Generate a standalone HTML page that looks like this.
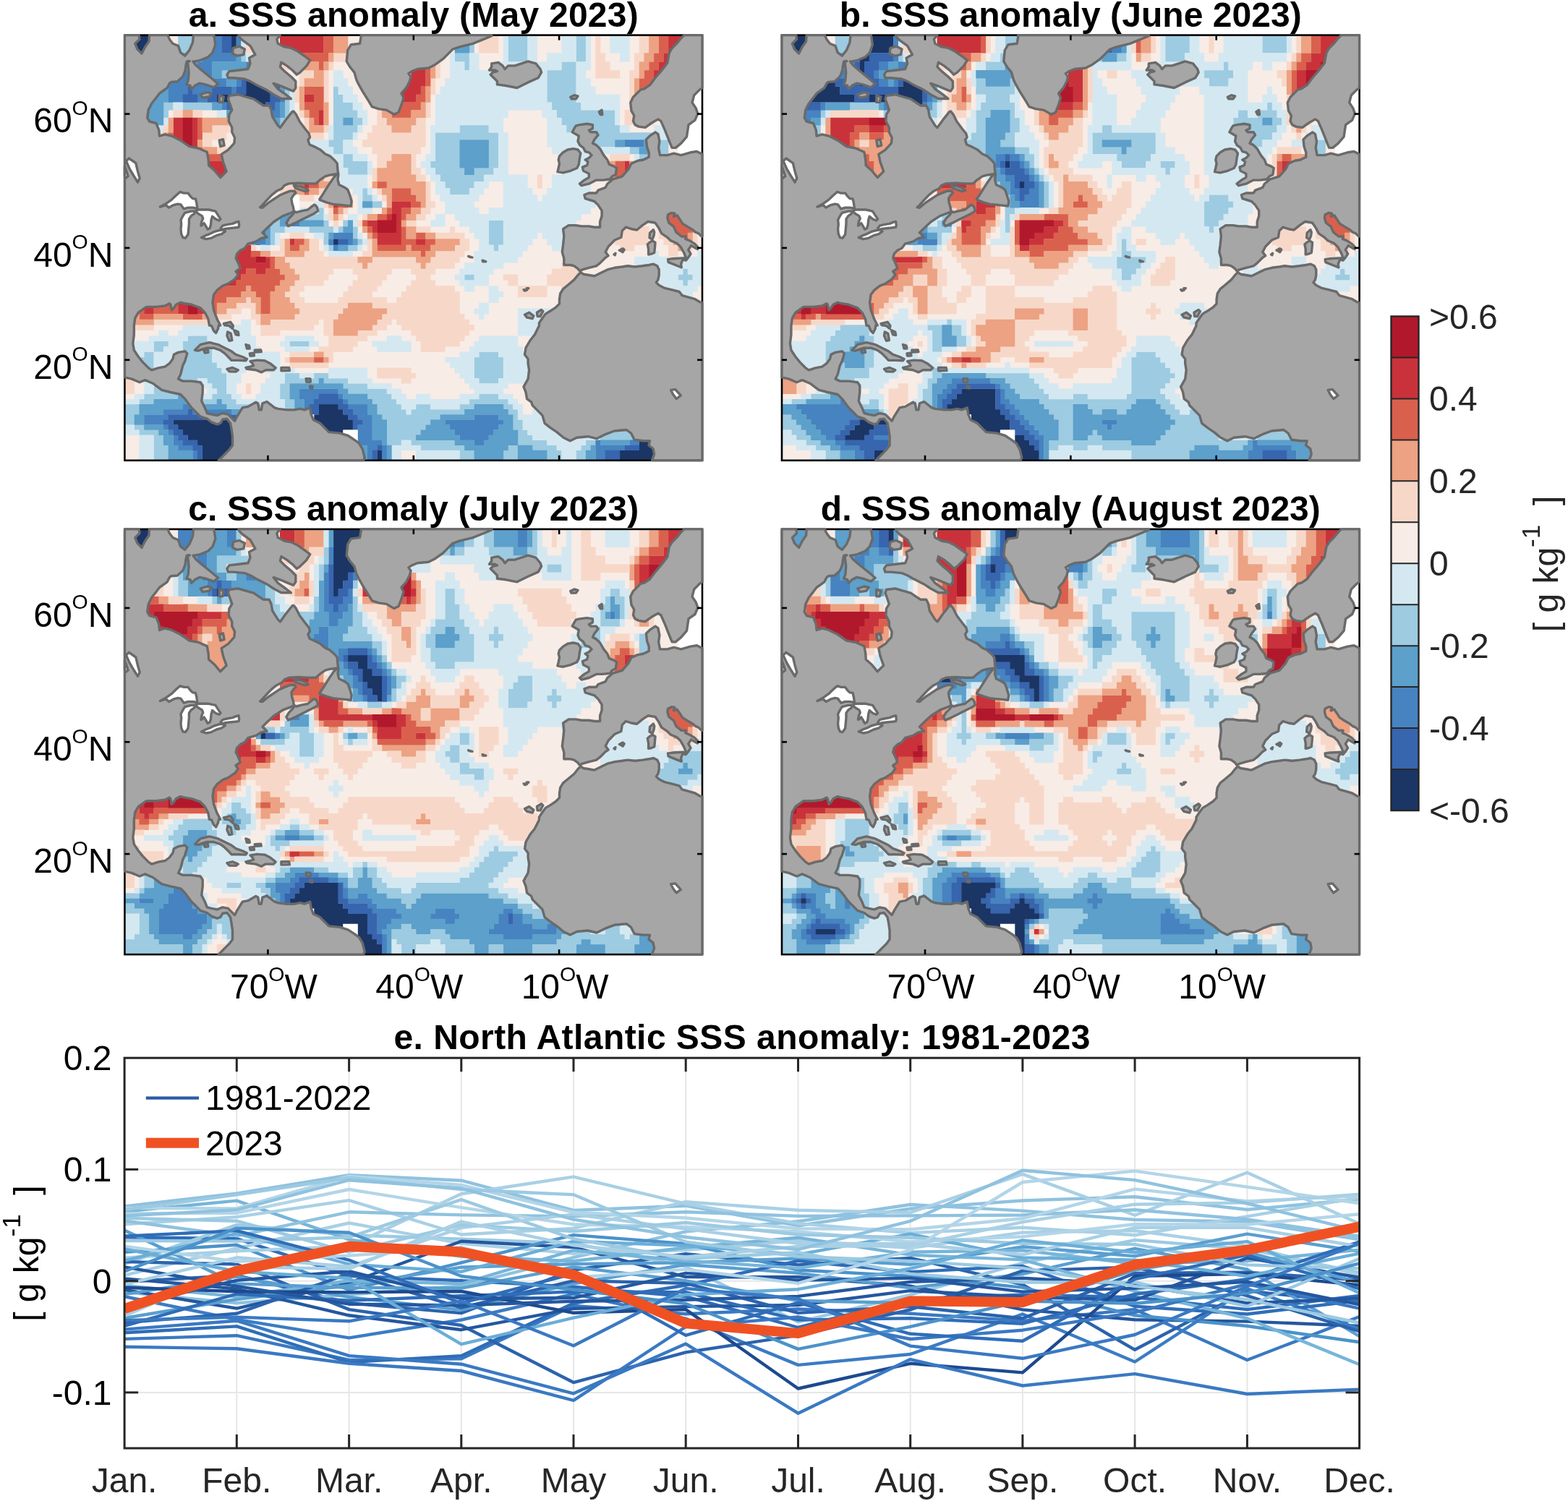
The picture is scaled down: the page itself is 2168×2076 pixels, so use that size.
<!DOCTYPE html><html><head><meta charset="utf-8"><title>North Atlantic SSS anomaly</title><style>html,body{margin:0;padding:0;background:#fff;}svg{display:block;}</style></head><body><svg xmlns="http://www.w3.org/2000/svg" width="2168" height="2076" viewBox="0 0 2168 2076" font-family="'Liberation Sans', Arial, Helvetica, sans-serif"><clipPath id="clipP"><rect x="172.1" y="1463.2" width="1707.5" height="539.8"/></clipPath><clipPath id="clipa"><rect x="172.4" y="48.6" width="798.6" height="588.2"/></clipPath><g clip-path="url(#clipa)"><rect x="172.4" y="48.6" width="798.6" height="588.2" fill="#f8ece6"/><path fill="#1b3565" d="M185.7 48.9h33.8v12.6H185.7zM319.9 48.9h7v12.6H319.9zM185.7 61.2h33.8v12.4H185.7zM319.9 61.2h7v12.4H319.9zM185.7 73.3h33.8v12.2H185.7zM185.7 85.2h33.8v12H185.7zM340.1 96.9h20.4v11.7H340.1zM340.1 108.3h33.8v11.5H340.1zM340.1 119.5h33.8v11.4H340.1zM299.8 130.6h74.1v11.2H299.8zM319.9 141.5h47.3v10.9H319.9zM319.9 152.1h47.3v10.9H319.9zM460.9 330.2h7v8.7H460.9zM440.7 559h27.2v7.4H440.7zM440.7 566.1h33.9v7.5H440.7zM434 573.3h47.3v7.3H434zM239.4 580.3h100.9v7.4H239.4zM434 580.3h54v7.4H434zM246.1 587.4h94.2v7.4H246.1zM434 587.4h54v7.4H434zM252.8 594.5h87.5v7.4H252.8zM427.3 594.5h47.3v7.4H427.3zM259.5 601.6h80.8v7.3H259.5zM272.9 608.6h67.4v7.4H272.9zM883.7 608.6h40.6v7.4H883.7zM279.6 615.7h60.7v7.3H279.6zM883.7 615.7h40.6v7.3H883.7zM279.6 622.7h40.6v7.4H279.6zM521.3 622.7h7v7.4H521.3zM856.9 622.7h67.4v7.4H856.9zM279.6 629.8h40.6v7.3H279.6zM521.3 629.8h7v7.3H521.3zM856.9 629.8h67.4v7.3H856.9z"/><path fill="#9dcbe1" d="M246.1 48.9h33.8v12.6H246.1zM648.8 48.9h7v12.6H648.8zM702.5 48.9h27.1v12.6H702.5zM796.5 48.9h13.7v12.6H796.5zM246.1 61.2h33.8v12.4H246.1zM648.8 61.2h7v12.4H648.8zM702.5 61.2h27.1v12.4H702.5zM796.5 61.2h13.7v12.4H796.5zM333.3 73.3h7v12.2H333.3zM628.7 73.3h20.4v12.2H628.7zM702.5 73.3h27.1v12.2H702.5zM796.5 73.3h13.7v12.2H796.5zM642.1 85.2h7v12H642.1zM776.3 85.2h20.5v12H776.3zM306.5 96.9h13.7v11.7H306.5zM756.2 96.9h40.6v11.7H756.2zM387 108.3h7v11.5H387zM756.2 108.3h40.6v11.5H756.2zM393.7 119.5h7.1v11.4H393.7zM460.9 119.5h7v11.4H460.9zM756.2 119.5h40.6v11.4H756.2zM393.7 130.6h7.1v11.2H393.7zM460.9 130.6h13.7v11.2H460.9zM756.2 130.6h40.6v11.2H756.2zM225.9 141.5h13.8v10.9H225.9zM252.8 141.5h40.6v10.9H252.8zM393.7 141.5h7.1v10.9H393.7zM460.9 141.5h27.1v10.9H460.9zM762.9 141.5h40.6v10.9H762.9zM225.9 152.1h7.1v10.9H225.9zM393.7 152.1h7.1v10.9H393.7zM460.9 152.1h33.8v10.9H460.9zM769.6 152.1h80.9v10.9H769.6zM387 162.7h13.8v10.6H387zM460.9 162.7h13.7v10.6H460.9zM487.7 162.7h13.7v10.6H487.7zM776.3 162.7h74.2v10.6H776.3zM205.8 173h7v10.5H205.8zM387 173h13.8v10.5H387zM460.9 173h33.8v10.5H460.9zM635.4 173h40.5v10.5H635.4zM783 173h74.2v10.5H783zM387 183.2h13.8v10.4H387zM460.9 183.2h27.1v10.4H460.9zM601.8 183.2h87.6v10.4H601.8zM809.9 183.2h94.3v10.4H809.9zM454.2 193.3h20.4v10.2H454.2zM601.8 193.3h33.9v10.2H601.8zM675.6 193.3h13.8v10.2H675.6zM816.6 193.3h33.9v10.2H816.6zM903.9 193.3h20.4v10.2H903.9zM460.9 203.2h13.7v10.1H460.9zM601.8 203.2h33.9v10.1H601.8zM675.6 203.2h13.8v10.1H675.6zM816.6 203.2h13.7v10.1H816.6zM870.3 203.2h13.7v10.1H870.3zM897.1 203.2h27.2v10.1H897.1zM474.3 213h13.7v10H474.3zM601.8 213h33.9v10H601.8zM675.6 213h13.8v10H675.6zM823.3 213h7v10H823.3zM883.7 213h20.5v10H883.7zM474.3 222.7h33.8v9.8H474.3zM595.1 222.7h40.6v9.8H595.1zM675.6 222.7h13.8v9.8H675.6zM481 232.2h27.1v9.7H481zM601.8 232.2h40.6v9.7H601.8zM655.5 232.2h27.2v9.7H655.5zM608.5 241.6h60.7v9.6H608.5zM615.2 250.9h40.6v9.5H615.2zM501.1 260.1h7v9.4H501.1zM622 260.1h27.1v9.4H622zM501.1 269.2h13.8v9.3H501.1zM514.6 278.2h13.7v9.2H514.6zM380.3 287.1h7v9.1H380.3zM440.7 287.1h7v9.1H440.7zM373.6 295.9h13.7v9H373.6zM413.9 295.9h33.8v9H413.9zM366.9 304.6h20.4v8.9H366.9zM447.4 304.6h7.1v8.9H447.4zM474.3 304.6h7v8.9H474.3zM675.6 304.6h20.5v8.9H675.6zM373.6 313.2h20.4v8.9H373.6zM427.3 313.2h33.9v8.9H427.3zM467.6 313.2h7v8.9H467.6zM487.7 313.2h7v8.9H487.7zM675.6 313.2h20.5v8.9H675.6zM373.6 321.8h7v8.7H373.6zM447.4 321.8h7.1v8.7H447.4zM487.7 321.8h7v8.7H487.7zM675.6 321.8h20.5v8.7H675.6zM373.6 330.2h7v8.7H373.6zM447.4 330.2h7.1v8.7H447.4zM494.4 330.2h7v8.7H494.4zM675.6 330.2h20.5v8.7H675.6zM454.2 338.6h7v8.6H454.2zM481 338.6h13.7v8.6H481zM682.4 338.6h7v8.6H682.4zM944.1 371.4h7v8.3H944.1zM642.1 379.4h13.7v8.3H642.1zM937.4 379.4h20.5v8.3H937.4zM944.1 387.4h7v8.2H944.1zM259.5 464.3h27.2v7.8H259.5zM212.5 471.8h20.5v7.7H212.5zM252.8 471.8h40.6v7.7H252.8zM400.5 471.8h27.1v7.7H400.5zM212.5 479.2h13.7v7.7H212.5zM252.8 479.2h40.6v7.7H252.8zM199.1 486.6h13.7v7.7H199.1zM246.1 486.6h47.3v7.7H246.1zM662.2 486.6h27.2v7.7H662.2zM192.4 494h20.4v7.6H192.4zM246.1 494h47.3v7.6H246.1zM655.5 494h40.6v7.6H655.5zM192.4 501.3h20.4v7.6H192.4zM239.4 501.3h60.7v7.6H239.4zM655.5 501.3h40.6v7.6H655.5zM192.4 508.6h20.4v7.6H192.4zM232.7 508.6h74.1v7.6H232.7zM655.5 508.6h40.6v7.6H655.5zM225.9 515.9h87.6v7.5H225.9zM393.7 515.9h20.5v7.5H393.7zM434 515.9h20.5v7.5H434zM655.5 515.9h40.6v7.5H655.5zM212.5 523.1h60.7v7.5H212.5zM286.4 523.1h27.1v7.5H286.4zM393.7 523.1h47.3v7.5H393.7zM447.4 523.1h33.9v7.5H447.4zM662.2 523.1h27.2v7.5H662.2zM212.5 530.3h54v7.5H212.5zM293.1 530.3h20.4v7.5H293.1zM387 530.3h13.8v7.5H387zM474.3 530.3h33.8v7.5H474.3zM212.5 537.5h47.3v7.5H212.5zM299.8 537.5h13.7v7.5H299.8zM387 537.5h13.8v7.5H387zM481 537.5h54v7.5H481zM199.1 544.7h47.3v7.5H199.1zM266.2 544.7h7v7.5H266.2zM293.1 544.7h27.1v7.5H293.1zM387 544.7h13.8v7.5H387zM507.9 544.7h33.8v7.5H507.9zM662.2 544.7h27.2v7.5H662.2zM192.4 551.9h20.4v7.4H192.4zM272.9 551.9h27.2v7.4H272.9zM306.5 551.9h20.4v7.4H306.5zM393.7 551.9h13.8v7.4H393.7zM514.6 551.9h33.8v7.4H514.6zM648.8 551.9h54v7.4H648.8zM172.2 559h20.5v7.4H172.2zM313.2 559h47.3v7.4H313.2zM393.7 559h13.8v7.4H393.7zM521.3 559h33.8v7.4H521.3zM575 559h20.4v7.4H575zM635.4 559h20.4v7.4H635.4zM695.8 559h13.7v7.4H695.8zM172.2 566.1h20.5v7.5H172.2zM340.1 566.1h20.4v7.5H340.1zM393.7 566.1h13.8v7.5H393.7zM521.3 566.1h40.5v7.5H521.3zM568.3 566.1h74.1v7.5H568.3zM702.5 566.1h13.7v7.5H702.5zM172.2 573.3h13.8v7.3H172.2zM340.1 573.3h20.4v7.3H340.1zM393.7 573.3h13.8v7.3H393.7zM528 573.3h80.8v7.3H528zM709.2 573.3h7v7.3H709.2zM172.2 580.3h13.8v7.4H172.2zM534.7 580.3h60.7v7.4H534.7zM709.2 580.3h13.7v7.4H709.2zM185.7 587.4h13.7v7.4H185.7zM534.7 587.4h54v7.4H534.7zM709.2 587.4h13.7v7.4H709.2zM830 587.4h54v7.4H830zM192.4 594.5h27.1v7.4H192.4zM534.7 594.5h47.3v7.4H534.7zM715.9 594.5h13.7v7.4H715.9zM830 594.5h54v7.4H830zM212.5 601.6h13.7v7.3H212.5zM534.7 601.6h40.6v7.3H534.7zM715.9 601.6h20.5v7.3H715.9zM830 601.6h54v7.3H830zM212.5 608.6h13.7v7.4H212.5zM534.7 608.6h20.4v7.4H534.7zM568.3 608.6h60.7v7.4H568.3zM715.9 608.6h40.6v7.4H715.9zM809.9 608.6h13.7v7.4H809.9zM212.5 615.7h20.5v7.3H212.5zM581.7 615.7h60.7v7.3H581.7zM702.5 615.7h13.7v7.3H702.5zM736.1 615.7h33.8v7.3H736.1zM803.2 615.7h13.7v7.3H803.2zM212.5 622.7h20.5v7.4H212.5zM635.4 622.7h20.4v7.4H635.4zM695.8 622.7h20.4v7.4H695.8zM756.2 622.7h20.4v7.4H756.2zM796.5 622.7h13.7v7.4H796.5zM212.5 629.8h20.5v7.3H212.5zM635.4 629.8h20.4v7.3H635.4zM695.8 629.8h20.4v7.3H695.8zM756.2 629.8h20.4v7.3H756.2zM796.5 629.8h13.7v7.3H796.5z"/><path fill="#4683c0" d="M286.4 48.9h20.4v12.6H286.4zM326.6 48.9h7v12.6H326.6zM286.4 61.2h20.4v12.4H286.4zM326.6 61.2h7v12.4H326.6zM279.6 73.3h47.3v12.2H279.6zM272.9 85.2h20.5v12H272.9zM340.1 85.2h20.4v12H340.1zM246.1 96.9h47.3v11.7H246.1zM333.3 96.9h7v11.7H333.3zM232.7 108.3h80.8v11.5H232.7zM326.6 108.3h7v11.5H326.6zM232.7 119.5h27.1v11.4H232.7zM266.2 119.5h27.2v11.4H266.2zM319.9 119.5h7v11.4H319.9zM232.7 130.6h20.4v11.2H232.7zM272.9 130.6h13.8v11.2H272.9zM387 130.6h7v11.2H387zM306.5 141.5h7v10.9H306.5zM380.3 141.5h7v10.9H380.3zM373.6 152.1h13.7v10.9H373.6zM863.6 193.3h27.1v10.2H863.6zM400.5 295.9h7v9H400.5zM400.5 304.6h13.7v8.9H400.5zM346.8 313.2h20.4v8.9H346.8zM346.8 321.8h20.4v8.7H346.8zM460.9 321.8h27.1v8.7H460.9zM346.8 330.2h20.4v8.7H346.8zM454.2 330.2h7v8.7H454.2zM481 330.2h7v8.7H481zM460.9 338.6h7v8.6H460.9zM413.9 537.5h54v7.5H413.9zM259.5 544.7h7v7.5H259.5zM413.9 544.7h27.1v7.5H413.9zM467.6 544.7h7v7.5H467.6zM259.5 551.9h7v7.4H259.5zM420.6 551.9h13.7v7.4H420.6zM474.3 551.9h7v7.4H474.3zM252.8 559h20.4v7.4H252.8zM420.6 559h7v7.4H420.6zM481 559h27.1v7.4H481zM225.9 566.1h33.9v7.5H225.9zM266.2 566.1h54v7.5H266.2zM420.6 566.1h7v7.5H420.6zM487.7 566.1h20.4v7.5H487.7zM199.1 573.3h33.9v7.3H199.1zM326.6 573.3h13.7v7.3H326.6zM494.4 573.3h20.5v7.3H494.4zM655.5 573.3h33.9v7.3H655.5zM199.1 580.3h27.1v7.4H199.1zM501.1 580.3h13.8v7.4H501.1zM615.2 580.3h80.9v7.4H615.2zM225.9 587.4h7.1v7.4H225.9zM494.4 587.4h20.5v7.4H494.4zM622 587.4h67.4v7.4H622zM232.7 594.5h7v7.4H232.7zM494.4 594.5h20.5v7.4H494.4zM628.7 594.5h54v7.4H628.7zM239.4 601.6h7v7.3H239.4zM494.4 601.6h20.5v7.3H494.4zM635.4 601.6h40.5v7.3H635.4zM239.4 608.6h13.7v7.4H239.4zM494.4 608.6h33.9v7.4H494.4zM655.5 608.6h13.7v7.4H655.5zM823.3 608.6h7v7.4H823.3zM870.3 608.6h13.7v7.4H870.3zM246.1 615.7h20.4v7.3H246.1zM507.9 615.7h13.7v7.3H507.9zM528 615.7h7v7.3H528zM823.3 615.7h40.6v7.3H823.3zM266.2 622.7h7v7.4H266.2zM507.9 622.7h7v7.4H507.9zM528 622.7h7v7.4H528zM823.3 622.7h13.7v7.4H823.3zM266.2 629.8h7v7.3H266.2zM507.9 629.8h7v7.3H507.9zM528 629.8h7v7.3H528zM823.3 629.8h13.7v7.3H823.3z"/><path fill="#3765ae" d="M306.5 48.9h13.7v12.6H306.5zM306.5 61.2h13.7v12.4H306.5zM333.3 108.3h7v11.5H333.3zM373.6 108.3h13.7v11.5H373.6zM259.5 119.5h7v11.4H259.5zM293.1 119.5h27.1v11.4H293.1zM326.6 119.5h13.7v11.4H326.6zM373.6 119.5h13.7v11.4H373.6zM252.8 130.6h20.4v11.2H252.8zM286.4 130.6h13.7v11.2H286.4zM373.6 130.6h13.7v11.2H373.6zM313.2 141.5h7v10.9H313.2zM366.9 141.5h13.7v10.9H366.9zM366.9 152.1h7v10.9H366.9zM467.6 330.2h13.7v8.7H467.6zM440.7 544.7h27.2v7.5H440.7zM434 551.9h40.6v7.4H434zM427.3 559h13.7v7.4H427.3zM467.6 559h13.7v7.4H467.6zM259.5 566.1h7v7.5H259.5zM427.3 566.1h13.7v7.5H427.3zM474.3 566.1h13.7v7.5H474.3zM232.7 573.3h94.2v7.3H232.7zM481 573.3h13.7v7.3H481zM225.9 580.3h13.8v7.4H225.9zM487.7 580.3h13.7v7.4H487.7zM232.7 587.4h13.7v7.4H232.7zM487.7 587.4h7v7.4H487.7zM239.4 594.5h13.7v7.4H239.4zM246.1 601.6h13.7v7.3H246.1zM252.8 608.6h20.4v7.4H252.8zM266.2 615.7h13.7v7.3H266.2zM521.3 615.7h7v7.3H521.3zM863.6 615.7h20.4v7.3H863.6zM272.9 622.7h7v7.4H272.9zM514.6 622.7h7v7.4H514.6zM836.7 622.7h20.5v7.4H836.7zM272.9 629.8h7v7.3H272.9zM514.6 629.8h7v7.3H514.6zM836.7 629.8h20.5v7.3H836.7z"/><path fill="#d4e8f1" d="M333.3 48.9h7v12.6H333.3zM695.8 48.9h7v12.6H695.8zM729.3 48.9h13.8v12.6H729.3zM776.3 48.9h20.5v12.6H776.3zM809.9 48.9h7v12.6H809.9zM843.4 48.9h27.2v12.6H843.4zM333.3 61.2h7v12.4H333.3zM695.8 61.2h7v12.4H695.8zM729.3 61.2h13.8v12.4H729.3zM776.3 61.2h20.5v12.4H776.3zM809.9 61.2h7v12.4H809.9zM843.4 61.2h27.2v12.4H843.4zM340.1 73.3h20.4v12.2H340.1zM622 73.3h7v12.2H622zM648.8 73.3h13.7v12.2H648.8zM695.8 73.3h7v12.2H695.8zM729.3 73.3h13.8v12.2H729.3zM756.2 73.3h40.6v12.2H756.2zM809.9 73.3h7v12.2H809.9zM856.9 73.3h13.7v12.2H856.9zM622 85.2h20.4v12H622zM648.8 85.2h13.7v12H648.8zM689.1 85.2h87.5v12H689.1zM796.5 85.2h20.4v12H796.5zM319.9 96.9h7v11.7H319.9zM460.9 96.9h13.7v11.7H460.9zM622 96.9h134.5v11.7H622zM796.5 96.9h13.7v11.7H796.5zM393.7 108.3h7.1v11.5H393.7zM460.9 108.3h20.4v11.5H460.9zM615.2 108.3h141.3v11.5H615.2zM796.5 108.3h20.4v11.5H796.5zM400.5 119.5h7v11.4H400.5zM467.6 119.5h20.4v11.4H467.6zM608.5 119.5h148v11.4H608.5zM796.5 119.5h27.1v11.4H796.5zM400.5 130.6h7v11.2H400.5zM474.3 130.6h20.4v11.2H474.3zM601.8 130.6h154.7v11.2H601.8zM796.5 130.6h60.7v11.2H796.5zM239.4 141.5h13.7v10.9H239.4zM400.5 141.5h7v10.9H400.5zM487.7 141.5h13.7v10.9H487.7zM601.8 141.5h161.4v10.9H601.8zM803.2 141.5h54v10.9H803.2zM299.8 152.1h13.7v10.9H299.8zM400.5 152.1h7v10.9H400.5zM494.4 152.1h13.7v10.9H494.4zM601.8 152.1h101v10.9H601.8zM749.5 152.1h20.4v10.9H749.5zM850.2 152.1h7v10.9H850.2zM225.9 162.7h7.1v10.6H225.9zM400.5 162.7h7v10.6H400.5zM501.1 162.7h7v10.6H501.1zM601.8 162.7h94.3v10.6H601.8zM756.2 162.7h20.4v10.6H756.2zM850.2 162.7h7v10.6H850.2zM212.5 173h13.7v10.5H212.5zM400.5 173h7v10.5H400.5zM454.2 173h7v10.5H454.2zM494.4 173h7v10.5H494.4zM595.1 173h40.6v10.5H595.1zM675.6 173h20.5v10.5H675.6zM756.2 173h27.1v10.5H756.2zM856.9 173h13.7v10.5H856.9zM903.9 173h20.4v10.5H903.9zM205.8 183.2h7v10.4H205.8zM400.5 183.2h7v10.4H400.5zM454.2 183.2h7v10.4H454.2zM487.7 183.2h7v10.4H487.7zM595.1 183.2h7v10.4H595.1zM689.1 183.2h13.7v10.4H689.1zM756.2 183.2h54v10.4H756.2zM903.9 183.2h20.4v10.4H903.9zM427.3 193.3h27.2v10.2H427.3zM474.3 193.3h13.7v10.2H474.3zM595.1 193.3h7v10.2H595.1zM689.1 193.3h13.7v10.2H689.1zM756.2 193.3h60.7v10.2H756.2zM427.3 203.2h33.9v10.1H427.3zM474.3 203.2h20.4v10.1H474.3zM595.1 203.2h7v10.1H595.1zM689.1 203.2h13.7v10.1H689.1zM762.9 203.2h54v10.1H762.9zM830 203.2h40.6v10.1H830zM427.3 213h47.3v10H427.3zM487.7 213h20.4v10H487.7zM588.4 213h13.7v10H588.4zM689.1 213h13.7v10H689.1zM776.3 213h47.3v10H776.3zM877 213h7v10H877zM903.9 213h20.4v10H903.9zM447.4 222.7h27.2v9.8H447.4zM507.9 222.7h7v9.8H507.9zM581.7 222.7h13.7v9.8H581.7zM689.1 222.7h13.7v9.8H689.1zM789.8 222.7h33.8v9.8H789.8zM883.7 222.7h40.6v9.8H883.7zM460.9 232.2h20.4v9.7H460.9zM507.9 232.2h7v9.7H507.9zM588.4 232.2h13.7v9.7H588.4zM682.4 232.2h20.4v9.7H682.4zM776.3 232.2h47.3v9.7H776.3zM883.7 232.2h40.6v9.7H883.7zM460.9 241.6h47.2v9.6H460.9zM595.1 241.6h13.7v9.6H595.1zM668.9 241.6h60.7v9.6H668.9zM762.9 241.6h54v9.6H762.9zM883.7 241.6h40.6v9.6H883.7zM467.6 250.9h40.5v9.5H467.6zM601.8 250.9h13.7v9.5H601.8zM655.5 250.9h20.4v9.5H655.5zM695.8 250.9h33.8v9.5H695.8zM762.9 250.9h54v9.5H762.9zM487.7 260.1h13.7v9.4H487.7zM507.9 260.1h7v9.4H507.9zM601.8 260.1h20.5v9.4H601.8zM648.8 260.1h20.4v9.4H648.8zM695.8 260.1h40.6v9.4H695.8zM756.2 260.1h60.7v9.4H756.2zM494.4 269.2h7v9.3H494.4zM514.6 269.2h7v9.3H514.6zM608.5 269.2h54v9.3H608.5zM695.8 269.2h47.3v9.3H695.8zM749.5 269.2h74.1v9.3H749.5zM434 278.2h13.7v9.2H434zM494.4 278.2h7v9.2H494.4zM615.2 278.2h40.6v9.2H615.2zM695.8 278.2h127.8v9.2H695.8zM373.6 287.1h7v9.1H373.6zM413.9 287.1h27.1v9.1H413.9zM494.4 287.1h20.5v9.1H494.4zM615.2 287.1h47.3v9.1H615.2zM675.6 287.1h141.3v9.1H675.6zM366.9 295.9h7v9H366.9zM447.4 295.9h7.1v9H447.4zM481 295.9h13.7v9H481zM601.8 295.9h13.7v9H601.8zM628.7 295.9h174.8v9H628.7zM487.7 304.6h7v8.9H487.7zM595.1 304.6h20.4v8.9H595.1zM635.4 304.6h40.5v8.9H635.4zM695.8 304.6h101v8.9H695.8zM393.7 313.2h33.9v8.9H393.7zM460.9 313.2h7v8.9H460.9zM648.8 313.2h27.1v8.9H648.8zM695.8 313.2h101v8.9H695.8zM380.3 321.8h7v8.7H380.3zM434 321.8h13.7v8.7H434zM494.4 321.8h7v8.7H494.4zM655.5 321.8h20.4v8.7H655.5zM695.8 321.8h47.3v8.7H695.8zM749.5 321.8h47.3v8.7H749.5zM380.3 330.2h7v8.7H380.3zM501.1 330.2h7v8.7H501.1zM662.2 330.2h13.7v8.7H662.2zM695.8 330.2h40.6v8.7H695.8zM756.2 330.2h27.1v8.7H756.2zM360.2 338.6h13.7v8.6H360.2zM447.4 338.6h7.1v8.6H447.4zM494.4 338.6h7v8.6H494.4zM662.2 338.6h20.5v8.6H662.2zM689.1 338.6h40.5v8.6H689.1zM762.9 338.6h20.4v8.6H762.9zM454.2 346.9h33.8v8.5H454.2zM655.5 346.9h67.4v8.5H655.5zM897.1 346.9h13.8v8.5H897.1zM964.3 346.9h7v8.5H964.3zM655.5 355.1h60.7v8.5H655.5zM877 355.1h47.3v8.5H877zM930.7 355.1h40.6v8.5H930.7zM642.1 363.3h54v8.4H642.1zM877 363.3h94.3v8.4H877zM635.4 371.4h47.3v8.3H635.4zM877 371.4h67.4v8.3H877zM950.8 371.4h20.5v8.3H950.8zM628.7 379.4h13.7v8.3H628.7zM655.5 379.4h20.4v8.3H655.5zM910.6 379.4h27.1v8.3H910.6zM957.6 379.4h13.7v8.3H957.6zM635.4 387.4h40.5v8.2H635.4zM910.6 387.4h33.8v8.2H910.6zM950.8 387.4h20.5v8.2H950.8zM642.1 395.3h13.7v8.2H642.1zM675.6 395.3h13.8v8.2H675.6zM910.6 395.3h54v8.2H910.6zM675.6 403.2h20.5v8.1H675.6zM930.7 403.2h27.2v8.1H930.7zM675.6 411h13.8v8.1H675.6zM930.7 411h27.2v8.1H930.7zM662.2 418.8h13.7v8H662.2zM930.7 418.8h27.2v8H930.7zM655.5 426.5h20.4v7.9H655.5zM715.9 426.5h47.3v7.9H715.9zM662.2 434.1h7v7.9H662.2zM715.9 434.1h47.3v7.9H715.9zM333.3 441.7h13.8v7.9H333.3zM715.9 441.7h47.3v7.9H715.9zM252.8 449.3h94.3v7.8H252.8zM715.9 449.3h27.2v7.8H715.9zM219.2 456.8h13.8v7.8H219.2zM246.1 456.8h101v7.8H246.1zM715.9 456.8h27.2v7.8H715.9zM205.8 464.3h54v7.8H205.8zM286.4 464.3h67.4v7.8H286.4zM393.7 464.3h40.6v7.8H393.7zM534.7 464.3h20.4v7.8H534.7zM662.2 464.3h54v7.8H662.2zM172.2 471.8h40.6v7.7H172.2zM232.7 471.8h20.4v7.7H232.7zM293.1 471.8h60.7v7.7H293.1zM387 471.8h13.8v7.7H387zM427.3 471.8h13.7v7.7H427.3zM514.6 471.8h54v7.7H514.6zM655.5 471.8h60.7v7.7H655.5zM172.2 479.2h40.6v7.7H172.2zM225.9 479.2h27.2v7.7H225.9zM293.1 479.2h67.4v7.7H293.1zM393.7 479.2h33.9v7.7H393.7zM521.3 479.2h47.3v7.7H521.3zM648.8 479.2h74.1v7.7H648.8zM172.2 486.6h27.2v7.7H172.2zM212.5 486.6h33.9v7.7H212.5zM293.1 486.6h94.2v7.7H293.1zM635.4 486.6h27.1v7.7H635.4zM689.1 486.6h54v7.7H689.1zM172.2 494h20.5v7.6H172.2zM212.5 494h27.2v7.6H212.5zM293.1 494h94.2v7.6H293.1zM615.2 494h40.6v7.6H615.2zM695.8 494h47.3v7.6H695.8zM172.2 501.3h20.5v7.6H172.2zM212.5 501.3h27.2v7.6H212.5zM299.8 501.3h87.5v7.6H299.8zM622 501.3h33.8v7.6H622zM695.8 501.3h47.3v7.6H695.8zM172.2 508.6h20.5v7.6H172.2zM212.5 508.6h20.5v7.6H212.5zM306.5 508.6h33.8v7.6H306.5zM366.9 508.6h40.6v7.6H366.9zM454.2 508.6h53.9v7.6H454.2zM628.7 508.6h27.1v7.6H628.7zM695.8 508.6h47.3v7.6H695.8zM313.2 515.9h20.4v7.5H313.2zM373.6 515.9h20.4v7.5H373.6zM413.9 515.9h20.4v7.5H413.9zM454.2 515.9h53.9v7.5H454.2zM635.4 515.9h20.4v7.5H635.4zM695.8 515.9h47.3v7.5H695.8zM199.1 523.1h13.7v7.5H199.1zM272.9 523.1h13.8v7.5H272.9zM313.2 523.1h20.4v7.5H313.2zM366.9 523.1h27.1v7.5H366.9zM481 523.1h33.9v7.5H481zM642.1 523.1h20.4v7.5H642.1zM689.1 523.1h54v7.5H689.1zM199.1 530.3h13.7v7.5H199.1zM266.2 530.3h27.2v7.5H266.2zM313.2 530.3h13.7v7.5H313.2zM360.2 530.3h27.1v7.5H360.2zM507.9 530.3h33.8v7.5H507.9zM648.8 530.3h54v7.5H648.8zM199.1 537.5h13.7v7.5H199.1zM286.4 537.5h13.7v7.5H286.4zM313.2 537.5h13.7v7.5H313.2zM360.2 537.5h27.1v7.5H360.2zM534.7 537.5h20.4v7.5H534.7zM655.5 537.5h40.6v7.5H655.5zM185.7 544.7h13.7v7.5H185.7zM272.9 544.7h20.5v7.5H272.9zM319.9 544.7h13.7v7.5H319.9zM353.5 544.7h33.8v7.5H353.5zM541.4 544.7h20.4v7.5H541.4zM575 544.7h20.4v7.5H575zM635.4 544.7h27.1v7.5H635.4zM689.1 544.7h20.4v7.5H689.1zM172.2 551.9h20.5v7.4H172.2zM326.6 551.9h67.4v7.4H326.6zM548.1 551.9h101v7.4H548.1zM702.5 551.9h13.7v7.4H702.5zM366.9 559h27.1v7.4H366.9zM554.8 559h20.5v7.4H554.8zM595.1 559h40.6v7.4H595.1zM709.2 559h13.7v7.4H709.2zM366.9 566.1h27.1v7.5H366.9zM561.5 566.1h7.1v7.5H561.5zM715.9 566.1h7v7.5H715.9zM736.1 566.1h27.1v7.5H736.1zM366.9 573.3h27.1v7.3H366.9zM715.9 573.3h47.3v7.3H715.9zM722.6 580.3h40.6v7.4H722.6zM172.2 587.4h13.8v7.4H172.2zM722.6 587.4h101v7.4H722.6zM172.2 594.5h20.5v7.4H172.2zM729.3 594.5h94.3v7.4H729.3zM192.4 601.6h20.4v7.3H192.4zM736.1 601.6h87.5v7.3H736.1zM192.4 608.6h20.4v7.4H192.4zM554.8 608.6h13.8v7.4H554.8zM756.2 608.6h54v7.4H756.2zM192.4 615.7h20.4v7.3H192.4zM541.4 615.7h40.6v7.3H541.4zM769.6 615.7h33.9v7.3H769.6zM192.4 622.7h20.4v7.4H192.4zM541.4 622.7h13.7v7.4H541.4zM575 622.7h60.7v7.4H575zM776.3 622.7h20.5v7.4H776.3zM192.4 629.8h20.4v7.3H192.4zM541.4 629.8h13.7v7.3H541.4zM575 629.8h60.7v7.3H575zM776.3 629.8h20.5v7.3H776.3z"/><path fill="#f7d8c8" d="M340.1 48.9h20.4v12.6H340.1zM662.2 48.9h27.2v12.6H662.2zM823.3 48.9h7v12.6H823.3zM883.7 48.9h13.7v12.6H883.7zM340.1 61.2h20.4v12.4H340.1zM662.2 61.2h27.2v12.4H662.2zM823.3 61.2h7v12.4H823.3zM883.7 61.2h13.7v12.4H883.7zM460.9 73.3h20.4v12.2H460.9zM601.8 73.3h7v12.2H601.8zM823.3 73.3h13.7v12.2H823.3zM877 73.3h13.7v12.2H877zM387 85.2h20.5v12H387zM454.2 85.2h7v12H454.2zM601.8 85.2h7v12H601.8zM823.3 85.2h20.4v12H823.3zM877 85.2h7v12H877zM413.9 96.9h20.4v11.7H413.9zM447.4 96.9h7.1v11.7H447.4zM601.8 96.9h7v11.7H601.8zM823.3 96.9h33.9v11.7H823.3zM870.3 96.9h13.7v11.7H870.3zM413.9 108.3h7v11.5H413.9zM447.4 108.3h7.1v11.5H447.4zM595.1 108.3h7v11.5H595.1zM870.3 108.3h7v11.5H870.3zM407.2 119.5h7v11.4H407.2zM447.4 119.5h7.1v11.4H447.4zM595.1 119.5h7v11.4H595.1zM870.3 119.5h7v11.4H870.3zM407.2 130.6h7v11.2H407.2zM447.4 130.6h7.1v11.2H447.4zM870.3 130.6h7v11.2H870.3zM521.3 141.5h7v10.9H521.3zM588.4 141.5h7v10.9H588.4zM870.3 141.5h7v10.9H870.3zM239.4 152.1h13.7v10.9H239.4zM266.2 152.1h13.7v10.9H266.2zM413.9 152.1h7v10.9H413.9zM521.3 152.1h7v10.9H521.3zM588.4 152.1h7v10.9H588.4zM863.6 152.1h13.7v10.9H863.6zM897.1 152.1h7.1v10.9H897.1zM420.6 162.7h7v10.6H420.6zM521.3 162.7h13.7v10.6H521.3zM575 162.7h13.7v10.6H575zM863.6 162.7h13.7v10.6H863.6zM890.4 162.7h13.8v10.6H890.4zM225.9 173h7.1v10.5H225.9zM293.1 173h27.1v10.5H293.1zM420.6 173h7v10.5H420.6zM447.4 173h7.1v10.5H447.4zM514.6 173h27.1v10.5H514.6zM568.3 173h20.4v10.5H568.3zM219.2 183.2h7v10.4H219.2zM279.6 183.2h33.9v10.4H279.6zM420.6 183.2h27.1v10.4H420.6zM507.9 183.2h80.8v10.4H507.9zM279.6 193.3h13.8v10.2H279.6zM501.1 193.3h87.6v10.2H501.1zM299.8 203.2h20.4v10.1H299.8zM514.6 203.2h67.4v10.1H514.6zM521.3 213h20.4v10H521.3zM568.3 213h7v10H568.3zM843.4 213h27.2v10H843.4zM521.3 222.7h13.7v9.8H521.3zM568.3 222.7h7v9.8H568.3zM877 222.7h7v9.8H877zM387 232.2h20.5v9.7H387zM447.4 232.2h7.1v9.7H447.4zM514.6 232.2h7v9.7H514.6zM568.3 232.2h13.7v9.7H568.3zM830 232.2h7v9.7H830zM877 232.2h7v9.7H877zM387 241.6h20.5v9.6H387zM447.4 241.6h13.8v9.6H447.4zM514.6 241.6h7v9.6H514.6zM575 241.6h13.7v9.6H575zM742.8 241.6h7v9.6H742.8zM836.7 241.6h7v9.6H836.7zM877 241.6h7v9.6H877zM387 250.9h20.5v9.5H387zM588.4 250.9h7v9.5H588.4zM742.8 250.9h7v9.5H742.8zM387 260.1h20.5v9.4H387zM440.7 260.1h13.8v9.4H440.7zM474.3 260.1h7v9.4H474.3zM521.3 260.1h7v9.4H521.3zM588.4 260.1h7v9.4H588.4zM387 269.2h7v9.3H387zM413.9 269.2h20.4v9.3H413.9zM447.4 269.2h7.1v9.3H447.4zM481 269.2h7v9.3H481zM528 269.2h7v9.3H528zM588.4 269.2h7v9.3H588.4zM447.4 278.2h7.1v9.2H447.4zM588.4 278.2h13.7v9.2H588.4zM454.2 287.1h7v9.1H454.2zM474.3 287.1h7v9.1H474.3zM581.7 287.1h13.7v9.1H581.7zM454.2 295.9h7v9H454.2zM467.6 295.9h7v9H467.6zM501.1 295.9h7v9H501.1zM575 295.9h13.7v9H575zM460.9 304.6h7v8.9H460.9zM494.4 304.6h7v8.9H494.4zM561.5 304.6h13.8v8.9H561.5zM575 313.2h20.4v8.9H575zM622 313.2h7v8.9H622zM850.2 313.2h47.2v8.9H850.2zM910.6 313.2h7v8.9H910.6zM400.5 321.8h20.4v8.7H400.5zM601.8 321.8h40.6v8.7H601.8zM850.2 321.8h47.2v8.7H850.2zM910.6 321.8h13.7v8.7H910.6zM957.6 321.8h7v8.7H957.6zM387 330.2h7v8.7H387zM427.3 330.2h13.7v8.7H427.3zM507.9 330.2h7v8.7H507.9zM635.4 330.2h13.7v8.7H635.4zM850.2 330.2h47.2v8.7H850.2zM917.3 330.2h13.7v8.7H917.3zM957.6 330.2h7v8.7H957.6zM346.8 338.6h7v8.6H346.8zM387 338.6h7v8.6H387zM427.3 338.6h13.7v8.6H427.3zM507.9 338.6h7v8.6H507.9zM628.7 338.6h20.4v8.6H628.7zM856.9 338.6h20.4v8.6H856.9zM924 338.6h13.7v8.6H924zM950.8 338.6h7.1v8.6H950.8zM373.6 346.9h20.4v8.5H373.6zM420.6 346.9h27.1v8.5H420.6zM501.1 346.9h13.8v8.5H501.1zM601.8 346.9h40.6v8.5H601.8zM924 346.9h13.7v8.5H924zM393.7 355.1h101v8.5H393.7zM514.6 355.1h60.7v8.5H514.6zM595.1 355.1h40.6v8.5H595.1zM400.5 363.3h100.9v8.4H400.5zM507.9 363.3h74.1v8.4H507.9zM588.4 363.3h40.6v8.4H588.4zM776.3 363.3h27.2v8.4H776.3zM407.2 371.4h54v8.3H407.2zM487.7 371.4h54v8.3H487.7zM568.3 371.4h33.8v8.3H568.3zM762.9 371.4h40.6v8.3H762.9zM413.9 379.4h40.6v8.3H413.9zM494.4 379.4h40.6v8.3H494.4zM575 379.4h20.4v8.3H575zM695.8 379.4h20.4v8.3H695.8zM756.2 379.4h47.3v8.3H756.2zM407.2 387.4h40.5v8.2H407.2zM487.7 387.4h40.6v8.2H487.7zM568.3 387.4h33.8v8.2H568.3zM702.5 387.4h13.7v8.2H702.5zM756.2 387.4h47.3v8.2H756.2zM400.5 395.3h20.4v8.2H400.5zM481 395.3h40.6v8.2H481zM561.5 395.3h67.5v8.2H561.5zM715.9 395.3h40.6v8.2H715.9zM776.3 395.3h27.2v8.2H776.3zM393.7 403.2h20.5v8.1H393.7zM474.3 403.2h40.6v8.1H474.3zM554.8 403.2h80.9v8.1H554.8zM715.9 403.2h40.6v8.1H715.9zM340.1 411h7v8.1H340.1zM400.5 411h20.4v8.1H400.5zM467.6 411h67.4v8.1H467.6zM548.1 411h87.6v8.1H548.1zM326.6 418.8h27.2v8H326.6zM407.2 418.8h74.1v8H407.2zM514.6 418.8h121.1v8H514.6zM313.2 426.5h20.4v7.9H313.2zM346.8 426.5h7v7.9H346.8zM413.9 426.5h60.7v7.9H413.9zM534.7 426.5h101v7.9H534.7zM293.1 434.1h27.1v7.9H293.1zM346.8 434.1h13.7v7.9H346.8zM407.2 434.1h60.7v7.9H407.2zM528 434.1h114.4v7.9H528zM172.2 441.7h13.8v7.9H172.2zM212.5 441.7h74.2v7.9H212.5zM353.5 441.7h7v7.9H353.5zM373.6 441.7h67.4v7.9H373.6zM447.4 441.7h13.8v7.9H447.4zM521.3 441.7h20.4v7.9H521.3zM548.1 441.7h101v7.9H548.1zM172.2 449.3h40.6v7.8H172.2zM360.2 449.3h74.1v7.8H360.2zM447.4 449.3h13.8v7.8H447.4zM514.6 449.3h20.4v7.8H514.6zM554.8 449.3h101v7.8H554.8zM360.2 456.8h27.1v7.8H360.2zM447.4 456.8h13.8v7.8H447.4zM494.4 456.8h27.2v7.8H494.4zM568.3 456.8h80.8v7.8H568.3zM454.2 464.3h53.9v7.8H454.2zM575 464.3h67.4v7.8H575zM454.2 471.8h40.5v7.7H454.2zM581.7 471.8h54v7.7H581.7zM440.7 479.2h47.3v7.7H440.7zM581.7 479.2h33.8v7.7H581.7zM400.5 486.6h33.8v7.7H400.5zM447.4 486.6h13.8v7.7H447.4zM393.7 494h7.1v7.6H393.7zM454.2 494h7v7.6H454.2zM400.5 501.3h54v7.6H400.5zM521.3 508.6h47.3v7.6H521.3zM521.3 515.9h54v7.5H521.3zM172.2 523.1h13.8v7.5H172.2zM554.8 523.1h13.8v7.5H554.8zM172.2 530.3h13.8v7.5H172.2zM340.1 530.3h7v7.5H340.1zM172.2 537.5h13.8v7.5H172.2zM340.1 537.5h7v7.5H340.1z"/><path fill="#c9323b" d="M387 48.9h60.7v12.6H387zM924 48.9h40.6v12.6H924zM387 61.2h60.7v12.4H387zM924 61.2h40.6v12.4H924zM568.3 73.3h20.4v12.2H568.3zM917.3 73.3h47.3v12.2H917.3zM568.3 85.2h20.4v12H568.3zM910.6 85.2h13.7v12H910.6zM937.4 85.2h27.2v12H937.4zM568.3 96.9h20.4v11.7H568.3zM903.9 96.9h13.7v11.7H903.9zM528 108.3h60.7v11.5H528zM903.9 108.3h13.7v11.5H903.9zM528 119.5h54v11.4H528zM897.1 119.5h20.5v11.4H897.1zM420.6 130.6h13.7v11.2H420.6zM528 130.6h47.3v11.2H528zM883.7 130.6h20.5v11.2H883.7zM440.7 152.1h7v10.9H440.7zM239.4 162.7h13.7v10.6H239.4zM266.2 162.7h7v10.6H266.2zM440.7 162.7h7v10.6H440.7zM239.4 173h13.7v10.5H239.4zM266.2 173h7v10.5H266.2zM239.4 183.2h13.7v10.4H239.4zM266.2 183.2h7v10.4H266.2zM232.7 193.3h20.4v10.2H232.7zM266.2 193.3h7v10.2H266.2zM232.7 203.2h20.4v10.1H232.7zM266.2 203.2h7v10.1H266.2zM232.7 213h20.4v10H232.7zM266.2 213h7v10H266.2zM266.2 222.7h54v9.8H266.2zM863.6 222.7h7v9.8H863.6zM266.2 232.2h54v9.7H266.2zM420.6 232.2h7v9.7H420.6zM863.6 232.2h7v9.7H863.6zM266.2 241.6h54v9.6H266.2zM420.6 241.6h7v9.6H420.6zM863.6 241.6h7v9.6H863.6zM420.6 250.9h7v9.5H420.6zM460.9 260.1h7v9.4H460.9zM460.9 269.2h7v9.3H460.9zM460.9 278.2h7v9.2H460.9zM541.4 278.2h27.2v9.2H541.4zM541.4 287.1h13.7v9.1H541.4zM534.7 295.9h7v9H534.7zM548.1 295.9h7v9H548.1zM507.9 304.6h13.7v8.9H507.9zM548.1 304.6h7v8.9H548.1zM514.6 313.2h7v8.9H514.6zM548.1 313.2h7v8.9H548.1zM521.3 321.8h33.8v8.7H521.3zM400.5 330.2h7v8.7H400.5zM521.3 330.2h33.8v8.7H521.3zM575 330.2h13.7v8.7H575zM326.6 338.6h20.5v8.6H326.6zM326.6 346.9h20.5v8.5H326.6zM326.6 355.1h27.2v8.5H326.6zM366.9 355.1h7v8.5H366.9zM306.5 363.3h67.4v8.4H306.5zM306.5 371.4h33.8v8.3H306.5zM353.5 371.4h13.7v8.3H353.5zM306.5 379.4h27.1v8.3H306.5zM313.2 387.4h13.7v8.2H313.2zM199.1 411h13.7v8.1H199.1zM246.1 411h13.7v8.1H246.1zM272.9 411h13.8v8.1H272.9zM199.1 418.8h13.7v8H199.1zM246.1 418.8h13.7v8H246.1zM272.9 418.8h13.8v8H272.9zM199.1 426.5h13.7v7.9H199.1zM246.1 426.5h13.7v7.9H246.1zM272.9 426.5h13.8v7.9H272.9z"/><path fill="#da604e" d="M447.4 48.9h13.8v12.6H447.4zM910.6 48.9h13.7v12.6H910.6zM447.4 61.2h13.8v12.4H447.4zM910.6 61.2h13.7v12.4H910.6zM387 73.3h67.5v12.2H387zM588.4 73.3h7v12.2H588.4zM903.9 73.3h13.7v12.2H903.9zM440.7 85.2h7v12H440.7zM588.4 85.2h7v12H588.4zM897.1 85.2h13.8v12H897.1zM588.4 96.9h7v11.7H588.4zM890.4 96.9h13.8v11.7H890.4zM588.4 108.3h7v11.5H588.4zM883.7 108.3h20.5v11.5H883.7zM420.6 119.5h27.1v11.4H420.6zM581.7 119.5h7v11.4H581.7zM883.7 119.5h13.7v11.4H883.7zM434 130.6h13.7v11.2H434zM575 130.6h13.7v11.2H575zM877 130.6h7v11.2H877zM420.6 141.5h27.1v10.9H420.6zM534.7 141.5h47.3v10.9H534.7zM883.7 141.5h13.7v10.9H883.7zM427.3 152.1h13.7v10.9H427.3zM541.4 152.1h27.2v10.9H541.4zM883.7 152.1h7v10.9H883.7zM272.9 162.7h7v10.6H272.9zM434 162.7h7v10.6H434zM272.9 173h7v10.5H272.9zM232.7 183.2h7v10.4H232.7zM272.9 183.2h7v10.4H272.9zM205.8 193.3h27.2v10.2H205.8zM205.8 203.2h27.2v10.1H205.8zM272.9 203.2h7v10.1H272.9zM205.8 213h27.2v10H205.8zM272.9 213h33.9v10H272.9zM850.2 222.7h13.7v9.8H850.2zM413.9 232.2h7v9.7H413.9zM427.3 232.2h13.7v9.7H427.3zM850.2 232.2h13.7v9.7H850.2zM413.9 241.6h7v9.6H413.9zM427.3 241.6h13.7v9.6H427.3zM850.2 241.6h13.7v9.6H850.2zM413.9 250.9h7v9.5H413.9zM427.3 250.9h13.7v9.5H427.3zM521.3 250.9h13.7v9.5H521.3zM420.6 260.1h7v9.4H420.6zM541.4 260.1h27.2v9.4H541.4zM467.6 269.2h7v9.3H467.6zM541.4 269.2h33.9v9.3H541.4zM467.6 278.2h13.7v9.2H467.6zM568.3 278.2h13.7v9.2H568.3zM460.9 287.1h7v9.1H460.9zM534.7 287.1h7v9.1H534.7zM554.8 287.1h13.8v9.1H554.8zM910.6 287.1h54v9.1H910.6zM521.3 295.9h13.7v9H521.3zM554.8 295.9h7v9H554.8zM910.6 295.9h54v9H910.6zM501.1 304.6h7v8.9H501.1zM910.6 304.6h54v8.9H910.6zM507.9 313.2h7v8.9H507.9zM554.8 313.2h7v8.9H554.8zM930.7 313.2h27.2v8.9H930.7zM514.6 321.8h7v8.7H514.6zM554.8 321.8h7v8.7H554.8zM575 321.8h13.7v8.7H575zM937.4 321.8h13.7v8.7H937.4zM407.2 330.2h13.7v8.7H407.2zM554.8 330.2h20.5v8.7H554.8zM588.4 330.2h13.7v8.7H588.4zM944.1 330.2h7v8.7H944.1zM400.5 338.6h13.7v8.6H400.5zM521.3 338.6h40.5v8.6H521.3zM568.3 338.6h27.1v8.6H568.3zM346.8 346.9h13.7v8.5H346.8zM581.7 346.9h7v8.5H581.7zM373.6 355.1h7v8.5H373.6zM373.6 363.3h7v8.4H373.6zM340.1 371.4h13.7v8.3H340.1zM366.9 371.4h20.4v8.3H366.9zM333.3 379.4h60.7v8.3H333.3zM286.4 387.4h27.1v8.2H286.4zM326.6 387.4h60.7v8.2H326.6zM286.4 395.3h53.9v8.2H286.4zM346.8 395.3h33.8v8.2H346.8zM286.4 403.2h47.2v8.1H286.4zM353.5 403.2h20.4v8.1H353.5zM185.7 411h13.7v8.1H185.7zM212.5 411h33.9v8.1H212.5zM286.4 411h27.1v8.1H286.4zM360.2 411h13.7v8.1H360.2zM185.7 418.8h13.7v8H185.7zM212.5 418.8h33.9v8H212.5zM286.4 418.8h13.7v8H286.4zM360.2 418.8h13.7v8H360.2zM185.7 426.5h13.7v7.9H185.7zM212.5 426.5h33.9v7.9H212.5zM286.4 426.5h13.7v7.9H286.4zM360.2 426.5h13.7v7.9H360.2zM192.4 434.1h20.4v7.9H192.4zM252.8 434.1h27.1v7.9H252.8zM434 494h13.7v7.6H434z"/><path fill="#eca283" d="M460.9 48.9h20.4v12.6H460.9zM897.1 48.9h13.8v12.6H897.1zM460.9 61.2h20.4v12.4H460.9zM897.1 61.2h13.8v12.4H897.1zM454.2 73.3h7v12.2H454.2zM595.1 73.3h7v12.2H595.1zM890.4 73.3h13.8v12.2H890.4zM407.2 85.2h33.8v12H407.2zM447.4 85.2h7.1v12H447.4zM595.1 85.2h7v12H595.1zM883.7 85.2h13.7v12H883.7zM434 96.9h13.7v11.7H434zM595.1 96.9h7v11.7H595.1zM883.7 96.9h7v11.7H883.7zM420.6 108.3h27.1v11.5H420.6zM877 108.3h7v11.5H877zM413.9 119.5h7v11.4H413.9zM588.4 119.5h7v11.4H588.4zM877 119.5h7v11.4H877zM413.9 130.6h7v11.2H413.9zM588.4 130.6h7v11.2H588.4zM413.9 141.5h7v10.9H413.9zM447.4 141.5h7.1v10.9H447.4zM528 141.5h7v10.9H528zM581.7 141.5h7v10.9H581.7zM877 141.5h7v10.9H877zM897.1 141.5h7.1v10.9H897.1zM252.8 152.1h13.7v10.9H252.8zM420.6 152.1h7v10.9H420.6zM447.4 152.1h7.1v10.9H447.4zM528 152.1h13.7v10.9H528zM568.3 152.1h20.4v10.9H568.3zM877 152.1h7v10.9H877zM890.4 152.1h7v10.9H890.4zM232.7 162.7h7v10.6H232.7zM279.6 162.7h40.6v10.6H279.6zM427.3 162.7h7v10.6H427.3zM447.4 162.7h7.1v10.6H447.4zM534.7 162.7h40.6v10.6H534.7zM877 162.7h13.7v10.6H877zM232.7 173h7v10.5H232.7zM279.6 173h13.8v10.5H279.6zM427.3 173h20.4v10.5H427.3zM541.4 173h27.2v10.5H541.4zM225.9 183.2h7.1v10.4H225.9zM272.9 193.3h7v10.2H272.9zM279.6 203.2h20.5v10.1H279.6zM306.5 213h13.7v10H306.5zM541.4 213h27.2v10H541.4zM534.7 222.7h33.9v9.8H534.7zM830 222.7h20.5v9.8H830zM870.3 222.7h7v9.8H870.3zM407.2 232.2h7v9.7H407.2zM440.7 232.2h7v9.7H440.7zM521.3 232.2h47.3v9.7H521.3zM836.7 232.2h13.8v9.7H836.7zM870.3 232.2h7v9.7H870.3zM407.2 241.6h7v9.6H407.2zM440.7 241.6h7v9.6H440.7zM521.3 241.6h54v9.6H521.3zM843.4 241.6h7.1v9.6H843.4zM870.3 241.6h7v9.6H870.3zM407.2 250.9h7v9.5H407.2zM440.7 250.9h20.5v9.5H440.7zM514.6 250.9h7v9.5H514.6zM534.7 250.9h54v9.5H534.7zM407.2 260.1h13.7v9.4H407.2zM427.3 260.1h13.7v9.4H427.3zM454.2 260.1h7v9.4H454.2zM467.6 260.1h7v9.4H467.6zM528 260.1h13.7v9.4H528zM568.3 260.1h20.4v9.4H568.3zM454.2 269.2h7v9.3H454.2zM474.3 269.2h7v9.3H474.3zM534.7 269.2h7v9.3H534.7zM575 269.2h13.7v9.3H575zM454.2 278.2h7v9.2H454.2zM481 278.2h7v9.2H481zM534.7 278.2h7v9.2H534.7zM581.7 278.2h7v9.2H581.7zM467.6 287.1h7v9.1H467.6zM528 287.1h7v9.1H528zM568.3 287.1h13.7v9.1H568.3zM460.9 295.9h7v9H460.9zM507.9 295.9h13.7v9H507.9zM561.5 295.9h13.8v9H561.5zM554.8 304.6h7v8.9H554.8zM501.1 313.2h7v8.9H501.1zM561.5 313.2h13.8v8.9H561.5zM917.3 313.2h13.7v8.9H917.3zM957.6 313.2h7v8.9H957.6zM507.9 321.8h7v8.7H507.9zM561.5 321.8h13.8v8.7H561.5zM588.4 321.8h13.7v8.7H588.4zM924 321.8h13.7v8.7H924zM950.8 321.8h7.1v8.7H950.8zM393.7 330.2h7.1v8.7H393.7zM420.6 330.2h7v8.7H420.6zM514.6 330.2h7v8.7H514.6zM601.8 330.2h33.9v8.7H601.8zM930.7 330.2h13.7v8.7H930.7zM950.8 330.2h7.1v8.7H950.8zM393.7 338.6h7.1v8.6H393.7zM413.9 338.6h13.7v8.6H413.9zM514.6 338.6h7v8.6H514.6zM561.5 338.6h7.1v8.6H561.5zM595.1 338.6h33.9v8.6H595.1zM937.4 338.6h13.7v8.6H937.4zM360.2 346.9h13.7v8.5H360.2zM393.7 346.9h27.2v8.5H393.7zM514.6 346.9h67.4v8.5H514.6zM588.4 346.9h13.7v8.5H588.4zM380.3 355.1h13.7v8.5H380.3zM494.4 355.1h20.5v8.5H494.4zM575 355.1h20.4v8.5H575zM380.3 363.3h20.5v8.4H380.3zM501.1 363.3h7v8.4H501.1zM581.7 363.3h7v8.4H581.7zM387 371.4h20.5v8.3H387zM393.7 379.4h20.5v8.3H393.7zM387 387.4h20.5v8.2H387zM340.1 395.3h7v8.2H340.1zM380.3 395.3h20.5v8.2H380.3zM333.3 403.2h20.5v8.1H333.3zM373.6 403.2h20.4v8.1H373.6zM172.2 411h13.8v8.1H172.2zM313.2 411h27.1v8.1H313.2zM346.8 411h13.7v8.1H346.8zM373.6 411h27.2v8.1H373.6zM172.2 418.8h13.8v8H172.2zM299.8 418.8h27.1v8H299.8zM353.5 418.8h7v8H353.5zM373.6 418.8h33.9v8H373.6zM481 418.8h33.9v8H481zM172.2 426.5h13.8v7.9H172.2zM299.8 426.5h13.7v7.9H299.8zM353.5 426.5h7v7.9H353.5zM373.6 426.5h40.6v7.9H373.6zM474.3 426.5h60.7v7.9H474.3zM172.2 434.1h20.5v7.9H172.2zM212.5 434.1h40.6v7.9H212.5zM279.6 434.1h13.8v7.9H279.6zM360.2 434.1h47.3v7.9H360.2zM467.6 434.1h60.7v7.9H467.6zM185.7 441.7h27.1v7.9H185.7zM360.2 441.7h13.7v7.9H360.2zM460.9 441.7h60.7v7.9H460.9zM460.9 449.3h54v7.8H460.9zM460.9 456.8h33.8v7.8H460.9zM434 486.6h13.7v7.7H434zM400.5 494h33.8v7.6H400.5zM447.4 494h7.1v7.6H447.4z"/><path fill="#5ca0cb" d="M628.7 48.9h20.4v12.6H628.7zM628.7 61.2h20.4v12.4H628.7zM246.1 73.3h33.8v12.2H246.1zM326.6 73.3h7v12.2H326.6zM246.1 85.2h27.1v12H246.1zM293.1 85.2h47.2v12H293.1zM293.1 96.9h13.7v11.7H293.1zM326.6 96.9h7v11.7H326.6zM205.8 108.3h27.2v11.5H205.8zM313.2 108.3h13.7v11.5H313.2zM205.8 119.5h27.2v11.4H205.8zM387 119.5h7v11.4H387zM205.8 130.6h27.2v11.2H205.8zM185.7 141.5h40.5v10.9H185.7zM293.1 141.5h13.7v10.9H293.1zM387 141.5h7v10.9H387zM185.7 152.1h40.5v10.9H185.7zM313.2 152.1h7v10.9H313.2zM387 152.1h7v10.9H387zM185.7 162.7h40.5v10.6H185.7zM366.9 162.7h20.4v10.6H366.9zM474.3 162.7h13.7v10.6H474.3zM185.7 173h20.4v10.5H185.7zM366.9 173h20.4v10.5H366.9zM185.7 183.2h20.4v10.4H185.7zM366.9 183.2h20.4v10.4H366.9zM635.4 193.3h40.5v10.2H635.4zM850.2 193.3h13.7v10.2H850.2zM890.4 193.3h13.8v10.2H890.4zM635.4 203.2h40.5v10.1H635.4zM883.7 203.2h13.7v10.1H883.7zM635.4 213h40.5v10H635.4zM635.4 222.7h40.5v9.8H635.4zM642.1 232.2h13.7v9.7H642.1zM501.1 278.2h13.8v9.2H501.1zM387 287.1h7v9.1H387zM387 295.9h13.8v9H387zM407.2 295.9h7v9H407.2zM387 304.6h13.8v8.9H387zM413.9 304.6h33.8v8.9H413.9zM481 304.6h7v8.9H481zM366.9 313.2h7v8.9H366.9zM474.3 313.2h13.7v8.9H474.3zM366.9 321.8h7v8.7H366.9zM454.2 321.8h7v8.7H454.2zM366.9 330.2h7v8.7H366.9zM487.7 330.2h7v8.7H487.7zM467.6 338.6h13.7v8.6H467.6zM440.7 523.1h7v7.5H440.7zM400.5 530.3h74.1v7.5H400.5zM400.5 537.5h13.7v7.5H400.5zM467.6 537.5h13.7v7.5H467.6zM246.1 544.7h13.7v7.5H246.1zM400.5 544.7h13.7v7.5H400.5zM474.3 544.7h33.8v7.5H474.3zM212.5 551.9h47.3v7.4H212.5zM266.2 551.9h7v7.4H266.2zM299.8 551.9h7v7.4H299.8zM407.2 551.9h13.7v7.4H407.2zM481 551.9h33.9v7.4H481zM192.4 559h60.7v7.4H192.4zM272.9 559h40.6v7.4H272.9zM407.2 559h13.7v7.4H407.2zM507.9 559h13.7v7.4H507.9zM655.5 559h40.6v7.4H655.5zM192.4 566.1h33.8v7.5H192.4zM319.9 566.1h20.4v7.5H319.9zM407.2 566.1h13.7v7.5H407.2zM507.9 566.1h13.7v7.5H507.9zM642.1 566.1h60.7v7.5H642.1zM185.7 573.3h13.7v7.3H185.7zM407.2 573.3h7v7.3H407.2zM514.6 573.3h13.7v7.3H514.6zM608.5 573.3h47.3v7.3H608.5zM689.1 573.3h20.4v7.3H689.1zM185.7 580.3h13.7v7.4H185.7zM514.6 580.3h20.4v7.4H514.6zM595.1 580.3h20.4v7.4H595.1zM695.8 580.3h13.7v7.4H695.8zM199.1 587.4h27.1v7.4H199.1zM514.6 587.4h20.4v7.4H514.6zM588.4 587.4h33.9v7.4H588.4zM689.1 587.4h20.4v7.4H689.1zM219.2 594.5h13.8v7.4H219.2zM514.6 594.5h20.4v7.4H514.6zM581.7 594.5h47.3v7.4H581.7zM682.4 594.5h33.8v7.4H682.4zM225.9 601.6h13.8v7.3H225.9zM514.6 601.6h20.4v7.3H514.6zM575 601.6h60.7v7.3H575zM675.6 601.6h40.6v7.3H675.6zM225.9 608.6h13.8v7.4H225.9zM528 608.6h7v7.4H528zM628.7 608.6h27.1v7.4H628.7zM668.9 608.6h47.3v7.4H668.9zM830 608.6h40.6v7.4H830zM232.7 615.7h13.7v7.3H232.7zM487.7 615.7h20.4v7.3H487.7zM534.7 615.7h7v7.3H534.7zM642.1 615.7h60.7v7.3H642.1zM715.9 615.7h20.5v7.3H715.9zM816.6 615.7h7v7.3H816.6zM232.7 622.7h33.8v7.4H232.7zM487.7 622.7h20.4v7.4H487.7zM534.7 622.7h7v7.4H534.7zM655.5 622.7h40.6v7.4H655.5zM715.9 622.7h40.6v7.4H715.9zM809.9 622.7h13.7v7.4H809.9zM232.7 629.8h33.8v7.3H232.7zM487.7 629.8h20.4v7.3H487.7zM534.7 629.8h7v7.3H534.7zM655.5 629.8h40.6v7.3H655.5zM715.9 629.8h40.6v7.3H715.9zM809.9 629.8h13.7v7.3H809.9z"/><path fill="#b2182b" d="M924 85.2h13.7v12H924zM917.3 96.9h27.1v11.7H917.3zM917.3 108.3h27.1v11.5H917.3zM917.3 119.5h20.4v11.4H917.3zM252.8 162.7h13.7v10.6H252.8zM252.8 173h13.7v10.5H252.8zM252.8 183.2h13.7v10.4H252.8zM252.8 193.3h13.7v10.2H252.8zM252.8 203.2h13.7v10.1H252.8zM252.8 213h13.7v10H252.8zM541.4 295.9h7v9H541.4zM521.3 304.6h27.1v8.9H521.3zM521.3 313.2h27.1v8.9H521.3zM353.5 355.1h13.7v8.5H353.5zM259.5 411h13.7v8.1H259.5zM259.5 418.8h13.7v8H259.5zM259.5 426.5h13.7v7.9H259.5z"/><path fill="#ffffff" d="M937.4 119.5h33.9v11.4H937.4zM937.4 130.6h33.9v11.2H937.4zM937.4 141.5h33.9v10.9H937.4zM937.4 152.1h33.9v10.9H937.4zM937.4 162.7h33.9v10.6H937.4zM937.4 173h33.9v10.5H937.4zM937.4 183.2h33.9v10.4H937.4zM937.4 193.3h33.9v10.2H937.4zM937.4 203.2h33.9v10.1H937.4zM937.4 213h33.9v10H937.4zM937.4 222.7h33.9v9.8H937.4zM937.4 232.2h33.9v9.7H937.4zM393.7 269.2h20.5v9.3H393.7zM393.7 278.2h20.5v9.2H393.7zM393.7 287.1h20.5v9.1H393.7zM413.9 573.3h20.4v7.3H413.9zM413.9 580.3h20.4v7.4H413.9zM413.9 587.4h20.4v7.4H413.9zM474.3 594.5h20.4v7.4H474.3zM474.3 601.6h20.4v7.3H474.3zM474.3 608.6h20.4v7.4H474.3z"/></g><rect x="172.4" y="48.6" width="798.6" height="588.2" fill="none" stroke="#000" stroke-width="2.6"/><g transform="translate(0.0 0.0)"><path d="M322.3 66.4 321.5 74.1 327.7 77.1 336.8 75.6 338.4 68.0 330.7 64.1ZM264.7 123.2 269.6 118.3 276.1 115.1 284.3 116.8 295.7 120.8 301.5 115.9 294.9 110.2 285.9 102.9 277.8 96.3 270.4 89.8 267.0 85.0 268.0 85.1 277.1 83.3 287.9 78.7 294.0 72.6 297.8 61.8 295.8 48.6 267.5 48.6 266.4 58.8 261.8 69.5 255.7 77.1 249.6 72.6 246.5 63.4 238.9 60.3 234.3 54.2 231.9 48.6 206.5 48.6 206.0 57.2 200.6 64.9 196.0 74.1 189.9 68.0 186.8 60.3 193.0 54.2 192.2 48.6 172.4 48.6 172.4 521.9 182.2 524.1 193.0 528.7 200.6 525.6 211.3 530.2 223.6 539.4 235.8 542.5 249.6 545.5 255.7 551.6 264.9 563.9 271.0 570.0 277.1 576.1 286.3 579.2 292.5 583.8 300.1 586.8 304.7 585.3 307.8 580.0 313.9 579.2 318.5 585.3 320.0 593.0 321.5 603.7 321.5 615.9 316.9 622.1 307.8 631.2 302.2 636.8 502.7 636.8 502.7 636.1 504.2 633.1 502.7 626.9 501.1 620.8 496.5 613.2 490.4 608.6 481.2 602.5 470.0 599.1 454.7 597.6 448.6 591.4 442.5 585.3 433.3 580.7 430.2 573.1 428.7 563.9 421.0 566.9 414.9 565.4 407.3 566.9 396.5 566.9 384.3 565.4 379.7 563.9 369.0 555.5 362.9 557.8 361.3 566.9 358.3 566.9 356.7 557.8 353.7 556.2 343.0 562.4 335.3 563.9 327.7 576.1 324.6 582.3 315.4 573.1 307.8 571.5 300.1 574.6 292.5 573.1 286.3 571.5 283.3 563.9 278.7 554.7 280.2 542.5 280.2 533.3 277.1 528.7 264.9 527.1 252.7 527.1 246.5 524.1 249.6 518.0 252.7 505.7 255.7 499.6 258.8 488.9 255.7 485.8 246.5 487.4 240.4 490.4 238.9 496.5 234.3 502.7 228.2 507.2 219.0 508.8 209.8 511.8 205.2 508.8 197.6 501.1 191.4 493.5 185.3 484.3 183.8 475.1 185.3 462.9 185.3 450.6 186.8 439.9 191.4 432.2 202.1 424.6 203.7 424.4 215.9 424.4 228.2 422.9 234.3 419.8 235.8 421.3 237.4 429.0 240.4 425.9 243.5 421.3 249.6 418.3 255.7 419.8 264.9 421.3 277.1 425.9 283.3 432.1 287.9 441.2 289.4 450.0 292.5 450.6 295.5 457.5 298.6 460.6 301.6 454.4 302.4 450.0 304.7 450.0 300.1 441.2 295.5 429.0 294.0 418.3 295.5 407.6 300.1 401.4 307.8 395.3 315.4 392.3 324.6 386.1 329.2 380.0 326.1 375.4 332.3 370.8 329.2 363.2 326.1 357.0 327.7 350.9 332.3 346.3 338.4 343.3 343.0 337.1 353.7 334.1 361.3 329.5 369.0 328.0 365.9 324.9 362.9 321.8 369.0 315.7 378.6 306.7 390.7 298.9 402.0 294.5 407.1 292.3 406.3 291.9 405.5 286.7 403.7 280.7 402.9 274.6 405.5 270.3 408.9 266.8 407.2 264.2 401.1 264.2 394.2 266.8 386.4 270.3 378.6 275.5 370.8 280.7 363.0 287.2 359.5 286.7 361.2 285.4 368.2 277.6 375.1 270.3 382.0 264.6 389.8 260.7 393.3 256.4 399.4 253.9 412.4 253.1 425.4 253.9 436.7 253.9 442.7 248.6 449.7 243.8 455.8 242.1 465.3 240.8 463.6 243.4 461.8 245.1 455.8 253.8 451.4 260.7 447.1 267.6 441.9 275.5 442.0 276.4 451.4 279.8 460.1 282.4 468.8 283.3 477.4 284.1 485.2 285.0 486.1 278.1 483.5 269.4 480.9 262.4 477.4 259.8 468.8 255.5 467.0 248.6 467.9 240.8 467.0 236.4 466.2 226.0 462.7 221.7 455.8 215.6 449.7 213.0 442.7 206.9 434.1 202.6 428.0 200.0 425.9 193.8 428.5 189.9 427.2 184.8 422.1 178.5 414.4 168.3 409.3 158.1 406.0 154.0 404.2 154.4 395.0 165.9 387.4 176.6 384.3 173.6 376.6 161.3 375.1 152.1 372.1 146.0 364.4 146.0 359.8 143.0 350.6 136.8 339.9 133.8 329.2 130.7 316.9 132.2 315.4 136.8 317.7 143.0 320.8 152.1 316.9 158.3 316.2 167.5 320.8 176.6 320.8 182.8 324.6 190.4 323.8 198.1 315.4 207.3 306.2 213.4 308.5 224.1 313.1 237.1 304.7 245.5 297.0 236.3 288.6 228.7 288.2 221.0 286.3 210.3 274.1 205.0 261.8 202.7 249.6 194.2 237.4 188.1 228.2 185.8 220.5 188.1 219.7 179.7 215.9 170.5 206.7 168.2 203.7 162.9 205.2 152.1 209.8 143.0 215.9 135.3 220.5 129.2 231.2 121.5 234.3 115.4 236.9 113.4 245.2 112.7 251.6 107.0 253.4 104.7 256.2 97.0 256.9 90.9 258.2 85.1 260.3 84.5 262.3 84.7 259.4 85.1 260.3 92.3 261.1 100.4 260.3 111.0 258.0 116.8 263.1 118.3ZM330.7 51.1 335.3 55.7 346.0 63.4 352.9 75.6 344.5 80.2 346.0 87.9 343.0 95.5 330.7 97.0 316.9 98.6 313.9 103.2 315.4 107.8 323.1 107.8 338.4 109.3 346.0 112.4 353.7 116.9 369.0 124.6 378.2 130.7 388.9 136.5 399.6 136.5 402.4 136.6 395.0 130.7 384.3 123.1 378.2 115.4 387.4 118.5 398.1 123.1 405.7 126.1 408.8 121.5 408.8 112.4 402.7 106.2 393.5 98.6 387.4 92.5 388.9 86.3 396.5 90.9 404.2 97.0 410.3 103.2 414.9 100.1 424.1 90.9 428.7 83.3 422.6 78.7 411.8 71.0 402.7 66.4 393.5 64.9 384.3 60.3 382.8 54.2 387.3 48.6 330.0 48.6ZM280.2 135.3 289.4 133.8 292.5 129.2 286.3 127.7 277.1 130.7ZM309.3 133.8 303.2 132.2 303.2 141.4 307.8 141.4ZM308.5 192.7 303.2 194.2 304.7 202.7 310.1 201.1ZM309.3 447.6 310.8 449.8 316.9 450.6 321.5 454.4 322.3 450.6 318.5 445.3ZM330.0 463.6 329.2 459.0 323.8 456.7 326.1 462.9ZM316.9 471.3 320.8 470.5 319.2 461.3 314.7 459.0 313.9 464.4ZM344.5 478.2 339.9 476.6 341.4 482.0 345.3 482.0ZM287.9 487.4 287.1 483.5 281.7 484.3 283.3 488.1ZM310.8 488.9 316.9 495.0 320.0 498.4 329.2 498.4 339.9 498.8 341.4 496.5 335.3 493.5 326.1 490.4 320.0 485.8 310.8 481.2 301.6 476.6 289.4 473.6 277.1 476.6 269.5 484.3 274.1 485.1 280.2 482.8 286.3 481.2 295.5 481.2 304.7 484.3ZM351.4 491.9 350.6 488.1 345.3 488.9 346.0 492.2ZM326.1 514.1 329.2 511.8 321.5 508.5 313.9 510.3 316.9 513.7ZM489.9 100.1 493.0 110.8 496.0 116.9 502.1 127.7 509.8 139.9 514.4 147.6 523.6 150.6 534.3 152.1 545.0 158.3 551.1 155.2 555.7 143.0 558.0 135.3 555.0 129.2 561.8 121.5 566.4 112.4 568.0 106.2 564.9 101.6 569.5 98.6 577.1 95.5 592.5 94.0 601.6 89.4 612.4 81.7 618.5 75.6 626.1 68.0 635.3 64.9 653.7 60.3 669.0 54.2 679.7 49.6 679.9 48.6 499.1 48.6 499.1 51.1 497.6 60.3 485.3 61.8 480.7 69.5 479.2 84.8 483.8 92.5ZM678.2 103.2 681.2 106.2 687.4 112.4 687.4 116.9 699.6 118.5 714.9 121.5 730.2 113.9 744.0 107.8 748.6 100.1 747.1 95.5 740.9 87.9 730.2 84.8 721.0 87.9 711.8 90.9 702.7 90.9 698.1 95.5 695.0 90.9 688.9 86.3 679.7 87.9 679.7 92.5 676.6 97.0 684.3 97.0 687.4 98.6 681.2 100.1ZM406.3 256.4 408.1 259.8 415.0 262.4 421.9 264.6 426.3 263.3 421.1 259.8 413.3 257.2ZM434.1 295.4 439.7 291.9 438.4 286.7 435.9 283.6 434.1 283.3 429.7 286.7 425.4 290.2 416.7 291.9 409.8 293.7 407.6 292.6 404.6 297.1 399.4 302.3 395.9 308.4 398.5 312.7 408.1 308.4 416.7 304.1 425.4 299.7ZM647.6 354.5 649.0 355.3 653.0 356.1ZM667.7 361.8 671.8 361.8 667.1 360.2ZM729.5 399.8 730.8 398.6 728.2 398.6ZM724.1 400.6 725.5 402.2 728.2 401.4ZM361.3 486.6 360.6 484.0 352.2 484.3 352.9 487.0ZM353.7 511.8 361.3 514.9 367.5 511.8 378.2 511.8 381.2 508.8 373.6 502.7 365.9 498.8 355.2 498.1 346.0 499.6 349.1 502.7 350.6 505.7 346.0 507.2 339.9 508.5 341.4 510.3ZM399.6 508.5 388.9 508.5 388.9 512.8 400.4 512.6ZM429.2 528.2 429.2 524.4 428.7 524.3 428.7 523.8 425.8 524.0 423.1 523.6 423.8 528.2ZM431.7 537.1 432.1 534.5 428.7 534.0 428.7 536.6ZM922.7 87.1 913.8 98.6 906.1 107.5 898.5 117.7 890.8 122.8 885.7 124.1 875.5 134.3 871.7 141.9 873.0 153.4 876.8 159.8 875.5 167.4 878.1 172.6 883.2 175.1 892.1 176.4 901.0 170.0 909.9 164.9 913.8 167.4 918.9 178.9 924.0 191.7 926.5 198.1 929.1 204.4 934.2 204.4 941.8 198.1 949.5 189.1 952.0 172.6 961.0 166.2 964.8 157.2 962.2 149.6 957.1 141.9 959.7 131.7 967.3 124.1 971.0 121.6 971.0 48.6 945.7 48.6 945.7 48.8 941.8 52.7 935.5 60.3 929.1 66.7 925.3 73.1ZM796.4 136.8 799.0 133.0 793.9 131.7 788.8 134.3 790.1 136.8ZM832.1 152.1 828.3 154.7 830.2 158.5 832.8 158.5ZM806.6 204.4 809.2 209.5 814.3 210.8 818.1 214.6 814.3 218.5 809.2 221.0 813.0 223.6 811.7 228.7 805.4 231.2 806.6 236.3 814.3 240.2 814.3 245.3 807.9 249.1 801.5 254.2 804.1 256.7 814.3 254.2 824.5 249.1 833.4 249.1 843.6 247.8 846.2 244.0 851.3 241.4 852.6 232.5 848.7 229.9 842.3 227.4 839.8 221.0 834.7 214.6 829.6 205.7 824.5 200.6 819.4 198.1 821.9 193.0 827.0 186.6 824.5 182.8 816.8 182.8 814.3 180.2 819.4 177.7 819.4 172.6 811.7 171.3 801.5 172.6 796.4 173.8 793.9 177.7 791.3 182.8 800.3 187.9 799.0 195.5 801.5 200.6ZM788.8 236.3 797.7 232.5 800.3 227.4 801.5 218.5 802.8 212.1 799.0 207.0 792.6 205.7 784.9 207.0 778.6 210.8 773.5 215.9 772.2 221.0 773.5 226.1 772.2 232.5 770.9 237.6 778.6 238.9ZM922.7 214.6 912.5 214.6 910.6 204.4 911.9 195.5 909.9 185.3 906.1 182.8 898.5 187.9 893.4 193.0 894.6 203.2 897.2 210.8 897.2 217.2 889.5 221.0 881.9 222.3 873.0 226.1 869.1 233.8 860.2 244.0 847.4 247.9 839.8 254.2 837.2 259.3 827.0 263.2 824.5 267.0 814.3 267.0 807.9 269.5 809.2 274.6 821.9 278.5 827.0 283.6 832.1 291.2 832.1 298.9 829.6 306.5 829.6 314.2 821.9 314.2 814.3 312.9 804.1 312.9 796.4 311.6 786.2 311.6 778.6 316.7 779.8 326.9 778.6 338.4 777.3 348.6 779.8 357.6 779.8 366.5 788.8 366.5 793.9 367.8 799.0 371.6 801.5 374.8 805.4 372.9 814.3 370.3 824.5 367.8 829.6 363.9 837.2 356.3 841.1 353.7 837.2 348.6 841.1 341.0 850.0 332.0 858.9 328.2 860.2 319.3 865.3 314.2 873.0 316.7 880.6 318.0 888.3 311.6 895.9 306.5 903.6 307.8 906.0 308.2 910.7 315.1 914.7 322.8 922.1 327.8 927.5 332.9 935.6 336.2 940.9 341.2 945.6 349.5 948.3 356.1 945.6 359.4 948.3 360.2 951.7 356.1 955.0 351.2 951.7 345.4 955.7 339.6 961.1 342.9 964.4 344.6 964.4 341.2 960.4 337.1 953.7 332.9 947.6 330.4 948.3 327.0 942.3 327.0 934.9 321.1 931.5 313.4 924.8 308.2 922.8 301.3 923.5 296.9 928.8 294.3 932.9 295.2 931.5 299.5 936.2 297.8 940.3 303.9 943.6 309.1 950.3 313.4 957.7 317.7 961.7 321.1 965.8 322.8 969.1 326.1 971.0 326.9 971.0 213.3 963.5 209.5 954.6 210.8 941.8 214.6 931.6 212.1ZM898.6 321.9 898.0 328.7 902.0 331.2 904.0 326.1 904.7 321.1 903.3 317.7ZM905.4 342.9 906.0 335.4 902.0 332.9 898.0 335.4 895.3 337.9 896.6 344.6 896.6 352.0 900.7 351.2 904.7 349.5ZM858.4 347.0 861.1 348.7 863.1 345.4 861.1 343.7 856.4 346.2ZM850.3 352.8 851.0 350.3 849.0 352.0ZM923.5 358.6 924.1 362.6 936.2 367.5 942.3 369.9 941.6 365.1 945.0 356.9 930.2 357.7ZM743.1 437.6 746.9 437.6 750.8 430.7 748.5 428.4 742.4 432.2ZM736.2 440.7 737.8 436.8 731.6 432.2 725.5 435.3 728.6 439.1ZM929.1 400.9 918.9 398.4 911.2 394.5 907.4 390.7 909.9 386.9 911.2 380.5 911.2 372.9 908.7 367.8 903.6 365.2 897.2 366.5 888.3 367.8 878.1 369.0 867.9 367.8 860.2 369.0 850.0 370.3 839.8 372.9 832.1 376.7 821.9 381.8 814.3 380.5 806.6 379.2 802.8 376.7 799.0 380.5 793.9 386.9 784.9 394.5 778.6 399.6 774.7 406.0 773.5 413.7 773.5 420.1 768.4 425.2 760.7 430.3 754.3 434.1 750.5 439.2 745.4 446.8 745.4 450.6 739.3 462.9 733.2 470.5 727.0 481.2 725.5 490.4 730.1 496.5 730.1 502.7 731.6 511.8 730.1 524.1 724.0 534.8 727.0 542.5 728.6 551.6 734.7 556.2 736.2 560.8 742.4 566.9 750.0 574.6 753.1 585.3 760.7 591.4 769.9 597.6 779.1 605.2 788.3 609.8 797.5 605.2 812.8 603.7 825.0 606.7 837.3 600.6 849.5 596.0 866.3 594.5 872.5 599.1 877.1 608.3 889.3 609.8 898.5 609.8 897.0 615.9 903.1 620.5 904.6 628.2 901.5 636.7 901.5 636.8 971.0 636.8 971.0 418.7 967.3 417.5 961.0 413.7 952.0 411.1 943.1 408.6 939.3 403.5Z" fill="#a6a6a6" stroke="#6a6a6a" stroke-width="3.4" stroke-linejoin="round" fill-rule="evenodd"/><path d="M190.5 252.0 193.2 246.5 190.5 237.1 187.8 225.7 178.4 219.0 174.4 222.8 179.1 233.3 185.2 243.7ZM174.4 235.2 172.4 230.2 172.4 242.7 173.7 246.5 177.1 243.7ZM245.7 282.1 250.0 282.9 251.4 285.0 254.3 288.9 260.0 287.1 267.1 287.1 272.9 288.6 271.8 280.7 270.4 275.0 266.4 274.6 263.2 271.4 260.0 267.1 254.3 267.1 248.9 265.4 242.9 270.7 237.1 276.4 230.0 281.4 221.4 286.1 229.3 283.6 233.6 287.1 240.0 283.6ZM278.6 307.1 277.9 312.1 279.3 311.4 282.1 308.6 284.3 312.1 287.1 317.1 290.0 315.7 291.4 311.4 292.1 304.3 293.6 299.3 297.9 302.9 302.9 305.0 305.0 302.9 302.1 298.6 297.9 292.1 288.6 290.0 278.6 290.0 274.3 290.0 270.0 292.1 274.3 295.7 279.3 298.6 280.7 302.1ZM252.9 328.6 256.4 329.3 260.0 324.3 260.7 317.1 261.4 309.3 261.4 302.9 264.3 298.6 268.6 295.7 270.0 292.1 264.3 292.1 255.7 294.3 252.9 298.6 250.0 304.3 250.7 310.0 250.0 317.1 250.7 323.6ZM324.3 315.0 330.0 314.3 330.7 311.4 330.0 306.4 327.1 307.1 321.4 309.3 313.6 310.7 307.9 312.1 305.0 315.7 306.4 317.9 311.4 316.4 317.1 315.7ZM306.4 323.6 311.4 320.0 310.0 317.9 302.9 318.6 295.7 320.7 290.0 323.6 284.3 325.7 278.6 328.6 285.0 330.7 292.1 329.3 299.3 325.7ZM933.7 538.6 927.6 539.4 930.6 545.5 935.2 551.6 941.3 547.0Z" fill="#fff" stroke="#6a6a6a" stroke-width="3.4" stroke-linejoin="round"/></g><line x1="370.4" y1="636.8" x2="370.4" y2="629.8" stroke="#000" stroke-width="2.6"/><line x1="370.4" y1="48.6" x2="370.4" y2="55.6" stroke="#000" stroke-width="2.6"/><line x1="571.8" y1="636.8" x2="571.8" y2="629.8" stroke="#000" stroke-width="2.6"/><line x1="571.8" y1="48.6" x2="571.8" y2="55.6" stroke="#000" stroke-width="2.6"/><line x1="773.1" y1="636.8" x2="773.1" y2="629.8" stroke="#000" stroke-width="2.6"/><line x1="773.1" y1="48.6" x2="773.1" y2="55.6" stroke="#000" stroke-width="2.6"/><line x1="172.4" y1="497.8" x2="179.4" y2="497.8" stroke="#000" stroke-width="2.6"/><line x1="971.0" y1="497.8" x2="964.0" y2="497.8" stroke="#000" stroke-width="2.6"/><line x1="172.4" y1="342.9" x2="179.4" y2="342.9" stroke="#000" stroke-width="2.6"/><line x1="971.0" y1="342.9" x2="964.0" y2="342.9" stroke="#000" stroke-width="2.6"/><line x1="172.4" y1="157.6" x2="179.4" y2="157.6" stroke="#000" stroke-width="2.6"/><line x1="971.0" y1="157.6" x2="964.0" y2="157.6" stroke="#000" stroke-width="2.6"/><text x="571.7" y="36.5" text-anchor="middle" font-weight="bold" font-size="48" textLength="622" lengthAdjust="spacing">a. SSS anomaly (May 2023)</text><text x="46.2" y="523.5" font-size="48">20<tspan font-size="28.5" dy="-24.3">O</tspan><tspan dy="24.3">N</tspan></text><text x="46.2" y="368.6" font-size="48">40<tspan font-size="28.5" dy="-24.3">O</tspan><tspan dy="24.3">N</tspan></text><text x="46.2" y="183.3" font-size="48">60<tspan font-size="28.5" dy="-24.3">O</tspan><tspan dy="24.3">N</tspan></text><clipPath id="clipb"><rect x="1081.0" y="48.6" width="798.6" height="588.2"/></clipPath><g clip-path="url(#clipb)"><rect x="1081.0" y="48.6" width="798.6" height="588.2" fill="#f8ece6"/><path fill="#1b3565" d="M1094.3 48.9h33.8v12.6H1094.3zM1195 48.9h40.5v12.6H1195zM1094.3 61.2h33.8v12.4H1094.3zM1195 61.2h40.5v12.4H1195zM1094.3 73.3h33.8v12.2H1094.3zM1188.2 73.3h13.8v12.2H1188.2zM1094.3 85.2h33.8v12H1094.3zM1188.2 85.2h7.1v12H1188.2zM1188.2 96.9h7.1v11.7H1188.2zM1248.6 96.9h20.5v11.7H1248.6zM1114.4 108.3h40.6v11.5H1114.4zM1188.2 108.3h7.1v11.5H1188.2zM1248.6 108.3h27.2v11.5H1248.6zM1114.4 119.5h47.3v11.4H1114.4zM1241.9 119.5h33.9v11.4H1241.9zM1114.4 130.6h67.4v11.2H1114.4zM1201.7 130.6h74.1v11.2H1201.7zM1228.5 141.5h47.3v10.9H1228.5zM1228.5 152.1h47.3v10.9H1228.5zM1389.6 222.7h7v9.8H1389.6zM1409.7 250.9h7.1v9.5H1409.7zM1329.2 537.5h47.3v7.5H1329.2zM1322.5 544.7h54v7.5H1322.5zM1315.8 551.9h60.7v7.4H1315.8zM1309.1 559h67.4v7.4H1309.1zM1309.1 566.1h74.1v7.5H1309.1zM1309.1 573.3h13.7v7.3H1309.1zM1342.6 573.3h47.3v7.3H1342.6zM1188.2 580.3h40.6v7.4H1188.2zM1342.6 580.3h54v7.4H1342.6zM1181.5 587.4h27.2v7.4H1181.5zM1342.6 587.4h54v7.4H1342.6zM1174.8 594.5h27.2v7.4H1174.8zM1335.9 594.5h47.3v7.4H1335.9zM1168.1 601.6h27.2v7.3H1168.1zM1403 601.6h13.8v7.3H1403zM1403 608.6h20.5v7.4H1403zM1396.3 615.7h33.9v7.3H1396.3zM1208.4 622.7h20.4v7.4H1208.4zM1396.3 622.7h40.6v7.4H1396.3zM1208.4 629.8h20.4v7.3H1208.4zM1396.3 629.8h40.6v7.3H1396.3z"/><path fill="#9dcbe1" d="M1154.7 48.9h33.8v12.6H1154.7zM1389.6 48.9h20.4v12.6H1389.6zM1611.1 48.9h33.9v12.6H1611.1zM1745.3 48.9h33.9v12.6H1745.3zM1154.7 61.2h33.8v12.4H1154.7zM1389.6 61.2h20.4v12.4H1389.6zM1611.1 61.2h33.9v12.4H1611.1zM1745.3 61.2h33.9v12.4H1745.3zM1241.9 73.3h7.1v12.2H1241.9zM1382.9 73.3h27.1v12.2H1382.9zM1517.1 73.3h7v12.2H1517.1zM1544 73.3h13.7v12.2H1544zM1611.1 73.3h27.1v12.2H1611.1zM1362.8 85.2h27.1v12H1362.8zM1691.6 85.2h7.1v12H1691.6zM1228.5 96.9h7v11.7H1228.5zM1664.8 96.9h40.6v11.7H1664.8zM1349.3 108.3h13.8v11.5H1349.3zM1396.3 108.3h13.7v11.5H1396.3zM1671.5 108.3h27.2v11.5H1671.5zM1349.3 119.5h54v11.4H1349.3zM1295.6 130.6h7v11.2H1295.6zM1362.8 130.6h33.8v11.2H1362.8zM1174.8 141.5h40.6v10.9H1174.8zM1288.9 141.5h7v10.9H1288.9zM1356 141.5h47.3v10.9H1356zM1752 141.5h7.1v10.9H1752zM1134.5 152.1h7.1v10.9H1134.5zM1221.8 152.1h7v10.9H1221.8zM1282.2 152.1h13.7v10.9H1282.2zM1349.3 152.1h20.5v10.9H1349.3zM1396.3 152.1h7v10.9H1396.3zM1711.8 152.1h13.7v10.9H1711.8zM1738.6 152.1h27.2v10.9H1738.6zM1349.3 162.7h13.8v10.6H1349.3zM1396.3 162.7h13.7v10.6H1396.3zM1705.1 162.7h40.5v10.6H1705.1zM1758.8 162.7h13.7v10.6H1758.8zM1127.8 173h7v10.5H1127.8zM1349.3 173h13.8v10.5H1349.3zM1396.3 173h13.7v10.5H1396.3zM1523.8 173h13.8v10.5H1523.8zM1711.8 173h54v10.5H1711.8zM1121.1 183.2h13.7v10.4H1121.1zM1342.6 183.2h20.5v10.4H1342.6zM1389.6 183.2h13.7v10.4H1389.6zM1510.4 183.2h87.6v10.4H1510.4zM1718.5 183.2h40.6v10.4H1718.5zM1335.9 193.3h27.2v10.2H1335.9zM1382.9 193.3h20.4v10.2H1382.9zM1510.4 193.3h13.7v10.2H1510.4zM1564.1 193.3h33.9v10.2H1564.1zM1725.2 193.3h20.4v10.2H1725.2zM1805.7 193.3h27.2v10.2H1805.7zM1335.9 203.2h27.2v10.1H1335.9zM1403 203.2h20.5v10.1H1403zM1510.4 203.2h40.6v10.1H1510.4zM1557.4 203.2h40.6v10.1H1557.4zM1731.9 203.2h7v10.1H1731.9zM1812.5 203.2h20.4v10.1H1812.5zM1335.9 213h20.4v10H1335.9zM1416.4 213h13.8v10H1416.4zM1544 213h47.3v10H1544zM1812.5 213h20.4v10H1812.5zM1423.2 222.7h7v9.8H1423.2zM1550.7 222.7h33.9v9.8H1550.7zM1604.4 222.7h20.4v9.8H1604.4zM1362.8 232.2h7v9.7H1362.8zM1429.9 232.2h7v9.7H1429.9zM1611.1 232.2h7v9.7H1611.1zM1369.5 241.6h7v9.6H1369.5zM1436.6 241.6h7v9.6H1436.6zM1369.5 250.9h13.7v9.5H1369.5zM1443.3 250.9h7v9.5H1443.3zM1382.9 260.1h7v9.4H1382.9zM1443.3 260.1h7v9.4H1443.3zM1389.6 269.2h7v9.3H1389.6zM1443.3 269.2h7v9.3H1443.3zM1671.5 269.2h27.2v9.3H1671.5zM1389.6 278.2h7v9.2H1389.6zM1443.3 278.2h7v9.2H1443.3zM1664.8 278.2h40.6v9.2H1664.8zM1389.6 287.1h13.7v9.1H1389.6zM1664.8 287.1h33.9v9.1H1664.8zM1302.3 295.9h13.8v9H1302.3zM1389.6 295.9h7v9H1389.6zM1664.8 295.9h27.1v9H1664.8zM1295.6 304.6h7v8.9H1295.6zM1389.6 304.6h7v8.9H1389.6zM1664.8 304.6h20.4v8.9H1664.8zM1235.2 313.2h20.5v8.9H1235.2zM1282.2 313.2h33.9v8.9H1282.2zM1389.6 313.2h7v8.9H1389.6zM1671.5 313.2h7v8.9H1671.5zM1235.2 321.8h20.5v8.7H1235.2zM1295.6 321.8h7v8.7H1295.6zM1235.2 330.2h20.5v8.7H1235.2zM1295.6 330.2h7v8.7H1295.6zM1550.7 330.2h7v8.7H1550.7zM1275.5 338.6h20.4v8.6H1275.5zM1550.7 338.6h7v8.6H1550.7zM1550.7 346.9h13.7v8.5H1550.7zM1544 355.1h40.6v8.5H1544zM1544 363.3h33.8v8.4H1544zM1550.7 371.4h20.4v8.3H1550.7zM1852.7 371.4h7v8.3H1852.7zM1550.7 379.4h13.7v8.3H1550.7zM1846 379.4h20.5v8.3H1846zM1309.1 441.7h7v7.9H1309.1zM1161.4 449.3h40.6v7.8H1161.4zM1282.2 449.3h20.4v7.8H1282.2zM1315.8 449.3h13.7v7.8H1315.8zM1154.7 456.8h47.3v7.8H1154.7zM1288.9 456.8h13.7v7.8H1288.9zM1315.8 456.8h13.7v7.8H1315.8zM1148 464.3h40.5v7.8H1148zM1195 464.3h13.7v7.8H1195zM1288.9 464.3h13.7v7.8H1288.9zM1322.5 464.3h13.7v7.8H1322.5zM1141.3 471.8h40.5v7.7H1141.3zM1195 471.8h13.7v7.7H1195zM1288.9 471.8h13.7v7.7H1288.9zM1322.5 471.8h13.7v7.7H1322.5zM1141.3 479.2h33.8v7.7H1141.3zM1195 479.2h13.7v7.7H1195zM1288.9 479.2h13.7v7.7H1288.9zM1141.3 486.6h27.1v7.7H1141.3zM1195 486.6h13.7v7.7H1195zM1570.8 486.6h27.2v7.7H1570.8zM1141.3 494h20.4v7.6H1141.3zM1195 494h13.7v7.6H1195zM1564.1 494h40.6v7.6H1564.1zM1141.3 501.3h27.1v7.6H1141.3zM1195 501.3h13.7v7.6H1195zM1564.1 501.3h47.3v7.6H1564.1zM1134.5 508.6h67.5v7.6H1134.5zM1288.9 508.6h13.7v7.6H1288.9zM1564.1 508.6h54v7.6H1564.1zM1134.5 515.9h67.5v7.5H1134.5zM1288.9 515.9h13.7v7.5H1288.9zM1362.8 515.9h60.7v7.5H1362.8zM1564.1 515.9h60.7v7.5H1564.1zM1134.5 523.1h47.3v7.5H1134.5zM1282.2 523.1h13.7v7.5H1282.2zM1389.6 523.1h40.6v7.5H1389.6zM1564.1 523.1h54v7.5H1564.1zM1141.3 530.3h33.8v7.5H1141.3zM1282.2 530.3h7v7.5H1282.2zM1396.3 530.3h40.6v7.5H1396.3zM1564.1 530.3h47.3v7.5H1564.1zM1141.3 537.5h27.1v7.5H1141.3zM1275.5 537.5h13.7v7.5H1275.5zM1403 537.5h40.6v7.5H1403zM1564.1 537.5h40.6v7.5H1564.1zM1121.1 544.7h27.2v7.5H1121.1zM1174.8 544.7h7v7.5H1174.8zM1275.5 544.7h13.7v7.5H1275.5zM1409.7 544.7h40.6v7.5H1409.7zM1483.6 544.7h20.4v7.5H1483.6zM1557.4 544.7h54v7.5H1557.4zM1094.3 551.9h20.4v7.4H1094.3zM1181.5 551.9h7v7.4H1181.5zM1201.7 551.9h13.7v7.4H1201.7zM1275.5 551.9h13.7v7.4H1275.5zM1436.6 551.9h134.5v7.4H1436.6zM1597.7 551.9h20.4v7.4H1597.7zM1188.2 559h27.2v7.4H1188.2zM1275.5 559h13.7v7.4H1275.5zM1443.3 559h40.6v7.4H1443.3zM1503.7 559h60.7v7.4H1503.7zM1604.4 559h20.4v7.4H1604.4zM1215.1 566.1h7v7.5H1215.1zM1275.5 566.1h13.7v7.5H1275.5zM1450 566.1h33.9v7.5H1450zM1510.4 566.1h13.7v7.5H1510.4zM1544 566.1h13.7v7.5H1544zM1611.1 566.1h20.4v7.5H1611.1zM1644.7 566.1h27.1v7.5H1644.7zM1080.8 573.3h13.8v7.3H1080.8zM1221.8 573.3h7v7.3H1221.8zM1275.5 573.3h13.7v7.3H1275.5zM1456.7 573.3h27.2v7.3H1456.7zM1617.8 573.3h54v7.3H1617.8zM1080.8 580.3h20.5v7.4H1080.8zM1463.4 580.3h20.5v7.4H1463.4zM1624.5 580.3h47.3v7.4H1624.5zM1080.8 587.4h27.2v7.4H1080.8zM1463.4 587.4h20.5v7.4H1463.4zM1617.8 587.4h67.4v7.4H1617.8zM1738.6 587.4h54v7.4H1738.6zM1094.3 594.5h20.4v7.4H1094.3zM1463.4 594.5h20.5v7.4H1463.4zM1510.4 594.5h7v7.4H1510.4zM1611.1 594.5h74.1v7.4H1611.1zM1738.6 594.5h54v7.4H1738.6zM1101 601.6h20.4v7.3H1101zM1463.4 601.6h20.5v7.3H1463.4zM1503.7 601.6h20.4v7.3H1503.7zM1604.4 601.6h80.8v7.3H1604.4zM1738.6 601.6h54v7.3H1738.6zM1114.4 608.6h20.4v7.4H1114.4zM1450 608.6h114.4v7.4H1450zM1597.7 608.6h127.8v7.4H1597.7zM1127.8 615.7h20.5v7.3H1127.8zM1450 615.7h13.7v7.3H1450zM1483.6 615.7h20.4v7.3H1483.6zM1523.8 615.7h127.9v7.3H1523.8zM1684.9 615.7h33.9v7.3H1684.9zM1141.3 622.7h20.4v7.4H1141.3zM1564.1 622.7h80.9v7.4H1564.1zM1141.3 629.8h20.4v7.3H1141.3zM1564.1 629.8h80.9v7.3H1564.1z"/><path fill="#4683c0" d="M1235.2 48.9h7v12.6H1235.2zM1537.3 48.9h13.7v12.6H1537.3zM1235.2 61.2h7v12.4H1235.2zM1537.3 61.2h13.7v12.4H1537.3zM1181.5 73.3h7v12.2H1181.5zM1235.2 73.3h7v12.2H1235.2zM1174.8 85.2h7v12H1174.8zM1215.1 85.2h13.7v12H1215.1zM1241.9 85.2h27.2v12H1241.9zM1154.7 96.9h20.4v11.7H1154.7zM1208.4 96.9h7v11.7H1208.4zM1215.1 108.3h13.7v11.5H1215.1zM1235.2 108.3h7v11.5H1235.2zM1282.2 108.3h7v11.5H1282.2zM1282.2 119.5h7v11.4H1282.2zM1282.2 130.6h7v11.2H1282.2zM1094.3 141.5h20.4v10.9H1094.3zM1134.5 141.5h7.1v10.9H1134.5zM1221.8 141.5h7v10.9H1221.8zM1275.5 141.5h7v10.9H1275.5zM1094.3 152.1h40.5v10.9H1094.3zM1094.3 162.7h27.1v10.6H1094.3zM1094.3 173h20.4v10.5H1094.3zM1094.3 183.2h20.4v10.4H1094.3zM1376.2 213h13.7v10H1376.2zM1396.3 213h13.7v10H1396.3zM1376.2 222.7h7v9.8H1376.2zM1409.7 222.7h7.1v9.8H1409.7zM1382.9 232.2h7v9.7H1382.9zM1416.4 232.2h7.1v9.7H1416.4zM1389.6 241.6h13.7v9.6H1389.6zM1423.2 241.6h7v9.6H1423.2zM1396.3 250.9h7v9.5H1396.3zM1429.9 250.9h7v9.5H1429.9zM1396.3 260.1h13.7v9.4H1396.3zM1423.2 260.1h13.7v9.4H1423.2zM1403 269.2h7v9.3H1403zM1416.4 269.2h20.5v9.3H1416.4zM1409.7 278.2h27.2v9.2H1409.7zM1309.1 304.6h7v8.9H1309.1zM1268.8 313.2h7v8.9H1268.8zM1268.8 321.8h13.7v8.7H1268.8zM1268.8 330.2h27.1v8.7H1268.8zM1315.8 523.1h54v7.5H1315.8zM1309.1 530.3h13.7v7.5H1309.1zM1376.2 530.3h7v7.5H1376.2zM1302.3 537.5h13.8v7.5H1302.3zM1382.9 537.5h7v7.5H1382.9zM1168.1 544.7h7v7.5H1168.1zM1295.6 544.7h13.8v7.5H1295.6zM1382.9 544.7h7v7.5H1382.9zM1161.4 551.9h13.7v7.4H1161.4zM1295.6 551.9h7v7.4H1295.6zM1382.9 551.9h13.7v7.4H1382.9zM1101 559h74.1v7.4H1101zM1295.6 559h7v7.4H1295.6zM1389.6 559h13.7v7.4H1389.6zM1107.7 566.1h80.8v7.5H1107.7zM1295.6 566.1h7v7.5H1295.6zM1396.3 566.1h13.7v7.5H1396.3zM1114.4 573.3h74.1v7.3H1114.4zM1215.1 573.3h7v7.3H1215.1zM1295.6 573.3h7v7.3H1295.6zM1403 573.3h13.8v7.3H1403zM1121.1 580.3h54v7.4H1121.1zM1409.7 580.3h13.8v7.4H1409.7zM1523.8 580.3h20.5v7.4H1523.8zM1127.8 587.4h40.6v7.4H1127.8zM1416.4 587.4h13.8v7.4H1416.4zM1530.6 587.4h7v7.4H1530.6zM1134.5 594.5h27.2v7.4H1134.5zM1423.2 594.5h13.7v7.4H1423.2zM1141.3 601.6h13.7v7.3H1141.3zM1208.4 601.6h20.4v7.3H1208.4zM1429.9 601.6h13.7v7.3H1429.9zM1154.7 608.6h13.7v7.4H1154.7zM1436.6 608.6h7v7.4H1436.6zM1731.9 608.6h7v7.4H1731.9zM1161.4 615.7h27.1v7.3H1161.4zM1436.6 615.7h7v7.3H1436.6zM1731.9 615.7h54v7.3H1731.9zM1181.5 622.7h13.8v7.4H1181.5zM1436.6 622.7h7v7.4H1436.6zM1725.2 622.7h20.4v7.4H1725.2zM1778.9 622.7h13.7v7.4H1778.9zM1181.5 629.8h13.8v7.3H1181.5zM1436.6 629.8h7v7.3H1436.6zM1725.2 629.8h20.4v7.3H1725.2zM1778.9 629.8h13.7v7.3H1778.9z"/><path fill="#d4e8f1" d="M1241.9 48.9h7.1v12.6H1241.9zM1376.2 48.9h13.7v12.6H1376.2zM1557.4 48.9h7v12.6H1557.4zM1604.4 48.9h7v12.6H1604.4zM1644.7 48.9h13.7v12.6H1644.7zM1691.6 48.9h54v12.6H1691.6zM1778.9 48.9h7v12.6H1778.9zM1241.9 61.2h7.1v12.4H1241.9zM1376.2 61.2h13.7v12.4H1376.2zM1557.4 61.2h7v12.4H1557.4zM1604.4 61.2h7v12.4H1604.4zM1644.7 61.2h13.7v12.4H1644.7zM1691.6 61.2h54v12.4H1691.6zM1778.9 61.2h7v12.4H1778.9zM1248.6 73.3h20.5v12.2H1248.6zM1369.5 73.3h13.7v12.2H1369.5zM1510.4 73.3h7v12.2H1510.4zM1557.4 73.3h7v12.2H1557.4zM1604.4 73.3h7v12.2H1604.4zM1637.9 73.3h27.2v12.2H1637.9zM1684.9 73.3h94.3v12.2H1684.9zM1349.3 85.2h13.8v12H1349.3zM1510.4 85.2h54v12H1510.4zM1597.7 85.2h94.2v12H1597.7zM1698.4 85.2h33.8v12H1698.4zM1745.3 85.2h13.8v12H1745.3zM1342.6 96.9h7v11.7H1342.6zM1510.4 96.9h7v11.7H1510.4zM1564.1 96.9h101v11.7H1564.1zM1705.1 96.9h20.4v11.7H1705.1zM1295.6 108.3h7v11.5H1295.6zM1342.6 108.3h7v11.5H1342.6zM1510.4 108.3h13.7v11.5H1510.4zM1570.8 108.3h101v11.5H1570.8zM1698.4 108.3h27.1v11.5H1698.4zM1295.6 119.5h7v11.4H1295.6zM1403 119.5h7v11.4H1403zM1510.4 119.5h20.5v11.4H1510.4zM1577.5 119.5h54v11.4H1577.5zM1658.1 119.5h67.4v11.4H1658.1zM1752 119.5h7.1v11.4H1752zM1349.3 130.6h13.8v11.2H1349.3zM1396.3 130.6h13.7v11.2H1396.3zM1510.4 130.6h33.9v11.2H1510.4zM1584.2 130.6h40.6v11.2H1584.2zM1664.8 130.6h60.7v11.2H1664.8zM1745.3 130.6h20.5v11.2H1745.3zM1295.6 141.5h7v10.9H1295.6zM1349.3 141.5h7v10.9H1349.3zM1403 141.5h7v10.9H1403zM1510.4 141.5h33.9v10.9H1510.4zM1577.5 141.5h40.6v10.9H1577.5zM1664.8 141.5h87.5v10.9H1664.8zM1758.8 141.5h13.7v10.9H1758.8zM1141.3 152.1h7v10.9H1141.3zM1295.6 152.1h7v10.9H1295.6zM1342.6 152.1h7v10.9H1342.6zM1403 152.1h13.8v10.9H1403zM1510.4 152.1h33.9v10.9H1510.4zM1570.8 152.1h40.6v10.9H1570.8zM1664.8 152.1h47.3v10.9H1664.8zM1725.2 152.1h13.7v10.9H1725.2zM1765.5 152.1h13.7v10.9H1765.5zM1134.5 162.7h7.1v10.6H1134.5zM1275.5 162.7h20.4v10.6H1275.5zM1335.9 162.7h13.7v10.6H1335.9zM1409.7 162.7h7.1v10.6H1409.7zM1510.4 162.7h33.9v10.6H1510.4zM1564.1 162.7h40.6v10.6H1564.1zM1664.8 162.7h40.6v10.6H1664.8zM1772.2 162.7h7v10.6H1772.2zM1275.5 173h20.4v10.5H1275.5zM1335.9 173h13.7v10.5H1335.9zM1409.7 173h13.8v10.5H1409.7zM1503.7 173h20.4v10.5H1503.7zM1537.3 173h67.4v10.5H1537.3zM1664.8 173h47.3v10.5H1664.8zM1765.5 173h13.7v10.5H1765.5zM1812.5 173h20.4v10.5H1812.5zM1275.5 183.2h20.4v10.4H1275.5zM1335.9 183.2h7v10.4H1335.9zM1403 183.2h27.2v10.4H1403zM1503.7 183.2h7v10.4H1503.7zM1597.7 183.2h13.7v10.4H1597.7zM1664.8 183.2h54v10.4H1664.8zM1758.8 183.2h13.7v10.4H1758.8zM1805.7 183.2h27.2v10.4H1805.7zM1114.4 193.3h20.4v10.2H1114.4zM1403 193.3h33.9v10.2H1403zM1503.7 193.3h7v10.2H1503.7zM1597.7 193.3h13.7v10.2H1597.7zM1664.8 193.3h60.7v10.2H1664.8zM1745.3 193.3h20.5v10.2H1745.3zM1785.6 193.3h20.4v10.2H1785.6zM1114.4 203.2h20.4v10.1H1114.4zM1423.2 203.2h13.7v10.1H1423.2zM1503.7 203.2h7v10.1H1503.7zM1597.7 203.2h27.1v10.1H1597.7zM1664.8 203.2h67.4v10.1H1664.8zM1738.6 203.2h20.5v10.1H1738.6zM1805.7 203.2h7.1v10.1H1805.7zM1114.4 213h20.4v10H1114.4zM1429.9 213h7v10H1429.9zM1497 213h47.3v10H1497zM1591 213h47.2v10H1591zM1664.8 213h87.5v10H1664.8zM1429.9 222.7h7v9.8H1429.9zM1490.3 222.7h33.8v9.8H1490.3zM1537.3 222.7h13.7v9.8H1537.3zM1584.2 222.7h20.5v9.8H1584.2zM1624.5 222.7h20.5v9.8H1624.5zM1664.8 222.7h27.1v9.8H1664.8zM1698.4 222.7h47.2v9.8H1698.4zM1356 232.2h7.1v9.7H1356zM1436.6 232.2h7v9.7H1436.6zM1537.3 232.2h74.1v9.7H1537.3zM1617.8 232.2h27.2v9.7H1617.8zM1664.8 232.2h74.1v9.7H1664.8zM1362.8 241.6h7v9.6H1362.8zM1443.3 241.6h7v9.6H1443.3zM1530.6 241.6h7v9.6H1530.6zM1570.8 241.6h13.8v9.6H1570.8zM1597.7 241.6h40.5v9.6H1597.7zM1671.5 241.6h60.7v9.6H1671.5zM1362.8 250.9h7v9.5H1362.8zM1450 250.9h7v9.5H1450zM1530.6 250.9h7v9.5H1530.6zM1604.4 250.9h33.8v9.5H1604.4zM1671.5 250.9h54v9.5H1671.5zM1376.2 260.1h7v9.4H1376.2zM1450 260.1h7v9.4H1450zM1597.7 260.1h47.3v9.4H1597.7zM1664.8 260.1h60.7v9.4H1664.8zM1382.9 269.2h7v9.3H1382.9zM1450 269.2h7v9.3H1450zM1591 269.2h60.7v9.3H1591zM1658.1 269.2h13.7v9.3H1658.1zM1698.4 269.2h33.8v9.3H1698.4zM1450 278.2h7v9.2H1450zM1584.2 278.2h80.9v9.2H1584.2zM1705.1 278.2h27.1v9.2H1705.1zM1288.9 287.1h7v9.1H1288.9zM1403 287.1h33.9v9.1H1403zM1577.5 287.1h87.6v9.1H1577.5zM1698.4 287.1h33.8v9.1H1698.4zM1282.2 295.9h20.4v9H1282.2zM1396.3 295.9h7v9H1396.3zM1570.8 295.9h94.3v9H1570.8zM1691.6 295.9h33.9v9H1691.6zM1275.5 304.6h20.4v8.9H1275.5zM1315.8 304.6h7v8.9H1315.8zM1382.9 304.6h7v8.9H1382.9zM1564.1 304.6h101v8.9H1564.1zM1684.9 304.6h40.6v8.9H1684.9zM1382.9 313.2h7v8.9H1382.9zM1550.7 313.2h13.7v8.9H1550.7zM1584.2 313.2h87.6v8.9H1584.2zM1678.2 313.2h47.3v8.9H1678.2zM1302.3 321.8h13.8v8.7H1302.3zM1382.9 321.8h13.7v8.7H1382.9zM1544 321.8h20.4v8.7H1544zM1597.7 321.8h33.8v8.7H1597.7zM1637.9 321.8h87.6v8.7H1637.9zM1302.3 330.2h7.1v8.7H1302.3zM1369.5 330.2h27.1v8.7H1369.5zM1544 330.2h7v8.7H1544zM1557.4 330.2h7v8.7H1557.4zM1604.4 330.2h20.4v8.7H1604.4zM1644.7 330.2h47.2v8.7H1644.7zM1262.1 338.6h13.7v8.6H1262.1zM1295.6 338.6h7v8.6H1295.6zM1544 338.6h7v8.6H1544zM1557.4 338.6h13.7v8.6H1557.4zM1651.4 338.6h40.5v8.6H1651.4zM1288.9 346.9h7v8.5H1288.9zM1537.3 346.9h13.7v8.5H1537.3zM1564.1 346.9h33.9v8.5H1564.1zM1658.1 346.9h33.8v8.5H1658.1zM1872.9 346.9h7v8.5H1872.9zM1503.7 355.1h40.6v8.5H1503.7zM1584.2 355.1h13.8v8.5H1584.2zM1664.8 355.1h27.1v8.5H1664.8zM1785.6 355.1h20.4v8.5H1785.6zM1839.3 355.1h40.6v8.5H1839.3zM1510.4 363.3h33.9v8.4H1510.4zM1577.5 363.3h13.8v8.4H1577.5zM1671.5 363.3h13.7v8.4H1671.5zM1718.5 363.3h20.4v8.4H1718.5zM1785.6 363.3h20.4v8.4H1785.6zM1832.6 363.3h47.3v8.4H1832.6zM1537.3 371.4h13.7v8.3H1537.3zM1570.8 371.4h13.8v8.3H1570.8zM1718.5 371.4h27.1v8.3H1718.5zM1785.6 371.4h20.4v8.3H1785.6zM1825.9 371.4h27.1v8.3H1825.9zM1859.4 371.4h20.5v8.3H1859.4zM1537.3 379.4h13.7v8.3H1537.3zM1564.1 379.4h13.7v8.3H1564.1zM1718.5 379.4h33.8v8.3H1718.5zM1819.2 379.4h27.1v8.3H1819.2zM1866.2 379.4h13.7v8.3H1866.2zM1544 387.4h33.8v8.2H1544zM1718.5 387.4h33.8v8.2H1718.5zM1819.2 387.4h60.7v8.2H1819.2zM1550.7 395.3h13.7v8.2H1550.7zM1718.5 395.3h33.8v8.2H1718.5zM1819.2 395.3h47.3v8.2H1819.2zM1819.2 403.2h27.1v8.1H1819.2zM1819.2 411h27.1v8.1H1819.2zM1631.2 418.8h33.9v8H1631.2zM1819.2 418.8h27.1v8H1819.2zM1241.9 426.5h13.8v7.9H1241.9zM1624.5 426.5h47.3v7.9H1624.5zM1235.2 434.1h20.5v7.9H1235.2zM1631.2 434.1h40.6v7.9H1631.2zM1228.5 441.7h33.9v7.9H1228.5zM1282.2 441.7h27.2v7.9H1282.2zM1315.8 441.7h20.4v7.9H1315.8zM1644.7 441.7h27.1v7.9H1644.7zM1127.8 449.3h33.9v7.8H1127.8zM1201.7 449.3h80.8v7.8H1201.7zM1329.2 449.3h7v7.8H1329.2zM1121.1 456.8h33.9v7.8H1121.1zM1201.7 456.8h67.4v7.8H1201.7zM1275.5 456.8h13.7v7.8H1275.5zM1329.2 456.8h7v7.8H1329.2zM1114.4 464.3h33.9v7.8H1114.4zM1208.4 464.3h54v7.8H1208.4zM1282.2 464.3h7v7.8H1282.2zM1335.9 464.3h7v7.8H1335.9zM1570.8 464.3h47.3v7.8H1570.8zM1080.8 471.8h60.8v7.7H1080.8zM1208.4 471.8h47.3v7.7H1208.4zM1282.2 471.8h7v7.7H1282.2zM1335.9 471.8h7v7.7H1335.9zM1429.9 471.8h54v7.7H1429.9zM1570.8 471.8h54v7.7H1570.8zM1080.8 479.2h60.8v7.7H1080.8zM1208.4 479.2h54v7.7H1208.4zM1282.2 479.2h7v7.7H1282.2zM1302.3 479.2h20.5v7.7H1302.3zM1564.1 479.2h67.4v7.7H1564.1zM1080.8 486.6h60.8v7.7H1080.8zM1208.4 486.6h60.7v7.7H1208.4zM1275.5 486.6h27.1v7.7H1275.5zM1557.4 486.6h13.7v7.7H1557.4zM1597.7 486.6h54v7.7H1597.7zM1080.8 494h60.8v7.6H1080.8zM1208.4 494h87.5v7.6H1208.4zM1550.7 494h13.7v7.6H1550.7zM1604.4 494h47.3v7.6H1604.4zM1080.8 501.3h60.8v7.6H1080.8zM1208.4 501.3h94.2v7.6H1208.4zM1389.6 501.3h7v7.6H1389.6zM1550.7 501.3h13.7v7.6H1550.7zM1611.1 501.3h40.6v7.6H1611.1zM1080.8 508.6h54v7.6H1080.8zM1201.7 508.6h47.3v7.6H1201.7zM1275.5 508.6h13.7v7.6H1275.5zM1302.3 508.6h121.2v7.6H1302.3zM1544 508.6h20.4v7.6H1544zM1617.8 508.6h33.9v7.6H1617.8zM1201.7 515.9h40.5v7.5H1201.7zM1275.5 515.9h13.7v7.5H1275.5zM1423.2 515.9h20.4v7.5H1423.2zM1544 515.9h20.4v7.5H1544zM1624.5 515.9h27.2v7.5H1624.5zM1127.8 523.1h7v7.5H1127.8zM1181.5 523.1h47.3v7.5H1181.5zM1275.5 523.1h7v7.5H1275.5zM1429.9 523.1h20.4v7.5H1429.9zM1537.3 523.1h27.1v7.5H1537.3zM1617.8 523.1h33.9v7.5H1617.8zM1127.8 530.3h13.8v7.5H1127.8zM1174.8 530.3h47.3v7.5H1174.8zM1268.8 530.3h13.7v7.5H1268.8zM1436.6 530.3h27.1v7.5H1436.6zM1483.6 530.3h80.8v7.5H1483.6zM1611.1 530.3h20.4v7.5H1611.1zM1127.8 537.5h13.8v7.5H1127.8zM1201.7 537.5h13.7v7.5H1201.7zM1268.8 537.5h7v7.5H1268.8zM1443.3 537.5h121.1v7.5H1443.3zM1604.4 537.5h20.4v7.5H1604.4zM1107.7 544.7h13.7v7.5H1107.7zM1181.5 544.7h40.6v7.5H1181.5zM1268.8 544.7h7v7.5H1268.8zM1450 544.7h33.9v7.5H1450zM1503.7 544.7h54v7.5H1503.7zM1611.1 544.7h20.4v7.5H1611.1zM1080.8 551.9h13.8v7.4H1080.8zM1188.2 551.9h13.8v7.4H1188.2zM1215.1 551.9h7v7.4H1215.1zM1262.1 551.9h13.7v7.4H1262.1zM1617.8 551.9h33.9v7.4H1617.8zM1215.1 559h7v7.4H1215.1zM1255.4 559h20.4v7.4H1255.4zM1624.5 559h27.2v7.4H1624.5zM1221.8 566.1h7v7.5H1221.8zM1255.4 566.1h20.4v7.5H1255.4zM1631.2 566.1h13.8v7.5H1631.2zM1255.4 573.3h20.4v7.3H1255.4zM1684.9 587.4h47.3v7.4H1684.9zM1080.8 594.5h13.8v7.4H1080.8zM1684.9 594.5h47.3v7.4H1684.9zM1080.8 601.6h20.5v7.3H1080.8zM1684.9 601.6h47.3v7.3H1684.9zM1080.8 608.6h33.9v7.4H1080.8zM1101 615.7h27.1v7.3H1101zM1463.4 615.7h20.5v7.3H1463.4zM1503.7 615.7h20.4v7.3H1503.7zM1121.1 622.7h20.5v7.4H1121.1zM1450 622.7h114.4v7.4H1450zM1121.1 629.8h20.5v7.3H1121.1zM1450 629.8h114.4v7.3H1450z"/><path fill="#f7d8c8" d="M1248.6 48.9h20.5v12.6H1248.6zM1362.8 48.9h7v12.6H1362.8zM1564.1 48.9h7v12.6H1564.1zM1591 48.9h7v12.6H1591zM1671.5 48.9h7v12.6H1671.5zM1792.3 48.9h7v12.6H1792.3zM1248.6 61.2h20.5v12.4H1248.6zM1362.8 61.2h7v12.4H1362.8zM1564.1 61.2h7v12.4H1564.1zM1591 61.2h7v12.4H1591zM1671.5 61.2h7v12.4H1671.5zM1792.3 61.2h7v12.4H1792.3zM1356 73.3h7.1v12.2H1356zM1503.7 73.3h7v12.2H1503.7zM1577.5 73.3h13.8v12.2H1577.5zM1785.6 73.3h7v12.2H1785.6zM1295.6 85.2h20.5v12H1295.6zM1503.7 85.2h7v12H1503.7zM1778.9 85.2h7v12H1778.9zM1315.8 96.9h13.7v11.7H1315.8zM1503.7 96.9h7v11.7H1503.7zM1530.6 96.9h13.7v11.7H1530.6zM1765.5 96.9h13.7v11.7H1765.5zM1315.8 108.3h7v11.5H1315.8zM1335.9 108.3h7v11.5H1335.9zM1503.7 108.3h7v11.5H1503.7zM1772.2 108.3h7v11.5H1772.2zM1309.1 119.5h13.7v11.4H1309.1zM1335.9 119.5h7v11.4H1335.9zM1503.7 119.5h7v11.4H1503.7zM1309.1 130.6h7v11.2H1309.1zM1503.7 130.6h7v11.2H1503.7zM1778.9 130.6h7v11.2H1778.9zM1309.1 141.5h13.7v10.9H1309.1zM1335.9 141.5h7v10.9H1335.9zM1429.9 141.5h7v10.9H1429.9zM1778.9 141.5h7v10.9H1778.9zM1148 152.1h67.4v10.9H1148zM1309.1 152.1h27.1v10.9H1309.1zM1429.9 152.1h7v10.9H1429.9zM1497 152.1h7v10.9H1497zM1778.9 152.1h7v10.9H1778.9zM1309.1 162.7h13.7v10.6H1309.1zM1429.9 162.7h7v10.6H1429.9zM1483.6 162.7h13.7v10.6H1483.6zM1778.9 162.7h7v10.6H1778.9zM1805.7 162.7h7.1v10.6H1805.7zM1309.1 173h13.7v10.5H1309.1zM1436.6 173h7v10.5H1436.6zM1476.9 173h20.4v10.5H1476.9zM1785.6 173h7v10.5H1785.6zM1799 173h7v10.5H1799zM1309.1 183.2h13.7v10.4H1309.1zM1443.3 183.2h7v10.4H1443.3zM1463.4 183.2h33.9v10.4H1463.4zM1792.3 183.2h7v10.4H1792.3zM1134.5 193.3h7.1v10.2H1134.5zM1188.2 193.3h13.8v10.2H1188.2zM1450 193.3h47.3v10.2H1450zM1134.5 203.2h7.1v10.1H1134.5zM1443.3 203.2h47.3v10.1H1443.3zM1765.5 203.2h33.8v10.1H1765.5zM1134.5 213h7.1v10H1134.5zM1443.3 213h7v10H1443.3zM1456.7 213h27.2v10H1456.7zM1758.8 213h7v10H1758.8zM1805.7 213h7.1v10H1805.7zM1443.3 222.7h7v9.8H1443.3zM1463.4 222.7h13.8v9.8H1463.4zM1758.8 222.7h7v9.8H1758.8zM1450 232.2h33.9v9.7H1450zM1758.8 232.2h7v9.7H1758.8zM1456.7 241.6h13.7v9.6H1456.7zM1476.9 241.6h33.8v9.6H1476.9zM1651.4 241.6h7v9.6H1651.4zM1758.8 241.6h7v9.6H1758.8zM1356 250.9h7.1v9.5H1356zM1463.4 250.9h7v9.5H1463.4zM1503.7 250.9h13.7v9.5H1503.7zM1550.7 250.9h13.7v9.5H1550.7zM1651.4 250.9h7v9.5H1651.4zM1362.8 260.1h7v9.4H1362.8zM1463.4 260.1h7v9.4H1463.4zM1510.4 260.1h13.7v9.4H1510.4zM1544 260.1h20.4v9.4H1544zM1376.2 269.2h7v9.3H1376.2zM1463.4 269.2h7v9.3H1463.4zM1517.1 269.2h13.8v9.3H1517.1zM1537.3 269.2h27.1v9.3H1537.3zM1463.4 278.2h7v9.2H1463.4zM1523.8 278.2h40.6v9.2H1523.8zM1315.8 287.1h7v9.1H1315.8zM1450 287.1h13.7v9.1H1450zM1517.1 287.1h40.6v9.1H1517.1zM1376.2 295.9h7v9H1376.2zM1403 295.9h7v9H1403zM1503.7 295.9h47.3v9H1503.7zM1322.5 304.6h7v8.9H1322.5zM1376.2 304.6h7v8.9H1376.2zM1490.3 304.6h54v8.9H1490.3zM1369.5 313.2h7v8.9H1369.5zM1396.3 313.2h7v8.9H1396.3zM1503.7 313.2h33.9v8.9H1503.7zM1758.8 313.2h47.2v8.9H1758.8zM1819.2 313.2h7v8.9H1819.2zM1315.8 321.8h7v8.7H1315.8zM1362.8 321.8h7v8.7H1362.8zM1396.3 321.8h7v8.7H1396.3zM1517.1 321.8h20.5v8.7H1517.1zM1758.8 321.8h47.2v8.7H1758.8zM1819.2 321.8h13.7v8.7H1819.2zM1866.2 321.8h7v8.7H1866.2zM1309.1 330.2h7v8.7H1309.1zM1396.3 330.2h7v8.7H1396.3zM1523.8 330.2h13.8v8.7H1523.8zM1570.8 330.2h13.8v8.7H1570.8zM1758.8 330.2h47.2v8.7H1758.8zM1825.9 330.2h13.7v8.7H1825.9zM1866.2 330.2h7v8.7H1866.2zM1309.1 338.6h13.7v8.6H1309.1zM1356 338.6h13.8v8.6H1356zM1396.3 338.6h7v8.6H1396.3zM1503.7 338.6h27.2v8.6H1503.7zM1765.5 338.6h20.4v8.6H1765.5zM1825.9 338.6h20.4v8.6H1825.9zM1859.4 338.6h7.1v8.6H1859.4zM1268.8 346.9h13.7v8.5H1268.8zM1315.8 346.9h13.7v8.5H1315.8zM1356 346.9h13.8v8.5H1356zM1396.3 346.9h7v8.5H1396.3zM1483.6 346.9h20.4v8.5H1483.6zM1832.6 346.9h13.7v8.5H1832.6zM1288.9 355.1h13.7v8.5H1288.9zM1322.5 355.1h101v8.5H1322.5zM1476.9 355.1h13.7v8.5H1476.9zM1611.1 355.1h13.7v8.5H1611.1zM1288.9 363.3h13.7v8.4H1288.9zM1329.2 363.3h101v8.4H1329.2zM1463.4 363.3h20.5v8.4H1463.4zM1604.4 363.3h20.4v8.4H1604.4zM1295.6 371.4h13.8v8.3H1295.6zM1335.9 371.4h33.9v8.3H1335.9zM1396.3 371.4h80.9v8.3H1396.3zM1597.7 371.4h27.1v8.3H1597.7zM1262.1 379.4h20.4v8.3H1262.1zM1295.6 379.4h13.8v8.3H1295.6zM1342.6 379.4h20.5v8.3H1342.6zM1403 379.4h60.7v8.3H1403zM1591 379.4h33.8v8.3H1591zM1262.1 387.4h20.4v8.2H1262.1zM1295.6 387.4h13.8v8.2H1295.6zM1342.6 387.4h20.5v8.2H1342.6zM1403 387.4h54v8.2H1403zM1591 387.4h27.1v8.2H1591zM1248.6 395.3h13.8v8.2H1248.6zM1282.2 395.3h20.4v8.2H1282.2zM1329.2 395.3h13.7v8.2H1329.2zM1362.8 395.3h40.5v8.2H1362.8zM1510.4 395.3h27.2v8.2H1510.4zM1241.9 403.2h20.5v8.1H1241.9zM1282.2 403.2h20.4v8.1H1282.2zM1322.5 403.2h20.4v8.1H1322.5zM1362.8 403.2h40.5v8.1H1362.8zM1503.7 403.2h40.6v8.1H1503.7zM1228.5 411h20.5v8.1H1228.5zM1255.4 411h13.7v8.1H1255.4zM1282.2 411h27.2v8.1H1282.2zM1322.5 411h13.7v8.1H1322.5zM1362.8 411h80.8v8.1H1362.8zM1483.6 411h60.7v8.1H1483.6zM1221.8 418.8h13.7v8H1221.8zM1262.1 418.8h7v8H1262.1zM1282.2 418.8h40.6v8H1282.2zM1362.8 418.8h181.5v8H1362.8zM1591 418.8h7v8H1591zM1215.1 426.5h13.7v7.9H1215.1zM1262.1 426.5h7v7.9H1262.1zM1282.2 426.5h40.6v7.9H1282.2zM1362.8 426.5h40.5v7.9H1362.8zM1443.3 426.5h40.6v7.9H1443.3zM1503.7 426.5h40.6v7.9H1503.7zM1584.2 426.5h20.5v7.9H1584.2zM1208.4 434.1h13.7v7.9H1208.4zM1268.8 434.1h13.7v7.9H1268.8zM1349.3 434.1h54v7.9H1349.3zM1436.6 434.1h47.3v7.9H1436.6zM1503.7 434.1h40.6v7.9H1503.7zM1591 434.1h7v7.9H1591zM1121.1 441.7h47.3v7.9H1121.1zM1342.6 441.7h20.5v7.9H1342.6zM1403 441.7h80.9v7.9H1403zM1503.7 441.7h40.6v7.9H1503.7zM1080.8 449.3h33.9v7.8H1080.8zM1342.6 449.3h7v7.8H1342.6zM1403 449.3h80.9v7.8H1403zM1503.7 449.3h40.6v7.8H1503.7zM1342.6 456.8h7v7.8H1342.6zM1403 456.8h27.2v7.8H1403zM1476.9 456.8h74.1v7.8H1476.9zM1349.3 464.3h7v7.8H1349.3zM1403 464.3h20.5v7.8H1403zM1490.3 464.3h67.4v7.8H1490.3zM1268.8 471.8h7v7.7H1268.8zM1349.3 471.8h13.8v7.7H1349.3zM1403 471.8h13.8v7.7H1403zM1503.7 471.8h54v7.7H1503.7zM1335.9 479.2h13.7v7.7H1335.9zM1382.9 479.2h40.6v7.7H1382.9zM1497 479.2h54v7.7H1497zM1315.8 486.6h13.7v7.7H1315.8zM1369.5 486.6h80.8v7.7H1369.5zM1483.6 486.6h60.7v7.7H1483.6zM1302.3 494h7.1v7.6H1302.3zM1369.5 494h13.7v7.6H1369.5zM1403 494h20.5v7.6H1403zM1443.3 494h94.3v7.6H1443.3zM1315.8 501.3h13.7v7.6H1315.8zM1335.9 501.3h27.2v7.6H1335.9zM1423.2 501.3h114.4v7.6H1423.2zM1456.7 508.6h33.9v7.6H1456.7zM1463.4 515.9h20.5v7.5H1463.4zM1101 523.1h13.7v7.5H1101zM1101 530.3h13.7v7.5H1101zM1241.9 530.3h13.8v7.5H1241.9zM1101 537.5h13.7v7.5H1101zM1228.5 537.5h27.2v7.5H1228.5zM1228.5 544.7h27.2v7.5H1228.5zM1228.5 551.9h27.2v7.4H1228.5zM1228.5 559h20.5v7.4H1228.5zM1228.5 566.1h20.5v7.5H1228.5zM1228.5 573.3h20.5v7.3H1228.5z"/><path fill="#c9323b" d="M1295.6 48.9h60.7v12.6H1295.6zM1825.9 48.9h47.3v12.6H1825.9zM1295.6 61.2h60.7v12.4H1295.6zM1825.9 61.2h47.3v12.4H1825.9zM1476.9 73.3h20.4v12.2H1476.9zM1812.5 73.3h60.7v12.2H1812.5zM1476.9 85.2h20.4v12H1476.9zM1805.7 85.2h20.5v12H1805.7zM1846 85.2h27.2v12H1846zM1476.9 96.9h20.4v11.7H1476.9zM1792.3 96.9h13.7v11.7H1792.3zM1476.9 108.3h20.4v11.5H1476.9zM1792.3 108.3h13.7v11.5H1792.3zM1483.6 119.5h13.7v11.4H1483.6zM1792.3 119.5h20.5v11.4H1792.3zM1483.6 130.6h13.7v11.2H1483.6zM1792.3 130.6h20.5v11.2H1792.3zM1456.7 141.5h27.2v10.9H1456.7zM1792.3 141.5h7v10.9H1792.3zM1792.3 152.1h7v10.9H1792.3zM1148 162.7h54v10.6H1148zM1792.3 162.7h7v10.6H1792.3zM1148 173h33.8v10.5H1148zM1201.7 173h20.4v10.5H1201.7zM1148 183.2h27.1v10.4H1148zM1148 193.3h27.1v10.2H1148zM1148 203.2h27.1v10.1H1148zM1148 213h27.1v10H1148zM1174.8 222.7h20.5v9.8H1174.8zM1772.2 222.7h40.6v9.8H1772.2zM1174.8 232.2h20.5v9.7H1174.8zM1295.6 232.2h40.6v9.7H1295.6zM1772.2 232.2h40.6v9.7H1772.2zM1174.8 241.6h20.5v9.6H1174.8zM1295.6 241.6h40.6v9.6H1295.6zM1772.2 241.6h40.6v9.6H1772.2zM1295.6 250.9h40.6v9.5H1295.6zM1349.3 278.2h27.2v9.2H1349.3zM1349.3 287.1h13.8v9.1H1349.3zM1329.2 304.6h13.7v8.9H1329.2zM1456.7 304.6h13.7v8.9H1456.7zM1329.2 313.2h7v8.9H1329.2zM1443.3 313.2h20.4v8.9H1443.3zM1429.9 321.8h27.1v8.7H1429.9zM1423.2 330.2h20.4v8.7H1423.2zM1409.7 338.6h13.8v8.6H1409.7zM1235.2 355.1h40.6v8.5H1235.2zM1094.3 411h13.7v8.1H1094.3zM1121.1 411h20.5v8.1H1121.1zM1094.3 418.8h13.7v8H1094.3zM1121.1 418.8h20.5v8H1121.1zM1195 418.8h7v8H1195zM1094.3 426.5h13.7v7.9H1094.3zM1121.1 426.5h20.5v7.9H1121.1zM1195 426.5h7v7.9H1195zM1107.7 434.1h7v7.9H1107.7zM1329.2 494h13.7v7.6H1329.2z"/><path fill="#da604e" d="M1356 48.9h7.1v12.6H1356zM1570.8 48.9h7v12.6H1570.8zM1812.5 48.9h13.7v12.6H1812.5zM1356 61.2h7.1v12.4H1356zM1570.8 61.2h7v12.4H1570.8zM1812.5 61.2h13.7v12.4H1812.5zM1295.6 73.3h47.3v12.2H1295.6zM1799 73.3h13.8v12.2H1799zM1329.2 85.2h7v12H1329.2zM1792.3 85.2h13.7v12H1792.3zM1785.6 96.9h7v11.7H1785.6zM1785.6 108.3h7v11.5H1785.6zM1329.2 119.5h7v11.4H1329.2zM1785.6 119.5h7v11.4H1785.6zM1329.2 130.6h7v11.2H1329.2zM1785.6 130.6h7v11.2H1785.6zM1450 141.5h7v10.9H1450zM1483.6 141.5h13.7v10.9H1483.6zM1785.6 141.5h7v10.9H1785.6zM1799 141.5h7v10.9H1799zM1450 152.1h33.9v10.9H1450zM1799 152.1h7v10.9H1799zM1450 162.7h13.7v10.6H1450zM1799 162.7h7v10.6H1799zM1181.5 173h20.5v10.5H1181.5zM1221.8 173h7v10.5H1221.8zM1174.8 183.2h13.7v10.4H1174.8zM1201.7 183.2h20.4v10.4H1201.7zM1174.8 193.3h7v10.2H1174.8zM1174.8 203.2h13.7v10.1H1174.8zM1174.8 213h27.2v10H1174.8zM1772.2 213h13.7v10H1772.2zM1195 222.7h13.7v9.8H1195zM1765.5 222.7h7v9.8H1765.5zM1195 232.2h13.7v9.7H1195zM1335.9 232.2h13.7v9.7H1335.9zM1765.5 232.2h7v9.7H1765.5zM1195 241.6h13.7v9.6H1195zM1335.9 241.6h13.7v9.6H1335.9zM1765.5 241.6h7v9.6H1765.5zM1335.9 250.9h13.7v9.5H1335.9zM1295.6 260.1h60.7v9.4H1295.6zM1295.6 269.2h67.5v9.3H1295.6zM1490.3 269.2h7v9.3H1490.3zM1335.9 278.2h13.7v9.2H1335.9zM1483.6 278.2h20.4v9.2H1483.6zM1329.2 287.1h20.4v9.1H1329.2zM1362.8 287.1h13.7v9.1H1362.8zM1819.2 287.1h54v9.1H1819.2zM1329.2 295.9h47.3v9H1329.2zM1443.3 295.9h33.9v9H1443.3zM1819.2 295.9h54v9H1819.2zM1342.6 304.6h20.5v8.9H1342.6zM1403 304.6h7v8.9H1403zM1470.1 304.6h7.1v8.9H1470.1zM1819.2 304.6h54v8.9H1819.2zM1335.9 313.2h20.4v8.9H1335.9zM1403 313.2h7v8.9H1403zM1463.4 313.2h20.5v8.9H1463.4zM1839.3 313.2h27.2v8.9H1839.3zM1329.2 321.8h27.1v8.7H1329.2zM1403 321.8h7v8.7H1403zM1456.7 321.8h33.9v8.7H1456.7zM1846 321.8h13.7v8.7H1846zM1329.2 330.2h27.1v8.7H1329.2zM1403 330.2h7v8.7H1403zM1443.3 330.2h60.7v8.7H1443.3zM1852.7 330.2h7v8.7H1852.7zM1423.2 338.6h54v8.6H1423.2zM1423.2 346.9h20.4v8.5H1423.2zM1275.5 355.1h7v8.5H1275.5zM1215.1 363.3h60.7v8.4H1215.1zM1215.1 371.4h40.6v8.3H1215.1zM1215.1 379.4h27.1v8.3H1215.1zM1221.8 387.4h13.7v8.2H1221.8zM1080.8 411h13.8v8.1H1080.8zM1195 411h7v8.1H1195zM1080.8 418.8h13.8v8H1080.8zM1201.7 418.8h7v8H1201.7zM1080.8 426.5h13.8v7.9H1080.8zM1201.7 426.5h7v7.9H1201.7zM1094.3 434.1h13.7v7.9H1094.3zM1114.4 434.1h13.7v7.9H1114.4zM1134.5 434.1h60.8v7.9H1134.5zM1315.8 494h13.7v7.6H1315.8zM1342.6 494h13.7v7.6H1342.6z"/><path fill="#3765ae" d="M1517.1 48.9h20.5v12.6H1517.1zM1517.1 61.2h20.5v12.4H1517.1zM1201.7 73.3h33.8v12.2H1201.7zM1181.5 85.2h7v12H1181.5zM1195 85.2h20.4v12H1195zM1174.8 96.9h13.7v11.7H1174.8zM1195 96.9h13.7v11.7H1195zM1241.9 96.9h7.1v11.7H1241.9zM1154.7 108.3h33.8v11.5H1154.7zM1195 108.3h20.4v11.5H1195zM1241.9 108.3h7.1v11.5H1241.9zM1275.5 108.3h7v11.5H1275.5zM1161.4 119.5h80.8v11.4H1161.4zM1275.5 119.5h7v11.4H1275.5zM1181.5 130.6h20.5v11.2H1181.5zM1275.5 130.6h7v11.2H1275.5zM1114.4 141.5h20.4v10.9H1114.4zM1389.6 213h7v10H1389.6zM1382.9 222.7h7v9.8H1382.9zM1396.3 222.7h13.7v9.8H1396.3zM1389.6 232.2h27.2v9.7H1389.6zM1403 241.6h20.5v9.6H1403zM1403 250.9h7v9.5H1403zM1416.4 250.9h13.8v9.5H1416.4zM1409.7 260.1h13.8v9.4H1409.7zM1409.7 269.2h7.1v9.3H1409.7zM1322.5 530.3h54v7.5H1322.5zM1315.8 537.5h13.7v7.5H1315.8zM1376.2 537.5h7v7.5H1376.2zM1309.1 544.7h13.7v7.5H1309.1zM1376.2 544.7h7v7.5H1376.2zM1302.3 551.9h13.8v7.4H1302.3zM1376.2 551.9h7v7.4H1376.2zM1302.3 559h7.1v7.4H1302.3zM1376.2 559h13.7v7.4H1376.2zM1302.3 566.1h7.1v7.5H1302.3zM1382.9 566.1h13.7v7.5H1382.9zM1188.2 573.3h27.2v7.3H1188.2zM1302.3 573.3h7.1v7.3H1302.3zM1389.6 573.3h13.7v7.3H1389.6zM1174.8 580.3h13.7v7.4H1174.8zM1396.3 580.3h13.7v7.4H1396.3zM1168.1 587.4h13.7v7.4H1168.1zM1208.4 587.4h20.4v7.4H1208.4zM1396.3 587.4h20.5v7.4H1396.3zM1161.4 594.5h13.7v7.4H1161.4zM1201.7 594.5h27.1v7.4H1201.7zM1403 594.5h20.5v7.4H1403zM1154.7 601.6h13.7v7.3H1154.7zM1195 601.6h13.7v7.3H1195zM1416.4 601.6h13.8v7.3H1416.4zM1168.1 608.6h60.7v7.4H1168.1zM1423.2 608.6h13.7v7.4H1423.2zM1188.2 615.7h40.6v7.3H1188.2zM1429.9 615.7h7v7.3H1429.9zM1195 622.7h13.7v7.4H1195zM1745.3 622.7h33.9v7.4H1745.3zM1195 629.8h13.7v7.3H1195zM1745.3 629.8h33.9v7.3H1745.3z"/><path fill="#5ca0cb" d="M1550.7 48.9h7v12.6H1550.7zM1550.7 61.2h7v12.4H1550.7zM1154.7 73.3h27.1v12.2H1154.7zM1523.8 73.3h20.5v12.2H1523.8zM1154.7 85.2h20.4v12H1154.7zM1228.5 85.2h13.7v12H1228.5zM1389.6 85.2h20.4v12H1389.6zM1215.1 96.9h13.7v11.7H1215.1zM1235.2 96.9h7v11.7H1235.2zM1349.3 96.9h60.7v11.7H1349.3zM1228.5 108.3h7v11.5H1228.5zM1288.9 108.3h7v11.5H1288.9zM1362.8 108.3h33.8v11.5H1362.8zM1288.9 119.5h7v11.4H1288.9zM1288.9 130.6h7v11.2H1288.9zM1141.3 141.5h33.8v10.9H1141.3zM1215.1 141.5h7v10.9H1215.1zM1282.2 141.5h7v10.9H1282.2zM1275.5 152.1h7v10.9H1275.5zM1369.5 152.1h27.1v10.9H1369.5zM1121.1 162.7h13.7v10.6H1121.1zM1362.8 162.7h33.8v10.6H1362.8zM1745.3 162.7h13.8v10.6H1745.3zM1114.4 173h13.7v10.5H1114.4zM1362.8 173h33.8v10.5H1362.8zM1114.4 183.2h7v10.4H1114.4zM1362.8 183.2h27.1v10.4H1362.8zM1362.8 193.3h20.4v10.2H1362.8zM1523.8 193.3h40.6v10.2H1523.8zM1362.8 203.2h40.5v10.1H1362.8zM1550.7 203.2h7v10.1H1550.7zM1356 213h20.5v10H1356zM1409.7 213h7.1v10H1409.7zM1356 222.7h20.5v9.8H1356zM1416.4 222.7h7.1v9.8H1416.4zM1369.5 232.2h13.7v9.7H1369.5zM1423.2 232.2h7v9.7H1423.2zM1376.2 241.6h13.7v9.6H1376.2zM1429.9 241.6h7v9.6H1429.9zM1382.9 250.9h13.7v9.5H1382.9zM1436.6 250.9h7v9.5H1436.6zM1389.6 260.1h7v9.4H1389.6zM1436.6 260.1h7v9.4H1436.6zM1396.3 269.2h7v9.3H1396.3zM1436.6 269.2h7v9.3H1436.6zM1396.3 278.2h13.7v9.2H1396.3zM1436.6 278.2h7v9.2H1436.6zM1302.3 304.6h7.1v8.9H1302.3zM1255.4 313.2h13.7v8.9H1255.4zM1275.5 313.2h7v8.9H1275.5zM1255.4 321.8h13.7v8.7H1255.4zM1282.2 321.8h13.7v8.7H1282.2zM1255.4 330.2h13.7v8.7H1255.4zM1302.3 449.3h13.8v7.8H1302.3zM1302.3 456.8h13.8v7.8H1302.3zM1188.2 464.3h7.1v7.8H1188.2zM1302.3 464.3h20.5v7.8H1302.3zM1181.5 471.8h13.8v7.7H1181.5zM1302.3 471.8h20.5v7.7H1302.3zM1174.8 479.2h20.5v7.7H1174.8zM1168.1 486.6h27.2v7.7H1168.1zM1161.4 494h33.9v7.6H1161.4zM1168.1 501.3h27.2v7.6H1168.1zM1302.3 515.9h60.8v7.5H1302.3zM1295.6 523.1h20.5v7.5H1295.6zM1369.5 523.1h20.4v7.5H1369.5zM1288.9 530.3h20.5v7.5H1288.9zM1382.9 530.3h13.7v7.5H1382.9zM1288.9 537.5h13.7v7.5H1288.9zM1389.6 537.5h13.7v7.5H1389.6zM1148 544.7h20.4v7.5H1148zM1288.9 544.7h7v7.5H1288.9zM1389.6 544.7h20.4v7.5H1389.6zM1114.4 551.9h47.3v7.4H1114.4zM1174.8 551.9h7v7.4H1174.8zM1288.9 551.9h7v7.4H1288.9zM1396.3 551.9h40.6v7.4H1396.3zM1570.8 551.9h27.2v7.4H1570.8zM1080.8 559h20.5v7.4H1080.8zM1174.8 559h13.7v7.4H1174.8zM1288.9 559h7v7.4H1288.9zM1403 559h40.6v7.4H1403zM1483.6 559h20.4v7.4H1483.6zM1564.1 559h40.6v7.4H1564.1zM1080.8 566.1h27.2v7.5H1080.8zM1188.2 566.1h27.2v7.5H1188.2zM1288.9 566.1h7v7.5H1288.9zM1409.7 566.1h40.6v7.5H1409.7zM1483.6 566.1h27.1v7.5H1483.6zM1523.8 566.1h20.5v7.5H1523.8zM1557.4 566.1h54v7.5H1557.4zM1094.3 573.3h20.4v7.3H1094.3zM1288.9 573.3h7v7.3H1288.9zM1416.4 573.3h40.6v7.3H1416.4zM1483.6 573.3h134.5v7.3H1483.6zM1101 580.3h20.4v7.4H1101zM1423.2 580.3h40.5v7.4H1423.2zM1483.6 580.3h40.5v7.4H1483.6zM1544 580.3h80.8v7.4H1544zM1107.7 587.4h20.4v7.4H1107.7zM1429.9 587.4h33.8v7.4H1429.9zM1483.6 587.4h47.3v7.4H1483.6zM1537.3 587.4h80.8v7.4H1537.3zM1114.4 594.5h20.4v7.4H1114.4zM1436.6 594.5h27.1v7.4H1436.6zM1483.6 594.5h27.1v7.4H1483.6zM1517.1 594.5h94.3v7.4H1517.1zM1121.1 601.6h20.5v7.3H1121.1zM1443.3 601.6h20.4v7.3H1443.3zM1483.6 601.6h20.4v7.3H1483.6zM1523.8 601.6h80.9v7.3H1523.8zM1134.5 608.6h20.5v7.4H1134.5zM1443.3 608.6h7v7.4H1443.3zM1564.1 608.6h33.9v7.4H1564.1zM1725.2 608.6h7v7.4H1725.2zM1738.6 608.6h74.2v7.4H1738.6zM1148 615.7h13.7v7.3H1148zM1443.3 615.7h7v7.3H1443.3zM1651.4 615.7h33.8v7.3H1651.4zM1718.5 615.7h13.7v7.3H1718.5zM1785.6 615.7h27.2v7.3H1785.6zM1161.4 622.7h20.4v7.4H1161.4zM1443.3 622.7h7v7.4H1443.3zM1644.7 622.7h80.8v7.4H1644.7zM1792.3 622.7h20.5v7.4H1792.3zM1161.4 629.8h20.4v7.3H1161.4zM1443.3 629.8h7v7.3H1443.3zM1644.7 629.8h80.8v7.3H1644.7zM1792.3 629.8h20.5v7.3H1792.3z"/><path fill="#eca283" d="M1577.5 48.9h13.8v12.6H1577.5zM1799 48.9h13.8v12.6H1799zM1577.5 61.2h13.8v12.4H1577.5zM1799 61.2h13.8v12.4H1799zM1342.6 73.3h13.7v12.2H1342.6zM1497 73.3h7v12.2H1497zM1570.8 73.3h7v12.2H1570.8zM1792.3 73.3h7v12.2H1792.3zM1315.8 85.2h13.7v12H1315.8zM1335.9 85.2h7v12H1335.9zM1497 85.2h7v12H1497zM1785.6 85.2h7v12H1785.6zM1329.2 96.9h7v11.7H1329.2zM1497 96.9h7v11.7H1497zM1778.9 96.9h7v11.7H1778.9zM1322.5 108.3h13.7v11.5H1322.5zM1497 108.3h7v11.5H1497zM1778.9 108.3h7v11.5H1778.9zM1322.5 119.5h7v11.4H1322.5zM1497 119.5h7v11.4H1497zM1778.9 119.5h7v11.4H1778.9zM1315.8 130.6h13.7v11.2H1315.8zM1335.9 130.6h7v11.2H1335.9zM1497 130.6h7v11.2H1497zM1322.5 141.5h13.7v10.9H1322.5zM1436.6 141.5h13.7v10.9H1436.6zM1497 141.5h7v10.9H1497zM1805.7 141.5h7.1v10.9H1805.7zM1436.6 152.1h13.7v10.9H1436.6zM1483.6 152.1h13.7v10.9H1483.6zM1785.6 152.1h7v10.9H1785.6zM1805.7 152.1h7.1v10.9H1805.7zM1141.3 162.7h7v10.6H1141.3zM1436.6 162.7h13.7v10.6H1436.6zM1463.4 162.7h20.5v10.6H1463.4zM1785.6 162.7h7v10.6H1785.6zM1141.3 173h7v10.5H1141.3zM1228.5 173h20.5v10.5H1228.5zM1443.3 173h33.9v10.5H1443.3zM1792.3 173h7v10.5H1792.3zM1141.3 183.2h7v10.4H1141.3zM1188.2 183.2h13.8v10.4H1188.2zM1221.8 183.2h27.2v10.4H1221.8zM1450 183.2h13.7v10.4H1450zM1141.3 193.3h7v10.2H1141.3zM1181.5 193.3h7v10.2H1181.5zM1201.7 193.3h47.3v10.2H1201.7zM1141.3 203.2h7v10.1H1141.3zM1188.2 203.2h60.8v10.1H1188.2zM1141.3 213h7v10H1141.3zM1201.7 213h47.3v10H1201.7zM1450 213h7v10H1450zM1765.5 213h7v10H1765.5zM1785.6 213h20.4v10H1785.6zM1208.4 222.7h20.4v9.8H1208.4zM1450 222.7h13.7v9.8H1450zM1208.4 232.2h20.4v9.7H1208.4zM1349.3 232.2h7v9.7H1349.3zM1208.4 241.6h20.4v9.6H1208.4zM1349.3 241.6h7v9.6H1349.3zM1470.1 241.6h7.1v9.6H1470.1zM1349.3 250.9h7v9.5H1349.3zM1470.1 250.9h33.9v9.5H1470.1zM1356 260.1h7.1v9.4H1356zM1470.1 260.1h40.6v9.4H1470.1zM1362.8 269.2h13.7v9.3H1362.8zM1470.1 269.2h20.5v9.3H1470.1zM1497 269.2h20.4v9.3H1497zM1295.6 278.2h40.6v9.2H1295.6zM1376.2 278.2h7v9.2H1376.2zM1470.1 278.2h13.8v9.2H1470.1zM1503.7 278.2h20.4v9.2H1503.7zM1322.5 287.1h7v9.1H1322.5zM1376.2 287.1h7v9.1H1376.2zM1463.4 287.1h54v9.1H1463.4zM1322.5 295.9h7v9H1322.5zM1409.7 295.9h33.9v9H1409.7zM1476.9 295.9h27.1v9H1476.9zM1362.8 304.6h13.7v8.9H1362.8zM1476.9 304.6h13.7v8.9H1476.9zM1322.5 313.2h7v8.9H1322.5zM1356 313.2h13.8v8.9H1356zM1483.6 313.2h20.4v8.9H1483.6zM1825.9 313.2h13.7v8.9H1825.9zM1866.2 313.2h7v8.9H1866.2zM1322.5 321.8h7v8.7H1322.5zM1356 321.8h7.1v8.7H1356zM1490.3 321.8h27.1v8.7H1490.3zM1832.6 321.8h13.7v8.7H1832.6zM1859.4 321.8h7.1v8.7H1859.4zM1315.8 330.2h13.7v8.7H1315.8zM1356 330.2h7.1v8.7H1356zM1503.7 330.2h20.4v8.7H1503.7zM1839.3 330.2h13.7v8.7H1839.3zM1859.4 330.2h7.1v8.7H1859.4zM1322.5 338.6h33.8v8.6H1322.5zM1403 338.6h7v8.6H1403zM1476.9 338.6h27.1v8.6H1476.9zM1846 338.6h13.7v8.6H1846zM1235.2 346.9h33.9v8.5H1235.2zM1329.2 346.9h27.1v8.5H1329.2zM1403 346.9h20.5v8.5H1403zM1443.3 346.9h40.6v8.5H1443.3zM1282.2 355.1h7v8.5H1282.2zM1423.2 355.1h54v8.5H1423.2zM1275.5 363.3h13.7v8.4H1275.5zM1429.9 363.3h33.8v8.4H1429.9zM1255.4 371.4h40.5v8.3H1255.4zM1241.9 379.4h20.5v8.3H1241.9zM1282.2 379.4h13.7v8.3H1282.2zM1195 387.4h27.1v8.2H1195zM1235.2 387.4h27.2v8.2H1235.2zM1282.2 387.4h13.7v8.2H1282.2zM1195 395.3h54v8.2H1195zM1262.1 395.3h20.4v8.2H1262.1zM1195 403.2h47.2v8.1H1195zM1262.1 403.2h20.4v8.1H1262.1zM1201.7 411h27.1v8.1H1201.7zM1268.8 411h13.7v8.1H1268.8zM1208.4 418.8h13.7v8H1208.4zM1268.8 418.8h13.7v8H1268.8zM1208.4 426.5h7v7.9H1208.4zM1268.8 426.5h13.7v7.9H1268.8zM1403 426.5h40.6v7.9H1403zM1483.6 426.5h20.4v7.9H1483.6zM1080.8 434.1h13.8v7.9H1080.8zM1127.8 434.1h7v7.9H1127.8zM1195 434.1h13.7v7.9H1195zM1403 434.1h33.9v7.9H1403zM1483.6 434.1h20.4v7.9H1483.6zM1080.8 441.7h40.6v7.9H1080.8zM1362.8 441.7h40.5v7.9H1362.8zM1483.6 441.7h20.4v7.9H1483.6zM1349.3 449.3h54v7.8H1349.3zM1483.6 449.3h20.4v7.8H1483.6zM1349.3 456.8h54v7.8H1349.3zM1356 464.3h47.3v7.8H1356zM1362.8 471.8h40.5v7.7H1362.8zM1349.3 479.2h33.9v7.7H1349.3zM1329.2 486.6h40.6v7.7H1329.2zM1309.1 494h7v7.6H1309.1zM1356 494h13.8v7.6H1356zM1423.2 494h20.4v7.6H1423.2zM1329.2 501.3h7v7.6H1329.2zM1080.8 523.1h20.5v7.5H1080.8zM1080.8 530.3h20.5v7.5H1080.8zM1080.8 537.5h20.5v7.5H1080.8z"/><path fill="#b2182b" d="M1825.9 85.2h20.4v12H1825.9zM1805.7 96.9h47.3v11.7H1805.7zM1456.7 108.3h20.5v11.5H1456.7zM1805.7 108.3h47.3v11.5H1805.7zM1456.7 119.5h27.2v11.4H1456.7zM1812.5 119.5h33.8v11.4H1812.5zM1456.7 130.6h27.2v11.2H1456.7zM1201.7 162.7h27.1v10.6H1201.7zM1409.7 304.6h47.3v8.9H1409.7zM1409.7 313.2h33.9v8.9H1409.7zM1409.7 321.8h20.5v8.7H1409.7zM1409.7 330.2h13.8v8.7H1409.7zM1107.7 411h13.7v8.1H1107.7zM1141.3 411h54v8.1H1141.3zM1107.7 418.8h13.7v8H1107.7zM1141.3 418.8h54v8H1141.3zM1107.7 426.5h13.7v7.9H1107.7zM1141.3 426.5h54v7.9H1141.3z"/><path fill="#ffffff" d="M1846 119.5h33.9v11.4H1846zM1846 130.6h33.9v11.2H1846zM1846 141.5h33.9v10.9H1846zM1846 152.1h33.9v10.9H1846zM1846 162.7h33.9v10.6H1846zM1846 173h33.9v10.5H1846zM1846 183.2h33.9v10.4H1846zM1846 193.3h33.9v10.2H1846zM1846 203.2h33.9v10.1H1846zM1846 213h33.9v10H1846zM1846 222.7h33.9v9.8H1846zM1846 232.2h33.9v9.7H1846zM1322.5 573.3h20.4v7.3H1322.5zM1322.5 580.3h20.4v7.4H1322.5zM1322.5 587.4h20.4v7.4H1322.5zM1382.9 594.5h20.4v7.4H1382.9zM1382.9 601.6h20.4v7.3H1382.9zM1382.9 608.6h20.4v7.4H1382.9z"/></g><rect x="1081.0" y="48.6" width="798.6" height="588.2" fill="none" stroke="#000" stroke-width="2.6"/><g transform="translate(908.6 0.0)"><path d="M322.3 66.4 321.5 74.1 327.7 77.1 336.8 75.6 338.4 68.0 330.7 64.1ZM264.7 123.2 269.6 118.3 276.1 115.1 284.3 116.8 295.7 120.8 301.5 115.9 294.9 110.2 285.9 102.9 277.8 96.3 270.4 89.8 267.0 85.0 268.0 85.1 277.1 83.3 287.9 78.7 294.0 72.6 297.8 61.8 295.8 48.6 267.5 48.6 266.4 58.8 261.8 69.5 255.7 77.1 249.6 72.6 246.5 63.4 238.9 60.3 234.3 54.2 231.9 48.6 206.5 48.6 206.0 57.2 200.6 64.9 196.0 74.1 189.9 68.0 186.8 60.3 193.0 54.2 192.2 48.6 172.4 48.6 172.4 521.9 182.2 524.1 193.0 528.7 200.6 525.6 211.3 530.2 223.6 539.4 235.8 542.5 249.6 545.5 255.7 551.6 264.9 563.9 271.0 570.0 277.1 576.1 286.3 579.2 292.5 583.8 300.1 586.8 304.7 585.3 307.8 580.0 313.9 579.2 318.5 585.3 320.0 593.0 321.5 603.7 321.5 615.9 316.9 622.1 307.8 631.2 302.2 636.8 502.7 636.8 502.7 636.1 504.2 633.1 502.7 626.9 501.1 620.8 496.5 613.2 490.4 608.6 481.2 602.5 470.0 599.1 454.7 597.6 448.6 591.4 442.5 585.3 433.3 580.7 430.2 573.1 428.7 563.9 421.0 566.9 414.9 565.4 407.3 566.9 396.5 566.9 384.3 565.4 379.7 563.9 369.0 555.5 362.9 557.8 361.3 566.9 358.3 566.9 356.7 557.8 353.7 556.2 343.0 562.4 335.3 563.9 327.7 576.1 324.6 582.3 315.4 573.1 307.8 571.5 300.1 574.6 292.5 573.1 286.3 571.5 283.3 563.9 278.7 554.7 280.2 542.5 280.2 533.3 277.1 528.7 264.9 527.1 252.7 527.1 246.5 524.1 249.6 518.0 252.7 505.7 255.7 499.6 258.8 488.9 255.7 485.8 246.5 487.4 240.4 490.4 238.9 496.5 234.3 502.7 228.2 507.2 219.0 508.8 209.8 511.8 205.2 508.8 197.6 501.1 191.4 493.5 185.3 484.3 183.8 475.1 185.3 462.9 185.3 450.6 186.8 439.9 191.4 432.2 202.1 424.6 203.7 424.4 215.9 424.4 228.2 422.9 234.3 419.8 235.8 421.3 237.4 429.0 240.4 425.9 243.5 421.3 249.6 418.3 255.7 419.8 264.9 421.3 277.1 425.9 283.3 432.1 287.9 441.2 289.4 450.0 292.5 450.6 295.5 457.5 298.6 460.6 301.6 454.4 302.4 450.0 304.7 450.0 300.1 441.2 295.5 429.0 294.0 418.3 295.5 407.6 300.1 401.4 307.8 395.3 315.4 392.3 324.6 386.1 329.2 380.0 326.1 375.4 332.3 370.8 329.2 363.2 326.1 357.0 327.7 350.9 332.3 346.3 338.4 343.3 343.0 337.1 353.7 334.1 361.3 329.5 369.0 328.0 365.9 324.9 362.9 321.8 369.0 315.7 378.6 306.7 390.7 298.9 402.0 294.5 407.1 292.3 406.3 291.9 405.5 286.7 403.7 280.7 402.9 274.6 405.5 270.3 408.9 266.8 407.2 264.2 401.1 264.2 394.2 266.8 386.4 270.3 378.6 275.5 370.8 280.7 363.0 287.2 359.5 286.7 361.2 285.4 368.2 277.6 375.1 270.3 382.0 264.6 389.8 260.7 393.3 256.4 399.4 253.9 412.4 253.1 425.4 253.9 436.7 253.9 442.7 248.6 449.7 243.8 455.8 242.1 465.3 240.8 463.6 243.4 461.8 245.1 455.8 253.8 451.4 260.7 447.1 267.6 441.9 275.5 442.0 276.4 451.4 279.8 460.1 282.4 468.8 283.3 477.4 284.1 485.2 285.0 486.1 278.1 483.5 269.4 480.9 262.4 477.4 259.8 468.8 255.5 467.0 248.6 467.9 240.8 467.0 236.4 466.2 226.0 462.7 221.7 455.8 215.6 449.7 213.0 442.7 206.9 434.1 202.6 428.0 200.0 425.9 193.8 428.5 189.9 427.2 184.8 422.1 178.5 414.4 168.3 409.3 158.1 406.0 154.0 404.2 154.4 395.0 165.9 387.4 176.6 384.3 173.6 376.6 161.3 375.1 152.1 372.1 146.0 364.4 146.0 359.8 143.0 350.6 136.8 339.9 133.8 329.2 130.7 316.9 132.2 315.4 136.8 317.7 143.0 320.8 152.1 316.9 158.3 316.2 167.5 320.8 176.6 320.8 182.8 324.6 190.4 323.8 198.1 315.4 207.3 306.2 213.4 308.5 224.1 313.1 237.1 304.7 245.5 297.0 236.3 288.6 228.7 288.2 221.0 286.3 210.3 274.1 205.0 261.8 202.7 249.6 194.2 237.4 188.1 228.2 185.8 220.5 188.1 219.7 179.7 215.9 170.5 206.7 168.2 203.7 162.9 205.2 152.1 209.8 143.0 215.9 135.3 220.5 129.2 231.2 121.5 234.3 115.4 236.9 113.4 245.2 112.7 251.6 107.0 253.4 104.7 256.2 97.0 256.9 90.9 258.2 85.1 260.3 84.5 262.3 84.7 259.4 85.1 260.3 92.3 261.1 100.4 260.3 111.0 258.0 116.8 263.1 118.3ZM330.7 51.1 335.3 55.7 346.0 63.4 352.9 75.6 344.5 80.2 346.0 87.9 343.0 95.5 330.7 97.0 316.9 98.6 313.9 103.2 315.4 107.8 323.1 107.8 338.4 109.3 346.0 112.4 353.7 116.9 369.0 124.6 378.2 130.7 388.9 136.5 399.6 136.5 402.4 136.6 395.0 130.7 384.3 123.1 378.2 115.4 387.4 118.5 398.1 123.1 405.7 126.1 408.8 121.5 408.8 112.4 402.7 106.2 393.5 98.6 387.4 92.5 388.9 86.3 396.5 90.9 404.2 97.0 410.3 103.2 414.9 100.1 424.1 90.9 428.7 83.3 422.6 78.7 411.8 71.0 402.7 66.4 393.5 64.9 384.3 60.3 382.8 54.2 387.3 48.6 330.0 48.6ZM280.2 135.3 289.4 133.8 292.5 129.2 286.3 127.7 277.1 130.7ZM309.3 133.8 303.2 132.2 303.2 141.4 307.8 141.4ZM308.5 192.7 303.2 194.2 304.7 202.7 310.1 201.1ZM309.3 447.6 310.8 449.8 316.9 450.6 321.5 454.4 322.3 450.6 318.5 445.3ZM330.0 463.6 329.2 459.0 323.8 456.7 326.1 462.9ZM316.9 471.3 320.8 470.5 319.2 461.3 314.7 459.0 313.9 464.4ZM344.5 478.2 339.9 476.6 341.4 482.0 345.3 482.0ZM287.9 487.4 287.1 483.5 281.7 484.3 283.3 488.1ZM310.8 488.9 316.9 495.0 320.0 498.4 329.2 498.4 339.9 498.8 341.4 496.5 335.3 493.5 326.1 490.4 320.0 485.8 310.8 481.2 301.6 476.6 289.4 473.6 277.1 476.6 269.5 484.3 274.1 485.1 280.2 482.8 286.3 481.2 295.5 481.2 304.7 484.3ZM351.4 491.9 350.6 488.1 345.3 488.9 346.0 492.2ZM326.1 514.1 329.2 511.8 321.5 508.5 313.9 510.3 316.9 513.7ZM489.9 100.1 493.0 110.8 496.0 116.9 502.1 127.7 509.8 139.9 514.4 147.6 523.6 150.6 534.3 152.1 545.0 158.3 551.1 155.2 555.7 143.0 558.0 135.3 555.0 129.2 561.8 121.5 566.4 112.4 568.0 106.2 564.9 101.6 569.5 98.6 577.1 95.5 592.5 94.0 601.6 89.4 612.4 81.7 618.5 75.6 626.1 68.0 635.3 64.9 653.7 60.3 669.0 54.2 679.7 49.6 679.9 48.6 499.1 48.6 499.1 51.1 497.6 60.3 485.3 61.8 480.7 69.5 479.2 84.8 483.8 92.5ZM678.2 103.2 681.2 106.2 687.4 112.4 687.4 116.9 699.6 118.5 714.9 121.5 730.2 113.9 744.0 107.8 748.6 100.1 747.1 95.5 740.9 87.9 730.2 84.8 721.0 87.9 711.8 90.9 702.7 90.9 698.1 95.5 695.0 90.9 688.9 86.3 679.7 87.9 679.7 92.5 676.6 97.0 684.3 97.0 687.4 98.6 681.2 100.1ZM406.3 256.4 408.1 259.8 415.0 262.4 421.9 264.6 426.3 263.3 421.1 259.8 413.3 257.2ZM434.1 295.4 439.7 291.9 438.4 286.7 435.9 283.6 434.1 283.3 429.7 286.7 425.4 290.2 416.7 291.9 409.8 293.7 407.6 292.6 404.6 297.1 399.4 302.3 395.9 308.4 398.5 312.7 408.1 308.4 416.7 304.1 425.4 299.7ZM647.6 354.5 649.0 355.3 653.0 356.1ZM667.7 361.8 671.8 361.8 667.1 360.2ZM729.5 399.8 730.8 398.6 728.2 398.6ZM724.1 400.6 725.5 402.2 728.2 401.4ZM361.3 486.6 360.6 484.0 352.2 484.3 352.9 487.0ZM353.7 511.8 361.3 514.9 367.5 511.8 378.2 511.8 381.2 508.8 373.6 502.7 365.9 498.8 355.2 498.1 346.0 499.6 349.1 502.7 350.6 505.7 346.0 507.2 339.9 508.5 341.4 510.3ZM399.6 508.5 388.9 508.5 388.9 512.8 400.4 512.6ZM429.2 528.2 429.2 524.4 428.7 524.3 428.7 523.8 425.8 524.0 423.1 523.6 423.8 528.2ZM431.7 537.1 432.1 534.5 428.7 534.0 428.7 536.6ZM922.7 87.1 913.8 98.6 906.1 107.5 898.5 117.7 890.8 122.8 885.7 124.1 875.5 134.3 871.7 141.9 873.0 153.4 876.8 159.8 875.5 167.4 878.1 172.6 883.2 175.1 892.1 176.4 901.0 170.0 909.9 164.9 913.8 167.4 918.9 178.9 924.0 191.7 926.5 198.1 929.1 204.4 934.2 204.4 941.8 198.1 949.5 189.1 952.0 172.6 961.0 166.2 964.8 157.2 962.2 149.6 957.1 141.9 959.7 131.7 967.3 124.1 971.0 121.6 971.0 48.6 945.7 48.6 945.7 48.8 941.8 52.7 935.5 60.3 929.1 66.7 925.3 73.1ZM796.4 136.8 799.0 133.0 793.9 131.7 788.8 134.3 790.1 136.8ZM832.1 152.1 828.3 154.7 830.2 158.5 832.8 158.5ZM806.6 204.4 809.2 209.5 814.3 210.8 818.1 214.6 814.3 218.5 809.2 221.0 813.0 223.6 811.7 228.7 805.4 231.2 806.6 236.3 814.3 240.2 814.3 245.3 807.9 249.1 801.5 254.2 804.1 256.7 814.3 254.2 824.5 249.1 833.4 249.1 843.6 247.8 846.2 244.0 851.3 241.4 852.6 232.5 848.7 229.9 842.3 227.4 839.8 221.0 834.7 214.6 829.6 205.7 824.5 200.6 819.4 198.1 821.9 193.0 827.0 186.6 824.5 182.8 816.8 182.8 814.3 180.2 819.4 177.7 819.4 172.6 811.7 171.3 801.5 172.6 796.4 173.8 793.9 177.7 791.3 182.8 800.3 187.9 799.0 195.5 801.5 200.6ZM788.8 236.3 797.7 232.5 800.3 227.4 801.5 218.5 802.8 212.1 799.0 207.0 792.6 205.7 784.9 207.0 778.6 210.8 773.5 215.9 772.2 221.0 773.5 226.1 772.2 232.5 770.9 237.6 778.6 238.9ZM922.7 214.6 912.5 214.6 910.6 204.4 911.9 195.5 909.9 185.3 906.1 182.8 898.5 187.9 893.4 193.0 894.6 203.2 897.2 210.8 897.2 217.2 889.5 221.0 881.9 222.3 873.0 226.1 869.1 233.8 860.2 244.0 847.4 247.9 839.8 254.2 837.2 259.3 827.0 263.2 824.5 267.0 814.3 267.0 807.9 269.5 809.2 274.6 821.9 278.5 827.0 283.6 832.1 291.2 832.1 298.9 829.6 306.5 829.6 314.2 821.9 314.2 814.3 312.9 804.1 312.9 796.4 311.6 786.2 311.6 778.6 316.7 779.8 326.9 778.6 338.4 777.3 348.6 779.8 357.6 779.8 366.5 788.8 366.5 793.9 367.8 799.0 371.6 801.5 374.8 805.4 372.9 814.3 370.3 824.5 367.8 829.6 363.9 837.2 356.3 841.1 353.7 837.2 348.6 841.1 341.0 850.0 332.0 858.9 328.2 860.2 319.3 865.3 314.2 873.0 316.7 880.6 318.0 888.3 311.6 895.9 306.5 903.6 307.8 906.0 308.2 910.7 315.1 914.7 322.8 922.1 327.8 927.5 332.9 935.6 336.2 940.9 341.2 945.6 349.5 948.3 356.1 945.6 359.4 948.3 360.2 951.7 356.1 955.0 351.2 951.7 345.4 955.7 339.6 961.1 342.9 964.4 344.6 964.4 341.2 960.4 337.1 953.7 332.9 947.6 330.4 948.3 327.0 942.3 327.0 934.9 321.1 931.5 313.4 924.8 308.2 922.8 301.3 923.5 296.9 928.8 294.3 932.9 295.2 931.5 299.5 936.2 297.8 940.3 303.9 943.6 309.1 950.3 313.4 957.7 317.7 961.7 321.1 965.8 322.8 969.1 326.1 971.0 326.9 971.0 213.3 963.5 209.5 954.6 210.8 941.8 214.6 931.6 212.1ZM898.6 321.9 898.0 328.7 902.0 331.2 904.0 326.1 904.7 321.1 903.3 317.7ZM905.4 342.9 906.0 335.4 902.0 332.9 898.0 335.4 895.3 337.9 896.6 344.6 896.6 352.0 900.7 351.2 904.7 349.5ZM858.4 347.0 861.1 348.7 863.1 345.4 861.1 343.7 856.4 346.2ZM850.3 352.8 851.0 350.3 849.0 352.0ZM923.5 358.6 924.1 362.6 936.2 367.5 942.3 369.9 941.6 365.1 945.0 356.9 930.2 357.7ZM743.1 437.6 746.9 437.6 750.8 430.7 748.5 428.4 742.4 432.2ZM736.2 440.7 737.8 436.8 731.6 432.2 725.5 435.3 728.6 439.1ZM929.1 400.9 918.9 398.4 911.2 394.5 907.4 390.7 909.9 386.9 911.2 380.5 911.2 372.9 908.7 367.8 903.6 365.2 897.2 366.5 888.3 367.8 878.1 369.0 867.9 367.8 860.2 369.0 850.0 370.3 839.8 372.9 832.1 376.7 821.9 381.8 814.3 380.5 806.6 379.2 802.8 376.7 799.0 380.5 793.9 386.9 784.9 394.5 778.6 399.6 774.7 406.0 773.5 413.7 773.5 420.1 768.4 425.2 760.7 430.3 754.3 434.1 750.5 439.2 745.4 446.8 745.4 450.6 739.3 462.9 733.2 470.5 727.0 481.2 725.5 490.4 730.1 496.5 730.1 502.7 731.6 511.8 730.1 524.1 724.0 534.8 727.0 542.5 728.6 551.6 734.7 556.2 736.2 560.8 742.4 566.9 750.0 574.6 753.1 585.3 760.7 591.4 769.9 597.6 779.1 605.2 788.3 609.8 797.5 605.2 812.8 603.7 825.0 606.7 837.3 600.6 849.5 596.0 866.3 594.5 872.5 599.1 877.1 608.3 889.3 609.8 898.5 609.8 897.0 615.9 903.1 620.5 904.6 628.2 901.5 636.7 901.5 636.8 971.0 636.8 971.0 418.7 967.3 417.5 961.0 413.7 952.0 411.1 943.1 408.6 939.3 403.5Z" fill="#a6a6a6" stroke="#6a6a6a" stroke-width="3.4" stroke-linejoin="round" fill-rule="evenodd"/><path d="M190.5 252.0 193.2 246.5 190.5 237.1 187.8 225.7 178.4 219.0 174.4 222.8 179.1 233.3 185.2 243.7ZM174.4 235.2 172.4 230.2 172.4 242.7 173.7 246.5 177.1 243.7ZM245.7 282.1 250.0 282.9 251.4 285.0 254.3 288.9 260.0 287.1 267.1 287.1 272.9 288.6 271.8 280.7 270.4 275.0 266.4 274.6 263.2 271.4 260.0 267.1 254.3 267.1 248.9 265.4 242.9 270.7 237.1 276.4 230.0 281.4 221.4 286.1 229.3 283.6 233.6 287.1 240.0 283.6ZM278.6 307.1 277.9 312.1 279.3 311.4 282.1 308.6 284.3 312.1 287.1 317.1 290.0 315.7 291.4 311.4 292.1 304.3 293.6 299.3 297.9 302.9 302.9 305.0 305.0 302.9 302.1 298.6 297.9 292.1 288.6 290.0 278.6 290.0 274.3 290.0 270.0 292.1 274.3 295.7 279.3 298.6 280.7 302.1ZM252.9 328.6 256.4 329.3 260.0 324.3 260.7 317.1 261.4 309.3 261.4 302.9 264.3 298.6 268.6 295.7 270.0 292.1 264.3 292.1 255.7 294.3 252.9 298.6 250.0 304.3 250.7 310.0 250.0 317.1 250.7 323.6ZM324.3 315.0 330.0 314.3 330.7 311.4 330.0 306.4 327.1 307.1 321.4 309.3 313.6 310.7 307.9 312.1 305.0 315.7 306.4 317.9 311.4 316.4 317.1 315.7ZM306.4 323.6 311.4 320.0 310.0 317.9 302.9 318.6 295.7 320.7 290.0 323.6 284.3 325.7 278.6 328.6 285.0 330.7 292.1 329.3 299.3 325.7ZM933.7 538.6 927.6 539.4 930.6 545.5 935.2 551.6 941.3 547.0Z" fill="#fff" stroke="#6a6a6a" stroke-width="3.4" stroke-linejoin="round"/></g><line x1="1279.0" y1="636.8" x2="1279.0" y2="629.8" stroke="#000" stroke-width="2.6"/><line x1="1279.0" y1="48.6" x2="1279.0" y2="55.6" stroke="#000" stroke-width="2.6"/><line x1="1480.4" y1="636.8" x2="1480.4" y2="629.8" stroke="#000" stroke-width="2.6"/><line x1="1480.4" y1="48.6" x2="1480.4" y2="55.6" stroke="#000" stroke-width="2.6"/><line x1="1681.7" y1="636.8" x2="1681.7" y2="629.8" stroke="#000" stroke-width="2.6"/><line x1="1681.7" y1="48.6" x2="1681.7" y2="55.6" stroke="#000" stroke-width="2.6"/><line x1="1081.0" y1="497.8" x2="1088.0" y2="497.8" stroke="#000" stroke-width="2.6"/><line x1="1879.6" y1="497.8" x2="1872.6" y2="497.8" stroke="#000" stroke-width="2.6"/><line x1="1081.0" y1="342.9" x2="1088.0" y2="342.9" stroke="#000" stroke-width="2.6"/><line x1="1879.6" y1="342.9" x2="1872.6" y2="342.9" stroke="#000" stroke-width="2.6"/><line x1="1081.0" y1="157.6" x2="1088.0" y2="157.6" stroke="#000" stroke-width="2.6"/><line x1="1879.6" y1="157.6" x2="1872.6" y2="157.6" stroke="#000" stroke-width="2.6"/><text x="1480.3" y="36.5" text-anchor="middle" font-weight="bold" font-size="48" textLength="639" lengthAdjust="spacing">b. SSS anomaly (June 2023)</text><clipPath id="clipc"><rect x="172.4" y="731.9" width="798.6" height="588.2"/></clipPath><g clip-path="url(#clipc)"><rect x="172.4" y="731.9" width="798.6" height="588.2" fill="#f8ece6"/><path fill="#1b3565" d="M185.7 732.2h33.8v12.6H185.7zM460.9 732.2h40.5v12.6H460.9zM185.7 744.5h33.8v12.4H185.7zM460.9 744.5h40.5v12.4H460.9zM185.7 756.6h33.8v12.2H185.7zM460.9 756.6h40.5v12.2H460.9zM185.7 768.5h33.8v12H185.7zM460.9 768.5h40.5v12H460.9zM460.9 780.2h40.5v11.7H460.9zM460.9 791.6h20.4v11.5H460.9zM460.9 802.8h13.7v11.4H460.9zM299.8 813.9h7v11.2H299.8zM460.9 813.9h7v11.2H460.9zM481 906h27.1v9.8H481zM494.4 915.5h13.7v9.7H494.4zM501.1 924.9h13.8v9.6H501.1zM501.1 934.2h27.2v9.5H501.1zM507.9 943.4h20.4v9.4H507.9zM514.6 952.5h13.7v9.3H514.6zM521.3 961.5h7v9.2H521.3zM360.2 1013.5h7v8.7H360.2zM420.6 1220.8h47.3v7.5H420.6zM413.9 1228h54v7.5H413.9zM407.2 1235.2h60.7v7.4H407.2zM400.5 1242.3h67.4v7.4H400.5zM400.5 1249.4h74.1v7.5H400.5zM400.5 1256.6h13.7v7.3H400.5zM434 1256.6h47.3v7.3H434zM434 1263.6h74.1v7.4H434zM434 1270.7h74.1v7.4H434zM427.3 1277.8h47.3v7.4H427.3zM494.4 1277.8h13.7v7.4H494.4zM494.4 1284.9h13.7v7.3H494.4zM494.4 1291.9h20.5v7.4H494.4zM487.7 1299h33.9v7.3H487.7zM487.7 1306h40.6v7.4H487.7zM487.7 1313.1h40.6v7.3H487.7z"/><path fill="#4683c0" d="M246.1 732.2h33.8v12.6H246.1zM313.2 732.2h13.7v12.6H313.2zM608.5 732.2h20.5v12.6H608.5zM715.9 732.2h13.7v12.6H715.9zM246.1 744.5h33.8v12.4H246.1zM313.2 744.5h13.7v12.4H313.2zM608.5 744.5h20.5v12.4H608.5zM715.9 744.5h13.7v12.4H715.9zM246.1 756.6h40.6v12.2H246.1zM454.2 756.6h7v12.2H454.2zM272.9 768.5h13.8v12H272.9zM454.2 768.5h7v12H454.2zM272.9 780.2h13.8v11.7H272.9zM340.1 780.2h20.4v11.7H340.1zM279.6 791.6h13.8v11.5H279.6zM340.1 791.6h13.7v11.5H340.1zM447.4 791.6h7.1v11.5H447.4zM487.7 791.6h7v11.5H487.7zM286.4 802.8h13.7v11.4H286.4zM306.5 802.8h13.7v11.4H306.5zM447.4 802.8h7.1v11.4H447.4zM286.4 813.9h7v11.2H286.4zM319.9 813.9h13.7v11.2H319.9zM447.4 813.9h7.1v11.2H447.4zM481 813.9h7v11.2H481zM447.4 824.8h7.1v10.9H447.4zM474.3 824.8h13.7v10.9H474.3zM447.4 835.4h13.8v10.9H447.4zM467.6 835.4h13.7v10.9H467.6zM454.2 846h20.4v10.6H454.2zM843.4 846h7.1v10.6H843.4zM454.2 856.3h13.7v10.5H454.2zM440.7 866.5h13.8v10.4H440.7zM434 876.6h20.5v10.2H434zM434 886.5h20.5v10.1H434zM434 896.3h13.7v10H434zM467.6 896.3h13.7v10H467.6zM507.9 896.3h7v10H507.9zM467.6 906h7v9.8H467.6zM514.6 906h7v9.8H514.6zM474.3 915.5h7v9.7H474.3zM521.3 915.5h7v9.7H521.3zM481 924.9h7v9.6H481zM528 924.9h7v9.6H528zM487.7 934.2h7v9.5H487.7zM534.7 934.2h7v9.5H534.7zM487.7 943.4h13.7v9.4H487.7zM534.7 943.4h7v9.4H534.7zM494.4 952.5h7v9.3H494.4zM534.7 952.5h7v9.3H534.7zM501.1 961.5h7v9.2H501.1zM400.5 987.9h13.7v8.9H400.5zM380.3 1013.5h7v8.7H380.3zM393.7 1155.1h20.5v7.7H393.7zM407.2 1206.4h33.8v7.5H407.2zM400.5 1213.6h13.7v7.5H400.5zM454.2 1213.6h13.7v7.5H454.2zM380.3 1220.8h27.2v7.5H380.3zM239.4 1228h27.1v7.5H239.4zM380.3 1228h20.5v7.5H380.3zM474.3 1228h7v7.5H474.3zM232.7 1235.2h33.8v7.4H232.7zM387 1235.2h7v7.4H387zM474.3 1235.2h7v7.4H474.3zM494.4 1235.2h13.7v7.4H494.4zM192.4 1242.3h20.4v7.4H192.4zM232.7 1242.3h33.8v7.4H232.7zM387 1242.3h7v7.4H387zM481 1242.3h33.9v7.4H481zM225.9 1249.4h40.6v7.5H225.9zM387 1249.4h7v7.5H387zM507.9 1249.4h13.7v7.5H507.9zM219.2 1256.6h54v7.3H219.2zM387 1256.6h7v7.3H387zM514.6 1256.6h33.8v7.3H514.6zM601.8 1256.6h27.2v7.3H601.8zM695.8 1256.6h13.7v7.3H695.8zM219.2 1263.6h67.5v7.4H219.2zM521.3 1263.6h33.8v7.4H521.3zM595.1 1263.6h40.6v7.4H595.1zM689.1 1263.6h13.7v7.4H689.1zM709.2 1263.6h13.7v7.4H709.2zM219.2 1270.7h67.5v7.4H219.2zM521.3 1270.7h20.4v7.4H521.3zM615.2 1270.7h13.8v7.4H615.2zM689.1 1270.7h13.7v7.4H689.1zM709.2 1270.7h13.7v7.4H709.2zM762.9 1270.7h7v7.4H762.9zM219.2 1277.8h60.7v7.4H219.2zM521.3 1277.8h13.7v7.4H521.3zM682.4 1277.8h54v7.4H682.4zM756.2 1277.8h13.7v7.4H756.2zM219.2 1284.9h54v7.3H219.2zM521.3 1284.9h7v7.3H521.3zM675.6 1284.9h94.3v7.3H675.6zM252.8 1291.9h13.7v7.4H252.8zM528 1291.9h7v7.4H528zM695.8 1291.9h40.6v7.4H695.8zM528 1299h7v7.3H528zM528 1306h7v7.4H528zM528 1313.1h7v7.3H528z"/><path fill="#5ca0cb" d="M286.4 732.2h27.1v12.6H286.4zM454.2 732.2h7v12.6H454.2zM628.7 732.2h13.7v12.6H628.7zM682.4 732.2h33.8v12.6H682.4zM729.3 732.2h7.1v12.6H729.3zM286.4 744.5h27.1v12.4H286.4zM454.2 744.5h7v12.4H454.2zM628.7 744.5h13.7v12.4H628.7zM682.4 744.5h33.8v12.4H682.4zM729.3 744.5h7.1v12.4H729.3zM286.4 756.6h40.5v12.2H286.4zM622 756.6h7v12.2H622zM709.2 756.6h20.4v12.2H709.2zM246.1 768.5h27.1v12H246.1zM286.4 768.5h13.7v12H286.4zM246.1 780.2h27.1v11.7H246.1zM286.4 780.2h13.7v11.7H286.4zM333.3 780.2h7v11.7H333.3zM447.4 780.2h7.1v11.7H447.4zM252.8 791.6h27.1v11.5H252.8zM293.1 791.6h20.4v11.5H293.1zM326.6 791.6h13.7v11.5H326.6zM353.5 791.6h13.7v11.5H353.5zM259.5 802.8h27.2v11.4H259.5zM319.9 802.8h47.3v11.4H319.9zM440.7 802.8h7v11.4H440.7zM259.5 813.9h27.2v11.2H259.5zM333.3 813.9h33.9v11.2H333.3zM440.7 813.9h7v11.2H440.7zM299.8 824.8h7v10.9H299.8zM333.3 824.8h33.9v10.9H333.3zM440.7 824.8h7v10.9H440.7zM843.4 824.8h7.1v10.9H843.4zM340.1 835.4h27.1v10.9H340.1zM440.7 835.4h7v10.9H440.7zM481 835.4h7v10.9H481zM843.4 835.4h13.8v10.9H843.4zM434 846h20.5v10.6H434zM474.3 846h13.7v10.6H474.3zM836.7 846h7v10.6H836.7zM850.2 846h7v10.6H850.2zM427.3 856.3h27.2v10.5H427.3zM467.6 856.3h20.4v10.5H467.6zM420.6 866.5h20.4v10.4H420.6zM454.2 866.5h27.1v10.4H454.2zM615.2 866.5h13.8v10.4H615.2zM407.2 876.6h27.1v10.2H407.2zM454.2 876.6h20.4v10.2H454.2zM601.8 876.6h33.9v10.2H601.8zM407.2 886.5h27.1v10.1H407.2zM454.2 886.5h60.7v10.1H454.2zM601.8 886.5h27.2v10.1H601.8zM407.2 896.3h27.1v10H407.2zM447.4 896.3h20.5v10H447.4zM514.6 896.3h7v10H514.6zM447.4 906h20.5v9.8H447.4zM521.3 906h7v9.8H521.3zM460.9 915.5h13.7v9.7H460.9zM528 915.5h7v9.7H528zM467.6 924.9h13.7v9.6H467.6zM534.7 924.9h7v9.6H534.7zM474.3 934.2h13.7v9.5H474.3zM541.4 934.2h7v9.5H541.4zM481 943.4h7v9.4H481zM541.4 943.4h7v9.4H541.4zM487.7 952.5h7v9.3H487.7zM487.7 961.5h13.7v9.2H487.7zM534.7 961.5h7v9.2H534.7zM413.9 987.9h13.7v8.9H413.9zM400.5 996.5h27.1v8.9H400.5zM360.2 1005.1h7v8.7H360.2zM353.5 1013.5h7v8.7H353.5zM387 1013.5h7v8.7H387zM481 1013.5h13.7v8.7H481zM944.1 1054.7h7v8.3H944.1zM937.4 1062.7h20.5v8.3H937.4zM319.9 1125h7v7.9H319.9zM319.9 1132.6h13.7v7.8H319.9zM259.5 1147.6h27.2v7.8H259.5zM393.7 1147.6h20.5v7.8H393.7zM252.8 1155.1h33.9v7.7H252.8zM380.3 1155.1h13.7v7.7H380.3zM413.9 1155.1h20.4v7.7H413.9zM252.8 1162.5h33.9v7.7H252.8zM252.8 1169.9h27.1v7.7H252.8zM252.8 1177.3h20.4v7.6H252.8zM259.5 1184.6h7v7.6H259.5zM400.5 1199.2h33.8v7.5H400.5zM501.1 1199.2h7v7.5H501.1zM212.5 1206.4h13.7v7.5H212.5zM393.7 1206.4h13.8v7.5H393.7zM440.7 1206.4h27.2v7.5H440.7zM501.1 1206.4h7v7.5H501.1zM212.5 1213.6h20.5v7.5H212.5zM380.3 1213.6h20.5v7.5H380.3zM467.6 1213.6h13.7v7.5H467.6zM494.4 1213.6h20.5v7.5H494.4zM212.5 1220.8h27.2v7.5H212.5zM366.9 1220.8h13.7v7.5H366.9zM474.3 1220.8h7v7.5H474.3zM494.4 1220.8h20.5v7.5H494.4zM199.1 1228h40.6v7.5H199.1zM373.6 1228h7v7.5H373.6zM481 1228h40.6v7.5H481zM192.4 1235.2h40.6v7.4H192.4zM266.2 1235.2h7v7.4H266.2zM373.6 1235.2h13.7v7.4H373.6zM481 1235.2h13.7v7.4H481zM507.9 1235.2h27.1v7.4H507.9zM581.7 1235.2h94.2v7.4H581.7zM172.2 1242.3h20.5v7.4H172.2zM212.5 1242.3h20.5v7.4H212.5zM266.2 1242.3h7v7.4H266.2zM380.3 1242.3h7v7.4H380.3zM514.6 1242.3h40.5v7.4H514.6zM575 1242.3h121.1v7.4H575zM185.7 1249.4h40.5v7.5H185.7zM266.2 1249.4h13.7v7.5H266.2zM380.3 1249.4h7v7.5H380.3zM521.3 1249.4h40.5v7.5H521.3zM568.3 1249.4h147.9v7.5H568.3zM199.1 1256.6h20.4v7.3H199.1zM272.9 1256.6h13.8v7.3H272.9zM380.3 1256.6h7v7.3H380.3zM548.1 1256.6h54v7.3H548.1zM628.7 1256.6h67.4v7.3H628.7zM709.2 1256.6h13.7v7.3H709.2zM205.8 1263.6h13.7v7.4H205.8zM286.4 1263.6h13.7v7.4H286.4zM554.8 1263.6h40.6v7.4H554.8zM635.4 1263.6h54v7.4H635.4zM722.6 1263.6h13.8v7.4H722.6zM205.8 1270.7h13.7v7.4H205.8zM286.4 1270.7h7v7.4H286.4zM319.9 1270.7h20.4v7.4H319.9zM541.4 1270.7h74.1v7.4H541.4zM628.7 1270.7h60.7v7.4H628.7zM722.6 1270.7h40.6v7.4H722.6zM769.6 1270.7h13.7v7.4H769.6zM205.8 1277.8h13.7v7.4H205.8zM279.6 1277.8h13.8v7.4H279.6zM319.9 1277.8h20.4v7.4H319.9zM534.7 1277.8h20.4v7.4H534.7zM568.3 1277.8h114.4v7.4H568.3zM736.1 1277.8h20.4v7.4H736.1zM769.6 1277.8h13.7v7.4H769.6zM205.8 1284.9h13.7v7.3H205.8zM272.9 1284.9h13.8v7.3H272.9zM319.9 1284.9h20.4v7.3H319.9zM528 1284.9h13.7v7.3H528zM575 1284.9h20.4v7.3H575zM615.2 1284.9h60.7v7.3H615.2zM769.6 1284.9h13.7v7.3H769.6zM212.5 1291.9h40.6v7.4H212.5zM266.2 1291.9h13.7v7.4H266.2zM319.9 1291.9h20.4v7.4H319.9zM534.7 1291.9h7v7.4H534.7zM622 1291.9h74.1v7.4H622zM736.1 1291.9h40.5v7.4H736.1zM883.7 1291.9h20.5v7.4H883.7zM219.2 1299h54v7.3H219.2zM319.9 1299h20.4v7.3H319.9zM534.7 1299h7v7.3H534.7zM648.8 1299h121.1v7.3H648.8zM803.2 1299h13.7v7.3H803.2zM883.7 1299h20.5v7.3H883.7zM252.8 1306h13.7v7.4H252.8zM534.7 1306h7v7.4H534.7zM655.5 1306h20.4v7.4H655.5zM695.8 1306h40.6v7.4H695.8zM796.5 1306h40.5v7.4H796.5zM877 1306h27.2v7.4H877zM252.8 1313.1h13.7v7.3H252.8zM534.7 1313.1h7v7.3H534.7zM655.5 1313.1h20.4v7.3H655.5zM695.8 1313.1h40.6v7.3H695.8zM796.5 1313.1h40.5v7.3H796.5zM877 1313.1h27.2v7.3H877z"/><path fill="#9dcbe1" d="M326.6 732.2h7v12.6H326.6zM642.1 732.2h13.7v12.6H642.1zM668.9 732.2h13.8v12.6H668.9zM736.1 732.2h7v12.6H736.1zM326.6 744.5h7v12.4H326.6zM642.1 744.5h13.7v12.4H642.1zM668.9 744.5h13.8v12.4H668.9zM736.1 744.5h7v12.4H736.1zM326.6 756.6h7v12.2H326.6zM447.4 756.6h7.1v12.2H447.4zM608.5 756.6h13.8v12.2H608.5zM628.7 756.6h13.7v12.2H628.7zM675.6 756.6h33.9v12.2H675.6zM729.3 756.6h13.8v12.2H729.3zM299.8 768.5h60.7v12H299.8zM447.4 768.5h7.1v12H447.4zM682.4 768.5h54v12H682.4zM299.8 780.2h13.7v11.7H299.8zM326.6 780.2h7v11.7H326.6zM440.7 780.2h7v11.7H440.7zM756.2 780.2h20.4v11.7H756.2zM246.1 791.6h7v11.5H246.1zM313.2 791.6h13.7v11.5H313.2zM366.9 791.6h13.7v11.5H366.9zM440.7 791.6h7v11.5H440.7zM494.4 791.6h7v11.5H494.4zM246.1 802.8h13.7v11.4H246.1zM366.9 802.8h13.7v11.4H366.9zM487.7 802.8h7v11.4H487.7zM246.1 813.9h13.7v11.2H246.1zM366.9 813.9h13.7v11.2H366.9zM615.2 813.9h13.8v11.2H615.2zM843.4 813.9h13.8v11.2H843.4zM293.1 824.8h7v10.9H293.1zM306.5 824.8h27.1v10.9H306.5zM366.9 824.8h13.7v10.9H366.9zM434 824.8h7v10.9H434zM487.7 824.8h7v10.9H487.7zM615.2 824.8h13.8v10.9H615.2zM836.7 824.8h7v10.9H836.7zM850.2 824.8h13.7v10.9H850.2zM366.9 835.4h20.4v10.9H366.9zM434 835.4h7v10.9H434zM487.7 835.4h7v10.9H487.7zM615.2 835.4h20.5v10.9H615.2zM830 835.4h13.7v10.9H830zM856.9 835.4h7v10.9H856.9zM366.9 846h27.1v10.6H366.9zM413.9 846h20.4v10.6H413.9zM487.7 846h13.7v10.6H487.7zM615.2 846h20.5v10.6H615.2zM830 846h7v10.6H830zM856.9 846h7v10.6H856.9zM366.9 856.3h27.1v10.5H366.9zM407.2 856.3h20.4v10.5H407.2zM487.7 856.3h13.7v10.5H487.7zM601.8 856.3h40.6v10.5H601.8zM830 856.3h27.2v10.5H830zM366.9 866.5h27.1v10.4H366.9zM407.2 866.5h13.7v10.4H407.2zM481 866.5h27.1v10.4H481zM595.1 866.5h20.4v10.4H595.1zM628.7 866.5h20.4v10.4H628.7zM682.4 866.5h7v10.4H682.4zM816.6 866.5h13.7v10.4H816.6zM474.3 876.6h40.6v10.2H474.3zM588.4 876.6h13.7v10.2H588.4zM635.4 876.6h20.4v10.2H635.4zM675.6 876.6h20.5v10.2H675.6zM803.2 876.6h27.1v10.2H803.2zM883.7 876.6h20.5v10.2H883.7zM514.6 886.5h13.7v10.1H514.6zM588.4 886.5h13.7v10.1H588.4zM628.7 886.5h27.1v10.1H628.7zM682.4 886.5h7v10.1H682.4zM803.2 886.5h27.1v10.1H803.2zM883.7 886.5h20.5v10.1H883.7zM521.3 896.3h7v10H521.3zM595.1 896.3h60.7v10H595.1zM816.6 896.3h13.7v10H816.6zM883.7 896.3h20.5v10H883.7zM528 906h7v9.8H528zM595.1 906h60.7v9.8H595.1zM454.2 915.5h7v9.7H454.2zM534.7 915.5h7v9.7H534.7zM601.8 915.5h27.2v9.7H601.8zM460.9 924.9h7v9.6H460.9zM541.4 924.9h7v9.6H541.4zM460.9 934.2h13.7v9.5H460.9zM548.1 934.2h13.7v9.5H548.1zM715.9 934.2h20.5v9.5H715.9zM474.3 943.4h7v9.4H474.3zM548.1 943.4h7v9.4H548.1zM709.2 943.4h27.2v9.4H709.2zM481 952.5h7v9.3H481zM541.4 952.5h7v9.3H541.4zM702.5 952.5h33.9v9.3H702.5zM762.9 952.5h7v9.3H762.9zM481 961.5h7v9.2H481zM541.4 961.5h7v9.2H541.4zM702.5 961.5h33.9v9.2H702.5zM756.2 961.5h20.4v9.2H756.2zM507.9 970.4h20.4v9.1H507.9zM702.5 970.4h27.1v9.1H702.5zM762.9 970.4h7v9.1H762.9zM400.5 979.2h20.4v9H400.5zM393.7 996.5h7.1v8.9H393.7zM366.9 1005.1h13.7v8.7H366.9zM387 1005.1h40.6v8.7H387zM393.7 1013.5h7.1v8.7H393.7zM413.9 1013.5h20.4v8.7H413.9zM474.3 1013.5h7v8.7H474.3zM494.4 1013.5h13.7v8.7H494.4zM635.4 1013.5h13.7v8.7H635.4zM360.2 1021.9h33.8v8.6H360.2zM413.9 1021.9h20.4v8.6H413.9zM481 1021.9h7v8.6H481zM635.4 1021.9h13.7v8.6H635.4zM413.9 1030.2h20.4v8.5H413.9zM622 1030.2h13.7v8.5H622zM413.9 1038.4h20.4v8.5H413.9zM615.2 1038.4h20.5v8.5H615.2zM930.7 1038.4h40.6v8.5H930.7zM622 1046.6h13.7v8.4H622zM924 1046.6h47.3v8.4H924zM635.4 1054.7h13.7v8.3H635.4zM917.3 1054.7h27.1v8.3H917.3zM950.8 1054.7h20.5v8.3H950.8zM635.4 1062.7h33.8v8.3H635.4zM910.6 1062.7h27.1v8.3H910.6zM957.6 1062.7h13.7v8.3H957.6zM655.5 1070.7h13.7v8.2H655.5zM910.6 1070.7h54v8.2H910.6zM910.6 1078.6h40.5v8.2H910.6zM319.9 1109.8h13.7v7.9H319.9zM319.9 1117.4h20.4v7.9H319.9zM313.2 1125h7v7.9H313.2zM326.6 1125h20.5v7.9H326.6zM252.8 1132.6h40.6v7.8H252.8zM306.5 1132.6h13.7v7.8H306.5zM333.3 1132.6h13.8v7.8H333.3zM246.1 1140.1h47.3v7.8H246.1zM313.2 1140.1h27.1v7.8H313.2zM400.5 1140.1h13.7v7.8H400.5zM239.4 1147.6h20.4v7.8H239.4zM286.4 1147.6h13.7v7.8H286.4zM319.9 1147.6h7v7.8H319.9zM380.3 1147.6h13.7v7.8H380.3zM413.9 1147.6h20.4v7.8H413.9zM232.7 1155.1h20.4v7.7H232.7zM286.4 1155.1h13.7v7.7H286.4zM373.6 1155.1h7v7.7H373.6zM434 1155.1h13.7v7.7H434zM239.4 1162.5h13.7v7.7H239.4zM286.4 1162.5h13.7v7.7H286.4zM373.6 1162.5h27.2v7.7H373.6zM239.4 1169.9h13.7v7.7H239.4zM279.6 1169.9h13.8v7.7H279.6zM380.3 1169.9h7v7.7H380.3zM682.4 1169.9h7v7.7H682.4zM239.4 1177.3h13.7v7.6H239.4zM272.9 1177.3h20.5v7.6H272.9zM675.6 1177.3h40.6v7.6H675.6zM239.4 1184.6h20.4v7.6H239.4zM266.2 1184.6h20.5v7.6H266.2zM668.9 1184.6h40.6v7.6H668.9zM246.1 1191.9h33.8v7.6H246.1zM501.1 1191.9h7v7.6H501.1zM662.2 1191.9h40.6v7.6H662.2zM252.8 1199.2h20.4v7.5H252.8zM387 1199.2h13.8v7.5H387zM434 1199.2h20.5v7.5H434zM487.7 1199.2h13.7v7.5H487.7zM507.9 1199.2h13.7v7.5H507.9zM655.5 1199.2h40.6v7.5H655.5zM199.1 1206.4h13.7v7.5H199.1zM225.9 1206.4h7.1v7.5H225.9zM252.8 1206.4h13.7v7.5H252.8zM380.3 1206.4h13.7v7.5H380.3zM467.6 1206.4h13.7v7.5H467.6zM487.7 1206.4h13.7v7.5H487.7zM507.9 1206.4h13.7v7.5H507.9zM648.8 1206.4h40.6v7.5H648.8zM199.1 1213.6h13.7v7.5H199.1zM232.7 1213.6h7v7.5H232.7zM252.8 1213.6h13.7v7.5H252.8zM366.9 1213.6h13.7v7.5H366.9zM481 1213.6h13.7v7.5H481zM514.6 1213.6h13.7v7.5H514.6zM635.4 1213.6h47.3v7.5H635.4zM199.1 1220.8h13.7v7.5H199.1zM313.2 1220.8h20.4v7.5H313.2zM353.5 1220.8h13.7v7.5H353.5zM481 1220.8h13.7v7.5H481zM514.6 1220.8h20.4v7.5H514.6zM575 1220.8h100.9v7.5H575zM192.4 1228h7v7.5H192.4zM266.2 1228h7v7.5H266.2zM360.2 1228h13.7v7.5H360.2zM521.3 1228h33.8v7.5H521.3zM568.3 1228h121.1v7.5H568.3zM172.2 1235.2h20.5v7.4H172.2zM366.9 1235.2h7v7.4H366.9zM534.7 1235.2h47.3v7.4H534.7zM675.6 1235.2h27.2v7.4H675.6zM272.9 1242.3h7v7.4H272.9zM366.9 1242.3h13.7v7.4H366.9zM554.8 1242.3h20.5v7.4H554.8zM695.8 1242.3h20.4v7.4H695.8zM172.2 1249.4h13.8v7.5H172.2zM279.6 1249.4h7.1v7.5H279.6zM366.9 1249.4h13.7v7.5H366.9zM561.5 1249.4h7.1v7.5H561.5zM715.9 1249.4h20.5v7.5H715.9zM172.2 1256.6h27.2v7.3H172.2zM286.4 1256.6h13.7v7.3H286.4zM366.9 1256.6h13.7v7.3H366.9zM722.6 1256.6h40.6v7.3H722.6zM192.4 1263.6h13.7v7.4H192.4zM299.8 1263.6h20.4v7.4H299.8zM736.1 1263.6h27.1v7.4H736.1zM192.4 1270.7h13.7v7.4H192.4zM293.1 1270.7h27.1v7.4H293.1zM783 1270.7h33.9v7.4H783zM836.7 1270.7h20.5v7.4H836.7zM192.4 1277.8h13.7v7.4H192.4zM293.1 1277.8h7v7.4H293.1zM306.5 1277.8h13.7v7.4H306.5zM554.8 1277.8h13.8v7.4H554.8zM783 1277.8h33.9v7.4H783zM836.7 1277.8h20.5v7.4H836.7zM192.4 1284.9h13.7v7.3H192.4zM286.4 1284.9h13.7v7.3H286.4zM306.5 1284.9h13.7v7.3H306.5zM541.4 1284.9h33.9v7.3H541.4zM595.1 1284.9h20.4v7.3H595.1zM783 1284.9h33.9v7.3H783zM836.7 1284.9h20.5v7.3H836.7zM185.7 1291.9h27.1v7.4H185.7zM279.6 1291.9h13.8v7.4H279.6zM313.2 1291.9h7v7.4H313.2zM541.4 1291.9h80.9v7.4H541.4zM776.3 1291.9h87.6v7.4H776.3zM870.3 1291.9h13.7v7.4H870.3zM172.2 1299h47.3v7.3H172.2zM272.9 1299h13.8v7.3H272.9zM548.1 1299h47.3v7.3H548.1zM608.5 1299h40.6v7.3H608.5zM769.6 1299h33.9v7.3H769.6zM816.6 1299h67.4v7.3H816.6zM172.2 1306h80.9v7.4H172.2zM266.2 1306h13.7v7.4H266.2zM554.8 1306h20.5v7.4H554.8zM615.2 1306h40.6v7.4H615.2zM675.6 1306h20.5v7.4H675.6zM736.1 1306h60.7v7.4H736.1zM836.7 1306h40.6v7.4H836.7zM172.2 1313.1h80.9v7.3H172.2zM266.2 1313.1h13.7v7.3H266.2zM554.8 1313.1h20.5v7.3H554.8zM615.2 1313.1h40.6v7.3H615.2zM675.6 1313.1h20.5v7.3H675.6zM736.1 1313.1h60.7v7.3H736.1zM836.7 1313.1h40.6v7.3H836.7z"/><path fill="#eca283" d="M340.1 732.2h20.4v12.6H340.1zM420.6 732.2h27.1v12.6H420.6zM897.1 732.2h13.8v12.6H897.1zM340.1 744.5h20.4v12.4H340.1zM420.6 744.5h27.1v12.4H420.6zM897.1 744.5h13.8v12.4H897.1zM407.2 756.6h20.4v12.2H407.2zM883.7 756.6h13.7v12.2H883.7zM877 768.5h7v12H877zM870.3 780.2h7v11.7H870.3zM420.6 791.6h7v11.5H420.6zM568.3 791.6h7v11.5H568.3zM870.3 791.6h7v11.5H870.3zM413.9 802.8h13.7v11.4H413.9zM575 802.8h7v11.4H575zM407.2 813.9h13.7v11.2H407.2zM575 813.9h7v11.2H575zM877 813.9h7v11.2H877zM219.2 824.8h13.8v10.9H219.2zM501.1 824.8h20.5v10.9H501.1zM534.7 824.8h13.7v10.9H534.7zM575 824.8h7v10.9H575zM877 824.8h7v10.9H877zM897.1 824.8h7.1v10.9H897.1zM259.5 835.4h27.2v10.9H259.5zM534.7 835.4h40.6v10.9H534.7zM877 835.4h7v10.9H877zM897.1 835.4h7.1v10.9H897.1zM319.9 846h20.4v10.6H319.9zM534.7 846h20.4v10.6H534.7zM877 846h7v10.6H877zM313.2 856.3h27.1v10.5H313.2zM541.4 856.3h13.7v10.5H541.4zM883.7 856.3h13.7v10.5H883.7zM279.6 866.5h20.5v10.4H279.6zM306.5 866.5h33.8v10.4H306.5zM554.8 866.5h13.8v10.4H554.8zM272.9 876.6h7v10.2H272.9zM293.1 876.6h47.2v10.2H293.1zM554.8 876.6h13.8v10.2H554.8zM272.9 886.5h7v10.1H272.9zM286.4 886.5h53.9v10.1H286.4zM561.5 886.5h7.1v10.1H561.5zM850.2 886.5h20.4v10.1H850.2zM272.9 896.3h67.4v10H272.9zM843.4 896.3h13.8v10H843.4zM870.3 896.3h7v10H870.3zM266.2 906h54v9.8H266.2zM830 906h20.5v9.8H830zM266.2 915.5h54v9.7H266.2zM440.7 915.5h7v9.7H440.7zM836.7 915.5h13.8v9.7H836.7zM266.2 924.9h54v9.6H266.2zM440.7 924.9h7v9.6H440.7zM843.4 924.9h7.1v9.6H843.4zM440.7 934.2h7v9.5H440.7zM447.4 943.4h7.1v9.4H447.4zM454.2 952.5h13.7v9.3H454.2zM581.7 952.5h7v9.3H581.7zM642.1 952.5h7v9.3H642.1zM387 961.5h40.6v9.2H387zM467.6 961.5h7v9.2H467.6zM575 961.5h20.4v9.2H575zM635.4 961.5h20.4v9.2H635.4zM366.9 970.4h13.7v9.1H366.9zM387 970.4h7v9.1H387zM427.3 970.4h7v9.1H427.3zM561.5 970.4h33.9v9.1H561.5zM635.4 970.4h13.7v9.1H635.4zM434 979.2h7v9H434zM481 979.2h20.4v9H481zM528 979.2h13.7v9H528zM554.8 979.2h27.2v9H554.8zM595.1 979.2h40.6v9H595.1zM434 987.9h7v8.9H434zM568.3 987.9h13.7v8.9H568.3zM595.1 987.9h40.6v8.9H595.1zM346.8 996.5h7v8.9H346.8zM440.7 996.5h7v8.9H440.7zM474.3 996.5h33.8v8.9H474.3zM575 996.5h40.5v8.9H575zM917.3 996.5h13.7v8.9H917.3zM957.6 996.5h7v8.9H957.6zM454.2 1005.1h13.7v8.7H454.2zM595.1 1005.1h13.7v8.7H595.1zM924 1005.1h13.7v8.7H924zM950.8 1005.1h7.1v8.7H950.8zM514.6 1013.5h7v8.7H514.6zM601.8 1013.5h7v8.7H601.8zM930.7 1013.5h13.7v8.7H930.7zM950.8 1013.5h7.1v8.7H950.8zM346.8 1021.9h7v8.6H346.8zM588.4 1021.9h13.7v8.6H588.4zM353.5 1030.2h7v8.5H353.5zM528 1030.2h60.7v8.5H528zM373.6 1038.4h7v8.5H373.6zM554.8 1038.4h20.5v8.5H554.8zM373.6 1046.6h7v8.4H373.6zM353.5 1054.7h20.4v8.3H353.5zM340.1 1062.7h13.7v8.3H340.1zM333.3 1070.7h7v8.2H333.3zM326.6 1078.6h7v8.2H326.6zM313.2 1086.5h13.7v8.1H313.2zM299.8 1094.3h13.7v8.1H299.8zM360.2 1094.3h13.7v8.1H360.2zM299.8 1102.1h7v8H299.8zM360.2 1102.1h27.1v8H360.2zM293.1 1109.8h7v7.9H293.1zM353.5 1109.8h7v7.9H353.5zM373.6 1109.8h20.4v7.9H373.6zM286.4 1117.4h7v7.9H286.4zM360.2 1117.4h27.1v7.9H360.2zM172.2 1125h13.8v7.9H172.2zM219.2 1125h13.8v7.9H219.2zM360.2 1125h13.7v7.9H360.2zM581.7 1125h7v7.9H581.7zM172.2 1132.6h20.5v7.8H172.2zM205.8 1132.6h13.7v7.8H205.8zM440.7 1132.6h13.8v7.8H440.7zM575 1132.6h20.4v7.8H575zM172.2 1140.1h33.9v7.8H172.2zM393.7 1177.3h7.1v7.6H393.7zM434 1177.3h13.7v7.6H434zM400.5 1184.6h7v7.6H400.5z"/><path fill="#c9323b" d="M387 732.2h20.5v12.6H387zM924 732.2h40.6v12.6H924zM387 744.5h20.5v12.4H387zM924 744.5h40.6v12.4H924zM917.3 756.6h47.3v12.2H917.3zM897.1 768.5h67.5v12H897.1zM883.7 780.2h13.7v11.7H883.7zM917.3 780.2h27.1v11.7H917.3zM501.1 791.6h20.5v11.5H501.1zM883.7 791.6h13.7v11.5H883.7zM917.3 791.6h27.1v11.5H917.3zM501.1 802.8h20.5v11.4H501.1zM883.7 802.8h20.5v11.4H883.7zM917.3 802.8h20.4v11.4H917.3zM501.1 813.9h20.5v11.2H501.1zM568.3 813.9h7v11.2H568.3zM883.7 813.9h20.5v11.2H883.7zM185.7 824.8h20.4v10.9H185.7zM561.5 824.8h7.1v10.9H561.5zM883.7 824.8h7v10.9H883.7zM185.7 835.4h40.5v10.9H185.7zM883.7 835.4h7v10.9H883.7zM185.7 846h27.1v10.6H185.7zM272.9 846h33.9v10.6H272.9zM883.7 846h7v10.6H883.7zM185.7 856.3h27.1v10.5H185.7zM266.2 856.3h13.7v10.5H266.2zM185.7 866.5h40.5v10.4H185.7zM259.5 866.5h13.7v10.4H259.5zM205.8 876.6h27.2v10.2H205.8zM252.8 876.6h13.7v10.2H252.8zM205.8 886.5h27.2v10.1H205.8zM252.8 886.5h13.7v10.1H252.8zM205.8 896.3h27.2v10H205.8zM252.8 896.3h13.7v10H252.8zM863.6 906h20.4v9.8H863.6zM387 915.5h40.6v9.7H387zM863.6 915.5h20.4v9.7H863.6zM387 924.9h40.6v9.6H387zM863.6 924.9h20.4v9.6H863.6zM387 934.2h40.6v9.5H387zM440.7 961.5h27.2v9.2H440.7zM380.3 970.4h7v9.1H380.3zM440.7 970.4h27.2v9.1H440.7zM380.3 979.2h7v9H380.3zM440.7 979.2h27.2v9H440.7zM346.8 987.9h40.5v8.9H346.8zM440.7 987.9h74.2v8.9H440.7zM548.1 987.9h13.7v8.9H548.1zM326.6 996.5h20.5v8.9H326.6zM514.6 996.5h7v8.9H514.6zM548.1 996.5h13.7v8.9H548.1zM326.6 1005.1h20.5v8.7H326.6zM521.3 1005.1h33.8v8.7H521.3zM326.6 1013.5h20.5v8.7H326.6zM521.3 1013.5h33.8v8.7H521.3zM575 1013.5h13.7v8.7H575zM326.6 1021.9h20.5v8.6H326.6zM326.6 1030.2h20.5v8.5H326.6zM326.6 1038.4h27.2v8.5H326.6zM366.9 1038.4h7v8.5H366.9zM306.5 1046.6h27.1v8.4H306.5zM353.5 1046.6h13.7v8.4H353.5zM306.5 1054.7h20.4v8.3H306.5zM306.5 1062.7h20.4v8.3H306.5zM185.7 1094.3h13.7v8.1H185.7zM212.5 1094.3h20.5v8.1H212.5zM185.7 1102.1h13.7v8H185.7zM212.5 1102.1h20.5v8H212.5zM286.4 1102.1h7v8H286.4zM185.7 1109.8h13.7v7.9H185.7zM212.5 1109.8h20.5v7.9H212.5zM286.4 1109.8h7v7.9H286.4zM192.4 1117.4h20.4v7.9H192.4zM199.1 1125h7v7.9H199.1zM400.5 1177.3h13.7v7.6H400.5z"/><path fill="#da604e" d="M407.2 732.2h13.7v12.6H407.2zM910.6 732.2h13.7v12.6H910.6zM407.2 744.5h13.7v12.4H407.2zM910.6 744.5h13.7v12.4H910.6zM387 756.6h20.5v12.2H387zM897.1 756.6h20.5v12.2H897.1zM883.7 768.5h13.7v12H883.7zM877 780.2h7v11.7H877zM877 791.6h7v11.5H877zM568.3 802.8h7v11.4H568.3zM877 802.8h7v11.4H877zM420.6 813.9h7v11.2H420.6zM205.8 824.8h13.7v10.9H205.8zM548.1 824.8h13.7v10.9H548.1zM568.3 824.8h7v10.9H568.3zM890.4 824.8h7v10.9H890.4zM225.9 835.4h33.9v10.9H225.9zM890.4 835.4h7v10.9H890.4zM306.5 846h13.7v10.6H306.5zM890.4 846h7v10.6H890.4zM279.6 856.3h33.9v10.5H279.6zM272.9 866.5h7v10.4H272.9zM299.8 866.5h7v10.4H299.8zM266.2 876.6h7v10.2H266.2zM266.2 886.5h7v10.1H266.2zM266.2 896.3h7v10H266.2zM856.9 896.3h13.7v10H856.9zM850.2 906h13.7v9.8H850.2zM427.3 915.5h13.7v9.7H427.3zM850.2 915.5h13.7v9.7H850.2zM427.3 924.9h13.7v9.6H427.3zM850.2 924.9h13.7v9.6H850.2zM427.3 934.2h13.7v9.5H427.3zM387 943.4h60.7v9.4H387zM387 952.5h67.5v9.3H387zM427.3 961.5h13.7v9.2H427.3zM434 970.4h7v9.1H434zM467.6 970.4h7v9.1H467.6zM910.6 970.4h54v9.1H910.6zM346.8 979.2h33.8v9H346.8zM467.6 979.2h13.7v9H467.6zM541.4 979.2h13.7v9H541.4zM910.6 979.2h54v9H910.6zM561.5 987.9h7.1v8.9H561.5zM910.6 987.9h54v8.9H910.6zM447.4 996.5h27.2v8.9H447.4zM507.9 996.5h7v8.9H507.9zM561.5 996.5h13.8v8.9H561.5zM930.7 996.5h27.2v8.9H930.7zM514.6 1005.1h7v8.7H514.6zM554.8 1005.1h40.6v8.7H554.8zM937.4 1005.1h13.7v8.7H937.4zM554.8 1013.5h20.5v8.7H554.8zM588.4 1013.5h13.7v8.7H588.4zM944.1 1013.5h7v8.7H944.1zM521.3 1021.9h67.4v8.6H521.3zM346.8 1030.2h7v8.5H346.8zM333.3 1046.6h20.5v8.4H333.3zM366.9 1046.6h7v8.4H366.9zM326.6 1054.7h27.2v8.3H326.6zM326.6 1062.7h13.7v8.3H326.6zM286.4 1070.7h47.2v8.2H286.4zM286.4 1078.6h40.5v8.2H286.4zM286.4 1086.5h27.1v8.1H286.4zM172.2 1094.3h13.8v8.1H172.2zM286.4 1094.3h13.7v8.1H286.4zM172.2 1102.1h13.8v8H172.2zM293.1 1102.1h7v8H293.1zM172.2 1109.8h13.8v7.9H172.2zM360.2 1109.8h13.7v7.9H360.2zM172.2 1117.4h20.5v7.9H172.2zM212.5 1117.4h74.2v7.9H212.5zM185.7 1125h13.7v7.9H185.7zM205.8 1125h13.7v7.9H205.8zM192.4 1132.6h13.7v7.8H192.4zM413.9 1177.3h20.4v7.6H413.9z"/><path fill="#d4e8f1" d="M447.4 732.2h7.1v12.6H447.4zM655.5 732.2h13.7v12.6H655.5zM742.8 732.2h7v12.6H742.8zM783 732.2h7.1v12.6H783zM836.7 732.2h33.9v12.6H836.7zM447.4 744.5h7.1v12.4H447.4zM655.5 744.5h13.7v12.4H655.5zM742.8 744.5h7v12.4H742.8zM783 744.5h7.1v12.4H783zM836.7 744.5h33.9v12.4H836.7zM333.3 756.6h7v12.2H333.3zM568.3 756.6h27.1v12.2H568.3zM642.1 756.6h33.8v12.2H642.1zM742.8 756.6h13.7v12.2H742.8zM776.3 756.6h13.8v12.2H776.3zM440.7 768.5h7v12H440.7zM568.3 768.5h27.1v12H568.3zM608.5 768.5h74.2v12H608.5zM736.1 768.5h54v12H736.1zM313.2 780.2h13.7v11.7H313.2zM434 780.2h7v11.7H434zM568.3 780.2h27.1v11.7H568.3zM655.5 780.2h101v11.7H655.5zM776.3 780.2h13.8v11.7H776.3zM239.4 791.6h7v11.5H239.4zM380.3 791.6h7v11.5H380.3zM434 791.6h7v11.5H434zM615.2 791.6h13.8v11.5H615.2zM662.2 791.6h54v11.5H662.2zM749.5 791.6h40.6v11.5H749.5zM239.4 802.8h7v11.4H239.4zM380.3 802.8h7v11.4H380.3zM434 802.8h7v11.4H434zM601.8 802.8h33.9v11.4H601.8zM836.7 802.8h27.2v11.4H836.7zM239.4 813.9h7v11.2H239.4zM380.3 813.9h7v11.2H380.3zM434 813.9h7v11.2H434zM487.7 813.9h7v11.2H487.7zM601.8 813.9h13.7v11.2H601.8zM628.7 813.9h13.7v11.2H628.7zM830 813.9h13.7v11.2H830zM856.9 813.9h13.7v11.2H856.9zM272.9 824.8h20.5v10.9H272.9zM380.3 824.8h13.7v10.9H380.3zM601.8 824.8h13.7v10.9H601.8zM628.7 824.8h13.7v10.9H628.7zM830 824.8h7v10.9H830zM863.6 824.8h7v10.9H863.6zM333.3 835.4h7v10.9H333.3zM387 835.4h13.8v10.9H387zM427.3 835.4h7v10.9H427.3zM494.4 835.4h7v10.9H494.4zM601.8 835.4h13.7v10.9H601.8zM635.4 835.4h13.7v10.9H635.4zM682.4 835.4h27.1v10.9H682.4zM823.3 835.4h7v10.9H823.3zM863.6 835.4h7v10.9H863.6zM393.7 846h20.5v10.6H393.7zM501.1 846h7v10.6H501.1zM601.8 846h13.7v10.6H601.8zM635.4 846h20.4v10.6H635.4zM675.6 846h40.6v10.6H675.6zM816.6 846h13.7v10.6H816.6zM863.6 846h7v10.6H863.6zM393.7 856.3h13.8v10.5H393.7zM501.1 856.3h13.8v10.5H501.1zM595.1 856.3h7v10.5H595.1zM642.1 856.3h20.4v10.5H642.1zM668.9 856.3h54v10.5H668.9zM803.2 856.3h27.1v10.5H803.2zM856.9 856.3h7v10.5H856.9zM393.7 866.5h13.8v10.4H393.7zM507.9 866.5h13.7v10.4H507.9zM588.4 866.5h7v10.4H588.4zM648.8 866.5h33.9v10.4H648.8zM689.1 866.5h40.5v10.4H689.1zM796.5 866.5h20.4v10.4H796.5zM830 866.5h20.5v10.4H830zM514.6 876.6h13.7v10.2H514.6zM581.7 876.6h7v10.2H581.7zM655.5 876.6h20.4v10.2H655.5zM695.8 876.6h40.6v10.2H695.8zM789.8 876.6h13.7v10.2H789.8zM830 876.6h7v10.2H830zM877 876.6h7v10.2H877zM528 886.5h7v10.1H528zM581.7 886.5h7v10.1H581.7zM655.5 886.5h27.2v10.1H655.5zM689.1 886.5h40.5v10.1H689.1zM789.8 886.5h13.7v10.1H789.8zM830 886.5h7v10.1H830zM528 896.3h7v10H528zM581.7 896.3h13.7v10H581.7zM655.5 896.3h67.4v10H655.5zM789.8 896.3h27.1v10H789.8zM581.7 906h13.7v9.8H581.7zM655.5 906h60.7v9.8H655.5zM789.8 906h33.8v9.8H789.8zM447.4 915.5h7.1v9.7H447.4zM588.4 915.5h13.7v9.7H588.4zM628.7 915.5h107.7v9.7H628.7zM796.5 915.5h20.4v9.7H796.5zM454.2 924.9h7v9.6H454.2zM548.1 924.9h13.7v9.6H548.1zM595.1 924.9h40.6v9.6H595.1zM689.1 924.9h80.8v9.6H689.1zM803.2 924.9h7v9.6H803.2zM454.2 934.2h7v9.5H454.2zM561.5 934.2h7.1v9.5H561.5zM601.8 934.2h27.2v9.5H601.8zM695.8 934.2h20.4v9.5H695.8zM736.1 934.2h40.5v9.5H736.1zM467.6 943.4h7v9.4H467.6zM554.8 943.4h7v9.4H554.8zM695.8 943.4h13.7v9.4H695.8zM736.1 943.4h47.2v9.4H736.1zM796.5 943.4h13.7v9.4H796.5zM474.3 952.5h7v9.3H474.3zM548.1 952.5h13.7v9.3H548.1zM689.1 952.5h13.7v9.3H689.1zM736.1 952.5h27.1v9.3H736.1zM769.6 952.5h47.3v9.3H769.6zM548.1 961.5h7v9.2H548.1zM689.1 961.5h13.7v9.2H689.1zM736.1 961.5h20.4v9.2H736.1zM776.3 961.5h47.3v9.2H776.3zM494.4 970.4h13.7v9.1H494.4zM528 970.4h13.7v9.1H528zM689.1 970.4h13.7v9.1H689.1zM729.3 970.4h33.9v9.1H729.3zM769.6 970.4h47.3v9.1H769.6zM420.6 979.2h7v9H420.6zM695.8 979.2h107.7v9H695.8zM393.7 987.9h7.1v8.9H393.7zM427.3 987.9h7v8.9H427.3zM695.8 987.9h101v8.9H695.8zM427.3 996.5h7v8.9H427.3zM695.8 996.5h101v8.9H695.8zM850.2 996.5h47.2v8.9H850.2zM353.5 1005.1h7v8.7H353.5zM380.3 1005.1h7v8.7H380.3zM427.3 1005.1h7v8.7H427.3zM481 1005.1h7v8.7H481zM635.4 1005.1h13.7v8.7H635.4zM702.5 1005.1h40.6v8.7H702.5zM776.3 1005.1h20.5v8.7H776.3zM850.2 1005.1h47.2v8.7H850.2zM400.5 1013.5h13.7v8.7H400.5zM434 1013.5h13.7v8.7H434zM622 1013.5h13.7v8.7H622zM648.8 1013.5h7v8.7H648.8zM702.5 1013.5h33.9v8.7H702.5zM850.2 1013.5h47.2v8.7H850.2zM393.7 1021.9h20.5v8.6H393.7zM434 1021.9h13.7v8.6H434zM474.3 1021.9h7v8.6H474.3zM487.7 1021.9h20.4v8.6H487.7zM615.2 1021.9h20.5v8.6H615.2zM648.8 1021.9h7v8.6H648.8zM702.5 1021.9h27.1v8.6H702.5zM830 1021.9h74.2v8.6H830zM964.3 1021.9h7v8.6H964.3zM380.3 1030.2h33.9v8.5H380.3zM434 1030.2h13.7v8.5H434zM608.5 1030.2h13.8v8.5H608.5zM635.4 1030.2h20.4v8.5H635.4zM695.8 1030.2h27.1v8.5H695.8zM830 1030.2h80.9v8.5H830zM950.8 1030.2h20.5v8.5H950.8zM400.5 1038.4h13.7v8.5H400.5zM434 1038.4h13.7v8.5H434zM601.8 1038.4h13.7v8.5H601.8zM635.4 1038.4h13.7v8.5H635.4zM695.8 1038.4h20.4v8.5H695.8zM830 1038.4h94.3v8.5H830zM407.2 1046.6h33.8v8.4H407.2zM601.8 1046.6h20.5v8.4H601.8zM635.4 1046.6h20.4v8.4H635.4zM830 1046.6h94.3v8.4H830zM420.6 1054.7h7v8.3H420.6zM608.5 1054.7h27.2v8.3H608.5zM648.8 1054.7h27.1v8.3H648.8zM830 1054.7h87.6v8.3H830zM615.2 1062.7h20.5v8.3H615.2zM668.9 1062.7h13.8v8.3H668.9zM830 1062.7h33.9v8.3H830zM622 1070.7h33.8v8.2H622zM668.9 1070.7h13.8v8.2H668.9zM830 1070.7h33.9v8.2H830zM964.3 1070.7h7v8.2H964.3zM460.9 1078.6h7v8.2H460.9zM635.4 1078.6h40.5v8.2H635.4zM830 1078.6h33.9v8.2H830zM950.8 1078.6h20.5v8.2H950.8zM340.1 1086.5h7v8.1H340.1zM454.2 1086.5h20.4v8.1H454.2zM655.5 1086.5h20.4v8.1H655.5zM930.7 1086.5h27.2v8.1H930.7zM340.1 1094.3h7v8.1H340.1zM460.9 1094.3h7v8.1H460.9zM662.2 1094.3h7v8.1H662.2zM930.7 1094.3h27.2v8.1H930.7zM319.9 1102.1h27.2v8H319.9zM930.7 1102.1h27.2v8H930.7zM313.2 1109.8h7v7.9H313.2zM333.3 1109.8h13.8v7.9H333.3zM306.5 1117.4h13.7v7.9H306.5zM340.1 1117.4h7v7.9H340.1zM306.5 1125h7v7.9H306.5zM346.8 1125h7v7.9H346.8zM239.4 1132.6h13.7v7.8H239.4zM293.1 1132.6h13.7v7.8H293.1zM346.8 1132.6h7v7.8H346.8zM400.5 1132.6h13.7v7.8H400.5zM232.7 1140.1h13.7v7.8H232.7zM293.1 1140.1h20.4v7.8H293.1zM340.1 1140.1h13.7v7.8H340.1zM387 1140.1h13.8v7.8H387zM413.9 1140.1h13.7v7.8H413.9zM225.9 1147.6h13.8v7.8H225.9zM299.8 1147.6h20.4v7.8H299.8zM326.6 1147.6h20.5v7.8H326.6zM373.6 1147.6h7v7.8H373.6zM434 1147.6h13.7v7.8H434zM501.1 1147.6h13.8v7.8H501.1zM199.1 1155.1h33.9v7.7H199.1zM299.8 1155.1h33.8v7.7H299.8zM366.9 1155.1h7v7.7H366.9zM447.4 1155.1h7.1v7.7H447.4zM501.1 1155.1h74.2v7.7H501.1zM675.6 1155.1h13.8v7.7H675.6zM225.9 1162.5h13.8v7.7H225.9zM299.8 1162.5h40.5v7.7H299.8zM366.9 1162.5h7v7.7H366.9zM400.5 1162.5h47.2v7.7H400.5zM668.9 1162.5h27.2v7.7H668.9zM232.7 1169.9h7v7.7H232.7zM293.1 1169.9h87.5v7.7H293.1zM387 1169.9h7v7.7H387zM662.2 1169.9h20.5v7.7H662.2zM689.1 1169.9h33.8v7.7H689.1zM232.7 1177.3h7v7.6H232.7zM293.1 1177.3h94.2v7.6H293.1zM460.9 1177.3h7v7.6H460.9zM662.2 1177.3h13.7v7.6H662.2zM715.9 1177.3h27.2v7.6H715.9zM232.7 1184.6h7v7.6H232.7zM286.4 1184.6h67.4v7.6H286.4zM366.9 1184.6h20.4v7.6H366.9zM460.9 1184.6h13.7v7.6H460.9zM655.5 1184.6h13.7v7.6H655.5zM709.2 1184.6h33.9v7.6H709.2zM232.7 1191.9h13.7v7.6H232.7zM279.6 1191.9h40.6v7.6H279.6zM373.6 1191.9h107.7v7.6H373.6zM487.7 1191.9h13.7v7.6H487.7zM507.9 1191.9h13.7v7.6H507.9zM648.8 1191.9h13.7v7.6H648.8zM702.5 1191.9h40.6v7.6H702.5zM225.9 1199.2h27.2v7.5H225.9zM272.9 1199.2h40.6v7.5H272.9zM380.3 1199.2h7v7.5H380.3zM454.2 1199.2h33.8v7.5H454.2zM521.3 1199.2h13.7v7.5H521.3zM635.4 1199.2h20.4v7.5H635.4zM695.8 1199.2h47.3v7.5H695.8zM192.4 1206.4h7v7.5H192.4zM232.7 1206.4h20.4v7.5H232.7zM266.2 1206.4h67.4v7.5H266.2zM366.9 1206.4h13.7v7.5H366.9zM481 1206.4h7v7.5H481zM521.3 1206.4h20.4v7.5H521.3zM575 1206.4h74.1v7.5H575zM689.1 1206.4h54v7.5H689.1zM192.4 1213.6h7v7.5H192.4zM239.4 1213.6h13.7v7.5H239.4zM266.2 1213.6h13.7v7.5H266.2zM286.4 1213.6h80.8v7.5H286.4zM528 1213.6h107.7v7.5H528zM682.4 1213.6h20.4v7.5H682.4zM192.4 1220.8h7v7.5H192.4zM293.1 1220.8h20.4v7.5H293.1zM333.3 1220.8h20.5v7.5H333.3zM534.7 1220.8h40.6v7.5H534.7zM675.6 1220.8h20.5v7.5H675.6zM185.7 1228h7v7.5H185.7zM272.9 1228h7v7.5H272.9zM306.5 1228h54v7.5H306.5zM554.8 1228h13.8v7.5H554.8zM689.1 1228h27.1v7.5H689.1zM736.1 1228h27.1v7.5H736.1zM272.9 1235.2h13.8v7.4H272.9zM333.3 1235.2h33.9v7.4H333.3zM702.5 1235.2h60.7v7.4H702.5zM279.6 1242.3h7.1v7.4H279.6zM340.1 1242.3h27.1v7.4H340.1zM715.9 1242.3h47.3v7.4H715.9zM286.4 1249.4h13.7v7.5H286.4zM340.1 1249.4h27.1v7.5H340.1zM736.1 1249.4h27.1v7.5H736.1zM299.8 1256.6h13.7v7.3H299.8zM340.1 1256.6h27.1v7.3H340.1zM172.2 1263.6h20.5v7.4H172.2zM172.2 1270.7h20.5v7.4H172.2zM816.6 1270.7h20.4v7.4H816.6zM856.9 1270.7h27.1v7.4H856.9zM172.2 1277.8h20.5v7.4H172.2zM299.8 1277.8h7v7.4H299.8zM816.6 1277.8h20.4v7.4H816.6zM856.9 1277.8h27.1v7.4H856.9zM172.2 1284.9h20.5v7.3H172.2zM299.8 1284.9h7v7.3H299.8zM816.6 1284.9h20.4v7.3H816.6zM856.9 1284.9h27.1v7.3H856.9zM172.2 1291.9h13.8v7.4H172.2zM293.1 1291.9h7v7.4H293.1zM306.5 1291.9h7v7.4H306.5zM863.6 1291.9h7v7.4H863.6zM286.4 1299h7v7.3H286.4zM313.2 1299h7v7.3H313.2zM541.4 1299h7v7.3H541.4zM595.1 1299h13.7v7.3H595.1zM279.6 1306h7.1v7.4H279.6zM541.4 1306h13.7v7.4H541.4zM575 1306h40.5v7.4H575zM279.6 1313.1h7.1v7.3H279.6zM541.4 1313.1h13.7v7.3H541.4zM575 1313.1h40.5v7.3H575z"/><path fill="#f7d8c8" d="M762.9 732.2h7v12.6H762.9zM803.2 732.2h13.7v12.6H803.2zM883.7 732.2h13.7v12.6H883.7zM762.9 744.5h7v12.4H762.9zM803.2 744.5h13.7v12.4H803.2zM883.7 744.5h13.7v12.4H883.7zM427.3 756.6h20.4v12.2H427.3zM803.2 756.6h20.4v12.2H803.2zM877 756.6h7v12.2H877zM387 768.5h47.3v12H387zM803.2 768.5h33.8v12H803.2zM870.3 768.5h7v12H870.3zM413.9 780.2h13.7v11.7H413.9zM803.2 780.2h67.4v11.7H803.2zM205.8 791.6h20.4v11.5H205.8zM407.2 791.6h13.7v11.5H407.2zM803.2 791.6h27.1v11.5H803.2zM205.8 802.8h20.4v11.4H205.8zM400.5 802.8h13.7v11.4H400.5zM427.3 802.8h7v11.4H427.3zM870.3 802.8h7v11.4H870.3zM205.8 813.9h20.4v11.2H205.8zM400.5 813.9h7v11.2H400.5zM427.3 813.9h7v11.2H427.3zM494.4 813.9h7v11.2H494.4zM581.7 813.9h7v11.2H581.7zM715.9 813.9h60.7v11.2H715.9zM870.3 813.9h7v11.2H870.3zM232.7 824.8h20.4v10.9H232.7zM407.2 824.8h20.4v10.9H407.2zM521.3 824.8h13.7v10.9H521.3zM581.7 824.8h7v10.9H581.7zM722.6 824.8h60.7v10.9H722.6zM870.3 824.8h7v10.9H870.3zM286.4 835.4h20.4v10.9H286.4zM501.1 835.4h33.9v10.9H501.1zM575 835.4h13.7v10.9H575zM729.3 835.4h60.8v10.9H729.3zM870.3 835.4h7v10.9H870.3zM521.3 846h13.7v10.6H521.3zM554.8 846h33.9v10.6H554.8zM736.1 846h60.7v10.6H736.1zM870.3 846h7v10.6H870.3zM897.1 846h7.1v10.6H897.1zM528 856.3h13.7v10.5H528zM554.8 856.3h27.2v10.5H554.8zM742.8 856.3h47.3v10.5H742.8zM877 856.3h7v10.5H877zM897.1 856.3h7.1v10.5H897.1zM534.7 866.5h20.4v10.4H534.7zM568.3 866.5h7v10.4H568.3zM279.6 876.6h13.8v10.2H279.6zM541.4 876.6h13.7v10.2H541.4zM568.3 876.6h7v10.2H568.3zM843.4 876.6h27.2v10.2H843.4zM279.6 886.5h7.1v10.1H279.6zM541.4 886.5h20.4v10.1H541.4zM568.3 886.5h7v10.1H568.3zM836.7 886.5h13.8v10.1H836.7zM870.3 886.5h7v10.1H870.3zM541.4 896.3h33.9v10H541.4zM836.7 896.3h7v10H836.7zM877 896.3h7v10H877zM541.4 906h27.2v9.8H541.4zM830 915.5h7v9.7H830zM836.7 924.9h7v9.6H836.7zM447.4 934.2h7.1v9.5H447.4zM581.7 934.2h7v9.5H581.7zM642.1 934.2h13.7v9.5H642.1zM454.2 943.4h7v9.4H454.2zM575 943.4h20.4v9.4H575zM635.4 943.4h27.1v9.4H635.4zM467.6 952.5h7v9.3H467.6zM568.3 952.5h13.7v9.3H568.3zM588.4 952.5h13.7v9.3H588.4zM628.7 952.5h13.7v9.3H628.7zM648.8 952.5h20.4v9.3H648.8zM561.5 961.5h13.8v9.2H561.5zM595.1 961.5h40.6v9.2H595.1zM655.5 961.5h20.4v9.2H655.5zM346.8 970.4h20.4v9.1H346.8zM393.7 970.4h7.1v9.1H393.7zM474.3 970.4h7v9.1H474.3zM548.1 970.4h13.7v9.1H548.1zM595.1 970.4h40.6v9.1H595.1zM648.8 970.4h20.4v9.1H648.8zM387 979.2h7v9H387zM501.1 979.2h27.2v9H501.1zM581.7 979.2h13.7v9H581.7zM635.4 979.2h27.1v9H635.4zM387 987.9h7v8.9H387zM581.7 987.9h13.7v8.9H581.7zM635.4 987.9h20.4v8.9H635.4zM353.5 996.5h33.8v8.9H353.5zM434 996.5h7v8.9H434zM615.2 996.5h20.5v8.9H615.2zM910.6 996.5h7v8.9H910.6zM346.8 1005.1h7v8.7H346.8zM440.7 1005.1h13.8v8.7H440.7zM467.6 1005.1h7v8.7H467.6zM507.9 1005.1h7v8.7H507.9zM608.5 1005.1h13.8v8.7H608.5zM662.2 1005.1h27.2v8.7H662.2zM910.6 1005.1h13.7v8.7H910.6zM957.6 1005.1h7v8.7H957.6zM346.8 1013.5h7v8.7H346.8zM460.9 1013.5h7v8.7H460.9zM608.5 1013.5h7v8.7H608.5zM662.2 1013.5h27.2v8.7H662.2zM917.3 1013.5h13.7v8.7H917.3zM957.6 1013.5h7v8.7H957.6zM460.9 1021.9h7v8.6H460.9zM514.6 1021.9h7v8.6H514.6zM601.8 1021.9h7v8.6H601.8zM662.2 1021.9h27.2v8.6H662.2zM924 1021.9h33.9v8.6H924zM360.2 1030.2h13.7v8.5H360.2zM460.9 1030.2h13.7v8.5H460.9zM514.6 1030.2h13.7v8.5H514.6zM588.4 1030.2h13.7v8.5H588.4zM662.2 1030.2h20.5v8.5H662.2zM924 1030.2h7v8.5H924zM380.3 1038.4h7v8.5H380.3zM460.9 1038.4h54v8.5H460.9zM534.7 1038.4h20.4v8.5H534.7zM575 1038.4h13.7v8.5H575zM662.2 1038.4h13.7v8.5H662.2zM380.3 1046.6h13.7v8.4H380.3zM460.9 1046.6h47.2v8.4H460.9zM541.4 1046.6h47.3v8.4H541.4zM373.6 1054.7h27.2v8.3H373.6zM467.6 1054.7h33.8v8.3H467.6zM554.8 1054.7h20.5v8.3H554.8zM353.5 1062.7h60.7v8.3H353.5zM434 1062.7h20.5v8.3H434zM474.3 1062.7h20.4v8.3H474.3zM695.8 1062.7h20.4v8.3H695.8zM340.1 1070.7h67.4v8.2H340.1zM440.7 1070.7h7v8.2H440.7zM481 1070.7h7v8.2H481zM702.5 1070.7h7v8.2H702.5zM333.3 1078.6h7v8.2H333.3zM353.5 1078.6h47.3v8.2H353.5zM742.8 1078.6h7v8.2H742.8zM326.6 1086.5h7v8.1H326.6zM360.2 1086.5h33.8v8.1H360.2zM736.1 1086.5h20.4v8.1H736.1zM313.2 1094.3h13.7v8.1H313.2zM353.5 1094.3h7v8.1H353.5zM373.6 1094.3h27.2v8.1H373.6zM736.1 1094.3h20.4v8.1H736.1zM306.5 1102.1h7v8H306.5zM353.5 1102.1h7v8H353.5zM387 1102.1h40.6v8H387zM481 1102.1h148v8H481zM682.4 1102.1h27.1v8H682.4zM742.8 1102.1h13.7v8H742.8zM299.8 1109.8h7v7.9H299.8zM393.7 1109.8h40.6v7.9H393.7zM474.3 1109.8h161.4v7.9H474.3zM675.6 1109.8h40.6v7.9H675.6zM293.1 1117.4h7v7.9H293.1zM353.5 1117.4h7v7.9H353.5zM387 1117.4h13.8v7.9H387zM413.9 1117.4h40.6v7.9H413.9zM467.6 1117.4h174.8v7.9H467.6zM668.9 1117.4h54v7.9H668.9zM232.7 1125h27.1v7.9H232.7zM353.5 1125h7v7.9H353.5zM373.6 1125h20.4v7.9H373.6zM427.3 1125h74.1v7.9H427.3zM507.9 1125h74.1v7.9H507.9zM588.4 1125h154.7v7.9H588.4zM219.2 1132.6h7v7.8H219.2zM360.2 1132.6h27.1v7.8H360.2zM427.3 1132.6h13.7v7.8H427.3zM454.2 1132.6h40.5v7.8H454.2zM514.6 1132.6h60.7v7.8H514.6zM595.1 1132.6h148v7.8H595.1zM205.8 1140.1h13.7v7.8H205.8zM360.2 1140.1h7v7.8H360.2zM440.7 1140.1h54v7.8H440.7zM568.3 1140.1h107.6v7.8H568.3zM689.1 1140.1h54v7.8H689.1zM172.2 1147.6h27.2v7.8H172.2zM460.9 1147.6h27.1v7.8H460.9zM581.7 1147.6h13.7v7.8H581.7zM628.7 1147.6h33.8v7.8H628.7zM695.8 1147.6h47.3v7.8H695.8zM172.2 1155.1h13.8v7.7H172.2zM460.9 1155.1h27.1v7.7H460.9zM635.4 1155.1h20.4v7.7H635.4zM702.5 1155.1h40.6v7.7H702.5zM172.2 1162.5h13.8v7.7H172.2zM467.6 1162.5h27.1v7.7H467.6zM628.7 1162.5h27.1v7.7H628.7zM172.2 1169.9h20.5v7.7H172.2zM400.5 1169.9h47.2v7.7H400.5zM474.3 1169.9h27.1v7.7H474.3zM575 1169.9h74.1v7.7H575zM185.7 1177.3h40.5v7.6H185.7zM387 1177.3h7v7.6H387zM447.4 1177.3h7.1v7.6H447.4zM481 1177.3h168.1v7.6H481zM185.7 1184.6h40.5v7.6H185.7zM393.7 1184.6h7.1v7.6H393.7zM407.2 1184.6h40.5v7.6H407.2zM534.7 1184.6h101v7.6H534.7zM185.7 1191.9h40.5v7.6H185.7zM353.5 1199.2h13.7v7.5H353.5zM172.2 1206.4h13.8v7.5H172.2zM172.2 1213.6h13.8v7.5H172.2zM172.2 1220.8h13.8v7.5H172.2zM299.8 1242.3h27.1v7.4H299.8zM313.2 1249.4h13.7v7.5H313.2zM319.9 1256.6h7v7.3H319.9zM299.8 1306h20.4v7.4H299.8zM299.8 1313.1h20.4v7.3H299.8z"/><path fill="#3765ae" d="M454.2 780.2h7v11.7H454.2zM454.2 791.6h7v11.5H454.2zM481 791.6h7v11.5H481zM299.8 802.8h7v11.4H299.8zM454.2 802.8h7v11.4H454.2zM474.3 802.8h13.7v11.4H474.3zM293.1 813.9h7v11.2H293.1zM306.5 813.9h13.7v11.2H306.5zM454.2 813.9h7v11.2H454.2zM467.6 813.9h13.7v11.2H467.6zM454.2 824.8h20.4v10.9H454.2zM460.9 835.4h7v10.9H460.9zM481 896.3h27.1v10H481zM474.3 906h7v9.8H474.3zM507.9 906h7v9.8H507.9zM481 915.5h13.7v9.7H481zM507.9 915.5h13.7v9.7H507.9zM487.7 924.9h13.7v9.6H487.7zM514.6 924.9h13.7v9.6H514.6zM494.4 934.2h7v9.5H494.4zM528 934.2h7v9.5H528zM501.1 943.4h7v9.4H501.1zM528 943.4h7v9.4H528zM501.1 952.5h13.8v9.3H501.1zM528 952.5h7v9.3H528zM507.9 961.5h13.7v9.2H507.9zM528 961.5h7v9.2H528zM366.9 1013.5h13.7v8.7H366.9zM413.9 1213.6h40.6v7.5H413.9zM407.2 1220.8h13.7v7.5H407.2zM467.6 1220.8h7v7.5H467.6zM400.5 1228h13.7v7.5H400.5zM467.6 1228h7v7.5H467.6zM393.7 1235.2h13.8v7.4H393.7zM467.6 1235.2h7v7.4H467.6zM393.7 1242.3h7.1v7.4H393.7zM467.6 1242.3h13.7v7.4H467.6zM393.7 1249.4h7.1v7.5H393.7zM474.3 1249.4h33.8v7.5H474.3zM393.7 1256.6h7.1v7.3H393.7zM481 1256.6h33.9v7.3H481zM507.9 1263.6h13.7v7.4H507.9zM702.5 1263.6h7v7.4H702.5zM507.9 1270.7h13.7v7.4H507.9zM702.5 1270.7h7v7.4H702.5zM507.9 1277.8h13.7v7.4H507.9zM507.9 1284.9h13.7v7.3H507.9zM514.6 1291.9h13.7v7.4H514.6zM521.3 1299h7v7.3H521.3z"/><path fill="#b2182b" d="M897.1 780.2h20.5v11.7H897.1zM548.1 791.6h20.5v11.5H548.1zM897.1 791.6h20.5v11.5H897.1zM548.1 802.8h20.5v11.4H548.1zM903.9 802.8h13.7v11.4H903.9zM548.1 813.9h20.5v11.2H548.1zM212.5 846h60.7v10.6H212.5zM212.5 856.3h54v10.5H212.5zM225.9 866.5h33.9v10.4H225.9zM232.7 876.6h20.4v10.2H232.7zM232.7 886.5h20.4v10.1H232.7zM232.7 896.3h20.4v10H232.7zM514.6 987.9h33.8v8.9H514.6zM521.3 996.5h27.1v8.9H521.3zM353.5 1038.4h13.7v8.5H353.5zM199.1 1094.3h13.7v8.1H199.1zM232.7 1094.3h54v8.1H232.7zM199.1 1102.1h13.7v8H199.1zM232.7 1102.1h54v8H232.7zM199.1 1109.8h13.7v7.9H199.1zM232.7 1109.8h54v7.9H232.7z"/><path fill="#ffffff" d="M937.4 802.8h33.9v11.4H937.4zM937.4 813.9h33.9v11.2H937.4zM937.4 824.8h33.9v10.9H937.4zM937.4 835.4h33.9v10.9H937.4zM937.4 846h33.9v10.6H937.4zM937.4 856.3h33.9v10.5H937.4zM937.4 866.5h33.9v10.4H937.4zM937.4 876.6h33.9v10.2H937.4zM937.4 886.5h33.9v10.1H937.4zM937.4 896.3h33.9v10H937.4zM937.4 906h33.9v9.8H937.4zM937.4 915.5h33.9v9.7H937.4zM413.9 1256.6h20.4v7.3H413.9zM413.9 1263.6h20.4v7.4H413.9zM413.9 1270.7h20.4v7.4H413.9zM474.3 1277.8h20.4v7.4H474.3zM474.3 1284.9h20.4v7.3H474.3zM474.3 1291.9h20.4v7.4H474.3z"/></g><rect x="172.4" y="731.9" width="798.6" height="588.2" fill="none" stroke="#000" stroke-width="2.6"/><g transform="translate(0.0 683.3)"><path d="M322.3 66.4 321.5 74.1 327.7 77.1 336.8 75.6 338.4 68.0 330.7 64.1ZM264.7 123.2 269.6 118.3 276.1 115.1 284.3 116.8 295.7 120.8 301.5 115.9 294.9 110.2 285.9 102.9 277.8 96.3 270.4 89.8 267.0 85.0 268.0 85.1 277.1 83.3 287.9 78.7 294.0 72.6 297.8 61.8 295.8 48.6 267.5 48.6 266.4 58.8 261.8 69.5 255.7 77.1 249.6 72.6 246.5 63.4 238.9 60.3 234.3 54.2 231.9 48.6 206.5 48.6 206.0 57.2 200.6 64.9 196.0 74.1 189.9 68.0 186.8 60.3 193.0 54.2 192.2 48.6 172.4 48.6 172.4 521.9 182.2 524.1 193.0 528.7 200.6 525.6 211.3 530.2 223.6 539.4 235.8 542.5 249.6 545.5 255.7 551.6 264.9 563.9 271.0 570.0 277.1 576.1 286.3 579.2 292.5 583.8 300.1 586.8 304.7 585.3 307.8 580.0 313.9 579.2 318.5 585.3 320.0 593.0 321.5 603.7 321.5 615.9 316.9 622.1 307.8 631.2 302.2 636.8 502.7 636.8 502.7 636.1 504.2 633.1 502.7 626.9 501.1 620.8 496.5 613.2 490.4 608.6 481.2 602.5 470.0 599.1 454.7 597.6 448.6 591.4 442.5 585.3 433.3 580.7 430.2 573.1 428.7 563.9 421.0 566.9 414.9 565.4 407.3 566.9 396.5 566.9 384.3 565.4 379.7 563.9 369.0 555.5 362.9 557.8 361.3 566.9 358.3 566.9 356.7 557.8 353.7 556.2 343.0 562.4 335.3 563.9 327.7 576.1 324.6 582.3 315.4 573.1 307.8 571.5 300.1 574.6 292.5 573.1 286.3 571.5 283.3 563.9 278.7 554.7 280.2 542.5 280.2 533.3 277.1 528.7 264.9 527.1 252.7 527.1 246.5 524.1 249.6 518.0 252.7 505.7 255.7 499.6 258.8 488.9 255.7 485.8 246.5 487.4 240.4 490.4 238.9 496.5 234.3 502.7 228.2 507.2 219.0 508.8 209.8 511.8 205.2 508.8 197.6 501.1 191.4 493.5 185.3 484.3 183.8 475.1 185.3 462.9 185.3 450.6 186.8 439.9 191.4 432.2 202.1 424.6 203.7 424.4 215.9 424.4 228.2 422.9 234.3 419.8 235.8 421.3 237.4 429.0 240.4 425.9 243.5 421.3 249.6 418.3 255.7 419.8 264.9 421.3 277.1 425.9 283.3 432.1 287.9 441.2 289.4 450.0 292.5 450.6 295.5 457.5 298.6 460.6 301.6 454.4 302.4 450.0 304.7 450.0 300.1 441.2 295.5 429.0 294.0 418.3 295.5 407.6 300.1 401.4 307.8 395.3 315.4 392.3 324.6 386.1 329.2 380.0 326.1 375.4 332.3 370.8 329.2 363.2 326.1 357.0 327.7 350.9 332.3 346.3 338.4 343.3 343.0 337.1 353.7 334.1 361.3 329.5 369.0 328.0 365.9 324.9 362.9 321.8 369.0 315.7 378.6 306.7 390.7 298.9 402.0 294.5 407.1 292.3 406.3 291.9 405.5 286.7 403.7 280.7 402.9 274.6 405.5 270.3 408.9 266.8 407.2 264.2 401.1 264.2 394.2 266.8 386.4 270.3 378.6 275.5 370.8 280.7 363.0 287.2 359.5 286.7 361.2 285.4 368.2 277.6 375.1 270.3 382.0 264.6 389.8 260.7 393.3 256.4 399.4 253.9 412.4 253.1 425.4 253.9 436.7 253.9 442.7 248.6 449.7 243.8 455.8 242.1 465.3 240.8 463.6 243.4 461.8 245.1 455.8 253.8 451.4 260.7 447.1 267.6 441.9 275.5 442.0 276.4 451.4 279.8 460.1 282.4 468.8 283.3 477.4 284.1 485.2 285.0 486.1 278.1 483.5 269.4 480.9 262.4 477.4 259.8 468.8 255.5 467.0 248.6 467.9 240.8 467.0 236.4 466.2 226.0 462.7 221.7 455.8 215.6 449.7 213.0 442.7 206.9 434.1 202.6 428.0 200.0 425.9 193.8 428.5 189.9 427.2 184.8 422.1 178.5 414.4 168.3 409.3 158.1 406.0 154.0 404.2 154.4 395.0 165.9 387.4 176.6 384.3 173.6 376.6 161.3 375.1 152.1 372.1 146.0 364.4 146.0 359.8 143.0 350.6 136.8 339.9 133.8 329.2 130.7 316.9 132.2 315.4 136.8 317.7 143.0 320.8 152.1 316.9 158.3 316.2 167.5 320.8 176.6 320.8 182.8 324.6 190.4 323.8 198.1 315.4 207.3 306.2 213.4 308.5 224.1 313.1 237.1 304.7 245.5 297.0 236.3 288.6 228.7 288.2 221.0 286.3 210.3 274.1 205.0 261.8 202.7 249.6 194.2 237.4 188.1 228.2 185.8 220.5 188.1 219.7 179.7 215.9 170.5 206.7 168.2 203.7 162.9 205.2 152.1 209.8 143.0 215.9 135.3 220.5 129.2 231.2 121.5 234.3 115.4 236.9 113.4 245.2 112.7 251.6 107.0 253.4 104.7 256.2 97.0 256.9 90.9 258.2 85.1 260.3 84.5 262.3 84.7 259.4 85.1 260.3 92.3 261.1 100.4 260.3 111.0 258.0 116.8 263.1 118.3ZM330.7 51.1 335.3 55.7 346.0 63.4 352.9 75.6 344.5 80.2 346.0 87.9 343.0 95.5 330.7 97.0 316.9 98.6 313.9 103.2 315.4 107.8 323.1 107.8 338.4 109.3 346.0 112.4 353.7 116.9 369.0 124.6 378.2 130.7 388.9 136.5 399.6 136.5 402.4 136.6 395.0 130.7 384.3 123.1 378.2 115.4 387.4 118.5 398.1 123.1 405.7 126.1 408.8 121.5 408.8 112.4 402.7 106.2 393.5 98.6 387.4 92.5 388.9 86.3 396.5 90.9 404.2 97.0 410.3 103.2 414.9 100.1 424.1 90.9 428.7 83.3 422.6 78.7 411.8 71.0 402.7 66.4 393.5 64.9 384.3 60.3 382.8 54.2 387.3 48.6 330.0 48.6ZM280.2 135.3 289.4 133.8 292.5 129.2 286.3 127.7 277.1 130.7ZM309.3 133.8 303.2 132.2 303.2 141.4 307.8 141.4ZM308.5 192.7 303.2 194.2 304.7 202.7 310.1 201.1ZM309.3 447.6 310.8 449.8 316.9 450.6 321.5 454.4 322.3 450.6 318.5 445.3ZM330.0 463.6 329.2 459.0 323.8 456.7 326.1 462.9ZM316.9 471.3 320.8 470.5 319.2 461.3 314.7 459.0 313.9 464.4ZM344.5 478.2 339.9 476.6 341.4 482.0 345.3 482.0ZM287.9 487.4 287.1 483.5 281.7 484.3 283.3 488.1ZM310.8 488.9 316.9 495.0 320.0 498.4 329.2 498.4 339.9 498.8 341.4 496.5 335.3 493.5 326.1 490.4 320.0 485.8 310.8 481.2 301.6 476.6 289.4 473.6 277.1 476.6 269.5 484.3 274.1 485.1 280.2 482.8 286.3 481.2 295.5 481.2 304.7 484.3ZM351.4 491.9 350.6 488.1 345.3 488.9 346.0 492.2ZM326.1 514.1 329.2 511.8 321.5 508.5 313.9 510.3 316.9 513.7ZM489.9 100.1 493.0 110.8 496.0 116.9 502.1 127.7 509.8 139.9 514.4 147.6 523.6 150.6 534.3 152.1 545.0 158.3 551.1 155.2 555.7 143.0 558.0 135.3 555.0 129.2 561.8 121.5 566.4 112.4 568.0 106.2 564.9 101.6 569.5 98.6 577.1 95.5 592.5 94.0 601.6 89.4 612.4 81.7 618.5 75.6 626.1 68.0 635.3 64.9 653.7 60.3 669.0 54.2 679.7 49.6 679.9 48.6 499.1 48.6 499.1 51.1 497.6 60.3 485.3 61.8 480.7 69.5 479.2 84.8 483.8 92.5ZM678.2 103.2 681.2 106.2 687.4 112.4 687.4 116.9 699.6 118.5 714.9 121.5 730.2 113.9 744.0 107.8 748.6 100.1 747.1 95.5 740.9 87.9 730.2 84.8 721.0 87.9 711.8 90.9 702.7 90.9 698.1 95.5 695.0 90.9 688.9 86.3 679.7 87.9 679.7 92.5 676.6 97.0 684.3 97.0 687.4 98.6 681.2 100.1ZM406.3 256.4 408.1 259.8 415.0 262.4 421.9 264.6 426.3 263.3 421.1 259.8 413.3 257.2ZM434.1 295.4 439.7 291.9 438.4 286.7 435.9 283.6 434.1 283.3 429.7 286.7 425.4 290.2 416.7 291.9 409.8 293.7 407.6 292.6 404.6 297.1 399.4 302.3 395.9 308.4 398.5 312.7 408.1 308.4 416.7 304.1 425.4 299.7ZM647.6 354.5 649.0 355.3 653.0 356.1ZM667.7 361.8 671.8 361.8 667.1 360.2ZM729.5 399.8 730.8 398.6 728.2 398.6ZM724.1 400.6 725.5 402.2 728.2 401.4ZM361.3 486.6 360.6 484.0 352.2 484.3 352.9 487.0ZM353.7 511.8 361.3 514.9 367.5 511.8 378.2 511.8 381.2 508.8 373.6 502.7 365.9 498.8 355.2 498.1 346.0 499.6 349.1 502.7 350.6 505.7 346.0 507.2 339.9 508.5 341.4 510.3ZM399.6 508.5 388.9 508.5 388.9 512.8 400.4 512.6ZM429.2 528.2 429.2 524.4 428.7 524.3 428.7 523.8 425.8 524.0 423.1 523.6 423.8 528.2ZM431.7 537.1 432.1 534.5 428.7 534.0 428.7 536.6ZM922.7 87.1 913.8 98.6 906.1 107.5 898.5 117.7 890.8 122.8 885.7 124.1 875.5 134.3 871.7 141.9 873.0 153.4 876.8 159.8 875.5 167.4 878.1 172.6 883.2 175.1 892.1 176.4 901.0 170.0 909.9 164.9 913.8 167.4 918.9 178.9 924.0 191.7 926.5 198.1 929.1 204.4 934.2 204.4 941.8 198.1 949.5 189.1 952.0 172.6 961.0 166.2 964.8 157.2 962.2 149.6 957.1 141.9 959.7 131.7 967.3 124.1 971.0 121.6 971.0 48.6 945.7 48.6 945.7 48.8 941.8 52.7 935.5 60.3 929.1 66.7 925.3 73.1ZM796.4 136.8 799.0 133.0 793.9 131.7 788.8 134.3 790.1 136.8ZM832.1 152.1 828.3 154.7 830.2 158.5 832.8 158.5ZM806.6 204.4 809.2 209.5 814.3 210.8 818.1 214.6 814.3 218.5 809.2 221.0 813.0 223.6 811.7 228.7 805.4 231.2 806.6 236.3 814.3 240.2 814.3 245.3 807.9 249.1 801.5 254.2 804.1 256.7 814.3 254.2 824.5 249.1 833.4 249.1 843.6 247.8 846.2 244.0 851.3 241.4 852.6 232.5 848.7 229.9 842.3 227.4 839.8 221.0 834.7 214.6 829.6 205.7 824.5 200.6 819.4 198.1 821.9 193.0 827.0 186.6 824.5 182.8 816.8 182.8 814.3 180.2 819.4 177.7 819.4 172.6 811.7 171.3 801.5 172.6 796.4 173.8 793.9 177.7 791.3 182.8 800.3 187.9 799.0 195.5 801.5 200.6ZM788.8 236.3 797.7 232.5 800.3 227.4 801.5 218.5 802.8 212.1 799.0 207.0 792.6 205.7 784.9 207.0 778.6 210.8 773.5 215.9 772.2 221.0 773.5 226.1 772.2 232.5 770.9 237.6 778.6 238.9ZM922.7 214.6 912.5 214.6 910.6 204.4 911.9 195.5 909.9 185.3 906.1 182.8 898.5 187.9 893.4 193.0 894.6 203.2 897.2 210.8 897.2 217.2 889.5 221.0 881.9 222.3 873.0 226.1 869.1 233.8 860.2 244.0 847.4 247.9 839.8 254.2 837.2 259.3 827.0 263.2 824.5 267.0 814.3 267.0 807.9 269.5 809.2 274.6 821.9 278.5 827.0 283.6 832.1 291.2 832.1 298.9 829.6 306.5 829.6 314.2 821.9 314.2 814.3 312.9 804.1 312.9 796.4 311.6 786.2 311.6 778.6 316.7 779.8 326.9 778.6 338.4 777.3 348.6 779.8 357.6 779.8 366.5 788.8 366.5 793.9 367.8 799.0 371.6 801.5 374.8 805.4 372.9 814.3 370.3 824.5 367.8 829.6 363.9 837.2 356.3 841.1 353.7 837.2 348.6 841.1 341.0 850.0 332.0 858.9 328.2 860.2 319.3 865.3 314.2 873.0 316.7 880.6 318.0 888.3 311.6 895.9 306.5 903.6 307.8 906.0 308.2 910.7 315.1 914.7 322.8 922.1 327.8 927.5 332.9 935.6 336.2 940.9 341.2 945.6 349.5 948.3 356.1 945.6 359.4 948.3 360.2 951.7 356.1 955.0 351.2 951.7 345.4 955.7 339.6 961.1 342.9 964.4 344.6 964.4 341.2 960.4 337.1 953.7 332.9 947.6 330.4 948.3 327.0 942.3 327.0 934.9 321.1 931.5 313.4 924.8 308.2 922.8 301.3 923.5 296.9 928.8 294.3 932.9 295.2 931.5 299.5 936.2 297.8 940.3 303.9 943.6 309.1 950.3 313.4 957.7 317.7 961.7 321.1 965.8 322.8 969.1 326.1 971.0 326.9 971.0 213.3 963.5 209.5 954.6 210.8 941.8 214.6 931.6 212.1ZM898.6 321.9 898.0 328.7 902.0 331.2 904.0 326.1 904.7 321.1 903.3 317.7ZM905.4 342.9 906.0 335.4 902.0 332.9 898.0 335.4 895.3 337.9 896.6 344.6 896.6 352.0 900.7 351.2 904.7 349.5ZM858.4 347.0 861.1 348.7 863.1 345.4 861.1 343.7 856.4 346.2ZM850.3 352.8 851.0 350.3 849.0 352.0ZM923.5 358.6 924.1 362.6 936.2 367.5 942.3 369.9 941.6 365.1 945.0 356.9 930.2 357.7ZM743.1 437.6 746.9 437.6 750.8 430.7 748.5 428.4 742.4 432.2ZM736.2 440.7 737.8 436.8 731.6 432.2 725.5 435.3 728.6 439.1ZM929.1 400.9 918.9 398.4 911.2 394.5 907.4 390.7 909.9 386.9 911.2 380.5 911.2 372.9 908.7 367.8 903.6 365.2 897.2 366.5 888.3 367.8 878.1 369.0 867.9 367.8 860.2 369.0 850.0 370.3 839.8 372.9 832.1 376.7 821.9 381.8 814.3 380.5 806.6 379.2 802.8 376.7 799.0 380.5 793.9 386.9 784.9 394.5 778.6 399.6 774.7 406.0 773.5 413.7 773.5 420.1 768.4 425.2 760.7 430.3 754.3 434.1 750.5 439.2 745.4 446.8 745.4 450.6 739.3 462.9 733.2 470.5 727.0 481.2 725.5 490.4 730.1 496.5 730.1 502.7 731.6 511.8 730.1 524.1 724.0 534.8 727.0 542.5 728.6 551.6 734.7 556.2 736.2 560.8 742.4 566.9 750.0 574.6 753.1 585.3 760.7 591.4 769.9 597.6 779.1 605.2 788.3 609.8 797.5 605.2 812.8 603.7 825.0 606.7 837.3 600.6 849.5 596.0 866.3 594.5 872.5 599.1 877.1 608.3 889.3 609.8 898.5 609.8 897.0 615.9 903.1 620.5 904.6 628.2 901.5 636.7 901.5 636.8 971.0 636.8 971.0 418.7 967.3 417.5 961.0 413.7 952.0 411.1 943.1 408.6 939.3 403.5Z" fill="#a6a6a6" stroke="#6a6a6a" stroke-width="3.4" stroke-linejoin="round" fill-rule="evenodd"/><path d="M190.5 252.0 193.2 246.5 190.5 237.1 187.8 225.7 178.4 219.0 174.4 222.8 179.1 233.3 185.2 243.7ZM174.4 235.2 172.4 230.2 172.4 242.7 173.7 246.5 177.1 243.7ZM245.7 282.1 250.0 282.9 251.4 285.0 254.3 288.9 260.0 287.1 267.1 287.1 272.9 288.6 271.8 280.7 270.4 275.0 266.4 274.6 263.2 271.4 260.0 267.1 254.3 267.1 248.9 265.4 242.9 270.7 237.1 276.4 230.0 281.4 221.4 286.1 229.3 283.6 233.6 287.1 240.0 283.6ZM278.6 307.1 277.9 312.1 279.3 311.4 282.1 308.6 284.3 312.1 287.1 317.1 290.0 315.7 291.4 311.4 292.1 304.3 293.6 299.3 297.9 302.9 302.9 305.0 305.0 302.9 302.1 298.6 297.9 292.1 288.6 290.0 278.6 290.0 274.3 290.0 270.0 292.1 274.3 295.7 279.3 298.6 280.7 302.1ZM252.9 328.6 256.4 329.3 260.0 324.3 260.7 317.1 261.4 309.3 261.4 302.9 264.3 298.6 268.6 295.7 270.0 292.1 264.3 292.1 255.7 294.3 252.9 298.6 250.0 304.3 250.7 310.0 250.0 317.1 250.7 323.6ZM324.3 315.0 330.0 314.3 330.7 311.4 330.0 306.4 327.1 307.1 321.4 309.3 313.6 310.7 307.9 312.1 305.0 315.7 306.4 317.9 311.4 316.4 317.1 315.7ZM306.4 323.6 311.4 320.0 310.0 317.9 302.9 318.6 295.7 320.7 290.0 323.6 284.3 325.7 278.6 328.6 285.0 330.7 292.1 329.3 299.3 325.7ZM933.7 538.6 927.6 539.4 930.6 545.5 935.2 551.6 941.3 547.0Z" fill="#fff" stroke="#6a6a6a" stroke-width="3.4" stroke-linejoin="round"/></g><line x1="370.4" y1="1320.1" x2="370.4" y2="1313.1" stroke="#000" stroke-width="2.6"/><line x1="370.4" y1="731.9" x2="370.4" y2="738.9" stroke="#000" stroke-width="2.6"/><line x1="571.8" y1="1320.1" x2="571.8" y2="1313.1" stroke="#000" stroke-width="2.6"/><line x1="571.8" y1="731.9" x2="571.8" y2="738.9" stroke="#000" stroke-width="2.6"/><line x1="773.1" y1="1320.1" x2="773.1" y2="1313.1" stroke="#000" stroke-width="2.6"/><line x1="773.1" y1="731.9" x2="773.1" y2="738.9" stroke="#000" stroke-width="2.6"/><line x1="172.4" y1="1181.1" x2="179.4" y2="1181.1" stroke="#000" stroke-width="2.6"/><line x1="971.0" y1="1181.1" x2="964.0" y2="1181.1" stroke="#000" stroke-width="2.6"/><line x1="172.4" y1="1026.2" x2="179.4" y2="1026.2" stroke="#000" stroke-width="2.6"/><line x1="971.0" y1="1026.2" x2="964.0" y2="1026.2" stroke="#000" stroke-width="2.6"/><line x1="172.4" y1="840.9" x2="179.4" y2="840.9" stroke="#000" stroke-width="2.6"/><line x1="971.0" y1="840.9" x2="964.0" y2="840.9" stroke="#000" stroke-width="2.6"/><text x="571.7" y="719.8" text-anchor="middle" font-weight="bold" font-size="48" textLength="623" lengthAdjust="spacing">c. SSS anomaly (July 2023)</text><text x="46.2" y="1206.8" font-size="48">20<tspan font-size="28.5" dy="-24.3">O</tspan><tspan dy="24.3">N</tspan></text><text x="46.2" y="1051.9" font-size="48">40<tspan font-size="28.5" dy="-24.3">O</tspan><tspan dy="24.3">N</tspan></text><text x="46.2" y="866.6" font-size="48">60<tspan font-size="28.5" dy="-24.3">O</tspan><tspan dy="24.3">N</tspan></text><text x="378.4" y="1381.3" font-size="48" text-anchor="middle">70<tspan font-size="28.5" dy="-24.3">O</tspan><tspan dy="24.3">W</tspan></text><text x="579.8" y="1381.3" font-size="48" text-anchor="middle">40<tspan font-size="28.5" dy="-24.3">O</tspan><tspan dy="24.3">W</tspan></text><text x="781.1" y="1381.3" font-size="48" text-anchor="middle">10<tspan font-size="28.5" dy="-24.3">O</tspan><tspan dy="24.3">W</tspan></text><clipPath id="clipd"><rect x="1081.0" y="731.9" width="798.6" height="588.2"/></clipPath><g clip-path="url(#clipd)"><rect x="1081.0" y="731.9" width="798.6" height="588.2" fill="#f8ece6"/><path fill="#5ca0cb" d="M1094.3 732.2h33.8v12.6H1094.3zM1154.7 732.2h33.8v12.6H1154.7zM1235.2 732.2h7v12.6H1235.2zM1376.2 732.2h7v12.6H1376.2zM1517.1 732.2h20.5v12.6H1517.1zM1584.2 732.2h20.5v12.6H1584.2zM1644.7 732.2h13.7v12.6H1644.7zM1094.3 744.5h33.8v12.4H1094.3zM1154.7 744.5h33.8v12.4H1154.7zM1235.2 744.5h7v12.4H1235.2zM1376.2 744.5h7v12.4H1376.2zM1517.1 744.5h20.5v12.4H1517.1zM1584.2 744.5h20.5v12.4H1584.2zM1644.7 744.5h13.7v12.4H1644.7zM1094.3 756.6h33.8v12.2H1094.3zM1154.7 756.6h33.8v12.2H1154.7zM1201.7 756.6h13.7v12.2H1201.7zM1369.5 756.6h7v12.2H1369.5zM1497 756.6h7v12.2H1497zM1597.7 756.6h60.7v12.2H1597.7zM1094.3 768.5h33.8v12H1094.3zM1154.7 768.5h27.1v12H1154.7zM1195 768.5h40.5v12H1195zM1362.8 768.5h7v12H1362.8zM1497 768.5h7v12H1497zM1651.4 768.5h7v12H1651.4zM1154.7 780.2h27.1v11.7H1154.7zM1195 780.2h13.7v11.7H1195zM1349.3 780.2h7v11.7H1349.3zM1497 780.2h7v11.7H1497zM1161.4 791.6h47.3v11.5H1161.4zM1349.3 791.6h7v11.5H1349.3zM1389.6 791.6h13.7v11.5H1389.6zM1490.3 791.6h7v11.5H1490.3zM1174.8 802.8h40.6v11.4H1174.8zM1349.3 802.8h7v11.4H1349.3zM1382.9 802.8h13.7v11.4H1382.9zM1174.8 813.9h13.7v11.2H1174.8zM1201.7 813.9h20.4v11.2H1201.7zM1349.3 813.9h13.8v11.2H1349.3zM1376.2 813.9h13.7v11.2H1376.2zM1349.3 824.8h33.9v10.9H1349.3zM1752 824.8h7.1v10.9H1752zM1362.8 835.4h13.7v10.9H1362.8zM1752 835.4h7.1v10.9H1752zM1349.3 866.5h47.3v10.4H1349.3zM1510.4 866.5h13.7v10.4H1510.4zM1591 866.5h7v10.4H1591zM1342.6 876.6h40.6v10.2H1342.6zM1396.3 876.6h7v10.2H1396.3zM1510.4 876.6h27.2v10.2H1510.4zM1584.2 876.6h20.5v10.2H1584.2zM1342.6 886.5h20.5v10.1H1342.6zM1403 886.5h13.8v10.1H1403zM1510.4 886.5h13.7v10.1H1510.4zM1591 886.5h7v10.1H1591zM1342.6 896.3h13.7v10H1342.6zM1416.4 896.3h7.1v10H1416.4zM1423.2 906h7v9.8H1423.2zM1329.2 915.5h27.1v9.7H1329.2zM1429.9 915.5h7v9.7H1429.9zM1329.2 924.9h33.9v9.6H1329.2zM1443.3 924.9h7v9.6H1443.3zM1329.2 934.2h54v9.5H1329.2zM1450 934.2h13.7v9.5H1450zM1322.5 943.4h13.7v9.4H1322.5zM1389.6 943.4h7v9.4H1389.6zM1450 943.4h13.7v9.4H1450zM1295.6 952.5h40.6v9.3H1295.6zM1396.3 952.5h13.7v9.3H1396.3zM1450 952.5h7v9.3H1450zM1611.1 952.5h7v9.3H1611.1zM1329.2 961.5h7v9.2H1329.2zM1409.7 961.5h7.1v9.2H1409.7zM1450 961.5h7v9.2H1450zM1611.1 961.5h13.7v9.2H1611.1zM1329.2 970.4h7v9.1H1329.2zM1376.2 1013.5h13.7v8.7H1376.2zM1423.2 1013.5h20.4v8.7H1423.2zM1403 1021.9h20.5v8.6H1403zM1248.6 1125h7.1v7.9H1248.6zM1248.6 1132.6h7.1v7.8H1248.6zM1302.3 1155.1h7.1v7.7H1302.3zM1322.5 1155.1h20.4v7.7H1322.5zM1168.1 1169.9h7v7.7H1168.1zM1168.1 1177.3h13.7v7.6H1168.1zM1302.3 1199.2h60.8v7.5H1302.3zM1121.1 1206.4h13.7v7.5H1121.1zM1295.6 1206.4h20.5v7.5H1295.6zM1369.5 1206.4h13.7v7.5H1369.5zM1121.1 1213.6h20.5v7.5H1121.1zM1288.9 1213.6h20.5v7.5H1288.9zM1382.9 1213.6h7v7.5H1382.9zM1121.1 1220.8h27.2v7.5H1121.1zM1288.9 1220.8h13.7v7.5H1288.9zM1382.9 1220.8h7v7.5H1382.9zM1503.7 1220.8h20.4v7.5H1503.7zM1101 1228h47.3v7.5H1101zM1154.7 1228h13.7v7.5H1154.7zM1174.8 1228h7v7.5H1174.8zM1288.9 1228h13.7v7.5H1288.9zM1389.6 1228h47.3v7.5H1389.6zM1497 1228h33.9v7.5H1497zM1094.3 1235.2h7v7.4H1094.3zM1127.8 1235.2h13.8v7.4H1127.8zM1154.7 1235.2h13.7v7.4H1154.7zM1174.8 1235.2h7v7.4H1174.8zM1288.9 1235.2h13.7v7.4H1288.9zM1389.6 1235.2h7v7.4H1389.6zM1429.9 1235.2h20.4v7.4H1429.9zM1483.6 1235.2h27.1v7.4H1483.6zM1517.1 1235.2h47.3v7.4H1517.1zM1080.8 1242.3h13.8v7.4H1080.8zM1127.8 1242.3h13.8v7.4H1127.8zM1154.7 1242.3h13.7v7.4H1154.7zM1174.8 1242.3h13.7v7.4H1174.8zM1288.9 1242.3h13.7v7.4H1288.9zM1443.3 1242.3h60.7v7.4H1443.3zM1523.8 1242.3h94.3v7.4H1523.8zM1094.3 1249.4h7v7.5H1094.3zM1127.8 1249.4h20.5v7.5H1127.8zM1154.7 1249.4h13.7v7.5H1154.7zM1174.8 1249.4h13.7v7.5H1174.8zM1288.9 1249.4h13.7v7.5H1288.9zM1443.3 1249.4h67.4v7.5H1443.3zM1517.1 1249.4h107.7v7.5H1517.1zM1101 1256.6h20.4v7.3H1101zM1134.5 1256.6h60.8v7.3H1134.5zM1288.9 1256.6h13.7v7.3H1288.9zM1443.3 1256.6h7v7.3H1443.3zM1497 1256.6h114.4v7.3H1497zM1617.8 1256.6h13.7v7.3H1617.8zM1114.4 1263.6h13.7v7.4H1114.4zM1141.3 1263.6h54v7.4H1141.3zM1443.3 1263.6h7v7.4H1443.3zM1503.7 1263.6h101v7.4H1503.7zM1624.5 1263.6h20.5v7.4H1624.5zM1107.7 1270.7h13.7v7.4H1107.7zM1168.1 1270.7h20.4v7.4H1168.1zM1429.9 1270.7h7v7.4H1429.9zM1497 1270.7h107.7v7.4H1497zM1631.2 1270.7h54v7.4H1631.2zM1101 1277.8h13.7v7.4H1101zM1174.8 1277.8h7v7.4H1174.8zM1490.3 1277.8h114.4v7.4H1490.3zM1644.7 1277.8h40.5v7.4H1644.7zM1094.3 1284.9h13.7v7.3H1094.3zM1174.8 1284.9h7v7.3H1174.8zM1416.4 1284.9h7.1v7.3H1416.4zM1483.6 1284.9h121.1v7.3H1483.6zM1664.8 1284.9h20.4v7.3H1664.8zM1094.3 1291.9h13.7v7.4H1094.3zM1168.1 1291.9h7v7.4H1168.1zM1523.8 1291.9h154.7v7.4H1523.8zM1731.9 1291.9h7v7.4H1731.9zM1792.3 1291.9h20.5v7.4H1792.3zM1101 1299h13.7v7.3H1101zM1148 1299h13.7v7.3H1148zM1423.2 1299h7v7.3H1423.2zM1604.4 1299h60.7v7.3H1604.4zM1725.2 1299h13.7v7.3H1725.2zM1792.3 1299h20.5v7.3H1792.3zM1101 1306h40.6v7.4H1101zM1436.6 1306h13.7v7.4H1436.6zM1705.1 1306h40.5v7.4H1705.1zM1792.3 1306h20.5v7.4H1792.3zM1101 1313.1h40.6v7.3H1101zM1436.6 1313.1h13.7v7.3H1436.6zM1705.1 1313.1h40.5v7.3H1705.1zM1792.3 1313.1h20.5v7.3H1792.3z"/><path fill="#4683c0" d="M1195 732.2h20.4v12.6H1195zM1604.4 732.2h40.6v12.6H1604.4zM1195 744.5h20.4v12.4H1195zM1604.4 744.5h40.6v12.4H1604.4zM1188.2 756.6h13.8v12.2H1188.2zM1215.1 756.6h13.7v12.2H1215.1zM1376.2 756.6h7v12.2H1376.2zM1476.9 756.6h20.4v12.2H1476.9zM1181.5 768.5h13.8v12H1181.5zM1476.9 768.5h20.4v12H1476.9zM1181.5 780.2h13.8v11.7H1181.5zM1356 780.2h7.1v11.7H1356zM1389.6 780.2h20.4v11.7H1389.6zM1476.9 780.2h20.4v11.7H1476.9zM1148 791.6h13.7v11.5H1148zM1356 791.6h7.1v11.5H1356zM1382.9 791.6h7v11.5H1382.9zM1148 802.8h27.1v11.4H1148zM1356 802.8h13.8v11.4H1356zM1376.2 802.8h7v11.4H1376.2zM1148 813.9h27.1v11.2H1148zM1362.8 813.9h13.7v11.2H1362.8zM1752 846h7.1v10.6H1752zM1382.9 876.6h13.7v10.2H1382.9zM1362.8 886.5h27.1v10.1H1362.8zM1396.3 886.5h7v10.1H1396.3zM1356 896.3h7.1v10H1356zM1409.7 896.3h7.1v10H1409.7zM1416.4 906h7.1v9.8H1416.4zM1322.5 915.5h7v9.7H1322.5zM1356 915.5h7.1v9.7H1356zM1423.2 915.5h7v9.7H1423.2zM1322.5 924.9h7v9.6H1322.5zM1362.8 924.9h27.1v9.6H1362.8zM1429.9 924.9h13.7v9.6H1429.9zM1322.5 934.2h7v9.5H1322.5zM1382.9 934.2h13.7v9.5H1382.9zM1443.3 934.2h7v9.5H1443.3zM1295.6 943.4h27.2v9.4H1295.6zM1396.3 943.4h13.7v9.4H1396.3zM1443.3 943.4h7v9.4H1443.3zM1409.7 952.5h7.1v9.3H1409.7zM1443.3 952.5h7v9.3H1443.3zM1416.4 961.5h7.1v9.2H1416.4zM1443.3 961.5h7v9.2H1443.3zM1389.6 1013.5h33.9v8.7H1389.6zM1309.1 1155.1h13.7v7.7H1309.1zM1315.8 1206.4h54v7.5H1315.8zM1309.1 1213.6h13.7v7.5H1309.1zM1376.2 1213.6h7v7.5H1376.2zM1302.3 1220.8h13.8v7.5H1302.3zM1168.1 1228h7v7.5H1168.1zM1302.3 1228h13.8v7.5H1302.3zM1376.2 1228h13.7v7.5H1376.2zM1101 1235.2h7v7.4H1101zM1114.4 1235.2h13.7v7.4H1114.4zM1168.1 1235.2h7v7.4H1168.1zM1302.3 1235.2h13.8v7.4H1302.3zM1376.2 1235.2h13.7v7.4H1376.2zM1396.3 1235.2h13.7v7.4H1396.3zM1416.4 1235.2h13.8v7.4H1416.4zM1510.4 1235.2h7v7.4H1510.4zM1094.3 1242.3h7v7.4H1094.3zM1121.1 1242.3h7v7.4H1121.1zM1168.1 1242.3h7v7.4H1168.1zM1302.3 1242.3h13.8v7.4H1302.3zM1369.5 1242.3h27.1v7.4H1369.5zM1429.9 1242.3h13.7v7.4H1429.9zM1503.7 1242.3h20.4v7.4H1503.7zM1101 1249.4h7v7.5H1101zM1114.4 1249.4h13.7v7.5H1114.4zM1168.1 1249.4h7v7.5H1168.1zM1302.3 1249.4h13.8v7.5H1302.3zM1436.6 1249.4h7v7.5H1436.6zM1510.4 1249.4h7v7.5H1510.4zM1121.1 1256.6h13.7v7.3H1121.1zM1302.3 1256.6h13.8v7.3H1302.3zM1436.6 1256.6h7v7.3H1436.6zM1611.1 1256.6h7v7.3H1611.1zM1127.8 1263.6h13.8v7.4H1127.8zM1604.4 1263.6h20.4v7.4H1604.4zM1121.1 1270.7h7v7.4H1121.1zM1134.5 1270.7h33.9v7.4H1134.5zM1423.2 1270.7h7v7.4H1423.2zM1604.4 1270.7h27.1v7.4H1604.4zM1114.4 1277.8h7v7.4H1114.4zM1161.4 1277.8h13.7v7.4H1161.4zM1416.4 1277.8h7.1v7.4H1416.4zM1604.4 1277.8h40.6v7.4H1604.4zM1107.7 1284.9h7v7.3H1107.7zM1168.1 1284.9h7v7.3H1168.1zM1604.4 1284.9h60.7v7.3H1604.4zM1107.7 1291.9h13.7v7.4H1107.7zM1154.7 1291.9h13.7v7.4H1154.7zM1416.4 1291.9h7.1v7.4H1416.4zM1114.4 1299h33.9v7.3H1114.4zM1416.4 1299h7.1v7.3H1416.4zM1429.9 1306h7v7.4H1429.9zM1429.9 1313.1h7v7.3H1429.9z"/><path fill="#3765ae" d="M1215.1 732.2h13.7v12.6H1215.1zM1382.9 732.2h7v12.6H1382.9zM1215.1 744.5h13.7v12.4H1215.1zM1382.9 744.5h7v12.4H1382.9zM1228.5 756.6h7v12.2H1228.5zM1382.9 756.6h27.1v12.2H1382.9zM1369.5 768.5h40.5v12H1369.5zM1362.8 780.2h7v11.7H1362.8zM1376.2 780.2h13.7v11.7H1376.2zM1362.8 791.6h20.4v11.5H1362.8zM1369.5 802.8h7v11.4H1369.5zM1389.6 886.5h7v10.1H1389.6zM1362.8 896.3h47.2v10H1362.8zM1315.8 915.5h7v9.7H1315.8zM1362.8 915.5h33.8v9.7H1362.8zM1416.4 915.5h7.1v9.7H1416.4zM1315.8 924.9h7v9.6H1315.8zM1389.6 924.9h13.7v9.6H1389.6zM1416.4 924.9h13.8v9.6H1416.4zM1315.8 934.2h7v9.5H1315.8zM1396.3 934.2h13.7v9.5H1396.3zM1436.6 934.2h7v9.5H1436.6zM1409.7 943.4h13.8v9.4H1409.7zM1436.6 943.4h7v9.4H1436.6zM1416.4 952.5h13.8v9.3H1416.4zM1436.6 952.5h7v9.3H1436.6zM1423.2 961.5h7v9.2H1423.2zM1436.6 961.5h7v9.2H1436.6zM1322.5 1213.6h54v7.5H1322.5zM1315.8 1220.8h13.7v7.5H1315.8zM1376.2 1220.8h7v7.5H1376.2zM1315.8 1228h13.7v7.5H1315.8zM1369.5 1228h7v7.5H1369.5zM1107.7 1235.2h7v7.4H1107.7zM1315.8 1235.2h13.7v7.4H1315.8zM1362.8 1235.2h13.7v7.4H1362.8zM1409.7 1235.2h7.1v7.4H1409.7zM1101 1242.3h7v7.4H1101zM1114.4 1242.3h7v7.4H1114.4zM1315.8 1242.3h13.7v7.4H1315.8zM1356 1242.3h13.8v7.4H1356zM1396.3 1242.3h13.7v7.4H1396.3zM1416.4 1242.3h13.8v7.4H1416.4zM1107.7 1249.4h7v7.5H1107.7zM1315.8 1249.4h13.7v7.5H1315.8zM1362.8 1249.4h40.5v7.5H1362.8zM1423.2 1249.4h13.7v7.5H1423.2zM1315.8 1256.6h7v7.3H1315.8zM1369.5 1256.6h27.1v7.3H1369.5zM1429.9 1256.6h7v7.3H1429.9zM1436.6 1263.6h7v7.4H1436.6zM1127.8 1270.7h7v7.4H1127.8zM1416.4 1270.7h7.1v7.4H1416.4zM1121.1 1277.8h40.6v7.4H1121.1zM1114.4 1284.9h13.7v7.3H1114.4zM1154.7 1284.9h13.7v7.3H1154.7zM1121.1 1291.9h33.9v7.4H1121.1zM1416.4 1306h13.8v7.4H1416.4zM1416.4 1313.1h13.8v7.3H1416.4z"/><path fill="#1b3565" d="M1228.5 732.2h7v12.6H1228.5zM1389.6 732.2h20.4v12.6H1389.6zM1228.5 744.5h7v12.4H1228.5zM1389.6 744.5h20.4v12.4H1389.6zM1369.5 780.2h7v11.7H1369.5zM1356 906h60.8v9.8H1356zM1295.6 915.5h20.5v9.7H1295.6zM1396.3 915.5h20.5v9.7H1396.3zM1295.6 924.9h20.5v9.6H1295.6zM1403 924.9h13.8v9.6H1403zM1295.6 934.2h20.5v9.5H1295.6zM1409.7 934.2h27.2v9.5H1409.7zM1423.2 943.4h13.7v9.4H1423.2zM1429.9 952.5h7v9.3H1429.9zM1429.9 961.5h7v9.2H1429.9zM1329.2 1220.8h47.3v7.5H1329.2zM1329.2 1228h40.6v7.5H1329.2zM1329.2 1235.2h33.9v7.4H1329.2zM1107.7 1242.3h7v7.4H1107.7zM1329.2 1242.3h27.1v7.4H1329.2zM1409.7 1242.3h7.1v7.4H1409.7zM1329.2 1249.4h33.9v7.5H1329.2zM1403 1249.4h20.5v7.5H1403zM1342.6 1256.6h27.2v7.3H1342.6zM1396.3 1256.6h33.9v7.3H1396.3zM1342.6 1263.6h94.3v7.4H1342.6zM1342.6 1270.7h74.2v7.4H1342.6zM1335.9 1277.8h47.3v7.4H1335.9zM1403 1277.8h13.8v7.4H1403zM1127.8 1284.9h27.2v7.3H1127.8zM1403 1284.9h13.8v7.3H1403zM1403 1291.9h13.8v7.4H1403zM1396.3 1299h20.5v7.3H1396.3zM1396.3 1306h20.5v7.4H1396.3zM1396.3 1313.1h20.5v7.3H1396.3z"/><path fill="#f7d8c8" d="M1241.9 732.2h7.1v12.6H1241.9zM1356 732.2h7.1v12.6H1356zM1550.7 732.2h7v12.6H1550.7zM1671.5 732.2h13.7v12.6H1671.5zM1698.4 732.2h13.7v12.6H1698.4zM1718.5 732.2h7v12.6H1718.5zM1792.3 732.2h13.7v12.6H1792.3zM1241.9 744.5h7.1v12.4H1241.9zM1356 744.5h7.1v12.4H1356zM1550.7 744.5h7v12.4H1550.7zM1671.5 744.5h13.7v12.4H1671.5zM1698.4 744.5h13.7v12.4H1698.4zM1718.5 744.5h7v12.4H1718.5zM1792.3 744.5h13.7v12.4H1792.3zM1349.3 756.6h7v12.2H1349.3zM1705.1 756.6h7v12.2H1705.1zM1718.5 756.6h13.7v12.2H1718.5zM1785.6 756.6h13.7v12.2H1785.6zM1342.6 768.5h7v12H1342.6zM1705.1 768.5h7v12H1705.1zM1725.2 768.5h27.1v12H1725.2zM1778.9 768.5h13.7v12H1778.9zM1530.6 780.2h7v11.7H1530.6zM1705.1 780.2h7v11.7H1705.1zM1745.3 780.2h40.6v11.7H1745.3zM1114.4 791.6h20.4v11.5H1114.4zM1268.8 791.6h27.1v11.5H1268.8zM1651.4 791.6h7v11.5H1651.4zM1705.1 791.6h7v11.5H1705.1zM1738.6 791.6h13.7v11.5H1738.6zM1778.9 791.6h13.7v11.5H1778.9zM1114.4 802.8h20.4v11.4H1114.4zM1268.8 802.8h27.1v11.4H1268.8zM1476.9 802.8h7v11.4H1476.9zM1651.4 802.8h13.7v11.4H1651.4zM1698.4 802.8h47.2v11.4H1698.4zM1785.6 802.8h7v11.4H1785.6zM1114.4 813.9h20.4v11.2H1114.4zM1268.8 813.9h27.1v11.2H1268.8zM1403 813.9h7v11.2H1403zM1584.2 813.9h20.5v11.2H1584.2zM1644.7 813.9h94.2v11.2H1644.7zM1785.6 813.9h7v11.2H1785.6zM1134.5 824.8h7.1v10.9H1134.5zM1268.8 824.8h27.1v10.9H1268.8zM1335.9 824.8h7v10.9H1335.9zM1403 824.8h7v10.9H1403zM1423.2 824.8h20.4v10.9H1423.2zM1483.6 824.8h7v10.9H1483.6zM1651.4 824.8h87.5v10.9H1651.4zM1778.9 824.8h7v10.9H1778.9zM1215.1 835.4h7v10.9H1215.1zM1268.8 835.4h13.7v10.9H1268.8zM1322.5 835.4h13.7v10.9H1322.5zM1409.7 835.4h33.9v10.9H1409.7zM1483.6 835.4h13.7v10.9H1483.6zM1658.1 835.4h13.7v10.9H1658.1zM1678.2 835.4h33.9v10.9H1678.2zM1718.5 835.4h20.4v10.9H1718.5zM1778.9 835.4h7v10.9H1778.9zM1805.7 835.4h7.1v10.9H1805.7zM1409.7 846h33.9v10.6H1409.7zM1497 846h7v10.6H1497zM1658.1 846h13.7v10.6H1658.1zM1684.9 846h20.5v10.6H1684.9zM1725.2 846h13.7v10.6H1725.2zM1772.2 846h7v10.6H1772.2zM1805.7 846h7.1v10.6H1805.7zM1228.5 856.3h20.5v10.5H1228.5zM1436.6 856.3h27.1v10.5H1436.6zM1476.9 856.3h20.4v10.5H1476.9zM1664.8 856.3h40.6v10.5H1664.8zM1718.5 856.3h13.7v10.5H1718.5zM1765.5 856.3h7v10.5H1765.5zM1805.7 856.3h7.1v10.5H1805.7zM1228.5 866.5h20.5v10.4H1228.5zM1450 866.5h33.9v10.4H1450zM1684.9 866.5h27.2v10.4H1684.9zM1745.3 866.5h13.8v10.4H1745.3zM1805.7 866.5h7.1v10.4H1805.7zM1228.5 876.6h20.5v10.2H1228.5zM1463.4 876.6h13.8v10.2H1463.4zM1691.6 876.6h20.5v10.2H1691.6zM1221.8 886.5h27.2v10.1H1221.8zM1463.4 886.5h20.5v10.1H1463.4zM1691.6 886.5h13.8v10.1H1691.6zM1805.7 886.5h7.1v10.1H1805.7zM1195 896.3h13.7v10H1195zM1221.8 896.3h27.2v10H1221.8zM1463.4 896.3h27.2v10H1463.4zM1651.4 896.3h13.7v10H1651.4zM1684.9 896.3h13.8v10H1684.9zM1738.6 896.3h7v10H1738.6zM1174.8 906h20.5v9.8H1174.8zM1463.4 906h33.9v9.8H1463.4zM1651.4 906h40.5v9.8H1651.4zM1738.6 906h7v9.8H1738.6zM1174.8 915.5h20.5v9.7H1174.8zM1684.9 915.5h13.8v9.7H1684.9zM1738.6 915.5h7v9.7H1738.6zM1174.8 924.9h20.5v9.6H1174.8zM1544 924.9h27.1v9.6H1544zM1691.6 924.9h20.5v9.6H1691.6zM1537.3 934.2h13.7v9.5H1537.3zM1564.1 934.2h13.7v9.5H1564.1zM1691.6 934.2h33.9v9.5H1691.6zM1523.8 943.4h20.5v9.4H1523.8zM1570.8 943.4h13.8v9.4H1570.8zM1490.3 952.5h33.8v9.3H1490.3zM1577.5 952.5h13.8v9.3H1577.5zM1382.9 961.5h7v9.2H1382.9zM1483.6 961.5h7v9.2H1483.6zM1584.2 961.5h13.8v9.2H1584.2zM1255.4 970.4h27.1v9.1H1255.4zM1302.3 970.4h7.1v9.1H1302.3zM1389.6 970.4h7v9.1H1389.6zM1476.9 970.4h13.7v9.1H1476.9zM1584.2 970.4h13.8v9.1H1584.2zM1255.4 979.2h20.4v9H1255.4zM1309.1 979.2h7v9H1309.1zM1423.2 979.2h13.7v9H1423.2zM1463.4 979.2h20.5v9H1463.4zM1584.2 979.2h20.5v9H1584.2zM1315.8 987.9h7v8.9H1315.8zM1584.2 987.9h54v8.9H1584.2zM1309.1 996.5h7v8.9H1309.1zM1342.6 996.5h7v8.9H1342.6zM1409.7 996.5h7.1v8.9H1409.7zM1530.6 996.5h40.5v8.9H1530.6zM1577.5 996.5h27.2v8.9H1577.5zM1819.2 996.5h13.7v8.9H1819.2zM1866.2 996.5h7v8.9H1866.2zM1295.6 1005.1h13.8v8.7H1295.6zM1349.3 1005.1h20.5v8.7H1349.3zM1456.7 1005.1h20.5v8.7H1456.7zM1517.1 1005.1h13.8v8.7H1517.1zM1564.1 1005.1h33.9v8.7H1564.1zM1819.2 1005.1h20.4v8.7H1819.2zM1866.2 1005.1h7v8.7H1866.2zM1288.9 1013.5h7v8.7H1288.9zM1470.1 1013.5h7.1v8.7H1470.1zM1517.1 1013.5h7v8.7H1517.1zM1570.8 1013.5h27.2v8.7H1570.8zM1825.9 1013.5h20.4v8.7H1825.9zM1859.4 1013.5h13.8v8.7H1859.4zM1288.9 1021.9h7v8.6H1288.9zM1470.1 1021.9h13.8v8.6H1470.1zM1503.7 1021.9h13.7v8.6H1503.7zM1570.8 1021.9h27.2v8.6H1570.8zM1825.9 1021.9h33.8v8.6H1825.9zM1288.9 1030.2h7v8.5H1288.9zM1470.1 1030.2h20.5v8.5H1470.1zM1497 1030.2h7v8.5H1497zM1651.4 1030.2h7v8.5H1651.4zM1832.6 1030.2h13.7v8.5H1832.6zM1288.9 1038.4h7v8.5H1288.9zM1362.8 1038.4h40.5v8.5H1362.8zM1470.1 1038.4h27.2v8.5H1470.1zM1644.7 1038.4h20.4v8.5H1644.7zM1832.6 1038.4h7v8.5H1832.6zM1288.9 1046.6h13.7v8.4H1288.9zM1369.5 1046.6h40.5v8.4H1369.5zM1470.1 1046.6h27.2v8.4H1470.1zM1651.4 1046.6h7v8.4H1651.4zM1282.2 1054.7h27.2v8.3H1282.2zM1376.2 1054.7h40.6v8.3H1376.2zM1463.4 1054.7h33.9v8.3H1463.4zM1262.1 1062.7h60.7v8.3H1262.1zM1382.9 1062.7h40.6v8.3H1382.9zM1463.4 1062.7h33.9v8.3H1463.4zM1604.4 1062.7h20.4v8.3H1604.4zM1248.6 1070.7h67.5v8.2H1248.6zM1376.2 1070.7h54v8.2H1376.2zM1470.1 1070.7h13.8v8.2H1470.1zM1241.9 1078.6h67.5v8.2H1241.9zM1349.3 1078.6h87.6v8.2H1349.3zM1228.5 1086.5h13.7v8.1H1228.5zM1262.1 1086.5h40.5v8.1H1262.1zM1342.6 1086.5h101v8.1H1342.6zM1221.8 1094.3h7v8.1H1221.8zM1262.1 1094.3h7v8.1H1262.1zM1282.2 1094.3h27.2v8.1H1282.2zM1349.3 1094.3h94.3v8.1H1349.3zM1215.1 1102.1h13.7v8H1215.1zM1262.1 1102.1h7v8H1262.1zM1295.6 1102.1h20.5v8H1295.6zM1356 1102.1h54v8H1356zM1416.4 1102.1h27.2v8H1416.4zM1470.1 1102.1h13.8v8H1470.1zM1523.8 1102.1h13.8v8H1523.8zM1584.2 1102.1h13.8v8H1584.2zM1215.1 1109.8h7v7.9H1215.1zM1262.1 1109.8h7v7.9H1262.1zM1302.3 1109.8h20.5v7.9H1302.3zM1362.8 1109.8h40.5v7.9H1362.8zM1423.2 1109.8h20.4v7.9H1423.2zM1463.4 1109.8h80.9v7.9H1463.4zM1564.1 1109.8h40.6v7.9H1564.1zM1208.4 1117.4h7v7.9H1208.4zM1262.1 1117.4h7v7.9H1262.1zM1295.6 1117.4h27.2v7.9H1295.6zM1349.3 1117.4h54v7.9H1349.3zM1423.2 1117.4h20.4v7.9H1423.2zM1463.4 1117.4h87.6v7.9H1463.4zM1557.4 1117.4h54v7.9H1557.4zM1154.7 1125h13.7v7.9H1154.7zM1262.1 1125h7v7.9H1262.1zM1288.9 1125h33.9v7.9H1288.9zM1342.6 1125h60.7v7.9H1342.6zM1423.2 1125h20.4v7.9H1423.2zM1463.4 1125h161.4v7.9H1463.4zM1127.8 1132.6h13.8v7.8H1127.8zM1282.2 1132.6h40.6v7.8H1282.2zM1335.9 1132.6h13.7v7.8H1335.9zM1362.8 1132.6h40.5v7.8H1362.8zM1423.2 1132.6h20.4v7.8H1423.2zM1463.4 1132.6h188.3v7.8H1463.4zM1121.1 1140.1h20.5v7.8H1121.1zM1275.5 1140.1h13.7v7.8H1275.5zM1349.3 1140.1h60.7v7.8H1349.3zM1476.9 1140.1h107.7v7.8H1476.9zM1597.7 1140.1h54v7.8H1597.7zM1114.4 1147.6h27.2v7.8H1114.4zM1268.8 1147.6h13.7v7.8H1268.8zM1369.5 1147.6h47.3v7.8H1369.5zM1483.6 1147.6h47.3v7.8H1483.6zM1537.3 1147.6h33.8v7.8H1537.3zM1604.4 1147.6h47.3v7.8H1604.4zM1080.8 1155.1h60.8v7.7H1080.8zM1268.8 1155.1h7v7.7H1268.8zM1369.5 1155.1h47.3v7.7H1369.5zM1490.3 1155.1h33.8v7.7H1490.3zM1544 1155.1h20.4v7.7H1544zM1611.1 1155.1h40.6v7.7H1611.1zM1080.8 1162.5h60.8v7.7H1080.8zM1268.8 1162.5h7v7.7H1268.8zM1369.5 1162.5h54v7.7H1369.5zM1483.6 1162.5h47.3v7.7H1483.6zM1537.3 1162.5h27.1v7.7H1537.3zM1080.8 1169.9h20.5v7.7H1080.8zM1134.5 1169.9h7.1v7.7H1134.5zM1362.8 1169.9h67.4v7.7H1362.8zM1476.9 1169.9h80.8v7.7H1476.9zM1134.5 1177.3h7.1v7.6H1134.5zM1248.6 1177.3h13.8v7.6H1248.6zM1309.1 1177.3h13.7v7.6H1309.1zM1342.6 1177.3h215.1v7.6H1342.6zM1134.5 1184.6h7.1v7.6H1134.5zM1463.4 1184.6h20.5v7.6H1463.4zM1523.8 1184.6h20.5v7.6H1523.8zM1235.2 1213.6h20.5v7.5H1235.2zM1624.5 1213.6h27.2v7.5H1624.5zM1221.8 1220.8h20.4v7.5H1221.8zM1255.4 1220.8h7v7.5H1255.4zM1611.1 1220.8h40.6v7.5H1611.1zM1221.8 1228h20.4v7.5H1221.8zM1255.4 1228h7v7.5H1255.4zM1228.5 1235.2h20.5v7.4H1228.5zM1228.5 1242.3h20.5v7.4H1228.5zM1228.5 1249.4h20.5v7.5H1228.5zM1228.5 1256.6h20.5v7.3H1228.5zM1738.6 1270.7h20.5v7.4H1738.6zM1429.9 1277.8h7v7.4H1429.9zM1738.6 1277.8h20.5v7.4H1738.6zM1423.2 1284.9h7v7.3H1423.2zM1738.6 1284.9h20.5v7.3H1738.6zM1429.9 1291.9h7v7.4H1429.9z"/><path fill="#c9323b" d="M1248.6 732.2h20.5v12.6H1248.6zM1295.6 732.2h47.3v12.6H1295.6zM1832.6 732.2h40.6v12.6H1832.6zM1248.6 744.5h20.5v12.4H1248.6zM1295.6 744.5h47.3v12.4H1295.6zM1832.6 744.5h40.6v12.4H1832.6zM1295.6 756.6h40.6v12.2H1295.6zM1832.6 756.6h40.6v12.2H1832.6zM1295.6 768.5h33.9v12H1295.6zM1825.9 768.5h47.3v12H1825.9zM1295.6 780.2h27.2v11.7H1295.6zM1825.9 780.2h27.1v11.7H1825.9zM1302.3 791.6h20.5v11.5H1302.3zM1825.9 791.6h27.1v11.5H1825.9zM1309.1 802.8h13.7v11.4H1309.1zM1825.9 802.8h20.4v11.4H1825.9zM1309.1 813.9h13.7v11.2H1309.1zM1309.1 824.8h13.7v10.9H1309.1zM1127.8 835.4h7v10.9H1127.8zM1309.1 835.4h7v10.9H1309.1zM1121.1 846h7v10.6H1121.1zM1201.7 846h27.1v10.6H1201.7zM1792.3 846h7v10.6H1792.3zM1121.1 856.3h13.7v10.5H1121.1zM1195 856.3h20.4v10.5H1195zM1785.6 856.3h13.7v10.5H1785.6zM1127.8 866.5h13.8v10.4H1127.8zM1188.2 866.5h20.5v10.4H1188.2zM1778.9 866.5h13.7v10.4H1778.9zM1134.5 876.6h13.8v10.2H1134.5zM1181.5 876.6h20.5v10.2H1181.5zM1752 876.6h33.9v10.2H1752zM1134.5 886.5h13.8v10.1H1134.5zM1174.8 886.5h13.7v10.1H1174.8zM1752 886.5h33.9v10.1H1752zM1134.5 896.3h13.8v10H1134.5zM1785.6 896.3h13.7v10H1785.6zM1785.6 906h27.2v9.8H1785.6zM1785.6 915.5h27.2v9.7H1785.6zM1785.6 924.9h27.2v9.6H1785.6zM1349.3 961.5h27.2v9.2H1349.3zM1288.9 970.4h7v9.1H1288.9zM1349.3 970.4h27.2v9.1H1349.3zM1288.9 979.2h7v9H1288.9zM1376.2 979.2h13.7v9H1376.2zM1288.9 987.9h7v8.9H1288.9zM1403 987.9h20.5v8.9H1403zM1456.7 987.9h7v8.9H1456.7zM1235.2 996.5h20.5v8.9H1235.2zM1235.2 1005.1h33.9v8.7H1235.2zM1235.2 1013.5h40.6v8.7H1235.2zM1235.2 1021.9h40.6v8.6H1235.2zM1235.2 1030.2h33.9v8.5H1235.2zM1235.2 1038.4h27.2v8.5H1235.2zM1275.5 1038.4h7v8.5H1275.5zM1215.1 1046.6h27.1v8.4H1215.1zM1262.1 1046.6h13.7v8.4H1262.1zM1215.1 1054.7h20.4v8.3H1215.1zM1215.1 1062.7h20.4v8.3H1215.1zM1195 1094.3h7v8.1H1195zM1195 1102.1h7v8H1195zM1195 1109.8h7v7.9H1195zM1101 1117.4h40.6v7.9H1101zM1080.8 1125h33.9v7.9H1080.8zM1080.8 1132.6h20.5v7.8H1080.8zM1429.9 1284.9h7v7.3H1429.9z"/><path fill="#da604e" d="M1342.6 732.2h13.7v12.6H1342.6zM1819.2 732.2h13.7v12.6H1819.2zM1342.6 744.5h13.7v12.4H1342.6zM1819.2 744.5h13.7v12.4H1819.2zM1335.9 756.6h7v12.2H1335.9zM1819.2 756.6h13.7v12.2H1819.2zM1335.9 768.5h7v12H1335.9zM1812.5 768.5h13.7v12H1812.5zM1805.7 780.2h20.5v11.7H1805.7zM1295.6 791.6h7v11.5H1295.6zM1456.7 791.6h20.5v11.5H1456.7zM1805.7 791.6h20.5v11.5H1805.7zM1302.3 802.8h7.1v11.4H1302.3zM1456.7 802.8h20.5v11.4H1456.7zM1812.5 802.8h13.7v11.4H1812.5zM1302.3 813.9h7.1v11.2H1302.3zM1456.7 813.9h20.5v11.2H1456.7zM1302.3 824.8h7.1v10.9H1302.3zM1322.5 824.8h13.7v10.9H1322.5zM1463.4 824.8h13.8v10.9H1463.4zM1792.3 824.8h7v10.9H1792.3zM1114.4 835.4h13.7v10.9H1114.4zM1134.5 835.4h13.8v10.9H1134.5zM1188.2 835.4h7.1v10.9H1188.2zM1302.3 835.4h7.1v10.9H1302.3zM1792.3 835.4h13.7v10.9H1792.3zM1114.4 846h7v10.6H1114.4zM1785.6 846h7v10.6H1785.6zM1799 846h7v10.6H1799zM1114.4 856.3h7v10.5H1114.4zM1215.1 856.3h13.7v10.5H1215.1zM1778.9 856.3h7v10.5H1778.9zM1799 856.3h7v10.5H1799zM1114.4 866.5h13.7v10.4H1114.4zM1208.4 866.5h13.7v10.4H1208.4zM1772.2 866.5h7v10.4H1772.2zM1799 866.5h7v10.4H1799zM1114.4 876.6h20.4v10.2H1114.4zM1201.7 876.6h13.7v10.2H1201.7zM1799 876.6h7v10.2H1799zM1114.4 886.5h20.4v10.1H1114.4zM1188.2 886.5h13.8v10.1H1188.2zM1799 886.5h7v10.1H1799zM1114.4 896.3h20.4v10H1114.4zM1174.8 896.3h7v10H1174.8zM1745.3 896.3h7v10H1745.3zM1799 896.3h7v10H1799zM1745.3 906h7v9.8H1745.3zM1745.3 915.5h7v9.7H1745.3zM1550.7 952.5h7v9.3H1550.7zM1523.8 961.5h40.6v9.2H1523.8zM1376.2 970.4h7v9.1H1376.2zM1517.1 970.4h40.6v9.1H1517.1zM1282.2 979.2h7v9H1282.2zM1295.6 979.2h7v9H1295.6zM1389.6 979.2h13.7v9H1389.6zM1510.4 979.2h40.6v9H1510.4zM1275.5 987.9h13.7v8.9H1275.5zM1295.6 987.9h13.8v8.9H1295.6zM1342.6 987.9h7v8.9H1342.6zM1463.4 987.9h7v8.9H1463.4zM1503.7 987.9h40.6v8.9H1503.7zM1255.4 996.5h40.5v8.9H1255.4zM1349.3 996.5h27.2v8.9H1349.3zM1443.3 996.5h13.7v8.9H1443.3zM1503.7 996.5h13.7v8.9H1503.7zM1268.8 1005.1h13.7v8.7H1268.8zM1490.3 1005.1h13.7v8.7H1490.3zM1275.5 1013.5h7v8.7H1275.5zM1490.3 1013.5h13.7v8.7H1490.3zM1275.5 1021.9h7v8.6H1275.5zM1275.5 1030.2h7v8.5H1275.5zM1241.9 1046.6h20.5v8.4H1241.9zM1275.5 1046.6h7v8.4H1275.5zM1235.2 1054.7h27.2v8.3H1235.2zM1235.2 1062.7h13.8v8.3H1235.2zM1195 1070.7h40.5v8.2H1195zM1195 1078.6h27.1v8.2H1195zM1195 1086.5h20.4v8.1H1195zM1201.7 1094.3h13.7v8.1H1201.7zM1201.7 1102.1h7v8H1201.7zM1201.7 1109.8h7v7.9H1201.7zM1268.8 1109.8h13.7v7.9H1268.8zM1141.3 1117.4h54v7.9H1141.3zM1268.8 1117.4h7v7.9H1268.8zM1114.4 1125h13.7v7.9H1114.4zM1101 1132.6h13.7v7.8H1101zM1080.8 1140.1h27.2v7.8H1080.8z"/><path fill="#9dcbe1" d="M1369.5 732.2h7v12.6H1369.5zM1537.3 732.2h7v12.6H1537.3zM1570.8 732.2h13.8v12.6H1570.8zM1658.1 732.2h7v12.6H1658.1zM1369.5 744.5h7v12.4H1369.5zM1537.3 744.5h7v12.4H1537.3zM1570.8 744.5h13.8v12.4H1570.8zM1658.1 744.5h7v12.4H1658.1zM1235.2 756.6h7v12.2H1235.2zM1362.8 756.6h7v12.2H1362.8zM1503.7 756.6h7v12.2H1503.7zM1523.8 756.6h13.8v12.2H1523.8zM1570.8 756.6h27.2v12.2H1570.8zM1658.1 756.6h7v12.2H1658.1zM1235.2 768.5h7v12H1235.2zM1356 768.5h7.1v12H1356zM1503.7 768.5h7v12H1503.7zM1570.8 768.5h80.9v12H1570.8zM1658.1 768.5h7v12H1658.1zM1208.4 780.2h60.7v11.7H1208.4zM1503.7 780.2h7v11.7H1503.7zM1564.1 780.2h20.5v11.7H1564.1zM1658.1 780.2h27.1v11.7H1658.1zM1141.3 791.6h7v11.5H1141.3zM1208.4 791.6h54v11.5H1208.4zM1483.6 791.6h7v11.5H1483.6zM1497 791.6h13.7v11.5H1497zM1141.3 802.8h7v11.4H1141.3zM1215.1 802.8h40.6v11.4H1215.1zM1490.3 802.8h13.7v11.4H1490.3zM1141.3 813.9h7v11.2H1141.3zM1188.2 813.9h13.8v11.2H1188.2zM1221.8 813.9h33.9v11.2H1221.8zM1389.6 813.9h7v11.2H1389.6zM1523.8 813.9h20.5v11.2H1523.8zM1752 813.9h13.8v11.2H1752zM1228.5 824.8h27.2v10.9H1228.5zM1382.9 824.8h13.7v10.9H1382.9zM1523.8 824.8h13.8v10.9H1523.8zM1758.8 824.8h7v10.9H1758.8zM1228.5 835.4h27.2v10.9H1228.5zM1349.3 835.4h13.8v10.9H1349.3zM1376.2 835.4h13.7v10.9H1376.2zM1510.4 835.4h13.7v10.9H1510.4zM1745.3 835.4h7v10.9H1745.3zM1758.8 835.4h7v10.9H1758.8zM1342.6 846h40.6v10.6H1342.6zM1510.4 846h13.7v10.6H1510.4zM1564.1 846h60.7v10.6H1564.1zM1745.3 846h7v10.6H1745.3zM1758.8 846h7v10.6H1758.8zM1335.9 856.3h60.7v10.5H1335.9zM1510.4 856.3h27.2v10.5H1510.4zM1564.1 856.3h60.7v10.5H1564.1zM1315.8 866.5h33.8v10.4H1315.8zM1396.3 866.5h7v10.4H1396.3zM1503.7 866.5h7v10.4H1503.7zM1523.8 866.5h20.5v10.4H1523.8zM1564.1 866.5h27.2v10.4H1564.1zM1597.7 866.5h27.1v10.4H1597.7zM1315.8 876.6h27.1v10.2H1315.8zM1403 876.6h7v10.2H1403zM1497 876.6h13.7v10.2H1497zM1537.3 876.6h13.7v10.2H1537.3zM1564.1 876.6h20.5v10.2H1564.1zM1604.4 876.6h20.4v10.2H1604.4zM1718.5 876.6h20.4v10.2H1718.5zM1812.5 876.6h20.4v10.2H1812.5zM1315.8 886.5h27.1v10.1H1315.8zM1416.4 886.5h13.8v10.1H1416.4zM1503.7 886.5h7v10.1H1503.7zM1523.8 886.5h20.5v10.1H1523.8zM1570.8 886.5h20.5v10.1H1570.8zM1597.7 886.5h27.1v10.1H1597.7zM1725.2 886.5h13.7v10.1H1725.2zM1812.5 886.5h20.4v10.1H1812.5zM1315.8 896.3h27.1v10H1315.8zM1423.2 896.3h7v10H1423.2zM1510.4 896.3h27.2v10H1510.4zM1577.5 896.3h47.3v10H1577.5zM1812.5 896.3h20.4v10H1812.5zM1510.4 906h13.7v9.8H1510.4zM1584.2 906h40.6v9.8H1584.2zM1436.6 915.5h13.7v9.7H1436.6zM1510.4 915.5h7v9.7H1510.4zM1591 915.5h40.5v9.7H1591zM1450 924.9h13.7v9.6H1450zM1597.7 924.9h40.5v9.6H1597.7zM1463.4 934.2h20.5v9.5H1463.4zM1604.4 934.2h40.6v9.5H1604.4zM1335.9 943.4h7v9.4H1335.9zM1382.9 943.4h7v9.4H1382.9zM1463.4 943.4h13.8v9.4H1463.4zM1604.4 943.4h40.6v9.4H1604.4zM1389.6 952.5h7v9.3H1389.6zM1456.7 952.5h13.7v9.3H1456.7zM1604.4 952.5h7v9.3H1604.4zM1617.8 952.5h27.2v9.3H1617.8zM1671.5 952.5h7v9.3H1671.5zM1315.8 961.5h13.7v9.2H1315.8zM1396.3 961.5h13.7v9.2H1396.3zM1456.7 961.5h13.7v9.2H1456.7zM1604.4 961.5h7v9.2H1604.4zM1624.5 961.5h20.5v9.2H1624.5zM1664.8 961.5h20.4v9.2H1664.8zM1322.5 970.4h7v9.1H1322.5zM1423.2 970.4h20.4v9.1H1423.2zM1611.1 970.4h7v9.1H1611.1zM1671.5 970.4h7v9.1H1671.5zM1329.2 979.2h7v9H1329.2zM1329.2 987.9h7v8.9H1329.2zM1329.2 996.5h7v8.9H1329.2zM1329.2 1005.1h7v8.7H1329.2zM1322.5 1013.5h20.4v8.7H1322.5zM1362.8 1013.5h13.7v8.7H1362.8zM1443.3 1013.5h13.7v8.7H1443.3zM1530.6 1013.5h27.1v8.7H1530.6zM1611.1 1013.5h13.7v8.7H1611.1zM1329.2 1021.9h7v8.6H1329.2zM1382.9 1021.9h20.4v8.6H1382.9zM1423.2 1021.9h33.8v8.6H1423.2zM1530.6 1021.9h27.1v8.6H1530.6zM1611.1 1021.9h7v8.6H1611.1zM1423.2 1030.2h20.4v8.5H1423.2zM1510.4 1038.4h13.7v8.5H1510.4zM1866.2 1038.4h13.7v8.5H1866.2zM1510.4 1046.6h7v8.4H1510.4zM1859.4 1046.6h20.5v8.4H1859.4zM1550.7 1054.7h7v8.3H1550.7zM1852.7 1054.7h27.2v8.3H1852.7zM1544 1062.7h20.4v8.3H1544zM1846 1062.7h33.9v8.3H1846zM1852.7 1070.7h13.8v8.2H1852.7zM1241.9 1109.8h13.8v7.9H1241.9zM1241.9 1117.4h13.8v7.9H1241.9zM1235.2 1125h13.8v7.9H1235.2zM1168.1 1132.6h33.9v7.8H1168.1zM1235.2 1132.6h13.8v7.8H1235.2zM1168.1 1140.1h33.9v7.8H1168.1zM1241.9 1140.1h13.8v7.8H1241.9zM1168.1 1147.6h33.9v7.8H1168.1zM1248.6 1147.6h7.1v7.8H1248.6zM1302.3 1147.6h40.6v7.8H1302.3zM1168.1 1155.1h33.9v7.7H1168.1zM1295.6 1155.1h7v7.7H1295.6zM1342.6 1155.1h13.7v7.7H1342.6zM1161.4 1162.5h47.3v7.7H1161.4zM1302.3 1162.5h27.2v7.7H1302.3zM1161.4 1169.9h7v7.7H1161.4zM1174.8 1169.9h40.6v7.7H1174.8zM1591 1169.9h7v7.7H1591zM1154.7 1177.3h13.7v7.6H1154.7zM1181.5 1177.3h40.6v7.6H1181.5zM1584.2 1177.3h20.5v7.6H1584.2zM1154.7 1184.6h60.7v7.6H1154.7zM1577.5 1184.6h27.2v7.6H1577.5zM1148 1191.9h33.8v7.6H1148zM1288.9 1191.9h33.9v7.6H1288.9zM1342.6 1191.9h13.7v7.6H1342.6zM1570.8 1191.9h33.9v7.6H1570.8zM1134.5 1199.2h27.2v7.5H1134.5zM1282.2 1199.2h20.4v7.5H1282.2zM1362.8 1199.2h20.4v7.5H1362.8zM1403 1199.2h20.5v7.5H1403zM1564.1 1199.2h40.6v7.5H1564.1zM1101 1206.4h20.4v7.5H1101zM1134.5 1206.4h27.2v7.5H1134.5zM1282.2 1206.4h13.7v7.5H1282.2zM1382.9 1206.4h7v7.5H1382.9zM1396.3 1206.4h33.9v7.5H1396.3zM1503.7 1206.4h13.7v7.5H1503.7zM1564.1 1206.4h33.9v7.5H1564.1zM1101 1213.6h20.4v7.5H1101zM1141.3 1213.6h20.4v7.5H1141.3zM1181.5 1213.6h13.8v7.5H1181.5zM1275.5 1213.6h13.7v7.5H1275.5zM1389.6 1213.6h47.3v7.5H1389.6zM1490.3 1213.6h40.6v7.5H1490.3zM1544 1213.6h20.4v7.5H1544zM1101 1220.8h20.4v7.5H1101zM1174.8 1220.8h20.5v7.5H1174.8zM1275.5 1220.8h13.7v7.5H1275.5zM1389.6 1220.8h54v7.5H1389.6zM1483.6 1220.8h20.4v7.5H1483.6zM1523.8 1220.8h40.6v7.5H1523.8zM1080.8 1228h20.5v7.5H1080.8zM1148 1228h7v7.5H1148zM1181.5 1228h13.8v7.5H1181.5zM1275.5 1228h13.7v7.5H1275.5zM1436.6 1228h60.7v7.5H1436.6zM1530.6 1228h67.4v7.5H1530.6zM1080.8 1235.2h13.8v7.4H1080.8zM1141.3 1235.2h13.7v7.4H1141.3zM1181.5 1235.2h20.5v7.4H1181.5zM1275.5 1235.2h13.7v7.4H1275.5zM1450 1235.2h33.9v7.4H1450zM1564.1 1235.2h54v7.4H1564.1zM1141.3 1242.3h13.7v7.4H1141.3zM1188.2 1242.3h13.8v7.4H1188.2zM1275.5 1242.3h13.7v7.4H1275.5zM1617.8 1242.3h13.7v7.4H1617.8zM1080.8 1249.4h13.8v7.5H1080.8zM1148 1249.4h7v7.5H1148zM1188.2 1249.4h13.8v7.5H1188.2zM1275.5 1249.4h13.7v7.5H1275.5zM1624.5 1249.4h47.3v7.5H1624.5zM1080.8 1256.6h20.5v7.3H1080.8zM1195 1256.6h13.7v7.3H1195zM1275.5 1256.6h13.7v7.3H1275.5zM1450 1256.6h47.3v7.3H1450zM1631.2 1256.6h40.6v7.3H1631.2zM1101 1263.6h13.7v7.4H1101zM1195 1263.6h13.7v7.4H1195zM1450 1263.6h54v7.4H1450zM1644.7 1263.6h27.1v7.4H1644.7zM1094.3 1270.7h13.7v7.4H1094.3zM1188.2 1270.7h13.8v7.4H1188.2zM1436.6 1270.7h60.7v7.4H1436.6zM1684.9 1270.7h13.8v7.4H1684.9zM1772.2 1270.7h20.4v7.4H1772.2zM1080.8 1277.8h20.5v7.4H1080.8zM1181.5 1277.8h13.8v7.4H1181.5zM1423.2 1277.8h7v7.4H1423.2zM1450 1277.8h40.6v7.4H1450zM1684.9 1277.8h13.8v7.4H1684.9zM1772.2 1277.8h20.4v7.4H1772.2zM1080.8 1284.9h13.8v7.3H1080.8zM1181.5 1284.9h7v7.3H1181.5zM1450 1284.9h33.9v7.3H1450zM1684.9 1284.9h13.8v7.3H1684.9zM1772.2 1284.9h20.4v7.3H1772.2zM1080.8 1291.9h13.8v7.4H1080.8zM1174.8 1291.9h13.7v7.4H1174.8zM1450 1291.9h74.1v7.4H1450zM1678.2 1291.9h27.2v7.4H1678.2zM1725.2 1291.9h7v7.4H1725.2zM1772.2 1291.9h20.4v7.4H1772.2zM1080.8 1299h20.5v7.3H1080.8zM1161.4 1299h20.4v7.3H1161.4zM1436.6 1299h33.8v7.3H1436.6zM1483.6 1299h121.1v7.3H1483.6zM1664.8 1299h60.7v7.3H1664.8zM1738.6 1299h7v7.3H1738.6zM1778.9 1299h13.7v7.3H1778.9zM1080.8 1306h20.5v7.4H1080.8zM1141.3 1306h20.4v7.4H1141.3zM1450 1306h13.7v7.4H1450zM1523.8 1306h181.6v7.4H1523.8zM1745.3 1306h20.5v7.4H1745.3zM1778.9 1306h13.7v7.4H1778.9zM1080.8 1313.1h20.5v7.3H1080.8zM1141.3 1313.1h20.4v7.3H1141.3zM1450 1313.1h13.7v7.3H1450zM1523.8 1313.1h181.6v7.3H1523.8zM1745.3 1313.1h20.5v7.3H1745.3zM1778.9 1313.1h13.7v7.3H1778.9z"/><path fill="#d4e8f1" d="M1564.1 732.2h7v12.6H1564.1zM1731.9 732.2h47.3v12.6H1731.9zM1564.1 744.5h7v12.4H1564.1zM1731.9 744.5h47.3v12.4H1731.9zM1510.4 756.6h13.7v12.2H1510.4zM1537.3 756.6h7v12.2H1537.3zM1564.1 756.6h7v12.2H1564.1zM1664.8 756.6h7v12.2H1664.8zM1241.9 768.5h7.1v12H1241.9zM1349.3 768.5h7v12H1349.3zM1510.4 768.5h13.7v12H1510.4zM1557.4 768.5h13.7v12H1557.4zM1664.8 768.5h33.9v12H1664.8zM1510.4 780.2h7v11.7H1510.4zM1550.7 780.2h13.7v11.7H1550.7zM1584.2 780.2h67.5v11.7H1584.2zM1684.9 780.2h13.8v11.7H1684.9zM1134.5 791.6h7.1v11.5H1134.5zM1262.1 791.6h7v11.5H1262.1zM1403 791.6h7v11.5H1403zM1476.9 791.6h7v11.5H1476.9zM1510.4 791.6h13.7v11.5H1510.4zM1544 791.6h47.3v11.5H1544zM1604.4 791.6h33.8v11.5H1604.4zM1664.8 791.6h27.1v11.5H1664.8zM1134.5 802.8h7.1v11.4H1134.5zM1255.4 802.8h7v11.4H1255.4zM1396.3 802.8h7v11.4H1396.3zM1483.6 802.8h7v11.4H1483.6zM1503.7 802.8h74.1v11.4H1503.7zM1752 802.8h20.5v11.4H1752zM1134.5 813.9h7.1v11.2H1134.5zM1255.4 813.9h7v11.2H1255.4zM1396.3 813.9h7v11.2H1396.3zM1490.3 813.9h33.8v11.2H1490.3zM1544 813.9h20.4v11.2H1544zM1745.3 813.9h7v11.2H1745.3zM1765.5 813.9h13.7v11.2H1765.5zM1148 824.8h33.8v10.9H1148zM1208.4 824.8h20.4v10.9H1208.4zM1255.4 824.8h7v10.9H1255.4zM1342.6 824.8h7v10.9H1342.6zM1396.3 824.8h7v10.9H1396.3zM1503.7 824.8h20.4v10.9H1503.7zM1537.3 824.8h40.5v10.9H1537.3zM1611.1 824.8h13.7v10.9H1611.1zM1745.3 824.8h7v10.9H1745.3zM1765.5 824.8h7v10.9H1765.5zM1255.4 835.4h7v10.9H1255.4zM1342.6 835.4h7v10.9H1342.6zM1389.6 835.4h7v10.9H1389.6zM1503.7 835.4h7v10.9H1503.7zM1523.8 835.4h114.4v10.9H1523.8zM1765.5 835.4h7v10.9H1765.5zM1315.8 846h27.1v10.6H1315.8zM1382.9 846h13.7v10.6H1382.9zM1503.7 846h7v10.6H1503.7zM1523.8 846h40.6v10.6H1523.8zM1624.5 846h20.5v10.6H1624.5zM1738.6 846h7v10.6H1738.6zM1765.5 846h7v10.6H1765.5zM1315.8 856.3h20.4v10.5H1315.8zM1396.3 856.3h7v10.5H1396.3zM1503.7 856.3h7v10.5H1503.7zM1537.3 856.3h27.1v10.5H1537.3zM1624.5 856.3h20.5v10.5H1624.5zM1745.3 856.3h13.8v10.5H1745.3zM1812.5 856.3h20.4v10.5H1812.5zM1403 866.5h7v10.4H1403zM1497 866.5h7v10.4H1497zM1544 866.5h20.4v10.4H1544zM1624.5 866.5h20.5v10.4H1624.5zM1725.2 866.5h13.7v10.4H1725.2zM1812.5 866.5h20.4v10.4H1812.5zM1409.7 876.6h33.9v10.2H1409.7zM1490.3 876.6h7v10.2H1490.3zM1550.7 876.6h13.7v10.2H1550.7zM1624.5 876.6h20.5v10.2H1624.5zM1664.8 876.6h13.7v10.2H1664.8zM1429.9 886.5h13.7v10.1H1429.9zM1497 886.5h7v10.1H1497zM1544 886.5h27.1v10.1H1544zM1624.5 886.5h20.5v10.1H1624.5zM1711.8 886.5h13.7v10.1H1711.8zM1429.9 896.3h13.7v10H1429.9zM1497 896.3h13.7v10H1497zM1537.3 896.3h40.5v10H1537.3zM1624.5 896.3h13.7v10H1624.5zM1705.1 896.3h33.8v10H1705.1zM1208.4 906h20.4v9.8H1208.4zM1429.9 906h13.7v9.8H1429.9zM1503.7 906h7v9.8H1503.7zM1523.8 906h60.8v9.8H1523.8zM1624.5 906h13.7v9.8H1624.5zM1698.4 906h40.5v9.8H1698.4zM1208.4 915.5h20.4v9.7H1208.4zM1450 915.5h13.7v9.7H1450zM1503.7 915.5h7v9.7H1503.7zM1517.1 915.5h20.5v9.7H1517.1zM1577.5 915.5h13.8v9.7H1577.5zM1631.2 915.5h13.8v9.7H1631.2zM1725.2 915.5h13.7v9.7H1725.2zM1208.4 924.9h20.4v9.6H1208.4zM1463.4 924.9h27.2v9.6H1463.4zM1497 924.9h33.9v9.6H1497zM1584.2 924.9h13.8v9.6H1584.2zM1637.9 924.9h13.8v9.6H1637.9zM1483.6 934.2h40.5v9.5H1483.6zM1591 934.2h13.7v9.5H1591zM1644.7 934.2h33.8v9.5H1644.7zM1342.6 943.4h40.6v9.4H1342.6zM1476.9 943.4h13.7v9.4H1476.9zM1597.7 943.4h7v9.4H1597.7zM1644.7 943.4h40.5v9.4H1644.7zM1335.9 952.5h7v9.3H1335.9zM1382.9 952.5h7v9.3H1382.9zM1470.1 952.5h13.8v9.3H1470.1zM1597.7 952.5h7v9.3H1597.7zM1644.7 952.5h27.1v9.3H1644.7zM1678.2 952.5h13.7v9.3H1678.2zM1295.6 961.5h20.5v9.2H1295.6zM1335.9 961.5h7v9.2H1335.9zM1389.6 961.5h7v9.2H1389.6zM1470.1 961.5h7.1v9.2H1470.1zM1644.7 961.5h20.4v9.2H1644.7zM1684.9 961.5h47.3v9.2H1684.9zM1315.8 970.4h7v9.1H1315.8zM1409.7 970.4h13.8v9.1H1409.7zM1443.3 970.4h7v9.1H1443.3zM1604.4 970.4h7v9.1H1604.4zM1617.8 970.4h54v9.1H1617.8zM1678.2 970.4h47.3v9.1H1678.2zM1322.5 979.2h7v9H1322.5zM1644.7 979.2h67.4v9H1644.7zM1322.5 987.9h7v8.9H1322.5zM1651.4 987.9h54v8.9H1651.4zM1322.5 996.5h7v8.9H1322.5zM1651.4 996.5h54v8.9H1651.4zM1758.8 996.5h47.2v8.9H1758.8zM1315.8 1005.1h13.7v8.7H1315.8zM1335.9 1005.1h7v8.7H1335.9zM1382.9 1005.1h47.3v8.7H1382.9zM1544 1005.1h13.7v8.7H1544zM1611.1 1005.1h20.4v8.7H1611.1zM1684.9 1005.1h20.5v8.7H1684.9zM1758.8 1005.1h47.2v8.7H1758.8zM1309.1 1013.5h13.7v8.7H1309.1zM1342.6 1013.5h20.5v8.7H1342.6zM1456.7 1013.5h7v8.7H1456.7zM1523.8 1013.5h7.1v8.7H1523.8zM1557.4 1013.5h7v8.7H1557.4zM1604.4 1013.5h7v8.7H1604.4zM1624.5 1013.5h20.5v8.7H1624.5zM1758.8 1013.5h47.2v8.7H1758.8zM1309.1 1021.9h20.4v8.6H1309.1zM1335.9 1021.9h47.3v8.6H1335.9zM1456.7 1021.9h7v8.6H1456.7zM1523.8 1021.9h7.1v8.6H1523.8zM1557.4 1021.9h7v8.6H1557.4zM1604.4 1021.9h7v8.6H1604.4zM1617.8 1021.9h20.4v8.6H1617.8zM1738.6 1021.9h74.2v8.6H1738.6zM1872.9 1021.9h7v8.6H1872.9zM1309.1 1030.2h40.5v8.5H1309.1zM1389.6 1030.2h33.9v8.5H1389.6zM1443.3 1030.2h20.4v8.5H1443.3zM1510.4 1030.2h54v8.5H1510.4zM1604.4 1030.2h27.1v8.5H1604.4zM1738.6 1030.2h80.9v8.5H1738.6zM1866.2 1030.2h13.7v8.5H1866.2zM1309.1 1038.4h33.8v8.5H1309.1zM1423.2 1038.4h33.8v8.5H1423.2zM1503.7 1038.4h7v8.5H1503.7zM1523.8 1038.4h40.6v8.5H1523.8zM1604.4 1038.4h20.4v8.5H1604.4zM1738.6 1038.4h80.9v8.5H1738.6zM1852.7 1038.4h13.8v8.5H1852.7zM1322.5 1046.6h13.7v8.4H1322.5zM1429.9 1046.6h27.1v8.4H1429.9zM1503.7 1046.6h7v8.4H1503.7zM1517.1 1046.6h54v8.4H1517.1zM1738.6 1046.6h80.9v8.4H1738.6zM1846 1046.6h13.7v8.4H1846zM1503.7 1054.7h47.3v8.3H1503.7zM1557.4 1054.7h20.4v8.3H1557.4zM1738.6 1054.7h87.6v8.3H1738.6zM1839.3 1054.7h13.7v8.3H1839.3zM1510.4 1062.7h33.9v8.3H1510.4zM1564.1 1062.7h20.5v8.3H1564.1zM1738.6 1062.7h33.9v8.3H1738.6zM1819.2 1062.7h27.1v8.3H1819.2zM1503.7 1070.7h80.9v8.2H1503.7zM1738.6 1070.7h33.9v8.2H1738.6zM1819.2 1070.7h33.8v8.2H1819.2zM1866.2 1070.7h13.7v8.2H1866.2zM1497 1078.6h33.9v8.2H1497zM1544 1078.6h40.6v8.2H1544zM1738.6 1078.6h33.9v8.2H1738.6zM1819.2 1078.6h60.7v8.2H1819.2zM1483.6 1086.5h40.5v8.1H1483.6zM1564.1 1086.5h20.5v8.1H1564.1zM1604.4 1086.5h20.4v8.1H1604.4zM1839.3 1086.5h27.2v8.1H1839.3zM1248.6 1094.3h7.1v8.1H1248.6zM1611.1 1094.3h13.7v8.1H1611.1zM1839.3 1094.3h27.2v8.1H1839.3zM1235.2 1102.1h20.5v8H1235.2zM1624.5 1102.1h20.5v8H1624.5zM1839.3 1102.1h27.2v8H1839.3zM1228.5 1109.8h13.7v7.9H1228.5zM1624.5 1109.8h27.2v7.9H1624.5zM1228.5 1117.4h13.7v7.9H1228.5zM1255.4 1117.4h7v7.9H1255.4zM1221.8 1125h13.7v7.9H1221.8zM1255.4 1125h7v7.9H1255.4zM1154.7 1132.6h13.7v7.8H1154.7zM1201.7 1132.6h33.8v7.8H1201.7zM1255.4 1132.6h7v7.8H1255.4zM1154.7 1140.1h13.7v7.8H1154.7zM1201.7 1140.1h40.5v7.8H1201.7zM1255.4 1140.1h7v7.8H1255.4zM1309.1 1140.1h27.1v7.8H1309.1zM1154.7 1147.6h13.7v7.8H1154.7zM1201.7 1147.6h47.3v7.8H1201.7zM1255.4 1147.6h7v7.8H1255.4zM1295.6 1147.6h7v7.8H1295.6zM1342.6 1147.6h13.7v7.8H1342.6zM1443.3 1147.6h20.4v7.8H1443.3zM1154.7 1155.1h13.7v7.7H1154.7zM1201.7 1155.1h54v7.7H1201.7zM1288.9 1155.1h7v7.7H1288.9zM1356 1155.1h7.1v7.7H1356zM1429.9 1155.1h47.3v7.7H1429.9zM1584.2 1155.1h13.8v7.7H1584.2zM1154.7 1162.5h7v7.7H1154.7zM1208.4 1162.5h40.6v7.7H1208.4zM1288.9 1162.5h13.7v7.7H1288.9zM1329.2 1162.5h27.1v7.7H1329.2zM1577.5 1162.5h27.2v7.7H1577.5zM1148 1169.9h13.7v7.7H1148zM1215.1 1169.9h27.1v7.7H1215.1zM1282.2 1169.9h33.9v7.7H1282.2zM1570.8 1169.9h20.5v7.7H1570.8zM1597.7 1169.9h13.7v7.7H1597.7zM1148 1177.3h7v7.6H1148zM1221.8 1177.3h13.7v7.6H1221.8zM1282.2 1177.3h13.7v7.6H1282.2zM1570.8 1177.3h13.8v7.6H1570.8zM1604.4 1177.3h47.3v7.6H1604.4zM1148 1184.6h7v7.6H1148zM1215.1 1184.6h27.1v7.6H1215.1zM1275.5 1184.6h33.9v7.6H1275.5zM1564.1 1184.6h13.7v7.6H1564.1zM1604.4 1184.6h47.3v7.6H1604.4zM1141.3 1191.9h7v7.6H1141.3zM1181.5 1191.9h67.5v7.6H1181.5zM1262.1 1191.9h27.1v7.6H1262.1zM1322.5 1191.9h20.4v7.6H1322.5zM1356 1191.9h33.9v7.6H1356zM1396.3 1191.9h33.9v7.6H1396.3zM1557.4 1191.9h13.7v7.6H1557.4zM1604.4 1191.9h27.1v7.6H1604.4zM1161.4 1199.2h121.1v7.5H1161.4zM1382.9 1199.2h20.4v7.5H1382.9zM1423.2 1199.2h40.5v7.5H1423.2zM1483.6 1199.2h40.5v7.5H1483.6zM1544 1199.2h20.4v7.5H1544zM1604.4 1199.2h20.4v7.5H1604.4zM1080.8 1206.4h20.5v7.5H1080.8zM1161.4 1206.4h60.7v7.5H1161.4zM1262.1 1206.4h20.4v7.5H1262.1zM1389.6 1206.4h7v7.5H1389.6zM1429.9 1206.4h40.5v7.5H1429.9zM1476.9 1206.4h27.1v7.5H1476.9zM1517.1 1206.4h47.3v7.5H1517.1zM1597.7 1206.4h13.7v7.5H1597.7zM1080.8 1213.6h20.5v7.5H1080.8zM1161.4 1213.6h20.4v7.5H1161.4zM1195 1213.6h13.7v7.5H1195zM1268.8 1213.6h7v7.5H1268.8zM1436.6 1213.6h54v7.5H1436.6zM1530.6 1213.6h13.7v7.5H1530.6zM1564.1 1213.6h40.6v7.5H1564.1zM1080.8 1220.8h20.5v7.5H1080.8zM1195 1220.8h13.7v7.5H1195zM1268.8 1220.8h7v7.5H1268.8zM1443.3 1220.8h40.6v7.5H1443.3zM1564.1 1220.8h33.9v7.5H1564.1zM1195 1228h13.7v7.5H1195zM1268.8 1228h7v7.5H1268.8zM1597.7 1228h13.7v7.5H1597.7zM1201.7 1235.2h13.7v7.4H1201.7zM1262.1 1235.2h13.7v7.4H1262.1zM1617.8 1235.2h13.7v7.4H1617.8zM1201.7 1242.3h13.7v7.4H1201.7zM1255.4 1242.3h20.4v7.4H1255.4zM1631.2 1242.3h20.5v7.4H1631.2zM1201.7 1249.4h13.7v7.5H1201.7zM1255.4 1249.4h20.4v7.5H1255.4zM1208.4 1256.6h13.7v7.3H1208.4zM1255.4 1256.6h20.4v7.3H1255.4zM1080.8 1263.6h20.5v7.4H1080.8zM1208.4 1263.6h20.4v7.4H1208.4zM1080.8 1270.7h13.8v7.4H1080.8zM1201.7 1270.7h27.1v7.4H1201.7zM1698.4 1270.7h13.7v7.4H1698.4zM1765.5 1270.7h7v7.4H1765.5zM1195 1277.8h33.8v7.4H1195zM1443.3 1277.8h7v7.4H1443.3zM1698.4 1277.8h13.7v7.4H1698.4zM1765.5 1277.8h7v7.4H1765.5zM1188.2 1284.9h40.6v7.3H1188.2zM1698.4 1284.9h13.7v7.3H1698.4zM1765.5 1284.9h7v7.3H1765.5zM1188.2 1291.9h40.6v7.4H1188.2zM1423.2 1291.9h7v7.4H1423.2zM1443.3 1291.9h7v7.4H1443.3zM1705.1 1291.9h20.4v7.4H1705.1zM1738.6 1291.9h7v7.4H1738.6zM1758.8 1291.9h13.7v7.4H1758.8zM1181.5 1299h47.3v7.3H1181.5zM1429.9 1299h7v7.3H1429.9zM1470.1 1299h13.8v7.3H1470.1zM1745.3 1299h33.9v7.3H1745.3zM1161.4 1306h67.4v7.4H1161.4zM1463.4 1306h60.7v7.4H1463.4zM1765.5 1306h13.7v7.4H1765.5zM1161.4 1313.1h67.4v7.3H1161.4zM1463.4 1313.1h60.7v7.3H1463.4zM1765.5 1313.1h13.7v7.3H1765.5z"/><path fill="#eca283" d="M1711.8 732.2h7v12.6H1711.8zM1805.7 732.2h13.8v12.6H1805.7zM1711.8 744.5h7v12.4H1711.8zM1805.7 744.5h13.8v12.4H1805.7zM1248.6 756.6h20.5v12.2H1248.6zM1342.6 756.6h7v12.2H1342.6zM1711.8 756.6h7v12.2H1711.8zM1799 756.6h20.5v12.2H1799zM1711.8 768.5h13.7v12H1711.8zM1792.3 768.5h20.5v12H1792.3zM1335.9 780.2h7v11.7H1335.9zM1711.8 780.2h33.8v11.7H1711.8zM1785.6 780.2h20.4v11.7H1785.6zM1335.9 791.6h7v11.5H1335.9zM1409.7 791.6h20.5v11.5H1409.7zM1711.8 791.6h27.1v11.5H1711.8zM1792.3 791.6h13.7v11.5H1792.3zM1295.6 802.8h7v11.4H1295.6zM1335.9 802.8h7v11.4H1335.9zM1409.7 802.8h20.5v11.4H1409.7zM1792.3 802.8h20.5v11.4H1792.3zM1295.6 813.9h7v11.2H1295.6zM1335.9 813.9h7v11.2H1335.9zM1409.7 813.9h20.5v11.2H1409.7zM1476.9 813.9h7v11.2H1476.9zM1792.3 813.9h20.5v11.2H1792.3zM1094.3 824.8h40.5v10.9H1094.3zM1295.6 824.8h7v10.9H1295.6zM1409.7 824.8h13.8v10.9H1409.7zM1443.3 824.8h20.4v10.9H1443.3zM1476.9 824.8h7v10.9H1476.9zM1785.6 824.8h7v10.9H1785.6zM1799 824.8h13.8v10.9H1799zM1094.3 835.4h20.4v10.9H1094.3zM1148 835.4h40.5v10.9H1148zM1195 835.4h20.4v10.9H1195zM1282.2 835.4h20.4v10.9H1282.2zM1315.8 835.4h7v10.9H1315.8zM1443.3 835.4h40.6v10.9H1443.3zM1671.5 835.4h7v10.9H1671.5zM1711.8 835.4h7v10.9H1711.8zM1785.6 835.4h7v10.9H1785.6zM1094.3 846h20.4v10.6H1094.3zM1275.5 846h33.9v10.6H1275.5zM1443.3 846h54v10.6H1443.3zM1671.5 846h13.7v10.6H1671.5zM1705.1 846h20.4v10.6H1705.1zM1778.9 846h7v10.6H1778.9zM1094.3 856.3h20.4v10.5H1094.3zM1275.5 856.3h33.9v10.5H1275.5zM1463.4 856.3h13.8v10.5H1463.4zM1705.1 856.3h13.7v10.5H1705.1zM1772.2 856.3h7v10.5H1772.2zM1094.3 866.5h20.4v10.4H1094.3zM1221.8 866.5h7v10.4H1221.8zM1275.5 866.5h33.9v10.4H1275.5zM1711.8 866.5h7v10.4H1711.8zM1758.8 866.5h13.7v10.4H1758.8zM1215.1 876.6h13.7v10.2H1215.1zM1745.3 876.6h7v10.2H1745.3zM1201.7 886.5h20.4v10.1H1201.7zM1745.3 886.5h7v10.1H1745.3zM1181.5 896.3h13.8v10H1181.5zM1805.7 896.3h7.1v10H1805.7zM1745.3 924.9h7v9.6H1745.3zM1550.7 934.2h13.7v9.5H1550.7zM1544 943.4h27.1v9.4H1544zM1349.3 952.5h27.2v9.3H1349.3zM1523.8 952.5h27.2v9.3H1523.8zM1557.4 952.5h20.4v9.3H1557.4zM1342.6 961.5h7v9.2H1342.6zM1376.2 961.5h7v9.2H1376.2zM1490.3 961.5h33.8v9.2H1490.3zM1564.1 961.5h20.5v9.2H1564.1zM1282.2 970.4h7v9.1H1282.2zM1295.6 970.4h7v9.1H1295.6zM1342.6 970.4h7v9.1H1342.6zM1382.9 970.4h7v9.1H1382.9zM1490.3 970.4h27.1v9.1H1490.3zM1557.4 970.4h27.2v9.1H1557.4zM1819.2 970.4h54v9.1H1819.2zM1275.5 979.2h7v9H1275.5zM1302.3 979.2h7.1v9H1302.3zM1342.6 979.2h7v9H1342.6zM1403 979.2h20.5v9H1403zM1436.6 979.2h27.1v9H1436.6zM1483.6 979.2h27.1v9H1483.6zM1550.7 979.2h33.9v9H1550.7zM1819.2 979.2h54v9H1819.2zM1255.4 987.9h20.4v8.9H1255.4zM1309.1 987.9h7v8.9H1309.1zM1470.1 987.9h33.9v8.9H1470.1zM1544 987.9h40.6v8.9H1544zM1819.2 987.9h54v8.9H1819.2zM1295.6 996.5h13.8v8.9H1295.6zM1376.2 996.5h33.8v8.9H1376.2zM1416.4 996.5h27.2v8.9H1416.4zM1456.7 996.5h47.3v8.9H1456.7zM1517.1 996.5h13.8v8.9H1517.1zM1570.8 996.5h7v8.9H1570.8zM1832.6 996.5h33.9v8.9H1832.6zM1282.2 1005.1h13.7v8.7H1282.2zM1476.9 1005.1h13.7v8.7H1476.9zM1503.7 1005.1h13.7v8.7H1503.7zM1839.3 1005.1h27.2v8.7H1839.3zM1282.2 1013.5h7v8.7H1282.2zM1476.9 1013.5h13.7v8.7H1476.9zM1503.7 1013.5h13.7v8.7H1503.7zM1846 1013.5h13.7v8.7H1846zM1282.2 1021.9h7v8.6H1282.2zM1483.6 1021.9h20.4v8.6H1483.6zM1282.2 1030.2h7v8.5H1282.2zM1490.3 1030.2h7v8.5H1490.3zM1282.2 1038.4h7v8.5H1282.2zM1282.2 1046.6h7v8.4H1282.2zM1262.1 1054.7h20.4v8.3H1262.1zM1248.6 1062.7h13.8v8.3H1248.6zM1235.2 1070.7h13.8v8.2H1235.2zM1221.8 1078.6h20.4v8.2H1221.8zM1215.1 1086.5h13.7v8.1H1215.1zM1215.1 1094.3h7v8.1H1215.1zM1268.8 1094.3h13.7v8.1H1268.8zM1208.4 1102.1h7v8H1208.4zM1268.8 1102.1h27.1v8H1268.8zM1208.4 1109.8h7v7.9H1208.4zM1282.2 1109.8h20.4v7.9H1282.2zM1195 1117.4h13.7v7.9H1195zM1275.5 1117.4h20.4v7.9H1275.5zM1127.8 1125h27.2v7.9H1127.8zM1268.8 1125h20.4v7.9H1268.8zM1114.4 1132.6h13.7v7.8H1114.4zM1268.8 1132.6h13.7v7.8H1268.8zM1349.3 1132.6h13.8v7.8H1349.3zM1107.7 1140.1h13.7v7.8H1107.7zM1268.8 1140.1h7v7.8H1268.8zM1080.8 1147.6h33.9v7.8H1080.8zM1101 1169.9h33.8v7.7H1101zM1094.3 1177.3h40.5v7.6H1094.3zM1322.5 1177.3h20.4v7.6H1322.5zM1094.3 1184.6h40.5v7.6H1094.3zM1094.3 1191.9h40.5v7.6H1094.3zM1241.9 1220.8h13.8v7.5H1241.9zM1241.9 1228h13.8v7.5H1241.9zM1248.6 1235.2h7.1v7.4H1248.6zM1436.6 1284.9h7v7.3H1436.6z"/><path fill="#b2182b" d="M1329.2 768.5h7v12H1329.2zM1322.5 780.2h13.7v11.7H1322.5zM1322.5 791.6h13.7v11.5H1322.5zM1322.5 802.8h13.7v11.4H1322.5zM1322.5 813.9h13.7v11.2H1322.5zM1127.8 846h74.2v10.6H1127.8zM1134.5 856.3h60.8v10.5H1134.5zM1141.3 866.5h47.2v10.4H1141.3zM1792.3 866.5h7v10.4H1792.3zM1148 876.6h33.8v10.2H1148zM1785.6 876.6h13.7v10.2H1785.6zM1148 886.5h27.1v10.1H1148zM1785.6 886.5h13.7v10.1H1785.6zM1148 896.3h27.1v10H1148zM1752 896.3h33.9v10H1752zM1752 906h33.9v9.8H1752zM1752 915.5h33.9v9.7H1752zM1752 924.9h33.9v9.6H1752zM1349.3 979.2h27.2v9H1349.3zM1349.3 987.9h54v8.9H1349.3zM1423.2 987.9h33.8v8.9H1423.2zM1268.8 1030.2h7v8.5H1268.8zM1262.1 1038.4h13.7v8.5H1262.1zM1080.8 1094.3h114.5v8.1H1080.8zM1080.8 1102.1h114.5v8H1080.8zM1080.8 1109.8h114.5v7.9H1080.8zM1080.8 1117.4h20.5v7.9H1080.8z"/><path fill="#ffffff" d="M1846 802.8h33.9v11.4H1846zM1846 813.9h33.9v11.2H1846zM1846 824.8h33.9v10.9H1846zM1846 835.4h33.9v10.9H1846zM1846 846h33.9v10.6H1846zM1846 856.3h33.9v10.5H1846zM1846 866.5h33.9v10.4H1846zM1846 876.6h33.9v10.2H1846zM1846 886.5h33.9v10.1H1846zM1846 896.3h33.9v10H1846zM1846 906h33.9v9.8H1846zM1846 915.5h33.9v9.7H1846zM1322.5 1256.6h20.4v7.3H1322.5zM1322.5 1263.6h20.4v7.4H1322.5zM1322.5 1270.7h20.4v7.4H1322.5zM1382.9 1277.8h20.4v7.4H1382.9zM1382.9 1284.9h20.4v7.3H1382.9zM1382.9 1291.9h20.4v7.4H1382.9z"/></g><rect x="1081.0" y="731.9" width="798.6" height="588.2" fill="none" stroke="#000" stroke-width="2.6"/><g transform="translate(908.6 683.3)"><path d="M322.3 66.4 321.5 74.1 327.7 77.1 336.8 75.6 338.4 68.0 330.7 64.1ZM264.7 123.2 269.6 118.3 276.1 115.1 284.3 116.8 295.7 120.8 301.5 115.9 294.9 110.2 285.9 102.9 277.8 96.3 270.4 89.8 267.0 85.0 268.0 85.1 277.1 83.3 287.9 78.7 294.0 72.6 297.8 61.8 295.8 48.6 267.5 48.6 266.4 58.8 261.8 69.5 255.7 77.1 249.6 72.6 246.5 63.4 238.9 60.3 234.3 54.2 231.9 48.6 206.5 48.6 206.0 57.2 200.6 64.9 196.0 74.1 189.9 68.0 186.8 60.3 193.0 54.2 192.2 48.6 172.4 48.6 172.4 521.9 182.2 524.1 193.0 528.7 200.6 525.6 211.3 530.2 223.6 539.4 235.8 542.5 249.6 545.5 255.7 551.6 264.9 563.9 271.0 570.0 277.1 576.1 286.3 579.2 292.5 583.8 300.1 586.8 304.7 585.3 307.8 580.0 313.9 579.2 318.5 585.3 320.0 593.0 321.5 603.7 321.5 615.9 316.9 622.1 307.8 631.2 302.2 636.8 502.7 636.8 502.7 636.1 504.2 633.1 502.7 626.9 501.1 620.8 496.5 613.2 490.4 608.6 481.2 602.5 470.0 599.1 454.7 597.6 448.6 591.4 442.5 585.3 433.3 580.7 430.2 573.1 428.7 563.9 421.0 566.9 414.9 565.4 407.3 566.9 396.5 566.9 384.3 565.4 379.7 563.9 369.0 555.5 362.9 557.8 361.3 566.9 358.3 566.9 356.7 557.8 353.7 556.2 343.0 562.4 335.3 563.9 327.7 576.1 324.6 582.3 315.4 573.1 307.8 571.5 300.1 574.6 292.5 573.1 286.3 571.5 283.3 563.9 278.7 554.7 280.2 542.5 280.2 533.3 277.1 528.7 264.9 527.1 252.7 527.1 246.5 524.1 249.6 518.0 252.7 505.7 255.7 499.6 258.8 488.9 255.7 485.8 246.5 487.4 240.4 490.4 238.9 496.5 234.3 502.7 228.2 507.2 219.0 508.8 209.8 511.8 205.2 508.8 197.6 501.1 191.4 493.5 185.3 484.3 183.8 475.1 185.3 462.9 185.3 450.6 186.8 439.9 191.4 432.2 202.1 424.6 203.7 424.4 215.9 424.4 228.2 422.9 234.3 419.8 235.8 421.3 237.4 429.0 240.4 425.9 243.5 421.3 249.6 418.3 255.7 419.8 264.9 421.3 277.1 425.9 283.3 432.1 287.9 441.2 289.4 450.0 292.5 450.6 295.5 457.5 298.6 460.6 301.6 454.4 302.4 450.0 304.7 450.0 300.1 441.2 295.5 429.0 294.0 418.3 295.5 407.6 300.1 401.4 307.8 395.3 315.4 392.3 324.6 386.1 329.2 380.0 326.1 375.4 332.3 370.8 329.2 363.2 326.1 357.0 327.7 350.9 332.3 346.3 338.4 343.3 343.0 337.1 353.7 334.1 361.3 329.5 369.0 328.0 365.9 324.9 362.9 321.8 369.0 315.7 378.6 306.7 390.7 298.9 402.0 294.5 407.1 292.3 406.3 291.9 405.5 286.7 403.7 280.7 402.9 274.6 405.5 270.3 408.9 266.8 407.2 264.2 401.1 264.2 394.2 266.8 386.4 270.3 378.6 275.5 370.8 280.7 363.0 287.2 359.5 286.7 361.2 285.4 368.2 277.6 375.1 270.3 382.0 264.6 389.8 260.7 393.3 256.4 399.4 253.9 412.4 253.1 425.4 253.9 436.7 253.9 442.7 248.6 449.7 243.8 455.8 242.1 465.3 240.8 463.6 243.4 461.8 245.1 455.8 253.8 451.4 260.7 447.1 267.6 441.9 275.5 442.0 276.4 451.4 279.8 460.1 282.4 468.8 283.3 477.4 284.1 485.2 285.0 486.1 278.1 483.5 269.4 480.9 262.4 477.4 259.8 468.8 255.5 467.0 248.6 467.9 240.8 467.0 236.4 466.2 226.0 462.7 221.7 455.8 215.6 449.7 213.0 442.7 206.9 434.1 202.6 428.0 200.0 425.9 193.8 428.5 189.9 427.2 184.8 422.1 178.5 414.4 168.3 409.3 158.1 406.0 154.0 404.2 154.4 395.0 165.9 387.4 176.6 384.3 173.6 376.6 161.3 375.1 152.1 372.1 146.0 364.4 146.0 359.8 143.0 350.6 136.8 339.9 133.8 329.2 130.7 316.9 132.2 315.4 136.8 317.7 143.0 320.8 152.1 316.9 158.3 316.2 167.5 320.8 176.6 320.8 182.8 324.6 190.4 323.8 198.1 315.4 207.3 306.2 213.4 308.5 224.1 313.1 237.1 304.7 245.5 297.0 236.3 288.6 228.7 288.2 221.0 286.3 210.3 274.1 205.0 261.8 202.7 249.6 194.2 237.4 188.1 228.2 185.8 220.5 188.1 219.7 179.7 215.9 170.5 206.7 168.2 203.7 162.9 205.2 152.1 209.8 143.0 215.9 135.3 220.5 129.2 231.2 121.5 234.3 115.4 236.9 113.4 245.2 112.7 251.6 107.0 253.4 104.7 256.2 97.0 256.9 90.9 258.2 85.1 260.3 84.5 262.3 84.7 259.4 85.1 260.3 92.3 261.1 100.4 260.3 111.0 258.0 116.8 263.1 118.3ZM330.7 51.1 335.3 55.7 346.0 63.4 352.9 75.6 344.5 80.2 346.0 87.9 343.0 95.5 330.7 97.0 316.9 98.6 313.9 103.2 315.4 107.8 323.1 107.8 338.4 109.3 346.0 112.4 353.7 116.9 369.0 124.6 378.2 130.7 388.9 136.5 399.6 136.5 402.4 136.6 395.0 130.7 384.3 123.1 378.2 115.4 387.4 118.5 398.1 123.1 405.7 126.1 408.8 121.5 408.8 112.4 402.7 106.2 393.5 98.6 387.4 92.5 388.9 86.3 396.5 90.9 404.2 97.0 410.3 103.2 414.9 100.1 424.1 90.9 428.7 83.3 422.6 78.7 411.8 71.0 402.7 66.4 393.5 64.9 384.3 60.3 382.8 54.2 387.3 48.6 330.0 48.6ZM280.2 135.3 289.4 133.8 292.5 129.2 286.3 127.7 277.1 130.7ZM309.3 133.8 303.2 132.2 303.2 141.4 307.8 141.4ZM308.5 192.7 303.2 194.2 304.7 202.7 310.1 201.1ZM309.3 447.6 310.8 449.8 316.9 450.6 321.5 454.4 322.3 450.6 318.5 445.3ZM330.0 463.6 329.2 459.0 323.8 456.7 326.1 462.9ZM316.9 471.3 320.8 470.5 319.2 461.3 314.7 459.0 313.9 464.4ZM344.5 478.2 339.9 476.6 341.4 482.0 345.3 482.0ZM287.9 487.4 287.1 483.5 281.7 484.3 283.3 488.1ZM310.8 488.9 316.9 495.0 320.0 498.4 329.2 498.4 339.9 498.8 341.4 496.5 335.3 493.5 326.1 490.4 320.0 485.8 310.8 481.2 301.6 476.6 289.4 473.6 277.1 476.6 269.5 484.3 274.1 485.1 280.2 482.8 286.3 481.2 295.5 481.2 304.7 484.3ZM351.4 491.9 350.6 488.1 345.3 488.9 346.0 492.2ZM326.1 514.1 329.2 511.8 321.5 508.5 313.9 510.3 316.9 513.7ZM489.9 100.1 493.0 110.8 496.0 116.9 502.1 127.7 509.8 139.9 514.4 147.6 523.6 150.6 534.3 152.1 545.0 158.3 551.1 155.2 555.7 143.0 558.0 135.3 555.0 129.2 561.8 121.5 566.4 112.4 568.0 106.2 564.9 101.6 569.5 98.6 577.1 95.5 592.5 94.0 601.6 89.4 612.4 81.7 618.5 75.6 626.1 68.0 635.3 64.9 653.7 60.3 669.0 54.2 679.7 49.6 679.9 48.6 499.1 48.6 499.1 51.1 497.6 60.3 485.3 61.8 480.7 69.5 479.2 84.8 483.8 92.5ZM678.2 103.2 681.2 106.2 687.4 112.4 687.4 116.9 699.6 118.5 714.9 121.5 730.2 113.9 744.0 107.8 748.6 100.1 747.1 95.5 740.9 87.9 730.2 84.8 721.0 87.9 711.8 90.9 702.7 90.9 698.1 95.5 695.0 90.9 688.9 86.3 679.7 87.9 679.7 92.5 676.6 97.0 684.3 97.0 687.4 98.6 681.2 100.1ZM406.3 256.4 408.1 259.8 415.0 262.4 421.9 264.6 426.3 263.3 421.1 259.8 413.3 257.2ZM434.1 295.4 439.7 291.9 438.4 286.7 435.9 283.6 434.1 283.3 429.7 286.7 425.4 290.2 416.7 291.9 409.8 293.7 407.6 292.6 404.6 297.1 399.4 302.3 395.9 308.4 398.5 312.7 408.1 308.4 416.7 304.1 425.4 299.7ZM647.6 354.5 649.0 355.3 653.0 356.1ZM667.7 361.8 671.8 361.8 667.1 360.2ZM729.5 399.8 730.8 398.6 728.2 398.6ZM724.1 400.6 725.5 402.2 728.2 401.4ZM361.3 486.6 360.6 484.0 352.2 484.3 352.9 487.0ZM353.7 511.8 361.3 514.9 367.5 511.8 378.2 511.8 381.2 508.8 373.6 502.7 365.9 498.8 355.2 498.1 346.0 499.6 349.1 502.7 350.6 505.7 346.0 507.2 339.9 508.5 341.4 510.3ZM399.6 508.5 388.9 508.5 388.9 512.8 400.4 512.6ZM429.2 528.2 429.2 524.4 428.7 524.3 428.7 523.8 425.8 524.0 423.1 523.6 423.8 528.2ZM431.7 537.1 432.1 534.5 428.7 534.0 428.7 536.6ZM922.7 87.1 913.8 98.6 906.1 107.5 898.5 117.7 890.8 122.8 885.7 124.1 875.5 134.3 871.7 141.9 873.0 153.4 876.8 159.8 875.5 167.4 878.1 172.6 883.2 175.1 892.1 176.4 901.0 170.0 909.9 164.9 913.8 167.4 918.9 178.9 924.0 191.7 926.5 198.1 929.1 204.4 934.2 204.4 941.8 198.1 949.5 189.1 952.0 172.6 961.0 166.2 964.8 157.2 962.2 149.6 957.1 141.9 959.7 131.7 967.3 124.1 971.0 121.6 971.0 48.6 945.7 48.6 945.7 48.8 941.8 52.7 935.5 60.3 929.1 66.7 925.3 73.1ZM796.4 136.8 799.0 133.0 793.9 131.7 788.8 134.3 790.1 136.8ZM832.1 152.1 828.3 154.7 830.2 158.5 832.8 158.5ZM806.6 204.4 809.2 209.5 814.3 210.8 818.1 214.6 814.3 218.5 809.2 221.0 813.0 223.6 811.7 228.7 805.4 231.2 806.6 236.3 814.3 240.2 814.3 245.3 807.9 249.1 801.5 254.2 804.1 256.7 814.3 254.2 824.5 249.1 833.4 249.1 843.6 247.8 846.2 244.0 851.3 241.4 852.6 232.5 848.7 229.9 842.3 227.4 839.8 221.0 834.7 214.6 829.6 205.7 824.5 200.6 819.4 198.1 821.9 193.0 827.0 186.6 824.5 182.8 816.8 182.8 814.3 180.2 819.4 177.7 819.4 172.6 811.7 171.3 801.5 172.6 796.4 173.8 793.9 177.7 791.3 182.8 800.3 187.9 799.0 195.5 801.5 200.6ZM788.8 236.3 797.7 232.5 800.3 227.4 801.5 218.5 802.8 212.1 799.0 207.0 792.6 205.7 784.9 207.0 778.6 210.8 773.5 215.9 772.2 221.0 773.5 226.1 772.2 232.5 770.9 237.6 778.6 238.9ZM922.7 214.6 912.5 214.6 910.6 204.4 911.9 195.5 909.9 185.3 906.1 182.8 898.5 187.9 893.4 193.0 894.6 203.2 897.2 210.8 897.2 217.2 889.5 221.0 881.9 222.3 873.0 226.1 869.1 233.8 860.2 244.0 847.4 247.9 839.8 254.2 837.2 259.3 827.0 263.2 824.5 267.0 814.3 267.0 807.9 269.5 809.2 274.6 821.9 278.5 827.0 283.6 832.1 291.2 832.1 298.9 829.6 306.5 829.6 314.2 821.9 314.2 814.3 312.9 804.1 312.9 796.4 311.6 786.2 311.6 778.6 316.7 779.8 326.9 778.6 338.4 777.3 348.6 779.8 357.6 779.8 366.5 788.8 366.5 793.9 367.8 799.0 371.6 801.5 374.8 805.4 372.9 814.3 370.3 824.5 367.8 829.6 363.9 837.2 356.3 841.1 353.7 837.2 348.6 841.1 341.0 850.0 332.0 858.9 328.2 860.2 319.3 865.3 314.2 873.0 316.7 880.6 318.0 888.3 311.6 895.9 306.5 903.6 307.8 906.0 308.2 910.7 315.1 914.7 322.8 922.1 327.8 927.5 332.9 935.6 336.2 940.9 341.2 945.6 349.5 948.3 356.1 945.6 359.4 948.3 360.2 951.7 356.1 955.0 351.2 951.7 345.4 955.7 339.6 961.1 342.9 964.4 344.6 964.4 341.2 960.4 337.1 953.7 332.9 947.6 330.4 948.3 327.0 942.3 327.0 934.9 321.1 931.5 313.4 924.8 308.2 922.8 301.3 923.5 296.9 928.8 294.3 932.9 295.2 931.5 299.5 936.2 297.8 940.3 303.9 943.6 309.1 950.3 313.4 957.7 317.7 961.7 321.1 965.8 322.8 969.1 326.1 971.0 326.9 971.0 213.3 963.5 209.5 954.6 210.8 941.8 214.6 931.6 212.1ZM898.6 321.9 898.0 328.7 902.0 331.2 904.0 326.1 904.7 321.1 903.3 317.7ZM905.4 342.9 906.0 335.4 902.0 332.9 898.0 335.4 895.3 337.9 896.6 344.6 896.6 352.0 900.7 351.2 904.7 349.5ZM858.4 347.0 861.1 348.7 863.1 345.4 861.1 343.7 856.4 346.2ZM850.3 352.8 851.0 350.3 849.0 352.0ZM923.5 358.6 924.1 362.6 936.2 367.5 942.3 369.9 941.6 365.1 945.0 356.9 930.2 357.7ZM743.1 437.6 746.9 437.6 750.8 430.7 748.5 428.4 742.4 432.2ZM736.2 440.7 737.8 436.8 731.6 432.2 725.5 435.3 728.6 439.1ZM929.1 400.9 918.9 398.4 911.2 394.5 907.4 390.7 909.9 386.9 911.2 380.5 911.2 372.9 908.7 367.8 903.6 365.2 897.2 366.5 888.3 367.8 878.1 369.0 867.9 367.8 860.2 369.0 850.0 370.3 839.8 372.9 832.1 376.7 821.9 381.8 814.3 380.5 806.6 379.2 802.8 376.7 799.0 380.5 793.9 386.9 784.9 394.5 778.6 399.6 774.7 406.0 773.5 413.7 773.5 420.1 768.4 425.2 760.7 430.3 754.3 434.1 750.5 439.2 745.4 446.8 745.4 450.6 739.3 462.9 733.2 470.5 727.0 481.2 725.5 490.4 730.1 496.5 730.1 502.7 731.6 511.8 730.1 524.1 724.0 534.8 727.0 542.5 728.6 551.6 734.7 556.2 736.2 560.8 742.4 566.9 750.0 574.6 753.1 585.3 760.7 591.4 769.9 597.6 779.1 605.2 788.3 609.8 797.5 605.2 812.8 603.7 825.0 606.7 837.3 600.6 849.5 596.0 866.3 594.5 872.5 599.1 877.1 608.3 889.3 609.8 898.5 609.8 897.0 615.9 903.1 620.5 904.6 628.2 901.5 636.7 901.5 636.8 971.0 636.8 971.0 418.7 967.3 417.5 961.0 413.7 952.0 411.1 943.1 408.6 939.3 403.5Z" fill="#a6a6a6" stroke="#6a6a6a" stroke-width="3.4" stroke-linejoin="round" fill-rule="evenodd"/><path d="M190.5 252.0 193.2 246.5 190.5 237.1 187.8 225.7 178.4 219.0 174.4 222.8 179.1 233.3 185.2 243.7ZM174.4 235.2 172.4 230.2 172.4 242.7 173.7 246.5 177.1 243.7ZM245.7 282.1 250.0 282.9 251.4 285.0 254.3 288.9 260.0 287.1 267.1 287.1 272.9 288.6 271.8 280.7 270.4 275.0 266.4 274.6 263.2 271.4 260.0 267.1 254.3 267.1 248.9 265.4 242.9 270.7 237.1 276.4 230.0 281.4 221.4 286.1 229.3 283.6 233.6 287.1 240.0 283.6ZM278.6 307.1 277.9 312.1 279.3 311.4 282.1 308.6 284.3 312.1 287.1 317.1 290.0 315.7 291.4 311.4 292.1 304.3 293.6 299.3 297.9 302.9 302.9 305.0 305.0 302.9 302.1 298.6 297.9 292.1 288.6 290.0 278.6 290.0 274.3 290.0 270.0 292.1 274.3 295.7 279.3 298.6 280.7 302.1ZM252.9 328.6 256.4 329.3 260.0 324.3 260.7 317.1 261.4 309.3 261.4 302.9 264.3 298.6 268.6 295.7 270.0 292.1 264.3 292.1 255.7 294.3 252.9 298.6 250.0 304.3 250.7 310.0 250.0 317.1 250.7 323.6ZM324.3 315.0 330.0 314.3 330.7 311.4 330.0 306.4 327.1 307.1 321.4 309.3 313.6 310.7 307.9 312.1 305.0 315.7 306.4 317.9 311.4 316.4 317.1 315.7ZM306.4 323.6 311.4 320.0 310.0 317.9 302.9 318.6 295.7 320.7 290.0 323.6 284.3 325.7 278.6 328.6 285.0 330.7 292.1 329.3 299.3 325.7ZM933.7 538.6 927.6 539.4 930.6 545.5 935.2 551.6 941.3 547.0Z" fill="#fff" stroke="#6a6a6a" stroke-width="3.4" stroke-linejoin="round"/></g><line x1="1279.0" y1="1320.1" x2="1279.0" y2="1313.1" stroke="#000" stroke-width="2.6"/><line x1="1279.0" y1="731.9" x2="1279.0" y2="738.9" stroke="#000" stroke-width="2.6"/><line x1="1480.4" y1="1320.1" x2="1480.4" y2="1313.1" stroke="#000" stroke-width="2.6"/><line x1="1480.4" y1="731.9" x2="1480.4" y2="738.9" stroke="#000" stroke-width="2.6"/><line x1="1681.7" y1="1320.1" x2="1681.7" y2="1313.1" stroke="#000" stroke-width="2.6"/><line x1="1681.7" y1="731.9" x2="1681.7" y2="738.9" stroke="#000" stroke-width="2.6"/><line x1="1081.0" y1="1181.1" x2="1088.0" y2="1181.1" stroke="#000" stroke-width="2.6"/><line x1="1879.6" y1="1181.1" x2="1872.6" y2="1181.1" stroke="#000" stroke-width="2.6"/><line x1="1081.0" y1="1026.2" x2="1088.0" y2="1026.2" stroke="#000" stroke-width="2.6"/><line x1="1879.6" y1="1026.2" x2="1872.6" y2="1026.2" stroke="#000" stroke-width="2.6"/><line x1="1081.0" y1="840.9" x2="1088.0" y2="840.9" stroke="#000" stroke-width="2.6"/><line x1="1879.6" y1="840.9" x2="1872.6" y2="840.9" stroke="#000" stroke-width="2.6"/><text x="1480.3" y="719.8" text-anchor="middle" font-weight="bold" font-size="48" textLength="691" lengthAdjust="spacing">d. SSS anomaly (August 2023)</text><text x="1287.0" y="1381.3" font-size="48" text-anchor="middle">70<tspan font-size="28.5" dy="-24.3">O</tspan><tspan dy="24.3">W</tspan></text><text x="1488.4" y="1381.3" font-size="48" text-anchor="middle">40<tspan font-size="28.5" dy="-24.3">O</tspan><tspan dy="24.3">W</tspan></text><text x="1689.7" y="1381.3" font-size="48" text-anchor="middle">10<tspan font-size="28.5" dy="-24.3">O</tspan><tspan dy="24.3">W</tspan></text><rect x="1923.5" y="437.5" width="38.0" height="57.3" fill="#b2182b"/><rect x="1923.5" y="494.5" width="38.0" height="57.3" fill="#c9323b"/><rect x="1923.5" y="551.4" width="38.0" height="57.3" fill="#da604e"/><rect x="1923.5" y="608.4" width="38.0" height="57.3" fill="#eca283"/><rect x="1923.5" y="665.3" width="38.0" height="57.3" fill="#f7d8c8"/><rect x="1923.5" y="722.3" width="38.0" height="57.3" fill="#f8ece6"/><rect x="1923.5" y="779.2" width="38.0" height="57.3" fill="#d4e8f1"/><rect x="1923.5" y="836.2" width="38.0" height="57.3" fill="#9dcbe1"/><rect x="1923.5" y="893.2" width="38.0" height="57.3" fill="#5ca0cb"/><rect x="1923.5" y="950.1" width="38.0" height="57.3" fill="#4683c0"/><rect x="1923.5" y="1007.1" width="38.0" height="57.3" fill="#3765ae"/><rect x="1923.5" y="1064.0" width="38.0" height="57.3" fill="#1b3565"/><line x1="1923.5" y1="494.5" x2="1961.5" y2="494.5" stroke="#262626" stroke-width="2"/><line x1="1923.5" y1="551.4" x2="1961.5" y2="551.4" stroke="#262626" stroke-width="2"/><line x1="1923.5" y1="608.4" x2="1961.5" y2="608.4" stroke="#262626" stroke-width="2"/><line x1="1923.5" y1="665.3" x2="1961.5" y2="665.3" stroke="#262626" stroke-width="2"/><line x1="1923.5" y1="722.3" x2="1961.5" y2="722.3" stroke="#262626" stroke-width="2"/><line x1="1923.5" y1="779.2" x2="1961.5" y2="779.2" stroke="#262626" stroke-width="2"/><line x1="1923.5" y1="836.2" x2="1961.5" y2="836.2" stroke="#262626" stroke-width="2"/><line x1="1923.5" y1="893.2" x2="1961.5" y2="893.2" stroke="#262626" stroke-width="2"/><line x1="1923.5" y1="950.1" x2="1961.5" y2="950.1" stroke="#262626" stroke-width="2"/><line x1="1923.5" y1="1007.1" x2="1961.5" y2="1007.1" stroke="#262626" stroke-width="2"/><line x1="1923.5" y1="1064.0" x2="1961.5" y2="1064.0" stroke="#262626" stroke-width="2"/><rect x="1923.5" y="437.5" width="38.0" height="683.5" fill="none" stroke="#262626" stroke-width="2.4"/><text x="1976" y="454.5" font-size="48" fill="#262626">&gt;0.6</text><text x="1976" y="568.4" font-size="48" fill="#262626">0.4</text><text x="1976" y="682.3" font-size="48" fill="#262626">0.2</text><text x="1976" y="796.2" font-size="48" fill="#262626">0</text><text x="1976" y="910.2" font-size="48" fill="#262626">-0.2</text><text x="1976" y="1024.1" font-size="48" fill="#262626">-0.4</text><text x="1976" y="1138.0" font-size="48" fill="#262626">&lt;-0.6</text><text transform="translate(2154 780) rotate(-90)" text-anchor="middle" font-size="48" fill="#262626">[ g kg<tspan font-size="35" dy="-25">-1</tspan><tspan dy="25">&#160; ]</tspan></text><line x1="327.3" y1="1463.2" x2="327.3" y2="2003.0" stroke="#e6e6e6" stroke-width="2"/><line x1="482.6" y1="1463.2" x2="482.6" y2="2003.0" stroke="#e6e6e6" stroke-width="2"/><line x1="637.8" y1="1463.2" x2="637.8" y2="2003.0" stroke="#e6e6e6" stroke-width="2"/><line x1="793.0" y1="1463.2" x2="793.0" y2="2003.0" stroke="#e6e6e6" stroke-width="2"/><line x1="948.2" y1="1463.2" x2="948.2" y2="2003.0" stroke="#e6e6e6" stroke-width="2"/><line x1="1103.5" y1="1463.2" x2="1103.5" y2="2003.0" stroke="#e6e6e6" stroke-width="2"/><line x1="1258.7" y1="1463.2" x2="1258.7" y2="2003.0" stroke="#e6e6e6" stroke-width="2"/><line x1="1413.9" y1="1463.2" x2="1413.9" y2="2003.0" stroke="#e6e6e6" stroke-width="2"/><line x1="1569.1" y1="1463.2" x2="1569.1" y2="2003.0" stroke="#e6e6e6" stroke-width="2"/><line x1="1724.4" y1="1463.2" x2="1724.4" y2="2003.0" stroke="#e6e6e6" stroke-width="2"/><line x1="172.1" y1="1617.4" x2="1879.6" y2="1617.4" stroke="#e6e6e6" stroke-width="2"/><line x1="172.1" y1="1771.7" x2="1879.6" y2="1771.7" stroke="#e6e6e6" stroke-width="2"/><line x1="172.1" y1="1925.9" x2="1879.6" y2="1925.9" stroke="#e6e6e6" stroke-width="2"/><g clip-path="url(#clipP)" fill="none" stroke-linejoin="round"><polyline points="172.1,1711.2 327.3,1713.1 482.6,1764.7 637.8,1771.3 793.0,1779.7 948.2,1793.1 1103.5,1836.0 1258.7,1796.5 1413.9,1790.6 1569.1,1794.2 1724.4,1811.1 1879.6,1791.9" stroke="#2f6db8" stroke-width="4.4"/><polyline points="172.1,1851.9 327.3,1847.2 482.6,1880.9 637.8,1879.3 793.0,1805.9 948.2,1817.3 1103.5,1810.5 1258.7,1816.8 1413.9,1826.9 1569.1,1811.0 1724.4,1881.0 1879.6,1821.0" stroke="#3a79c3" stroke-width="4.4"/><polyline points="172.1,1773.0 327.3,1763.8 482.6,1802.2 637.8,1816.1 793.0,1756.5 948.2,1734.3 1103.5,1749.4 1258.7,1739.9 1413.9,1776.6 1569.1,1866.8 1724.4,1785.4 1879.6,1802.0" stroke="#2b63ad" stroke-width="4.4"/><polyline points="172.1,1668.5 327.3,1650.6 482.6,1625.1 637.8,1632.7 793.0,1674.0 948.2,1667.7 1103.5,1695.2 1258.7,1671.7 1413.9,1660.5 1569.1,1655.2 1724.4,1673.0 1879.6,1658.6" stroke="#8fc2df" stroke-width="4.4"/><polyline points="172.1,1787.1 327.3,1802.3 482.6,1790.6 637.8,1778.6 793.0,1739.1 948.2,1703.3 1103.5,1689.3 1258.7,1666.0 1413.9,1674.6 1569.1,1687.0 1724.4,1689.6 1879.6,1714.4" stroke="#8fc2df" stroke-width="4.4"/><polyline points="172.1,1748.2 327.3,1694.1 482.6,1708.0 637.8,1713.7 793.0,1719.5 948.2,1751.6 1103.5,1828.4 1258.7,1790.8 1413.9,1746.8 1569.1,1715.1 1724.4,1727.4 1879.6,1760.1" stroke="#9ccae2" stroke-width="4.4"/><polyline points="172.1,1763.8 327.3,1726.3 482.6,1691.5 637.8,1719.8 793.0,1733.7 948.2,1729.1 1103.5,1715.8 1258.7,1726.0 1413.9,1704.6 1569.1,1702.1 1724.4,1723.2 1879.6,1763.5" stroke="#a9d0e5" stroke-width="4.4"/><polyline points="172.1,1783.8 327.3,1809.6 482.6,1774.4 637.8,1716.8 793.0,1725.1 948.2,1766.1 1103.5,1766.3 1258.7,1778.6 1413.9,1811.4 1569.1,1825.2 1724.4,1827.6 1879.6,1834.0" stroke="#24579f" stroke-width="4.4"/><polyline points="172.1,1731.7 327.3,1721.8 482.6,1784.1 637.8,1746.4 793.0,1708.1 948.2,1720.3 1103.5,1756.5 1258.7,1764.9 1413.9,1780.6 1569.1,1819.3 1724.4,1834.0 1879.6,1856.2" stroke="#4b92ca" stroke-width="4.4"/><polyline points="172.1,1739.6 327.3,1730.2 482.6,1723.8 637.8,1651.2 793.0,1627.6 948.2,1664.8 1103.5,1692.1 1258.7,1705.2 1413.9,1697.8 1569.1,1708.3 1724.4,1682.4 1879.6,1656.3" stroke="#a9d0e5" stroke-width="4.4"/><polyline points="172.1,1823.0 327.3,1797.0 482.6,1777.7 637.8,1752.7 793.0,1748.2 948.2,1746.4 1103.5,1740.5 1258.7,1748.8 1413.9,1724.3 1569.1,1737.4 1724.4,1706.7 1879.6,1730.9" stroke="#5a9fd0" stroke-width="4.4"/><polyline points="172.1,1793.2 327.3,1824.9 482.6,1850.3 637.8,1825.5 793.0,1789.7 948.2,1823.8 1103.5,1887.9 1258.7,1873.0 1413.9,1817.5 1569.1,1883.5 1724.4,1782.3 1879.6,1838.0" stroke="#3b7cc4" stroke-width="4.4"/><polyline points="172.1,1790.2 327.3,1765.6 482.6,1794.0 637.8,1811.8 793.0,1775.5 948.2,1749.0 1103.5,1760.7 1258.7,1781.4 1413.9,1762.1 1569.1,1726.8 1724.4,1755.6 1879.6,1848.2" stroke="#5a9fd0" stroke-width="4.4"/><polyline points="172.1,1843.2 327.3,1834.4 482.6,1884.1 637.8,1875.3 793.0,1802.5 948.2,1777.5 1103.5,1743.9 1258.7,1759.2 1413.9,1751.0 1569.1,1806.8 1724.4,1817.5 1879.6,1798.8" stroke="#2f6db8" stroke-width="4.4"/><polyline points="172.1,1745.1 327.3,1748.5 482.6,1811.1 637.8,1833.0 793.0,1912.0 948.2,1870.4 1103.5,1846.9 1258.7,1811.3 1413.9,1757.6 1569.1,1752.5 1724.4,1792.2 1879.6,1841.4" stroke="#2b63ad" stroke-width="4.4"/><polyline points="172.1,1675.6 327.3,1660.6 482.6,1714.4 637.8,1737.7 793.0,1744.2 948.2,1725.5 1103.5,1711.7 1258.7,1735.6 1413.9,1742.4 1569.1,1785.8 1724.4,1823.5 1879.6,1887.2" stroke="#77b5da" stroke-width="4.4"/><polyline points="172.1,1778.0 327.3,1793.4 482.6,1771.2 637.8,1775.5 793.0,1729.2 948.2,1743.7 1103.5,1753.9 1258.7,1731.7 1413.9,1729.2 1569.1,1747.9 1724.4,1744.1 1879.6,1728.6" stroke="#77b5da" stroke-width="4.4"/><polyline points="172.1,1768.4 327.3,1782.6 482.6,1819.3 637.8,1839.2 793.0,1809.9 948.2,1807.1 1103.5,1805.0 1258.7,1785.1 1413.9,1793.7 1569.1,1798.3 1724.4,1739.9 1879.6,1767.0" stroke="#24579f" stroke-width="4.4"/><polyline points="172.1,1829.3 327.3,1816.8 482.6,1761.5 637.8,1808.7 793.0,1771.3 948.2,1774.9 1103.5,1815.9 1258.7,1807.0 1413.9,1823.5 1569.1,1760.9 1724.4,1759.8 1879.6,1770.4" stroke="#2b63ad" stroke-width="4.4"/><polyline points="172.1,1693.2 327.3,1683.1 482.6,1660.1 637.8,1707.5 793.0,1698.9 948.2,1662.2 1103.5,1673.7 1258.7,1677.1 1413.9,1623.9 1569.1,1680.7 1724.4,1621.7 1879.6,1692.4" stroke="#a9d0e5" stroke-width="4.4"/><polyline points="172.1,1688.5 327.3,1709.3 482.6,1676.3 637.8,1680.4 793.0,1682.2 948.2,1676.2 1103.5,1681.9 1258.7,1681.4 1413.9,1680.5 1569.1,1673.3 1724.4,1686.5 1879.6,1710.0" stroke="#8fc2df" stroke-width="4.4"/><polyline points="172.1,1833.8 327.3,1789.7 482.6,1798.8 637.8,1792.3 793.0,1786.5 948.2,1787.1 1103.5,1825.6 1258.7,1823.3 1413.9,1830.7 1569.1,1790.0 1724.4,1769.2 1879.6,1717.5" stroke="#2f6db8" stroke-width="4.4"/><polyline points="172.1,1780.8 327.3,1786.2 482.6,1787.4 637.8,1786.0 793.0,1815.8 948.2,1811.1 1103.5,1920.5 1258.7,1885.8 1413.9,1898.4 1569.1,1765.0 1724.4,1761.9 1879.6,1777.4" stroke="#1d4a8f" stroke-width="4.4"/><polyline points="172.1,1862.8 327.3,1865.3 482.6,1885.8 637.8,1896.0 793.0,1936.8 948.2,1835.0 1103.5,1821.5 1258.7,1852.0 1413.9,1839.7 1569.1,1815.1 1724.4,1776.0 1879.6,1809.6" stroke="#3a79c3" stroke-width="4.4"/><polyline points="172.1,1743.6 327.3,1705.8 482.6,1748.5 637.8,1758.9 793.0,1716.8 948.2,1722.9 1103.5,1735.1 1258.7,1706.7 1413.9,1739.4 1569.1,1742.7 1724.4,1765.0 1879.6,1733.7" stroke="#6aaed8" stroke-width="4.4"/><polyline points="172.1,1701.6 327.3,1775.4 482.6,1780.9 637.8,1781.7 793.0,1752.4 948.2,1771.3 1103.5,1799.0 1258.7,1802.2 1413.9,1805.4 1569.1,1756.7 1724.4,1731.6 1879.6,1773.8" stroke="#5a9fd0" stroke-width="4.4"/><polyline points="172.1,1678.5 327.3,1677.7 482.6,1645.0 637.8,1670.2 793.0,1693.5 948.2,1697.0 1103.5,1703.5 1258.7,1717.4 1413.9,1710.4 1569.1,1693.3 1724.4,1693.6 1879.6,1679.3" stroke="#b3d5e8" stroke-width="4.4"/><polyline points="172.1,1752.4 327.3,1778.9 482.6,1803.7 637.8,1805.4 793.0,1799.7 948.2,1797.7 1103.5,1792.9 1258.7,1772.9 1413.9,1767.8 1569.1,1776.7 1724.4,1802.5 1879.6,1795.4" stroke="#24579f" stroke-width="4.4"/><polyline points="172.1,1716.0 327.3,1716.6 482.6,1711.2 637.8,1659.2 793.0,1713.5 948.2,1741.1 1103.5,1732.2 1258.7,1761.9 1413.9,1773.5 1569.1,1773.5 1724.4,1806.7 1879.6,1740.7" stroke="#9ccae2" stroke-width="4.4"/><polyline points="172.1,1776.4 327.3,1739.3 482.6,1751.8 637.8,1698.1 793.0,1679.6 948.2,1699.6 1103.5,1719.8 1258.7,1720.1 1413.9,1735.3 1569.1,1697.9 1724.4,1697.8 1879.6,1724.0" stroke="#a9d0e5" stroke-width="4.4"/><polyline points="172.1,1670.9 327.3,1671.4 482.6,1626.7 637.8,1639.0 793.0,1676.8 948.2,1684.5 1103.5,1699.3 1258.7,1700.4 1413.9,1685.3 1569.1,1644.6 1724.4,1661.4 1879.6,1654.0" stroke="#b3d5e8" stroke-width="4.4"/><polyline points="172.1,1806.8 327.3,1770.9 482.6,1758.2 637.8,1796.2 793.0,1795.1 948.2,1760.9 1103.5,1770.9 1258.7,1767.6 1413.9,1786.6 1569.1,1781.7 1724.4,1772.9 1879.6,1804.4" stroke="#24579f" stroke-width="4.4"/><polyline points="172.1,1709.7 327.3,1702.1 482.6,1742.8 637.8,1802.3 793.0,1761.5 948.2,1846.9 1103.5,1801.7 1258.7,1844.8 1413.9,1854.8 1569.1,1769.2 1724.4,1735.7 1879.6,1782.5" stroke="#2f6db8" stroke-width="4.4"/><polyline points="172.1,1684.7 327.3,1688.7 482.6,1731.7 637.8,1694.1 793.0,1703.0 948.2,1691.0 1103.5,1707.5 1258.7,1711.8 1413.9,1719.8 1569.1,1721.1 1724.4,1749.4 1879.6,1754.4" stroke="#9ccae2" stroke-width="4.4"/><polyline points="172.1,1673.3 327.3,1652.4 482.6,1629.0 637.8,1645.0 793.0,1652.3 948.2,1717.7 1103.5,1737.7 1258.7,1744.2 1413.9,1753.9 1569.1,1778.9 1724.4,1797.4 1879.6,1829.5" stroke="#9ccae2" stroke-width="4.4"/><polyline points="172.1,1723.8 327.3,1744.8 482.6,1736.6 637.8,1725.2 793.0,1767.0 948.2,1755.6 1103.5,1774.9 1258.7,1728.8 1413.9,1635.0 1569.1,1619.6 1724.4,1641.6 1879.6,1664.3" stroke="#b3d5e8" stroke-width="4.4"/><polyline points="172.1,1727.5 327.3,1758.5 482.6,1768.0 637.8,1859.1 793.0,1822.6 948.2,1790.5 1103.5,1783.2 1258.7,1754.5 1413.9,1715.4 1569.1,1732.2 1724.4,1717.1 1879.6,1788.3" stroke="#6aaed8" stroke-width="4.4"/><polyline points="172.1,1758.5 327.3,1698.6 482.6,1704.7 637.8,1765.0 793.0,1783.7 948.2,1803.0 1103.5,1865.9 1258.7,1834.9 1413.9,1799.6 1569.1,1802.7 1724.4,1788.6 1879.6,1747.4" stroke="#4b92ca" stroke-width="4.4"/><polyline points="172.1,1819.9 327.3,1752.1 482.6,1755.0 637.8,1689.6 793.0,1722.3 948.2,1738.5 1103.5,1724.0 1258.7,1723.1 1413.9,1690.2 1569.1,1665.7 1724.4,1663.4 1879.6,1651.7" stroke="#a9d0e5" stroke-width="4.4"/><polyline points="172.1,1681.6 327.3,1673.3 482.6,1632.2 637.8,1643.5 793.0,1686.7 948.2,1711.0 1103.5,1728.2 1258.7,1688.8 1413.9,1618.7 1569.1,1632.1 1724.4,1664.5 1879.6,1702.7" stroke="#8fc2df" stroke-width="4.4"/><polyline points="172.1,1826.1 327.3,1821.6 482.6,1827.3 637.8,1799.3 793.0,1861.3 948.2,1782.0 1103.5,1796.2 1258.7,1861.6 1413.9,1878.8 1569.1,1846.0 1724.4,1779.2 1879.6,1719.8" stroke="#3a79c3" stroke-width="4.4"/><polyline points="172.1,1838.6 327.3,1826.7 482.6,1875.1 637.8,1886.7 793.0,1927.3 948.2,1858.6 1103.5,1954.7 1258.7,1880.1 1413.9,1916.5 1569.1,1900.1 1724.4,1928.0 1879.6,1921.6" stroke="#3a79c3" stroke-width="4.4"/><polyline points="172.1,1810.2 327.3,1757.8 482.6,1723.8 637.8,1731.6 793.0,1763.2 948.2,1830.3 1103.5,1844.1 1258.7,1799.4 1413.9,1801.0 1569.1,1749.1 1724.4,1728.8 1879.6,1696.7" stroke="#f05123" stroke-width="14"/></g><rect x="172.1" y="1463.2" width="1707.5" height="539.8" fill="none" stroke="#262626" stroke-width="3"/><line x1="327.3" y1="2003.0" x2="327.3" y2="1984.0" stroke="#262626" stroke-width="3"/><line x1="327.3" y1="1463.2" x2="327.3" y2="1482.2" stroke="#262626" stroke-width="3"/><line x1="482.6" y1="2003.0" x2="482.6" y2="1984.0" stroke="#262626" stroke-width="3"/><line x1="482.6" y1="1463.2" x2="482.6" y2="1482.2" stroke="#262626" stroke-width="3"/><line x1="637.8" y1="2003.0" x2="637.8" y2="1984.0" stroke="#262626" stroke-width="3"/><line x1="637.8" y1="1463.2" x2="637.8" y2="1482.2" stroke="#262626" stroke-width="3"/><line x1="793.0" y1="2003.0" x2="793.0" y2="1984.0" stroke="#262626" stroke-width="3"/><line x1="793.0" y1="1463.2" x2="793.0" y2="1482.2" stroke="#262626" stroke-width="3"/><line x1="948.2" y1="2003.0" x2="948.2" y2="1984.0" stroke="#262626" stroke-width="3"/><line x1="948.2" y1="1463.2" x2="948.2" y2="1482.2" stroke="#262626" stroke-width="3"/><line x1="1103.5" y1="2003.0" x2="1103.5" y2="1984.0" stroke="#262626" stroke-width="3"/><line x1="1103.5" y1="1463.2" x2="1103.5" y2="1482.2" stroke="#262626" stroke-width="3"/><line x1="1258.7" y1="2003.0" x2="1258.7" y2="1984.0" stroke="#262626" stroke-width="3"/><line x1="1258.7" y1="1463.2" x2="1258.7" y2="1482.2" stroke="#262626" stroke-width="3"/><line x1="1413.9" y1="2003.0" x2="1413.9" y2="1984.0" stroke="#262626" stroke-width="3"/><line x1="1413.9" y1="1463.2" x2="1413.9" y2="1482.2" stroke="#262626" stroke-width="3"/><line x1="1569.1" y1="2003.0" x2="1569.1" y2="1984.0" stroke="#262626" stroke-width="3"/><line x1="1569.1" y1="1463.2" x2="1569.1" y2="1482.2" stroke="#262626" stroke-width="3"/><line x1="1724.4" y1="2003.0" x2="1724.4" y2="1984.0" stroke="#262626" stroke-width="3"/><line x1="1724.4" y1="1463.2" x2="1724.4" y2="1482.2" stroke="#262626" stroke-width="3"/><line x1="172.1" y1="1617.4" x2="191.1" y2="1617.4" stroke="#262626" stroke-width="3"/><line x1="1879.6" y1="1617.4" x2="1860.6" y2="1617.4" stroke="#262626" stroke-width="3"/><line x1="172.1" y1="1771.7" x2="191.1" y2="1771.7" stroke="#262626" stroke-width="3"/><line x1="1879.6" y1="1771.7" x2="1860.6" y2="1771.7" stroke="#262626" stroke-width="3"/><line x1="172.1" y1="1925.9" x2="191.1" y2="1925.9" stroke="#262626" stroke-width="3"/><line x1="1879.6" y1="1925.9" x2="1860.6" y2="1925.9" stroke="#262626" stroke-width="3"/><text x="154.5" y="1480.2" text-anchor="end" font-size="48">0.2</text><text x="154.5" y="1634.4" text-anchor="end" font-size="48">0.1</text><text x="154.5" y="1788.7" text-anchor="end" font-size="48">0</text><text x="154.5" y="1942.9" text-anchor="end" font-size="48">-0.1</text><text x="172.1" y="2063.6" text-anchor="middle" font-size="48" fill="#262626">Jan.</text><text x="327.3" y="2063.6" text-anchor="middle" font-size="48" fill="#262626">Feb.</text><text x="482.6" y="2063.6" text-anchor="middle" font-size="48" fill="#262626">Mar.</text><text x="637.8" y="2063.6" text-anchor="middle" font-size="48" fill="#262626">Apr.</text><text x="793.0" y="2063.6" text-anchor="middle" font-size="48" fill="#262626">May</text><text x="948.2" y="2063.6" text-anchor="middle" font-size="48" fill="#262626">Jun.</text><text x="1103.5" y="2063.6" text-anchor="middle" font-size="48" fill="#262626">Jul.</text><text x="1258.7" y="2063.6" text-anchor="middle" font-size="48" fill="#262626">Aug.</text><text x="1413.9" y="2063.6" text-anchor="middle" font-size="48" fill="#262626">Sep.</text><text x="1569.1" y="2063.6" text-anchor="middle" font-size="48" fill="#262626">Oct.</text><text x="1724.4" y="2063.6" text-anchor="middle" font-size="48" fill="#262626">Nov.</text><text x="1879.6" y="2063.6" text-anchor="middle" font-size="48" fill="#262626">Dec.</text><text x="1025.9" y="1450.8" text-anchor="middle" font-weight="bold" font-size="48" textLength="963" lengthAdjust="spacing">e. North Atlantic SSS anomaly: 1981-2023</text><text transform="translate(52.8 1733.6) rotate(-90)" text-anchor="middle" font-size="48" fill="#000">[ g kg<tspan font-size="35" dy="-25">-1</tspan><tspan dy="25">&#160; ]</tspan></text><line x1="201.8" y1="1518.6" x2="275" y2="1518.6" stroke="#2b5aa6" stroke-width="4.4"/><text x="284" y="1535.4" font-size="48">1981-2022</text><line x1="201.8" y1="1580.7" x2="275" y2="1580.7" stroke="#f05123" stroke-width="14"/><text x="284" y="1597.5" font-size="48">2023</text></svg></body></html>
